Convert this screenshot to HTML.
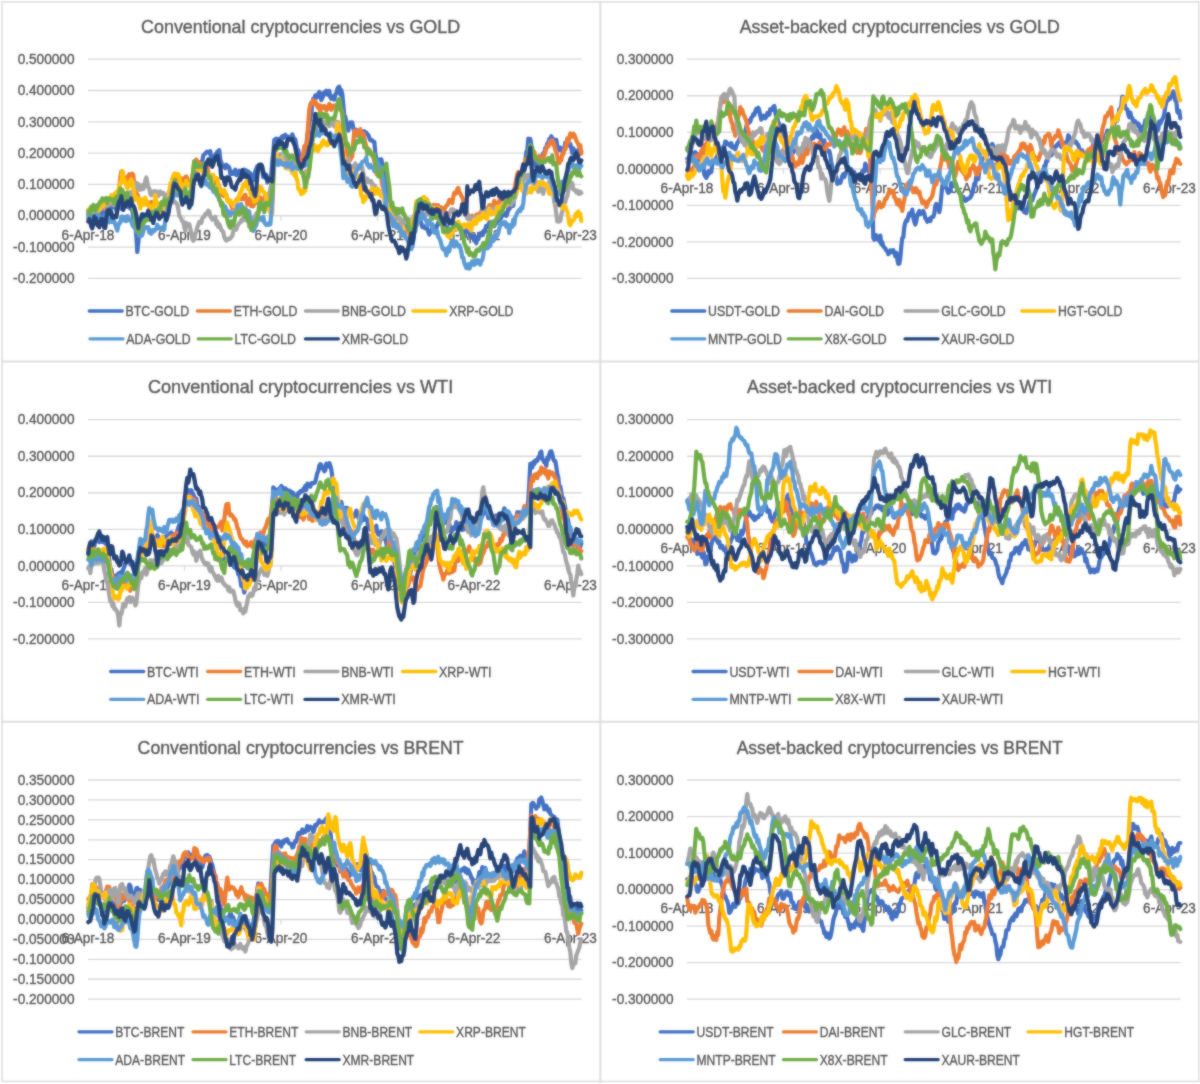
<!DOCTYPE html><html><head><meta charset="utf-8"><style>html,body{margin:0;padding:0;background:#fff;overflow:hidden;}svg{display:block;}text{font-family:"Liberation Sans", sans-serif;fill:#595959;stroke:#5f5f5f;stroke-width:0.4px;}</style></head><body>
<svg width="1200" height="1084" viewBox="0 0 1200 1084">
<defs><filter id="bl" filterUnits="userSpaceOnUse" x="0" y="0" width="1200" height="1084"><feGaussianBlur in="SourceGraphic" stdDeviation="0.9" result="b"/><feComposite in="SourceGraphic" in2="b" operator="arithmetic" k1="0" k2="0.5" k3="0.5" k4="0"/></filter></defs>
<rect width="1200" height="1084" fill="#fff"/>
<g filter="url(#bl)">
<text x="300.6" y="32.9" font-size="17.8" text-anchor="middle" textLength="319" lengthAdjust="spacingAndGlyphs">Conventional cryptocurrencies vs GOLD</text>
<line x1="88" x2="581.5" y1="59.2" y2="59.2" stroke="#d9d9d9" stroke-width="1.3"/>
<text x="74.5" y="63.9" font-size="14.2" textLength="56.86" lengthAdjust="spacingAndGlyphs" text-anchor="end">0.500000</text>
<line x1="88" x2="581.5" y1="90.51" y2="90.51" stroke="#d9d9d9" stroke-width="1.3"/>
<text x="74.5" y="95.21" font-size="14.2" textLength="56.86" lengthAdjust="spacingAndGlyphs" text-anchor="end">0.400000</text>
<line x1="88" x2="581.5" y1="121.83" y2="121.83" stroke="#d9d9d9" stroke-width="1.3"/>
<text x="74.5" y="126.53" font-size="14.2" textLength="56.86" lengthAdjust="spacingAndGlyphs" text-anchor="end">0.300000</text>
<line x1="88" x2="581.5" y1="153.14" y2="153.14" stroke="#d9d9d9" stroke-width="1.3"/>
<text x="74.5" y="157.84" font-size="14.2" textLength="56.86" lengthAdjust="spacingAndGlyphs" text-anchor="end">0.200000</text>
<line x1="88" x2="581.5" y1="184.46" y2="184.46" stroke="#d9d9d9" stroke-width="1.3"/>
<text x="74.5" y="189.16" font-size="14.2" textLength="56.86" lengthAdjust="spacingAndGlyphs" text-anchor="end">0.100000</text>
<line x1="88" x2="581.5" y1="215.77" y2="215.77" stroke="#d9d9d9" stroke-width="1.3"/>
<text x="74.5" y="220.47" font-size="14.2" textLength="56.86" lengthAdjust="spacingAndGlyphs" text-anchor="end">0.000000</text>
<line x1="88" x2="581.5" y1="247.09" y2="247.09" stroke="#d9d9d9" stroke-width="1.3"/>
<text x="74.5" y="251.79" font-size="14.2" textLength="61.4" lengthAdjust="spacingAndGlyphs" text-anchor="end">-0.100000</text>
<line x1="88" x2="581.5" y1="278.4" y2="278.4" stroke="#d9d9d9" stroke-width="1.3"/>
<text x="74.5" y="283.1" font-size="14.2" textLength="61.4" lengthAdjust="spacingAndGlyphs" text-anchor="end">-0.200000</text>
<line x1="88" x2="88" y1="215.77" y2="220.77" stroke="#d9d9d9" stroke-width="1.3"/>
<text x="88" y="239.57" font-size="14.2" textLength="52.76" lengthAdjust="spacingAndGlyphs" text-anchor="middle">6-Apr-18</text>
<line x1="184.5" x2="184.5" y1="215.77" y2="220.77" stroke="#d9d9d9" stroke-width="1.3"/>
<text x="184.5" y="239.57" font-size="14.2" textLength="52.76" lengthAdjust="spacingAndGlyphs" text-anchor="middle">6-Apr-19</text>
<line x1="281" x2="281" y1="215.77" y2="220.77" stroke="#d9d9d9" stroke-width="1.3"/>
<text x="281" y="239.57" font-size="14.2" textLength="52.76" lengthAdjust="spacingAndGlyphs" text-anchor="middle">6-Apr-20</text>
<line x1="377.5" x2="377.5" y1="215.77" y2="220.77" stroke="#d9d9d9" stroke-width="1.3"/>
<text x="377.5" y="239.57" font-size="14.2" textLength="52.76" lengthAdjust="spacingAndGlyphs" text-anchor="middle">6-Apr-21</text>
<line x1="474" x2="474" y1="215.77" y2="220.77" stroke="#d9d9d9" stroke-width="1.3"/>
<text x="474" y="239.57" font-size="14.2" textLength="52.76" lengthAdjust="spacingAndGlyphs" text-anchor="middle">6-Apr-22</text>
<line x1="570.5" x2="570.5" y1="215.77" y2="220.77" stroke="#d9d9d9" stroke-width="1.3"/>
<text x="570.5" y="239.57" font-size="14.2" textLength="52.76" lengthAdjust="spacingAndGlyphs" text-anchor="middle">6-Apr-23</text>
<path d="M88.3 218.1 L89.3 213.1 L90.3 213.8 L91.3 215.8 L92.3 212.9 L93.3 214.3 L94.3 214.7 L95.3 212.4 L96.3 210.8 L97.3 213.5 L98.3 215.1 L99.3 211.4 L100.3 211.3 L101.3 215.1 L102.3 210.5 L103.3 209.8 L104.3 215.5 L105.3 207.4 L106.3 211.2 L107.3 205.3 L108.3 207.3 L109.3 211.6 L110.3 211.0 L111.3 206.2 L112.3 206.2 L113.3 207.0 L114.3 203.9 L115.3 207.1 L116.3 210.5 L117.3 203.0 L118.3 200.6 L119.3 205.2 L120.3 204.8 L121.3 208.8 L122.3 205.0 L123.3 204.9 L124.3 204.6 L125.3 202.9 L126.3 206.2 L127.3 202.3 L128.3 207.2 L129.3 205.3 L130.3 208.6 L131.3 208.8 L132.3 210.2 L133.3 218.3 L134.3 218.4 L135.3 226.6 L136.3 235.8 L137.3 252.0 L138.3 242.7 L139.3 231.3 L140.3 226.6 L141.3 224.5 L142.3 217.2 L143.3 219.8 L144.3 221.0 L145.3 219.8 L146.3 216.7 L147.3 214.0 L148.3 216.7 L149.3 212.9 L150.3 217.2 L151.3 213.5 L152.3 211.9 L153.3 212.5 L154.3 212.0 L155.3 212.5 L156.3 212.2 L157.3 212.9 L158.3 214.3 L159.3 215.2 L160.3 211.7 L161.3 211.6 L162.3 212.7 L163.3 211.8 L164.3 209.5 L165.3 202.5 L166.3 207.5 L167.3 200.3 L168.3 203.0 L169.3 194.3 L170.3 192.0 L171.3 191.1 L172.3 189.9 L173.3 187.4 L174.3 189.1 L175.3 182.8 L176.3 187.0 L177.3 182.2 L178.3 185.8 L179.3 184.4 L180.3 183.6 L181.3 188.8 L182.3 194.5 L183.3 191.7 L184.3 193.2 L185.3 193.8 L186.3 194.2 L187.3 196.0 L188.3 196.4 L189.3 196.1 L190.3 194.4 L191.3 193.2 L192.3 186.4 L193.3 181.3 L194.3 176.0 L195.3 170.8 L196.3 170.8 L197.3 167.7 L198.3 168.5 L199.3 167.4 L200.3 165.5 L201.3 161.6 L202.3 160.9 L203.3 155.4 L204.3 154.3 L205.3 153.6 L206.3 152.1 L207.3 151.7 L208.3 152.0 L209.3 153.2 L210.3 151.2 L211.3 160.3 L212.3 158.2 L213.3 158.6 L214.3 158.0 L215.3 154.5 L216.3 153.7 L217.3 151.8 L218.3 152.9 L219.3 150.2 L220.3 160.0 L221.3 162.2 L222.3 166.5 L223.3 166.3 L224.3 165.8 L225.3 168.2 L226.3 164.7 L227.3 166.8 L228.3 166.3 L229.3 167.7 L230.3 173.8 L231.3 174.0 L232.3 171.8 L233.3 173.7 L234.3 172.5 L235.3 169.7 L236.3 175.1 L237.3 174.3 L238.3 172.8 L239.3 170.8 L240.3 178.2 L241.3 175.6 L242.3 174.0 L243.3 169.8 L244.3 169.6 L245.3 173.3 L246.3 170.5 L247.3 172.8 L248.3 171.4 L249.3 174.6 L250.3 173.2 L251.3 175.2 L252.3 176.6 L253.3 180.1 L254.3 176.3 L255.3 171.1 L256.3 168.9 L257.3 166.2 L258.3 165.6 L259.3 164.8 L260.3 169.2 L261.3 169.4 L262.3 170.3 L263.3 177.1 L264.3 173.4 L265.3 177.3 L266.3 174.8 L267.3 182.4 L268.3 177.7 L269.3 177.5 L270.3 179.6 L271.3 174.5 L272.3 161.1 L273.3 152.6 L274.3 140.1 L275.3 139.1 L276.3 138.6 L277.3 141.0 L278.3 139.0 L279.3 138.9 L280.3 142.1 L281.3 137.6 L282.3 136.3 L283.3 138.2 L284.3 135.8 L285.3 134.7 L286.3 136.8 L287.3 137.3 L288.3 136.8 L289.3 138.7 L290.3 139.2 L291.3 139.6 L292.3 134.3 L293.3 136.9 L294.3 140.6 L295.3 139.6 L296.3 145.2 L297.3 150.8 L298.3 150.1 L299.3 156.9 L300.3 161.9 L301.3 157.3 L302.3 160.1 L303.3 162.7 L304.3 152.7 L305.3 149.5 L306.3 146.7 L307.3 134.7 L308.3 130.4 L309.3 127.8 L310.3 118.5 L311.3 112.9 L312.3 104.4 L313.3 98.5 L314.3 99.2 L315.3 95.4 L316.3 97.7 L317.3 97.3 L318.3 93.6 L319.3 91.9 L320.3 93.6 L321.3 100.2 L322.3 97.9 L323.3 96.1 L324.3 92.1 L325.3 92.2 L326.3 90.7 L327.3 94.4 L328.3 94.7 L329.3 90.8 L330.3 97.2 L331.3 98.8 L332.3 96.5 L333.3 96.4 L334.3 99.6 L335.3 94.6 L336.3 92.9 L337.3 89.2 L338.3 87.1 L339.3 86.7 L340.3 94.6 L341.3 90.0 L342.3 94.1 L343.3 104.4 L344.3 115.6 L345.3 116.9 L346.3 122.0 L347.3 125.2 L348.3 130.6 L349.3 124.9 L350.3 122.5 L351.3 124.1 L352.3 122.5 L353.3 128.4 L354.3 131.1 L355.3 130.9 L356.3 129.8 L357.3 135.7 L358.3 133.6 L359.3 131.7 L360.3 131.9 L361.3 131.1 L362.3 133.6 L363.3 135.2 L364.3 131.2 L365.3 134.6 L366.3 132.4 L367.3 134.5 L368.3 134.9 L369.3 137.9 L370.3 140.3 L371.3 140.5 L372.3 140.3 L373.3 141.8 L374.3 141.8 L375.3 152.3 L376.3 158.7 L377.3 161.1 L378.3 162.7 L379.3 159.6 L380.3 164.7 L381.3 159.2 L382.3 163.9 L383.3 170.1 L384.3 172.4 L385.3 175.4 L386.3 180.9 L387.3 194.7 L388.3 205.6 L389.3 205.1 L390.3 209.9 L391.3 214.0 L392.3 221.0 L393.3 218.0 L394.3 219.0 L395.3 218.7 L396.3 218.3 L397.3 218.4 L398.3 222.2 L399.3 221.4 L400.3 219.9 L401.3 222.6 L402.3 221.3 L403.3 225.1 L404.3 225.2 L405.3 225.2 L406.3 226.2 L407.3 238.1 L408.3 237.5 L409.3 243.3 L410.3 240.2 L411.3 244.3 L412.3 246.6 L413.3 239.7 L414.3 231.5 L415.3 223.2 L416.3 219.2 L417.3 221.9 L418.3 221.6 L419.3 220.2 L420.3 220.4 L421.3 223.3 L422.3 226.8 L423.3 226.7 L424.3 227.9 L425.3 228.3 L426.3 225.3 L427.3 228.7 L428.3 231.8 L429.3 234.5 L430.3 231.7 L431.3 231.0 L432.3 228.4 L433.3 231.5 L434.3 230.9 L435.3 226.5 L436.3 228.4 L437.3 225.2 L438.3 222.4 L439.3 223.8 L440.3 222.3 L441.3 222.0 L442.3 223.0 L443.3 224.2 L444.3 223.3 L445.3 231.5 L446.3 231.8 L447.3 227.4 L448.3 231.3 L449.3 231.7 L450.3 231.4 L451.3 235.2 L452.3 233.4 L453.3 229.4 L454.3 230.2 L455.3 226.3 L456.3 229.5 L457.3 228.5 L458.3 227.6 L459.3 228.1 L460.3 230.0 L461.3 232.1 L462.3 237.1 L463.3 233.7 L464.3 230.9 L465.3 231.0 L466.3 230.4 L467.3 230.0 L468.3 232.5 L469.3 232.1 L470.3 236.8 L471.3 236.1 L472.3 235.5 L473.3 237.3 L474.3 240.5 L475.3 236.7 L476.3 243.3 L477.3 239.2 L478.3 239.3 L479.3 236.4 L480.3 233.3 L481.3 234.2 L482.3 235.1 L483.3 231.1 L484.3 232.4 L485.3 228.9 L486.3 225.7 L487.3 225.4 L488.3 227.1 L489.3 222.1 L490.3 225.4 L491.3 224.0 L492.3 221.8 L493.3 222.6 L494.3 226.2 L495.3 223.9 L496.3 223.3 L497.3 220.4 L498.3 217.0 L499.3 220.5 L500.3 220.2 L501.3 217.2 L502.3 215.6 L503.3 215.2 L504.3 214.3 L505.3 213.2 L506.3 215.9 L507.3 214.0 L508.3 207.2 L509.3 209.1 L510.3 206.6 L511.3 202.1 L512.3 206.1 L513.3 205.7 L514.3 196.0 L515.3 196.7 L516.3 191.7 L517.3 188.0 L518.3 181.9 L519.3 178.7 L520.3 176.9 L521.3 172.9 L522.3 169.4 L523.3 167.2 L524.3 164.1 L525.3 160.7 L526.3 152.0 L527.3 150.3 L528.3 138.6 L529.3 141.6 L530.3 139.0 L531.3 145.1 L532.3 151.4 L533.3 155.1 L534.3 162.1 L535.3 165.8 L536.3 162.4 L537.3 161.5 L538.3 166.8 L539.3 167.0 L540.3 164.5 L541.3 156.0 L542.3 159.5 L543.3 153.2 L544.3 153.5 L545.3 147.9 L546.3 147.6 L547.3 143.5 L548.3 142.9 L549.3 139.0 L550.3 139.8 L551.3 136.2 L552.3 139.2 L553.3 139.0 L554.3 145.2 L555.3 143.9 L556.3 139.8 L557.3 146.0 L558.3 150.5 L559.3 147.5 L560.3 147.6 L561.3 148.8 L562.3 151.4 L563.3 149.4 L564.3 148.6 L565.3 142.7 L566.3 143.1 L567.3 141.2 L568.3 142.9 L569.3 145.7 L570.3 143.8 L571.3 148.5 L572.3 153.3 L573.3 148.3 L574.3 150.5 L575.3 152.7 L576.3 153.5 L577.3 150.3 L578.3 155.7 L579.3 153.8 L580.3 152.4 L581.3 151.4" fill="none" stroke="#4472C4" stroke-width="4.2" stroke-linejoin="round" stroke-linecap="round"/>
<path d="M88.3 214.4 L89.3 214.7 L90.3 211.5 L91.3 209.2 L92.3 208.1 L93.3 210.0 L94.3 207.8 L95.3 206.4 L96.3 209.4 L97.3 209.0 L98.3 209.3 L99.3 205.7 L100.3 206.7 L101.3 206.1 L102.3 202.5 L103.3 205.9 L104.3 205.2 L105.3 209.0 L106.3 204.2 L107.3 202.4 L108.3 204.2 L109.3 201.3 L110.3 201.6 L111.3 198.0 L112.3 198.0 L113.3 198.8 L114.3 197.6 L115.3 195.8 L116.3 192.7 L117.3 195.1 L118.3 193.3 L119.3 186.6 L120.3 177.7 L121.3 171.4 L122.3 171.1 L123.3 176.1 L124.3 181.8 L125.3 179.8 L126.3 178.9 L127.3 176.8 L128.3 180.0 L129.3 174.2 L130.3 175.4 L131.3 175.4 L132.3 173.6 L133.3 175.0 L134.3 186.0 L135.3 189.6 L136.3 196.2 L137.3 194.1 L138.3 197.5 L139.3 203.2 L140.3 206.0 L141.3 200.4 L142.3 199.8 L143.3 202.4 L144.3 204.3 L145.3 203.5 L146.3 204.0 L147.3 201.6 L148.3 205.0 L149.3 206.7 L150.3 204.0 L151.3 201.9 L152.3 203.1 L153.3 206.4 L154.3 201.5 L155.3 204.5 L156.3 202.9 L157.3 204.5 L158.3 204.6 L159.3 205.8 L160.3 209.7 L161.3 208.4 L162.3 210.8 L163.3 208.5 L164.3 208.2 L165.3 208.1 L166.3 198.2 L167.3 200.1 L168.3 197.7 L169.3 191.5 L170.3 191.5 L171.3 186.3 L172.3 179.1 L173.3 180.4 L174.3 176.3 L175.3 174.1 L176.3 174.6 L177.3 179.7 L178.3 179.5 L179.3 181.1 L180.3 183.6 L181.3 178.4 L182.3 183.7 L183.3 178.8 L184.3 180.8 L185.3 177.2 L186.3 176.5 L187.3 178.3 L188.3 185.2 L189.3 185.2 L190.3 184.3 L191.3 186.3 L192.3 176.5 L193.3 170.7 L194.3 161.8 L195.3 162.7 L196.3 159.4 L197.3 161.9 L198.3 161.8 L199.3 162.8 L200.3 166.5 L201.3 165.5 L202.3 166.4 L203.3 167.8 L204.3 167.8 L205.3 164.0 L206.3 169.5 L207.3 167.0 L208.3 172.1 L209.3 178.3 L210.3 175.3 L211.3 175.5 L212.3 177.6 L213.3 178.4 L214.3 179.4 L215.3 178.7 L216.3 183.4 L217.3 184.4 L218.3 183.8 L219.3 187.1 L220.3 190.5 L221.3 193.8 L222.3 195.0 L223.3 196.0 L224.3 194.6 L225.3 193.2 L226.3 194.7 L227.3 199.4 L228.3 201.6 L229.3 201.9 L230.3 202.2 L231.3 205.5 L232.3 208.6 L233.3 208.2 L234.3 203.9 L235.3 204.8 L236.3 200.4 L237.3 198.8 L238.3 199.6 L239.3 197.6 L240.3 198.2 L241.3 199.0 L242.3 198.2 L243.3 199.1 L244.3 195.3 L245.3 194.6 L246.3 198.8 L247.3 204.7 L248.3 201.4 L249.3 198.7 L250.3 202.3 L251.3 206.1 L252.3 202.2 L253.3 206.4 L254.3 201.8 L255.3 203.5 L256.3 200.8 L257.3 197.8 L258.3 201.0 L259.3 197.3 L260.3 197.3 L261.3 203.5 L262.3 198.9 L263.3 203.9 L264.3 198.8 L265.3 195.3 L266.3 196.2 L267.3 195.7 L268.3 194.8 L269.3 193.0 L270.3 194.6 L271.3 184.1 L272.3 177.8 L273.3 169.4 L274.3 164.5 L275.3 156.9 L276.3 159.6 L277.3 158.2 L278.3 159.1 L279.3 161.9 L280.3 161.7 L281.3 163.8 L282.3 159.8 L283.3 161.2 L284.3 163.2 L285.3 162.9 L286.3 160.2 L287.3 163.0 L288.3 159.0 L289.3 164.6 L290.3 162.2 L291.3 161.9 L292.3 163.1 L293.3 164.9 L294.3 167.4 L295.3 164.1 L296.3 163.8 L297.3 166.2 L298.3 162.2 L299.3 158.6 L300.3 162.1 L301.3 158.5 L302.3 159.9 L303.3 153.7 L304.3 146.0 L305.3 148.9 L306.3 145.9 L307.3 137.4 L308.3 122.8 L309.3 109.4 L310.3 104.5 L311.3 102.5 L312.3 103.2 L313.3 100.3 L314.3 104.0 L315.3 101.6 L316.3 103.1 L317.3 106.5 L318.3 108.2 L319.3 105.3 L320.3 111.3 L321.3 105.9 L322.3 107.9 L323.3 107.9 L324.3 106.1 L325.3 106.4 L326.3 110.3 L327.3 109.2 L328.3 108.6 L329.3 103.9 L330.3 105.6 L331.3 109.8 L332.3 108.2 L333.3 105.6 L334.3 106.0 L335.3 105.6 L336.3 106.4 L337.3 104.6 L338.3 106.5 L339.3 104.8 L340.3 110.2 L341.3 109.4 L342.3 113.0 L343.3 129.3 L344.3 138.3 L345.3 149.5 L346.3 152.6 L347.3 153.7 L348.3 159.2 L349.3 160.8 L350.3 159.9 L351.3 157.6 L352.3 156.2 L353.3 142.0 L354.3 130.9 L355.3 131.1 L356.3 130.9 L357.3 134.7 L358.3 135.7 L359.3 135.4 L360.3 129.0 L361.3 136.7 L362.3 135.5 L363.3 133.7 L364.3 137.3 L365.3 142.8 L366.3 146.2 L367.3 148.5 L368.3 148.9 L369.3 150.1 L370.3 153.2 L371.3 152.9 L372.3 153.1 L373.3 157.0 L374.3 161.5 L375.3 166.1 L376.3 173.8 L377.3 168.0 L378.3 172.1 L379.3 172.2 L380.3 174.0 L381.3 179.3 L382.3 185.3 L383.3 188.4 L384.3 193.3 L385.3 197.5 L386.3 205.3 L387.3 213.7 L388.3 216.1 L389.3 220.0 L390.3 220.7 L391.3 220.5 L392.3 222.4 L393.3 220.6 L394.3 219.5 L395.3 219.3 L396.3 224.3 L397.3 223.0 L398.3 223.9 L399.3 227.2 L400.3 225.1 L401.3 231.1 L402.3 230.3 L403.3 228.6 L404.3 229.1 L405.3 233.8 L406.3 231.4 L407.3 234.1 L408.3 237.5 L409.3 236.1 L410.3 232.4 L411.3 229.8 L412.3 224.7 L413.3 221.0 L414.3 220.0 L415.3 215.0 L416.3 208.6 L417.3 211.9 L418.3 203.5 L419.3 206.2 L420.3 206.7 L421.3 206.8 L422.3 204.6 L423.3 202.9 L424.3 204.3 L425.3 202.7 L426.3 205.4 L427.3 200.0 L428.3 207.7 L429.3 207.3 L430.3 210.5 L431.3 209.4 L432.3 208.3 L433.3 205.0 L434.3 205.9 L435.3 204.9 L436.3 206.5 L437.3 206.3 L438.3 205.2 L439.3 212.4 L440.3 211.9 L441.3 207.3 L442.3 214.4 L443.3 210.1 L444.3 210.1 L445.3 207.6 L446.3 205.7 L447.3 205.3 L448.3 203.3 L449.3 199.8 L450.3 201.6 L451.3 201.7 L452.3 203.1 L453.3 196.8 L454.3 192.8 L455.3 192.5 L456.3 193.4 L457.3 189.1 L458.3 187.8 L459.3 192.3 L460.3 193.4 L461.3 195.8 L462.3 197.3 L463.3 200.7 L464.3 205.7 L465.3 209.6 L466.3 211.2 L467.3 214.8 L468.3 217.2 L469.3 219.2 L470.3 219.3 L471.3 216.5 L472.3 215.7 L473.3 219.6 L474.3 218.2 L475.3 217.8 L476.3 214.6 L477.3 215.8 L478.3 214.6 L479.3 213.5 L480.3 213.5 L481.3 211.2 L482.3 213.8 L483.3 215.6 L484.3 210.9 L485.3 211.3 L486.3 207.9 L487.3 210.4 L488.3 212.2 L489.3 205.0 L490.3 205.5 L491.3 208.1 L492.3 206.0 L493.3 205.3 L494.3 200.7 L495.3 204.2 L496.3 206.5 L497.3 206.8 L498.3 204.3 L499.3 200.6 L500.3 199.1 L501.3 196.5 L502.3 197.9 L503.3 202.6 L504.3 200.5 L505.3 197.2 L506.3 201.5 L507.3 194.8 L508.3 199.4 L509.3 195.6 L510.3 195.7 L511.3 195.5 L512.3 193.7 L513.3 194.8 L514.3 189.5 L515.3 184.6 L516.3 179.8 L517.3 174.0 L518.3 172.0 L519.3 174.6 L520.3 173.7 L521.3 173.9 L522.3 175.8 L523.3 169.6 L524.3 166.1 L525.3 159.5 L526.3 159.0 L527.3 162.3 L528.3 157.4 L529.3 154.0 L530.3 155.2 L531.3 151.2 L532.3 153.4 L533.3 153.1 L534.3 151.8 L535.3 158.2 L536.3 159.7 L537.3 157.9 L538.3 159.0 L539.3 155.8 L540.3 158.1 L541.3 158.5 L542.3 159.7 L543.3 158.7 L544.3 155.2 L545.3 152.3 L546.3 148.7 L547.3 146.3 L548.3 146.3 L549.3 144.0 L550.3 141.5 L551.3 143.5 L552.3 140.4 L553.3 142.3 L554.3 145.7 L555.3 150.2 L556.3 152.1 L557.3 155.8 L558.3 162.6 L559.3 163.1 L560.3 160.3 L561.3 160.1 L562.3 154.1 L563.3 154.3 L564.3 149.2 L565.3 149.5 L566.3 145.3 L567.3 138.4 L568.3 142.2 L569.3 138.1 L570.3 133.5 L571.3 136.8 L572.3 136.7 L573.3 133.6 L574.3 134.8 L575.3 137.3 L576.3 140.7 L577.3 142.3 L578.3 144.4 L579.3 147.3 L580.3 145.2 L581.3 153.6" fill="none" stroke="#ED7D31" stroke-width="4.2" stroke-linejoin="round" stroke-linecap="round"/>
<path d="M88.3 218.8 L89.3 212.4 L90.3 213.5 L91.3 212.5 L92.3 213.4 L93.3 208.2 L94.3 209.3 L95.3 208.2 L96.3 206.9 L97.3 206.9 L98.3 207.3 L99.3 207.4 L100.3 205.8 L101.3 208.0 L102.3 205.9 L103.3 199.7 L104.3 208.0 L105.3 205.1 L106.3 203.7 L107.3 205.3 L108.3 205.1 L109.3 204.3 L110.3 202.0 L111.3 203.6 L112.3 199.7 L113.3 205.2 L114.3 199.7 L115.3 201.1 L116.3 201.3 L117.3 201.4 L118.3 200.1 L119.3 201.3 L120.3 192.6 L121.3 198.7 L122.3 199.0 L123.3 198.3 L124.3 202.2 L125.3 197.1 L126.3 198.3 L127.3 194.1 L128.3 198.4 L129.3 194.6 L130.3 192.3 L131.3 198.6 L132.3 193.9 L133.3 190.2 L134.3 188.4 L135.3 183.0 L136.3 182.8 L137.3 187.5 L138.3 183.9 L139.3 190.0 L140.3 187.7 L141.3 189.4 L142.3 185.1 L143.3 189.0 L144.3 186.0 L145.3 180.6 L146.3 177.5 L147.3 182.5 L148.3 187.3 L149.3 188.5 L150.3 194.0 L151.3 195.4 L152.3 192.9 L153.3 191.5 L154.3 193.6 L155.3 191.2 L156.3 193.4 L157.3 191.6 L158.3 196.0 L159.3 192.9 L160.3 191.4 L161.3 194.1 L162.3 193.3 L163.3 193.0 L164.3 195.2 L165.3 198.6 L166.3 194.6 L167.3 200.5 L168.3 202.7 L169.3 204.2 L170.3 205.2 L171.3 199.9 L172.3 202.7 L173.3 200.2 L174.3 201.5 L175.3 202.2 L176.3 203.2 L177.3 204.7 L178.3 209.3 L179.3 215.8 L180.3 216.6 L181.3 219.0 L182.3 221.3 L183.3 222.0 L184.3 227.1 L185.3 230.8 L186.3 222.9 L187.3 225.8 L188.3 225.6 L189.3 224.2 L190.3 228.6 L191.3 233.5 L192.3 238.9 L193.3 240.7 L194.3 239.4 L195.3 233.7 L196.3 231.5 L197.3 227.1 L198.3 224.9 L199.3 221.8 L200.3 222.5 L201.3 222.9 L202.3 218.2 L203.3 217.2 L204.3 216.6 L205.3 213.9 L206.3 214.2 L207.3 212.8 L208.3 210.7 L209.3 211.6 L210.3 216.4 L211.3 217.5 L212.3 219.6 L213.3 218.9 L214.3 219.6 L215.3 216.8 L216.3 224.2 L217.3 221.5 L218.3 226.9 L219.3 224.3 L220.3 226.6 L221.3 230.0 L222.3 230.7 L223.3 232.0 L224.3 237.3 L225.3 239.2 L226.3 240.6 L227.3 239.7 L228.3 238.6 L229.3 239.2 L230.3 238.4 L231.3 236.8 L232.3 235.9 L233.3 231.4 L234.3 228.4 L235.3 227.1 L236.3 229.6 L237.3 226.2 L238.3 224.6 L239.3 223.2 L240.3 222.4 L241.3 220.0 L242.3 220.7 L243.3 219.1 L244.3 210.4 L245.3 214.3 L246.3 220.3 L247.3 214.4 L248.3 220.6 L249.3 226.8 L250.3 226.7 L251.3 227.3 L252.3 220.0 L253.3 217.6 L254.3 218.3 L255.3 215.8 L256.3 213.5 L257.3 215.4 L258.3 213.3 L259.3 210.7 L260.3 207.8 L261.3 207.1 L262.3 204.7 L263.3 202.7 L264.3 204.5 L265.3 203.8 L266.3 202.5 L267.3 203.0 L268.3 198.7 L269.3 196.2 L270.3 188.4 L271.3 185.0 L272.3 176.5 L273.3 172.5 L274.3 164.5 L275.3 159.5 L276.3 156.8 L277.3 159.1 L278.3 157.0 L279.3 156.3 L280.3 154.2 L281.3 158.1 L282.3 158.0 L283.3 158.9 L284.3 159.3 L285.3 157.2 L286.3 154.6 L287.3 159.0 L288.3 159.1 L289.3 159.8 L290.3 163.4 L291.3 162.0 L292.3 165.7 L293.3 163.7 L294.3 165.0 L295.3 165.2 L296.3 166.3 L297.3 162.6 L298.3 168.2 L299.3 167.9 L300.3 166.8 L301.3 171.2 L302.3 172.3 L303.3 175.6 L304.3 175.8 L305.3 175.0 L306.3 170.7 L307.3 177.2 L308.3 177.4 L309.3 167.9 L310.3 155.1 L311.3 144.6 L312.3 128.4 L313.3 122.3 L314.3 121.5 L315.3 119.5 L316.3 122.5 L317.3 123.1 L318.3 126.3 L319.3 125.3 L320.3 120.1 L321.3 119.2 L322.3 123.3 L323.3 123.8 L324.3 122.6 L325.3 121.7 L326.3 124.5 L327.3 122.5 L328.3 123.0 L329.3 126.1 L330.3 124.9 L331.3 122.4 L332.3 121.1 L333.3 122.7 L334.3 126.6 L335.3 122.3 L336.3 126.6 L337.3 121.7 L338.3 122.5 L339.3 128.4 L340.3 134.0 L341.3 144.0 L342.3 149.7 L343.3 161.8 L344.3 163.7 L345.3 160.6 L346.3 162.5 L347.3 161.9 L348.3 158.6 L349.3 169.0 L350.3 166.0 L351.3 166.6 L352.3 166.2 L353.3 166.2 L354.3 171.2 L355.3 163.4 L356.3 166.2 L357.3 166.3 L358.3 166.8 L359.3 168.7 L360.3 165.9 L361.3 165.2 L362.3 168.0 L363.3 173.8 L364.3 177.7 L365.3 180.0 L366.3 182.4 L367.3 178.6 L368.3 181.8 L369.3 182.0 L370.3 181.1 L371.3 181.2 L372.3 186.0 L373.3 184.5 L374.3 186.5 L375.3 186.2 L376.3 192.7 L377.3 190.5 L378.3 190.3 L379.3 191.7 L380.3 192.7 L381.3 194.4 L382.3 191.7 L383.3 193.8 L384.3 200.1 L385.3 204.3 L386.3 202.7 L387.3 207.3 L388.3 208.7 L389.3 207.7 L390.3 213.2 L391.3 213.0 L392.3 217.9 L393.3 217.1 L394.3 218.2 L395.3 215.7 L396.3 219.3 L397.3 215.7 L398.3 220.3 L399.3 223.3 L400.3 218.2 L401.3 222.0 L402.3 223.5 L403.3 220.5 L404.3 223.4 L405.3 222.0 L406.3 221.1 L407.3 218.2 L408.3 219.9 L409.3 219.2 L410.3 227.3 L411.3 222.9 L412.3 220.3 L413.3 216.4 L414.3 221.8 L415.3 217.7 L416.3 224.1 L417.3 225.1 L418.3 220.7 L419.3 216.2 L420.3 214.7 L421.3 211.0 L422.3 214.9 L423.3 217.4 L424.3 216.0 L425.3 216.2 L426.3 212.6 L427.3 214.3 L428.3 211.7 L429.3 212.6 L430.3 214.8 L431.3 218.3 L432.3 213.1 L433.3 212.1 L434.3 207.6 L435.3 211.5 L436.3 209.7 L437.3 208.4 L438.3 208.1 L439.3 212.0 L440.3 211.7 L441.3 214.3 L442.3 213.1 L443.3 214.0 L444.3 217.6 L445.3 217.0 L446.3 217.3 L447.3 219.3 L448.3 216.1 L449.3 212.7 L450.3 212.1 L451.3 209.4 L452.3 211.9 L453.3 209.4 L454.3 210.9 L455.3 213.0 L456.3 211.0 L457.3 214.0 L458.3 215.1 L459.3 211.5 L460.3 211.7 L461.3 209.9 L462.3 209.1 L463.3 211.4 L464.3 209.1 L465.3 215.2 L466.3 214.1 L467.3 218.8 L468.3 214.8 L469.3 218.1 L470.3 219.4 L471.3 218.8 L472.3 220.4 L473.3 218.6 L474.3 217.8 L475.3 216.5 L476.3 217.7 L477.3 216.8 L478.3 218.5 L479.3 217.0 L480.3 215.7 L481.3 215.0 L482.3 212.0 L483.3 213.9 L484.3 214.4 L485.3 209.4 L486.3 209.8 L487.3 210.7 L488.3 208.0 L489.3 209.6 L490.3 208.5 L491.3 214.5 L492.3 212.8 L493.3 212.2 L494.3 208.2 L495.3 210.6 L496.3 209.0 L497.3 209.4 L498.3 207.1 L499.3 207.9 L500.3 205.6 L501.3 207.2 L502.3 210.0 L503.3 203.2 L504.3 202.1 L505.3 205.5 L506.3 206.0 L507.3 203.1 L508.3 204.4 L509.3 203.7 L510.3 203.5 L511.3 204.8 L512.3 200.1 L513.3 202.0 L514.3 199.2 L515.3 194.3 L516.3 193.6 L517.3 187.0 L518.3 183.6 L519.3 188.0 L520.3 182.9 L521.3 187.4 L522.3 185.6 L523.3 181.2 L524.3 179.1 L525.3 175.1 L526.3 178.4 L527.3 174.8 L528.3 181.4 L529.3 175.1 L530.3 178.2 L531.3 172.5 L532.3 178.8 L533.3 184.9 L534.3 183.5 L535.3 184.4 L536.3 186.5 L537.3 189.4 L538.3 191.7 L539.3 190.4 L540.3 187.2 L541.3 190.8 L542.3 191.7 L543.3 193.7 L544.3 188.5 L545.3 187.0 L546.3 184.5 L547.3 186.1 L548.3 187.5 L549.3 181.6 L550.3 186.4 L551.3 187.2 L552.3 190.7 L553.3 194.8 L554.3 202.2 L555.3 206.2 L556.3 213.7 L557.3 221.4 L558.3 220.5 L559.3 221.5 L560.3 220.8 L561.3 214.8 L562.3 211.3 L563.3 207.0 L564.3 202.9 L565.3 202.3 L566.3 197.7 L567.3 196.1 L568.3 190.3 L569.3 187.7 L570.3 181.7 L571.3 183.0 L572.3 183.1 L573.3 189.3 L574.3 189.7 L575.3 190.3 L576.3 192.4 L577.3 190.7 L578.3 193.7 L579.3 193.9 L580.3 191.6 L581.3 193.1" fill="none" stroke="#A5A5A5" stroke-width="4.2" stroke-linejoin="round" stroke-linecap="round"/>
<path d="M88.3 209.6 L89.3 212.1 L90.3 207.7 L91.3 211.3 L92.3 209.1 L93.3 208.8 L94.3 213.4 L95.3 210.2 L96.3 209.3 L97.3 210.5 L98.3 211.1 L99.3 208.3 L100.3 209.0 L101.3 205.4 L102.3 206.0 L103.3 205.5 L104.3 203.2 L105.3 202.3 L106.3 201.6 L107.3 203.8 L108.3 202.6 L109.3 200.7 L110.3 199.8 L111.3 195.2 L112.3 195.9 L113.3 195.2 L114.3 195.8 L115.3 193.1 L116.3 194.2 L117.3 191.4 L118.3 194.1 L119.3 185.9 L120.3 182.2 L121.3 182.6 L122.3 171.2 L123.3 177.3 L124.3 179.8 L125.3 181.5 L126.3 185.9 L127.3 188.1 L128.3 187.7 L129.3 183.7 L130.3 181.1 L131.3 179.5 L132.3 182.1 L133.3 188.5 L134.3 191.7 L135.3 199.9 L136.3 197.2 L137.3 199.3 L138.3 200.7 L139.3 199.3 L140.3 208.5 L141.3 199.3 L142.3 202.0 L143.3 200.8 L144.3 204.4 L145.3 197.5 L146.3 204.5 L147.3 202.6 L148.3 204.8 L149.3 205.2 L150.3 209.2 L151.3 207.0 L152.3 206.8 L153.3 205.4 L154.3 206.1 L155.3 195.0 L156.3 202.3 L157.3 204.3 L158.3 203.7 L159.3 207.6 L160.3 208.5 L161.3 212.8 L162.3 210.2 L163.3 209.1 L164.3 208.9 L165.3 209.0 L166.3 209.0 L167.3 205.5 L168.3 206.2 L169.3 193.1 L170.3 183.4 L171.3 185.0 L172.3 180.3 L173.3 176.1 L174.3 173.6 L175.3 173.7 L176.3 174.7 L177.3 176.1 L178.3 174.2 L179.3 177.1 L180.3 184.9 L181.3 185.5 L182.3 185.0 L183.3 191.1 L184.3 187.5 L185.3 183.4 L186.3 180.8 L187.3 184.2 L188.3 184.1 L189.3 185.4 L190.3 186.8 L191.3 190.1 L192.3 185.0 L193.3 173.4 L194.3 162.3 L195.3 164.9 L196.3 165.2 L197.3 168.0 L198.3 170.1 L199.3 168.5 L200.3 169.4 L201.3 170.2 L202.3 168.6 L203.3 172.9 L204.3 175.4 L205.3 173.7 L206.3 173.3 L207.3 173.9 L208.3 173.8 L209.3 174.7 L210.3 176.5 L211.3 176.6 L212.3 177.3 L213.3 175.0 L214.3 178.8 L215.3 178.6 L216.3 178.1 L217.3 178.4 L218.3 185.9 L219.3 191.7 L220.3 190.4 L221.3 190.6 L222.3 190.4 L223.3 193.0 L224.3 189.9 L225.3 195.7 L226.3 195.8 L227.3 200.7 L228.3 201.5 L229.3 202.5 L230.3 200.3 L231.3 202.2 L232.3 203.8 L233.3 206.3 L234.3 204.7 L235.3 201.6 L236.3 202.8 L237.3 203.2 L238.3 198.9 L239.3 195.0 L240.3 192.1 L241.3 191.6 L242.3 188.5 L243.3 184.4 L244.3 185.8 L245.3 183.2 L246.3 181.5 L247.3 187.0 L248.3 189.0 L249.3 188.2 L250.3 192.1 L251.3 195.5 L252.3 195.2 L253.3 198.0 L254.3 201.8 L255.3 198.8 L256.3 200.3 L257.3 198.0 L258.3 194.1 L259.3 186.7 L260.3 188.1 L261.3 186.9 L262.3 190.7 L263.3 192.0 L264.3 192.3 L265.3 194.0 L266.3 198.2 L267.3 205.2 L268.3 205.8 L269.3 211.0 L270.3 212.6 L271.3 212.3 L272.3 213.6 L273.3 184.3 L274.3 163.2 L275.3 155.1 L276.3 154.2 L277.3 161.3 L278.3 161.6 L279.3 160.0 L280.3 161.0 L281.3 158.2 L282.3 161.5 L283.3 161.8 L284.3 164.5 L285.3 168.0 L286.3 167.5 L287.3 168.6 L288.3 166.9 L289.3 167.7 L290.3 169.4 L291.3 169.2 L292.3 172.9 L293.3 169.2 L294.3 175.1 L295.3 170.1 L296.3 178.3 L297.3 179.5 L298.3 188.9 L299.3 189.2 L300.3 191.5 L301.3 194.2 L302.3 193.4 L303.3 193.1 L304.3 187.6 L305.3 190.9 L306.3 184.2 L307.3 177.1 L308.3 170.7 L309.3 167.6 L310.3 152.7 L311.3 151.6 L312.3 149.6 L313.3 150.4 L314.3 144.7 L315.3 146.2 L316.3 149.1 L317.3 150.9 L318.3 151.1 L319.3 146.0 L320.3 146.8 L321.3 145.6 L322.3 141.9 L323.3 140.5 L324.3 144.3 L325.3 143.6 L326.3 142.8 L327.3 145.5 L328.3 141.2 L329.3 143.9 L330.3 143.1 L331.3 142.9 L332.3 144.0 L333.3 143.4 L334.3 143.6 L335.3 137.6 L336.3 134.5 L337.3 123.4 L338.3 125.8 L339.3 130.2 L340.3 133.1 L341.3 140.3 L342.3 142.4 L343.3 153.7 L344.3 157.2 L345.3 164.9 L346.3 168.7 L347.3 170.9 L348.3 172.2 L349.3 173.2 L350.3 171.7 L351.3 170.4 L352.3 173.9 L353.3 174.2 L354.3 172.0 L355.3 176.8 L356.3 176.5 L357.3 175.0 L358.3 178.7 L359.3 179.5 L360.3 187.1 L361.3 195.8 L362.3 196.0 L363.3 202.2 L364.3 197.6 L365.3 199.7 L366.3 195.1 L367.3 195.3 L368.3 190.6 L369.3 191.3 L370.3 193.5 L371.3 192.8 L372.3 187.9 L373.3 193.2 L374.3 193.7 L375.3 190.5 L376.3 193.5 L377.3 188.2 L378.3 189.3 L379.3 192.7 L380.3 194.9 L381.3 196.4 L382.3 192.9 L383.3 192.7 L384.3 199.7 L385.3 199.0 L386.3 204.0 L387.3 203.4 L388.3 209.4 L389.3 210.7 L390.3 212.6 L391.3 214.7 L392.3 218.0 L393.3 220.0 L394.3 222.0 L395.3 222.5 L396.3 223.6 L397.3 222.8 L398.3 228.5 L399.3 226.5 L400.3 229.6 L401.3 230.9 L402.3 227.8 L403.3 227.1 L404.3 234.6 L405.3 233.3 L406.3 236.7 L407.3 238.7 L408.3 242.1 L409.3 237.6 L410.3 236.3 L411.3 232.4 L412.3 228.8 L413.3 218.0 L414.3 218.2 L415.3 211.8 L416.3 201.4 L417.3 202.0 L418.3 202.8 L419.3 203.2 L420.3 201.1 L421.3 203.1 L422.3 200.1 L423.3 197.2 L424.3 197.1 L425.3 199.9 L426.3 198.9 L427.3 203.2 L428.3 205.3 L429.3 206.0 L430.3 208.3 L431.3 207.4 L432.3 209.0 L433.3 209.3 L434.3 210.2 L435.3 208.1 L436.3 210.1 L437.3 209.2 L438.3 208.3 L439.3 213.7 L440.3 217.2 L441.3 218.1 L442.3 224.1 L443.3 227.1 L444.3 232.3 L445.3 232.8 L446.3 231.1 L447.3 235.7 L448.3 236.1 L449.3 237.4 L450.3 235.8 L451.3 236.0 L452.3 231.4 L453.3 231.6 L454.3 227.2 L455.3 222.9 L456.3 225.5 L457.3 228.9 L458.3 221.7 L459.3 227.1 L460.3 224.6 L461.3 225.4 L462.3 226.8 L463.3 227.3 L464.3 224.3 L465.3 225.9 L466.3 226.2 L467.3 226.7 L468.3 223.5 L469.3 228.0 L470.3 229.2 L471.3 230.4 L472.3 222.3 L473.3 224.2 L474.3 219.6 L475.3 223.4 L476.3 223.6 L477.3 219.1 L478.3 216.8 L479.3 219.4 L480.3 219.7 L481.3 216.7 L482.3 217.5 L483.3 212.8 L484.3 216.2 L485.3 217.9 L486.3 217.2 L487.3 219.2 L488.3 212.8 L489.3 208.9 L490.3 213.8 L491.3 211.6 L492.3 212.8 L493.3 213.4 L494.3 212.7 L495.3 214.0 L496.3 213.5 L497.3 206.6 L498.3 208.8 L499.3 212.4 L500.3 206.8 L501.3 208.2 L502.3 205.3 L503.3 203.7 L504.3 207.3 L505.3 206.1 L506.3 202.8 L507.3 204.2 L508.3 198.3 L509.3 197.6 L510.3 199.6 L511.3 196.6 L512.3 193.1 L513.3 195.0 L514.3 194.0 L515.3 195.0 L516.3 193.1 L517.3 188.5 L518.3 185.8 L519.3 184.5 L520.3 182.3 L521.3 187.8 L522.3 190.4 L523.3 192.0 L524.3 191.9 L525.3 191.3 L526.3 193.5 L527.3 191.1 L528.3 192.1 L529.3 188.1 L530.3 189.3 L531.3 192.4 L532.3 186.7 L533.3 184.2 L534.3 185.9 L535.3 189.0 L536.3 187.9 L537.3 183.1 L538.3 181.9 L539.3 183.1 L540.3 181.9 L541.3 184.3 L542.3 184.3 L543.3 182.3 L544.3 184.4 L545.3 185.7 L546.3 185.1 L547.3 185.1 L548.3 190.3 L549.3 193.8 L550.3 190.5 L551.3 190.7 L552.3 194.6 L553.3 195.2 L554.3 195.9 L555.3 202.4 L556.3 199.2 L557.3 200.3 L558.3 201.5 L559.3 202.1 L560.3 204.2 L561.3 206.1 L562.3 208.1 L563.3 206.6 L564.3 206.8 L565.3 206.0 L566.3 210.2 L567.3 211.5 L568.3 217.1 L569.3 223.6 L570.3 225.3 L571.3 222.9 L572.3 220.3 L573.3 220.4 L574.3 218.9 L575.3 214.8 L576.3 213.5 L577.3 215.9 L578.3 211.5 L579.3 214.2 L580.3 213.8 L581.3 221.0" fill="none" stroke="#FFC000" stroke-width="4.2" stroke-linejoin="round" stroke-linecap="round"/>
<path d="M88.3 213.9 L89.3 215.1 L90.3 213.6 L91.3 215.4 L92.3 217.0 L93.3 216.4 L94.3 219.0 L95.3 214.3 L96.3 216.1 L97.3 214.8 L98.3 214.7 L99.3 216.2 L100.3 217.3 L101.3 218.0 L102.3 218.5 L103.3 222.3 L104.3 220.0 L105.3 214.8 L106.3 218.2 L107.3 217.1 L108.3 217.9 L109.3 222.4 L110.3 220.2 L111.3 217.0 L112.3 222.0 L113.3 221.8 L114.3 221.6 L115.3 224.6 L116.3 227.9 L117.3 230.5 L118.3 225.8 L119.3 222.8 L120.3 222.6 L121.3 217.0 L122.3 216.5 L123.3 217.6 L124.3 220.5 L125.3 217.0 L126.3 221.2 L127.3 216.1 L128.3 217.1 L129.3 220.2 L130.3 219.7 L131.3 221.1 L132.3 224.6 L133.3 226.7 L134.3 226.9 L135.3 227.3 L136.3 231.9 L137.3 231.6 L138.3 231.4 L139.3 235.7 L140.3 232.8 L141.3 236.0 L142.3 235.1 L143.3 231.2 L144.3 227.2 L145.3 228.1 L146.3 227.1 L147.3 227.5 L148.3 227.2 L149.3 232.7 L150.3 229.9 L151.3 233.8 L152.3 232.0 L153.3 229.9 L154.3 231.0 L155.3 229.7 L156.3 228.7 L157.3 224.8 L158.3 226.9 L159.3 228.6 L160.3 227.6 L161.3 228.3 L162.3 229.1 L163.3 226.6 L164.3 229.3 L165.3 219.6 L166.3 217.2 L167.3 208.3 L168.3 210.5 L169.3 205.3 L170.3 204.2 L171.3 195.9 L172.3 191.5 L173.3 197.7 L174.3 192.6 L175.3 191.9 L176.3 193.8 L177.3 195.4 L178.3 193.3 L179.3 195.5 L180.3 192.3 L181.3 200.5 L182.3 198.4 L183.3 199.5 L184.3 201.5 L185.3 201.3 L186.3 201.7 L187.3 199.7 L188.3 201.6 L189.3 203.3 L190.3 204.2 L191.3 195.4 L192.3 189.1 L193.3 183.1 L194.3 177.2 L195.3 175.1 L196.3 174.9 L197.3 175.1 L198.3 179.2 L199.3 178.6 L200.3 178.7 L201.3 186.5 L202.3 182.5 L203.3 182.6 L204.3 181.7 L205.3 179.8 L206.3 184.7 L207.3 183.2 L208.3 184.0 L209.3 186.7 L210.3 187.6 L211.3 186.6 L212.3 186.7 L213.3 191.6 L214.3 190.7 L215.3 189.1 L216.3 194.4 L217.3 195.5 L218.3 197.0 L219.3 199.8 L220.3 200.5 L221.3 205.6 L222.3 203.7 L223.3 205.0 L224.3 208.3 L225.3 206.4 L226.3 210.9 L227.3 210.4 L228.3 214.3 L229.3 211.8 L230.3 215.6 L231.3 212.5 L232.3 213.1 L233.3 212.7 L234.3 212.3 L235.3 214.1 L236.3 213.0 L237.3 205.3 L238.3 204.9 L239.3 208.1 L240.3 206.6 L241.3 204.2 L242.3 209.2 L243.3 207.7 L244.3 209.5 L245.3 208.4 L246.3 209.9 L247.3 214.8 L248.3 211.0 L249.3 211.6 L250.3 222.0 L251.3 221.3 L252.3 226.4 L253.3 230.9 L254.3 229.3 L255.3 224.9 L256.3 225.5 L257.3 219.2 L258.3 219.7 L259.3 219.7 L260.3 217.9 L261.3 217.9 L262.3 220.4 L263.3 216.8 L264.3 222.2 L265.3 223.8 L266.3 225.0 L267.3 224.4 L268.3 224.8 L269.3 222.9 L270.3 224.3 L271.3 213.5 L272.3 199.7 L273.3 177.8 L274.3 161.7 L275.3 160.2 L276.3 160.5 L277.3 160.2 L278.3 165.0 L279.3 160.7 L280.3 160.4 L281.3 163.8 L282.3 164.7 L283.3 164.8 L284.3 163.1 L285.3 163.6 L286.3 166.9 L287.3 163.2 L288.3 166.2 L289.3 166.8 L290.3 165.6 L291.3 162.9 L292.3 169.8 L293.3 167.4 L294.3 167.9 L295.3 167.3 L296.3 166.7 L297.3 168.6 L298.3 168.9 L299.3 165.5 L300.3 166.0 L301.3 167.4 L302.3 165.7 L303.3 164.1 L304.3 166.0 L305.3 165.5 L306.3 165.1 L307.3 157.5 L308.3 150.5 L309.3 151.2 L310.3 145.7 L311.3 141.1 L312.3 140.3 L313.3 136.0 L314.3 133.0 L315.3 135.6 L316.3 129.0 L317.3 133.4 L318.3 134.2 L319.3 135.9 L320.3 133.1 L321.3 133.6 L322.3 131.0 L323.3 133.0 L324.3 129.1 L325.3 132.2 L326.3 133.9 L327.3 134.4 L328.3 134.1 L329.3 138.0 L330.3 133.0 L331.3 136.3 L332.3 135.5 L333.3 136.3 L334.3 136.4 L335.3 140.9 L336.3 135.4 L337.3 140.4 L338.3 141.5 L339.3 142.3 L340.3 149.0 L341.3 155.6 L342.3 164.2 L343.3 178.1 L344.3 170.9 L345.3 176.5 L346.3 175.6 L347.3 181.8 L348.3 180.7 L349.3 178.9 L350.3 182.3 L351.3 185.9 L352.3 186.8 L353.3 180.5 L354.3 177.7 L355.3 173.4 L356.3 171.4 L357.3 169.4 L358.3 168.3 L359.3 165.6 L360.3 167.3 L361.3 163.7 L362.3 161.9 L363.3 161.7 L364.3 161.0 L365.3 160.0 L366.3 157.5 L367.3 165.0 L368.3 165.1 L369.3 167.5 L370.3 164.8 L371.3 167.4 L372.3 166.9 L373.3 167.0 L374.3 171.0 L375.3 165.4 L376.3 166.4 L377.3 160.8 L378.3 164.1 L379.3 165.4 L380.3 168.1 L381.3 173.3 L382.3 174.6 L383.3 181.7 L384.3 192.5 L385.3 194.9 L386.3 210.1 L387.3 213.9 L388.3 213.0 L389.3 213.8 L390.3 215.5 L391.3 216.8 L392.3 218.9 L393.3 226.1 L394.3 220.9 L395.3 225.2 L396.3 227.5 L397.3 224.1 L398.3 226.0 L399.3 229.1 L400.3 227.5 L401.3 232.3 L402.3 235.5 L403.3 232.4 L404.3 232.4 L405.3 237.1 L406.3 238.9 L407.3 238.6 L408.3 242.2 L409.3 245.4 L410.3 249.0 L411.3 249.2 L412.3 241.3 L413.3 234.6 L414.3 229.0 L415.3 231.6 L416.3 222.9 L417.3 217.8 L418.3 222.1 L419.3 218.5 L420.3 219.3 L421.3 214.5 L422.3 213.9 L423.3 215.1 L424.3 218.6 L425.3 219.4 L426.3 220.3 L427.3 225.2 L428.3 224.7 L429.3 220.4 L430.3 224.1 L431.3 225.7 L432.3 223.9 L433.3 231.1 L434.3 230.1 L435.3 233.1 L436.3 230.9 L437.3 231.2 L438.3 237.0 L439.3 238.2 L440.3 240.3 L441.3 244.2 L442.3 247.9 L443.3 249.5 L444.3 248.8 L445.3 250.1 L446.3 255.4 L447.3 252.3 L448.3 247.4 L449.3 251.4 L450.3 245.6 L451.3 241.9 L452.3 241.5 L453.3 240.2 L454.3 246.7 L455.3 242.7 L456.3 241.7 L457.3 244.4 L458.3 246.3 L459.3 245.3 L460.3 247.5 L461.3 252.0 L462.3 257.5 L463.3 257.6 L464.3 263.1 L465.3 265.4 L466.3 268.1 L467.3 265.9 L468.3 264.3 L469.3 268.7 L470.3 267.1 L471.3 263.1 L472.3 261.3 L473.3 263.0 L474.3 264.8 L475.3 260.3 L476.3 263.6 L477.3 260.1 L478.3 260.4 L479.3 261.3 L480.3 264.5 L481.3 261.2 L482.3 259.8 L483.3 255.4 L484.3 245.5 L485.3 247.4 L486.3 247.5 L487.3 248.4 L488.3 247.3 L489.3 242.9 L490.3 246.0 L491.3 238.7 L492.3 236.5 L493.3 241.1 L494.3 239.3 L495.3 234.4 L496.3 237.3 L497.3 235.3 L498.3 233.0 L499.3 228.5 L500.3 224.5 L501.3 222.3 L502.3 224.3 L503.3 223.8 L504.3 222.0 L505.3 222.0 L506.3 226.7 L507.3 224.1 L508.3 226.0 L509.3 233.2 L510.3 226.8 L511.3 224.8 L512.3 226.8 L513.3 219.6 L514.3 224.5 L515.3 217.0 L516.3 215.4 L517.3 212.5 L518.3 211.1 L519.3 209.6 L520.3 211.2 L521.3 207.4 L522.3 208.3 L523.3 202.8 L524.3 193.1 L525.3 190.0 L526.3 185.0 L527.3 183.3 L528.3 182.5 L529.3 181.4 L530.3 181.6 L531.3 176.2 L532.3 179.8 L533.3 179.5 L534.3 183.3 L535.3 177.9 L536.3 176.4 L537.3 175.0 L538.3 175.8 L539.3 172.9 L540.3 175.7 L541.3 176.9 L542.3 178.1 L543.3 177.0 L544.3 175.3 L545.3 175.6 L546.3 171.7 L547.3 177.5 L548.3 175.6 L549.3 172.5 L550.3 176.4 L551.3 180.2 L552.3 184.0 L553.3 189.9 L554.3 189.8 L555.3 201.2 L556.3 199.4 L557.3 192.2 L558.3 192.3 L559.3 194.0 L560.3 189.4 L561.3 182.6 L562.3 181.5 L563.3 181.3 L564.3 183.4 L565.3 177.9 L566.3 176.6 L567.3 172.4 L568.3 171.0 L569.3 166.8 L570.3 163.9 L571.3 161.9 L572.3 163.5 L573.3 167.6 L574.3 165.2 L575.3 167.6 L576.3 167.0 L577.3 165.6 L578.3 164.1 L579.3 169.2 L580.3 166.7 L581.3 165.9" fill="none" stroke="#5B9BD5" stroke-width="4.2" stroke-linejoin="round" stroke-linecap="round"/>
<path d="M88.3 211.4 L89.3 210.3 L90.3 213.3 L91.3 206.6 L92.3 209.7 L93.3 204.8 L94.3 210.5 L95.3 208.5 L96.3 209.9 L97.3 205.2 L98.3 205.7 L99.3 203.4 L100.3 201.4 L101.3 202.1 L102.3 198.3 L103.3 199.0 L104.3 200.3 L105.3 198.7 L106.3 197.9 L107.3 203.5 L108.3 199.8 L109.3 198.3 L110.3 199.9 L111.3 198.9 L112.3 199.3 L113.3 199.6 L114.3 203.9 L115.3 198.5 L116.3 196.8 L117.3 196.1 L118.3 197.4 L119.3 191.3 L120.3 188.4 L121.3 195.9 L122.3 189.8 L123.3 192.8 L124.3 196.6 L125.3 201.4 L126.3 195.6 L127.3 192.5 L128.3 199.3 L129.3 198.1 L130.3 198.9 L131.3 201.3 L132.3 205.2 L133.3 210.3 L134.3 213.8 L135.3 222.3 L136.3 228.1 L137.3 230.1 L138.3 232.4 L139.3 232.3 L140.3 229.5 L141.3 223.8 L142.3 222.2 L143.3 224.3 L144.3 221.6 L145.3 220.2 L146.3 220.6 L147.3 219.5 L148.3 218.9 L149.3 214.1 L150.3 220.1 L151.3 216.2 L152.3 212.4 L153.3 214.7 L154.3 212.3 L155.3 210.3 L156.3 211.2 L157.3 212.9 L158.3 208.6 L159.3 209.5 L160.3 209.9 L161.3 202.3 L162.3 201.7 L163.3 204.3 L164.3 199.4 L165.3 201.9 L166.3 205.4 L167.3 205.2 L168.3 204.3 L169.3 198.2 L170.3 202.1 L171.3 194.6 L172.3 190.3 L173.3 185.2 L174.3 180.4 L175.3 181.8 L176.3 183.6 L177.3 191.6 L178.3 187.8 L179.3 189.9 L180.3 191.2 L181.3 193.6 L182.3 194.3 L183.3 194.5 L184.3 191.9 L185.3 188.3 L186.3 195.5 L187.3 196.2 L188.3 197.3 L189.3 193.7 L190.3 191.4 L191.3 192.1 L192.3 178.9 L193.3 170.2 L194.3 161.0 L195.3 161.8 L196.3 166.9 L197.3 165.5 L198.3 167.0 L199.3 166.1 L200.3 166.8 L201.3 166.1 L202.3 167.1 L203.3 163.4 L204.3 166.3 L205.3 167.3 L206.3 172.8 L207.3 173.9 L208.3 175.9 L209.3 178.3 L210.3 177.0 L211.3 182.0 L212.3 186.6 L213.3 185.2 L214.3 189.6 L215.3 189.7 L216.3 188.9 L217.3 194.7 L218.3 195.6 L219.3 199.9 L220.3 201.3 L221.3 205.4 L222.3 202.9 L223.3 213.7 L224.3 215.5 L225.3 214.4 L226.3 215.3 L227.3 219.7 L228.3 224.0 L229.3 226.3 L230.3 227.7 L231.3 221.4 L232.3 221.3 L233.3 225.3 L234.3 221.6 L235.3 215.7 L236.3 214.7 L237.3 211.5 L238.3 210.9 L239.3 214.6 L240.3 211.1 L241.3 212.7 L242.3 210.2 L243.3 207.4 L244.3 209.8 L245.3 217.2 L246.3 212.4 L247.3 213.5 L248.3 221.3 L249.3 222.3 L250.3 224.9 L251.3 230.2 L252.3 223.1 L253.3 226.6 L254.3 223.3 L255.3 221.8 L256.3 219.2 L257.3 219.0 L258.3 212.2 L259.3 203.8 L260.3 202.4 L261.3 208.7 L262.3 208.7 L263.3 204.6 L264.3 212.2 L265.3 206.0 L266.3 202.7 L267.3 203.7 L268.3 205.2 L269.3 205.0 L270.3 201.3 L271.3 195.4 L272.3 188.5 L273.3 166.5 L274.3 149.3 L275.3 148.3 L276.3 150.0 L277.3 147.0 L278.3 148.3 L279.3 147.6 L280.3 147.1 L281.3 147.6 L282.3 148.4 L283.3 148.6 L284.3 152.8 L285.3 152.9 L286.3 150.4 L287.3 154.7 L288.3 155.2 L289.3 158.4 L290.3 155.8 L291.3 156.1 L292.3 155.7 L293.3 158.0 L294.3 159.6 L295.3 159.7 L296.3 159.4 L297.3 161.7 L298.3 163.3 L299.3 166.5 L300.3 167.0 L301.3 172.2 L302.3 172.7 L303.3 175.5 L304.3 180.3 L305.3 187.4 L306.3 182.8 L307.3 177.8 L308.3 174.5 L309.3 169.8 L310.3 161.6 L311.3 152.0 L312.3 140.8 L313.3 135.3 L314.3 128.2 L315.3 122.3 L316.3 119.6 L317.3 119.3 L318.3 113.8 L319.3 114.0 L320.3 117.0 L321.3 114.5 L322.3 117.4 L323.3 113.7 L324.3 115.4 L325.3 117.2 L326.3 114.3 L327.3 115.6 L328.3 123.5 L329.3 118.4 L330.3 118.8 L331.3 118.8 L332.3 118.9 L333.3 117.7 L334.3 118.6 L335.3 115.2 L336.3 109.1 L337.3 105.4 L338.3 99.6 L339.3 98.9 L340.3 103.9 L341.3 110.5 L342.3 113.6 L343.3 122.9 L344.3 131.4 L345.3 137.0 L346.3 145.5 L347.3 143.3 L348.3 145.6 L349.3 149.0 L350.3 153.9 L351.3 150.8 L352.3 148.6 L353.3 150.2 L354.3 149.2 L355.3 144.1 L356.3 140.8 L357.3 142.6 L358.3 142.2 L359.3 141.6 L360.3 137.5 L361.3 139.7 L362.3 142.0 L363.3 139.4 L364.3 147.4 L365.3 147.6 L366.3 147.6 L367.3 154.1 L368.3 151.1 L369.3 149.8 L370.3 152.0 L371.3 154.5 L372.3 156.2 L373.3 155.4 L374.3 154.8 L375.3 163.0 L376.3 170.8 L377.3 172.6 L378.3 176.1 L379.3 176.7 L380.3 177.0 L381.3 172.5 L382.3 169.6 L383.3 168.7 L384.3 167.1 L385.3 169.0 L386.3 163.6 L387.3 172.4 L388.3 180.1 L389.3 186.7 L390.3 200.8 L391.3 206.0 L392.3 202.4 L393.3 209.1 L394.3 211.5 L395.3 208.4 L396.3 213.9 L397.3 211.6 L398.3 209.0 L399.3 212.9 L400.3 211.8 L401.3 210.0 L402.3 208.5 L403.3 214.2 L404.3 213.9 L405.3 218.1 L406.3 219.1 L407.3 219.8 L408.3 222.2 L409.3 229.8 L410.3 232.4 L411.3 232.4 L412.3 231.8 L413.3 228.8 L414.3 221.2 L415.3 217.1 L416.3 206.3 L417.3 203.4 L418.3 200.3 L419.3 202.0 L420.3 199.1 L421.3 200.6 L422.3 202.9 L423.3 204.2 L424.3 202.8 L425.3 202.2 L426.3 204.3 L427.3 208.8 L428.3 207.1 L429.3 204.0 L430.3 211.3 L431.3 210.6 L432.3 218.8 L433.3 212.5 L434.3 214.0 L435.3 215.1 L436.3 218.0 L437.3 217.6 L438.3 217.0 L439.3 217.3 L440.3 222.5 L441.3 223.6 L442.3 224.9 L443.3 231.9 L444.3 230.6 L445.3 232.1 L446.3 229.7 L447.3 232.0 L448.3 230.1 L449.3 229.0 L450.3 230.0 L451.3 228.9 L452.3 227.6 L453.3 226.7 L454.3 222.7 L455.3 223.4 L456.3 225.6 L457.3 225.3 L458.3 225.3 L459.3 228.6 L460.3 227.1 L461.3 229.9 L462.3 236.2 L463.3 236.9 L464.3 243.5 L465.3 244.9 L466.3 248.3 L467.3 252.1 L468.3 248.1 L469.3 254.9 L470.3 252.6 L471.3 253.6 L472.3 254.1 L473.3 256.5 L474.3 253.3 L475.3 255.7 L476.3 250.4 L477.3 250.0 L478.3 249.4 L479.3 250.7 L480.3 248.3 L481.3 246.4 L482.3 246.4 L483.3 243.0 L484.3 247.0 L485.3 244.9 L486.3 242.7 L487.3 240.4 L488.3 235.0 L489.3 231.8 L490.3 230.9 L491.3 224.2 L492.3 221.9 L493.3 225.4 L494.3 224.4 L495.3 220.2 L496.3 219.0 L497.3 216.8 L498.3 217.8 L499.3 212.6 L500.3 211.8 L501.3 211.3 L502.3 211.9 L503.3 207.0 L504.3 206.2 L505.3 203.5 L506.3 202.0 L507.3 200.9 L508.3 201.5 L509.3 202.4 L510.3 198.2 L511.3 197.1 L512.3 196.5 L513.3 197.1 L514.3 195.8 L515.3 188.8 L516.3 188.7 L517.3 183.2 L518.3 183.7 L519.3 178.5 L520.3 176.0 L521.3 174.7 L522.3 174.1 L523.3 169.5 L524.3 168.9 L525.3 166.0 L526.3 162.9 L527.3 159.7 L528.3 156.4 L529.3 148.4 L530.3 145.1 L531.3 148.5 L532.3 147.5 L533.3 155.6 L534.3 155.3 L535.3 156.3 L536.3 157.8 L537.3 160.0 L538.3 161.5 L539.3 162.4 L540.3 160.4 L541.3 163.6 L542.3 163.8 L543.3 161.3 L544.3 160.9 L545.3 161.7 L546.3 160.1 L547.3 159.8 L548.3 158.1 L549.3 159.7 L550.3 161.7 L551.3 157.7 L552.3 155.5 L553.3 164.5 L554.3 162.8 L555.3 163.2 L556.3 164.6 L557.3 174.9 L558.3 181.6 L559.3 185.9 L560.3 186.4 L561.3 193.2 L562.3 193.7 L563.3 190.8 L564.3 190.1 L565.3 188.5 L566.3 185.8 L567.3 183.8 L568.3 175.8 L569.3 180.9 L570.3 175.8 L571.3 176.6 L572.3 172.5 L573.3 173.5 L574.3 172.3 L575.3 168.6 L576.3 173.1 L577.3 175.3 L578.3 173.0 L579.3 171.8 L580.3 175.5 L581.3 176.3" fill="none" stroke="#70AD47" stroke-width="4.2" stroke-linejoin="round" stroke-linecap="round"/>
<path d="M88.3 221.6 L89.3 218.9 L90.3 222.5 L91.3 226.5 L92.3 228.4 L93.3 223.0 L94.3 216.6 L95.3 219.3 L96.3 218.5 L97.3 225.3 L98.3 224.6 L99.3 227.3 L100.3 222.3 L101.3 218.7 L102.3 218.9 L103.3 223.4 L104.3 227.7 L105.3 227.9 L106.3 218.6 L107.3 210.3 L108.3 213.1 L109.3 209.8 L110.3 214.0 L111.3 212.2 L112.3 217.6 L113.3 218.0 L114.3 217.6 L115.3 215.6 L116.3 217.3 L117.3 211.2 L118.3 203.7 L119.3 200.6 L120.3 201.9 L121.3 196.1 L122.3 201.7 L123.3 209.9 L124.3 204.3 L125.3 206.6 L126.3 203.5 L127.3 201.3 L128.3 201.6 L129.3 202.2 L130.3 206.0 L131.3 198.4 L132.3 204.4 L133.3 205.7 L134.3 207.1 L135.3 210.6 L136.3 215.3 L137.3 221.6 L138.3 228.3 L139.3 220.9 L140.3 220.6 L141.3 216.7 L142.3 214.1 L143.3 216.4 L144.3 214.8 L145.3 215.0 L146.3 214.1 L147.3 215.2 L148.3 210.5 L149.3 213.2 L150.3 216.8 L151.3 219.8 L152.3 217.6 L153.3 223.0 L154.3 217.6 L155.3 215.4 L156.3 212.5 L157.3 212.7 L158.3 216.3 L159.3 218.9 L160.3 216.7 L161.3 216.9 L162.3 215.5 L163.3 212.7 L164.3 215.5 L165.3 214.6 L166.3 220.4 L167.3 217.2 L168.3 214.6 L169.3 207.4 L170.3 202.0 L171.3 201.7 L172.3 195.6 L173.3 186.5 L174.3 183.3 L175.3 186.4 L176.3 184.7 L177.3 186.6 L178.3 188.9 L179.3 189.9 L180.3 190.6 L181.3 199.4 L182.3 204.7 L183.3 203.0 L184.3 202.0 L185.3 199.5 L186.3 197.2 L187.3 202.5 L188.3 200.2 L189.3 207.7 L190.3 204.8 L191.3 204.7 L192.3 197.5 L193.3 186.1 L194.3 180.1 L195.3 179.8 L196.3 175.2 L197.3 174.9 L198.3 174.3 L199.3 180.7 L200.3 184.3 L201.3 185.4 L202.3 180.9 L203.3 176.1 L204.3 176.0 L205.3 166.9 L206.3 162.7 L207.3 161.7 L208.3 159.5 L209.3 162.6 L210.3 164.8 L211.3 160.7 L212.3 166.8 L213.3 164.2 L214.3 160.0 L215.3 157.5 L216.3 159.2 L217.3 155.7 L218.3 159.5 L219.3 165.3 L220.3 165.9 L221.3 177.8 L222.3 177.1 L223.3 177.8 L224.3 182.0 L225.3 185.0 L226.3 178.3 L227.3 177.2 L228.3 180.0 L229.3 177.7 L230.3 180.7 L231.3 185.0 L232.3 187.3 L233.3 187.5 L234.3 188.6 L235.3 189.7 L236.3 185.1 L237.3 183.0 L238.3 181.1 L239.3 179.0 L240.3 180.1 L241.3 177.9 L242.3 170.0 L243.3 176.8 L244.3 176.0 L245.3 174.1 L246.3 177.2 L247.3 175.7 L248.3 176.3 L249.3 178.2 L250.3 183.9 L251.3 181.8 L252.3 189.4 L253.3 190.6 L254.3 194.4 L255.3 196.2 L256.3 190.4 L257.3 175.6 L258.3 167.8 L259.3 165.0 L260.3 166.8 L261.3 164.7 L262.3 166.9 L263.3 172.9 L264.3 175.5 L265.3 175.6 L266.3 178.5 L267.3 179.5 L268.3 180.8 L269.3 178.8 L270.3 180.3 L271.3 180.1 L272.3 181.6 L273.3 163.3 L274.3 148.0 L275.3 145.9 L276.3 148.1 L277.3 145.7 L278.3 141.6 L279.3 140.9 L280.3 144.1 L281.3 143.4 L282.3 142.7 L283.3 144.3 L284.3 148.1 L285.3 145.4 L286.3 146.5 L287.3 140.7 L288.3 138.8 L289.3 139.6 L290.3 139.6 L291.3 139.3 L292.3 139.0 L293.3 142.4 L294.3 144.4 L295.3 147.3 L296.3 153.5 L297.3 156.6 L298.3 161.9 L299.3 163.4 L300.3 166.7 L301.3 168.0 L302.3 166.3 L303.3 164.9 L304.3 159.6 L305.3 159.4 L306.3 157.1 L307.3 157.2 L308.3 153.6 L309.3 147.2 L310.3 145.7 L311.3 141.4 L312.3 133.1 L313.3 129.0 L314.3 122.2 L315.3 113.9 L316.3 118.9 L317.3 122.3 L318.3 121.0 L319.3 125.4 L320.3 119.7 L321.3 130.5 L322.3 125.5 L323.3 128.1 L324.3 129.9 L325.3 129.0 L326.3 134.4 L327.3 134.2 L328.3 135.1 L329.3 133.9 L330.3 140.7 L331.3 143.0 L332.3 140.9 L333.3 142.5 L334.3 146.3 L335.3 142.4 L336.3 141.8 L337.3 139.6 L338.3 137.0 L339.3 134.5 L340.3 137.5 L341.3 143.6 L342.3 152.1 L343.3 163.7 L344.3 161.1 L345.3 163.8 L346.3 165.7 L347.3 169.3 L348.3 167.8 L349.3 165.5 L350.3 172.3 L351.3 175.5 L352.3 175.7 L353.3 179.5 L354.3 183.4 L355.3 183.3 L356.3 186.9 L357.3 182.9 L358.3 183.1 L359.3 180.0 L360.3 178.5 L361.3 175.0 L362.3 173.8 L363.3 181.7 L364.3 189.6 L365.3 186.7 L366.3 191.3 L367.3 191.3 L368.3 192.6 L369.3 194.4 L370.3 197.2 L371.3 193.8 L372.3 200.7 L373.3 199.9 L374.3 207.3 L375.3 214.3 L376.3 213.6 L377.3 206.4 L378.3 204.1 L379.3 201.6 L380.3 205.1 L381.3 206.4 L382.3 208.9 L383.3 206.7 L384.3 209.6 L385.3 208.8 L386.3 211.6 L387.3 217.2 L388.3 224.9 L389.3 230.0 L390.3 233.9 L391.3 237.8 L392.3 241.1 L393.3 240.9 L394.3 241.2 L395.3 242.6 L396.3 246.1 L397.3 247.5 L398.3 249.3 L399.3 253.2 L400.3 247.1 L401.3 251.3 L402.3 247.7 L403.3 249.5 L404.3 250.0 L405.3 253.8 L406.3 258.6 L407.3 254.7 L408.3 247.2 L409.3 243.3 L410.3 237.3 L411.3 233.4 L412.3 243.2 L413.3 239.3 L414.3 231.7 L415.3 225.3 L416.3 216.2 L417.3 212.7 L418.3 211.7 L419.3 204.4 L420.3 204.3 L421.3 203.4 L422.3 204.2 L423.3 209.2 L424.3 208.6 L425.3 205.6 L426.3 208.7 L427.3 206.0 L428.3 211.4 L429.3 211.6 L430.3 213.2 L431.3 213.7 L432.3 209.2 L433.3 214.0 L434.3 210.8 L435.3 210.2 L436.3 209.2 L437.3 211.6 L438.3 209.6 L439.3 210.7 L440.3 216.4 L441.3 218.1 L442.3 220.3 L443.3 222.7 L444.3 224.2 L445.3 217.6 L446.3 213.1 L447.3 219.3 L448.3 218.7 L449.3 223.6 L450.3 221.2 L451.3 221.2 L452.3 223.3 L453.3 218.2 L454.3 213.7 L455.3 213.9 L456.3 213.4 L457.3 212.0 L458.3 215.3 L459.3 214.4 L460.3 213.2 L461.3 209.7 L462.3 204.3 L463.3 203.9 L464.3 208.7 L465.3 214.3 L466.3 211.6 L467.3 186.0 L468.3 194.7 L469.3 194.0 L470.3 190.8 L471.3 190.5 L472.3 190.5 L473.3 191.7 L474.3 189.8 L475.3 185.1 L476.3 189.3 L477.3 189.0 L478.3 183.7 L479.3 181.8 L480.3 191.3 L481.3 196.7 L482.3 208.4 L483.3 207.8 L484.3 196.3 L485.3 196.5 L486.3 192.2 L487.3 192.7 L488.3 196.5 L489.3 192.9 L490.3 193.9 L491.3 191.1 L492.3 194.9 L493.3 189.8 L494.3 194.6 L495.3 189.7 L496.3 188.6 L497.3 190.6 L498.3 191.3 L499.3 196.4 L500.3 192.6 L501.3 197.6 L502.3 198.9 L503.3 197.6 L504.3 191.7 L505.3 196.5 L506.3 196.0 L507.3 196.6 L508.3 191.9 L509.3 193.3 L510.3 195.0 L511.3 192.3 L512.3 192.2 L513.3 190.9 L514.3 191.3 L515.3 188.7 L516.3 188.2 L517.3 178.3 L518.3 175.6 L519.3 173.1 L520.3 174.7 L521.3 172.5 L522.3 169.0 L523.3 164.3 L524.3 170.7 L525.3 166.3 L526.3 164.1 L527.3 164.2 L528.3 157.9 L529.3 155.1 L530.3 147.7 L531.3 164.3 L532.3 174.2 L533.3 180.8 L534.3 175.6 L535.3 171.0 L536.3 169.7 L537.3 167.4 L538.3 170.7 L539.3 171.4 L540.3 172.0 L541.3 167.3 L542.3 166.1 L543.3 168.6 L544.3 171.3 L545.3 173.1 L546.3 173.7 L547.3 173.7 L548.3 171.2 L549.3 170.7 L550.3 172.3 L551.3 172.1 L552.3 178.8 L553.3 181.0 L554.3 185.4 L555.3 187.0 L556.3 197.2 L557.3 200.5 L558.3 201.3 L559.3 205.1 L560.3 202.9 L561.3 202.0 L562.3 195.0 L563.3 191.7 L564.3 183.2 L565.3 179.5 L566.3 175.0 L567.3 170.1 L568.3 163.7 L569.3 163.4 L570.3 159.2 L571.3 157.7 L572.3 157.9 L573.3 160.1 L574.3 158.5 L575.3 154.4 L576.3 152.8 L577.3 153.9 L578.3 158.9 L579.3 162.3 L580.3 162.6 L581.3 160.5" fill="none" stroke="#264478" stroke-width="4.2" stroke-linejoin="round" stroke-linecap="round"/>
<line x1="89.25" x2="122.25" y1="311" y2="311" stroke="#4472C4" stroke-width="3.3" stroke-linecap="round"/>
<text x="125.55" y="316" font-size="14.2" textLength="63.61" lengthAdjust="spacingAndGlyphs">BTC-GOLD</text>
<line x1="197.4" x2="230.4" y1="311" y2="311" stroke="#ED7D31" stroke-width="3.3" stroke-linecap="round"/>
<text x="233.7" y="316" font-size="14.2" textLength="63.61" lengthAdjust="spacingAndGlyphs">ETH-GOLD</text>
<line x1="305.4" x2="338.4" y1="311" y2="311" stroke="#A5A5A5" stroke-width="3.3" stroke-linecap="round"/>
<text x="341.7" y="316" font-size="14.2" textLength="64.31" lengthAdjust="spacingAndGlyphs">BNB-GOLD</text>
<line x1="412.9" x2="445.9" y1="311" y2="311" stroke="#FFC000" stroke-width="3.3" stroke-linecap="round"/>
<text x="449.2" y="316" font-size="14.2" textLength="64.31" lengthAdjust="spacingAndGlyphs">XRP-GOLD</text>
<line x1="90" x2="123" y1="338.8" y2="338.8" stroke="#5B9BD5" stroke-width="3.3" stroke-linecap="round"/>
<text x="126.3" y="343.8" font-size="14.2" textLength="64.31" lengthAdjust="spacingAndGlyphs">ADA-GOLD</text>
<line x1="198.3" x2="231.3" y1="338.8" y2="338.8" stroke="#70AD47" stroke-width="3.3" stroke-linecap="round"/>
<text x="234.6" y="343.8" font-size="14.2" textLength="61.34" lengthAdjust="spacingAndGlyphs">LTC-GOLD</text>
<line x1="305.4" x2="338.4" y1="338.8" y2="338.8" stroke="#264478" stroke-width="3.3" stroke-linecap="round"/>
<text x="341.7" y="343.8" font-size="14.2" textLength="66.35" lengthAdjust="spacingAndGlyphs">XMR-GOLD</text>
<text x="899.7" y="32.9" font-size="17.8" text-anchor="middle" textLength="320" lengthAdjust="spacingAndGlyphs">Asset-backed cryptocurrencies vs GOLD</text>
<line x1="687" x2="1180.5" y1="59.2" y2="59.2" stroke="#d9d9d9" stroke-width="1.3"/>
<text x="673.5" y="63.9" font-size="14.2" textLength="56.86" lengthAdjust="spacingAndGlyphs" text-anchor="end">0.300000</text>
<line x1="687" x2="1180.5" y1="95.73" y2="95.73" stroke="#d9d9d9" stroke-width="1.3"/>
<text x="673.5" y="100.43" font-size="14.2" textLength="56.86" lengthAdjust="spacingAndGlyphs" text-anchor="end">0.200000</text>
<line x1="687" x2="1180.5" y1="132.27" y2="132.27" stroke="#d9d9d9" stroke-width="1.3"/>
<text x="673.5" y="136.97" font-size="14.2" textLength="56.86" lengthAdjust="spacingAndGlyphs" text-anchor="end">0.100000</text>
<line x1="687" x2="1180.5" y1="168.8" y2="168.8" stroke="#d9d9d9" stroke-width="1.3"/>
<text x="673.5" y="173.5" font-size="14.2" textLength="56.86" lengthAdjust="spacingAndGlyphs" text-anchor="end">0.000000</text>
<line x1="687" x2="1180.5" y1="205.33" y2="205.33" stroke="#d9d9d9" stroke-width="1.3"/>
<text x="673.5" y="210.03" font-size="14.2" textLength="61.4" lengthAdjust="spacingAndGlyphs" text-anchor="end">-0.100000</text>
<line x1="687" x2="1180.5" y1="241.87" y2="241.87" stroke="#d9d9d9" stroke-width="1.3"/>
<text x="673.5" y="246.57" font-size="14.2" textLength="61.4" lengthAdjust="spacingAndGlyphs" text-anchor="end">-0.200000</text>
<line x1="687" x2="1180.5" y1="278.4" y2="278.4" stroke="#d9d9d9" stroke-width="1.3"/>
<text x="673.5" y="283.1" font-size="14.2" textLength="61.4" lengthAdjust="spacingAndGlyphs" text-anchor="end">-0.300000</text>
<line x1="687" x2="687" y1="168.8" y2="173.8" stroke="#d9d9d9" stroke-width="1.3"/>
<text x="687" y="192.6" font-size="14.2" textLength="52.76" lengthAdjust="spacingAndGlyphs" text-anchor="middle">6-Apr-18</text>
<line x1="783.5" x2="783.5" y1="168.8" y2="173.8" stroke="#d9d9d9" stroke-width="1.3"/>
<text x="783.5" y="192.6" font-size="14.2" textLength="52.76" lengthAdjust="spacingAndGlyphs" text-anchor="middle">6-Apr-19</text>
<line x1="880" x2="880" y1="168.8" y2="173.8" stroke="#d9d9d9" stroke-width="1.3"/>
<text x="880" y="192.6" font-size="14.2" textLength="52.76" lengthAdjust="spacingAndGlyphs" text-anchor="middle">6-Apr-20</text>
<line x1="976.5" x2="976.5" y1="168.8" y2="173.8" stroke="#d9d9d9" stroke-width="1.3"/>
<text x="976.5" y="192.6" font-size="14.2" textLength="52.76" lengthAdjust="spacingAndGlyphs" text-anchor="middle">6-Apr-21</text>
<line x1="1073" x2="1073" y1="168.8" y2="173.8" stroke="#d9d9d9" stroke-width="1.3"/>
<text x="1073" y="192.6" font-size="14.2" textLength="52.76" lengthAdjust="spacingAndGlyphs" text-anchor="middle">6-Apr-22</text>
<line x1="1169.5" x2="1169.5" y1="168.8" y2="173.8" stroke="#d9d9d9" stroke-width="1.3"/>
<text x="1169.5" y="192.6" font-size="14.2" textLength="52.76" lengthAdjust="spacingAndGlyphs" text-anchor="middle">6-Apr-23</text>
<path d="M687.3 158.7 L688.3 158.9 L689.3 158.0 L690.3 157.9 L691.3 159.0 L692.3 152.8 L693.3 153.9 L694.3 152.9 L695.3 152.1 L696.3 153.6 L697.3 154.1 L698.3 160.0 L699.3 156.6 L700.3 156.2 L701.3 161.5 L702.3 162.3 L703.3 167.5 L704.3 174.4 L705.3 176.4 L706.3 178.0 L707.3 175.7 L708.3 171.1 L709.3 173.5 L710.3 171.6 L711.3 171.9 L712.3 164.3 L713.3 162.5 L714.3 161.2 L715.3 160.9 L716.3 157.3 L717.3 156.2 L718.3 151.4 L719.3 148.2 L720.3 153.6 L721.3 149.1 L722.3 151.1 L723.3 146.9 L724.3 146.3 L725.3 141.5 L726.3 141.9 L727.3 144.2 L728.3 144.4 L729.3 144.0 L730.3 146.0 L731.3 143.2 L732.3 147.6 L733.3 147.1 L734.3 146.9 L735.3 149.4 L736.3 146.0 L737.3 142.9 L738.3 141.8 L739.3 139.2 L740.3 136.8 L741.3 134.9 L742.3 132.2 L743.3 133.6 L744.3 134.0 L745.3 131.3 L746.3 126.4 L747.3 123.5 L748.3 123.5 L749.3 120.5 L750.3 121.7 L751.3 117.6 L752.3 116.9 L753.3 114.1 L754.3 114.8 L755.3 111.3 L756.3 108.9 L757.3 111.0 L758.3 107.7 L759.3 110.5 L760.3 115.8 L761.3 119.6 L762.3 116.9 L763.3 115.6 L764.3 117.9 L765.3 118.3 L766.3 116.7 L767.3 113.1 L768.3 112.8 L769.3 114.7 L770.3 109.2 L771.3 109.9 L772.3 109.8 L773.3 106.6 L774.3 105.9 L775.3 112.3 L776.3 117.0 L777.3 117.8 L778.3 122.8 L779.3 123.8 L780.3 129.3 L781.3 128.8 L782.3 132.0 L783.3 133.8 L784.3 136.5 L785.3 132.7 L786.3 141.0 L787.3 141.2 L788.3 143.7 L789.3 148.1 L790.3 147.8 L791.3 150.4 L792.3 151.9 L793.3 152.6 L794.3 151.1 L795.3 150.7 L796.3 148.6 L797.3 148.3 L798.3 152.8 L799.3 152.2 L800.3 156.2 L801.3 157.7 L802.3 155.9 L803.3 157.9 L804.3 154.8 L805.3 152.1 L806.3 148.6 L807.3 150.5 L808.3 148.6 L809.3 142.6 L810.3 140.4 L811.3 138.8 L812.3 136.4 L813.3 138.3 L814.3 134.0 L815.3 136.4 L816.3 129.7 L817.3 130.9 L818.3 137.1 L819.3 136.1 L820.3 134.5 L821.3 144.9 L822.3 144.6 L823.3 145.0 L824.3 140.3 L825.3 148.1 L826.3 148.6 L827.3 150.1 L828.3 151.6 L829.3 151.0 L830.3 155.3 L831.3 162.1 L832.3 166.9 L833.3 169.1 L834.3 171.2 L835.3 173.4 L836.3 177.1 L837.3 183.9 L838.3 183.2 L839.3 181.1 L840.3 182.9 L841.3 179.6 L842.3 176.0 L843.3 174.1 L844.3 176.9 L845.3 173.0 L846.3 172.4 L847.3 169.8 L848.3 172.5 L849.3 169.2 L850.3 170.3 L851.3 169.3 L852.3 170.9 L853.3 175.8 L854.3 172.0 L855.3 175.8 L856.3 176.1 L857.3 177.0 L858.3 178.1 L859.3 177.9 L860.3 178.9 L861.3 175.7 L862.3 170.9 L863.3 170.2 L864.3 171.6 L865.3 163.6 L866.3 165.8 L867.3 167.2 L868.3 171.0 L869.3 168.5 L870.3 174.1 L871.3 170.8 L872.3 180.2 L873.3 237.7 L874.3 239.9 L875.3 237.9 L876.3 235.2 L877.3 239.0 L878.3 237.3 L879.3 241.3 L880.3 235.6 L881.3 244.2 L882.3 242.1 L883.3 246.5 L884.3 247.4 L885.3 248.5 L886.3 250.4 L887.3 251.1 L888.3 254.2 L889.3 253.3 L890.3 250.3 L891.3 251.3 L892.3 251.8 L893.3 250.1 L894.3 253.0 L895.3 256.1 L896.3 252.8 L897.3 259.3 L898.3 263.9 L899.3 263.5 L900.3 258.1 L901.3 246.3 L902.3 238.0 L903.3 237.3 L904.3 226.9 L905.3 222.6 L906.3 220.2 L907.3 220.9 L908.3 216.5 L909.3 213.5 L910.3 215.3 L911.3 215.2 L912.3 209.5 L913.3 217.2 L914.3 221.8 L915.3 224.5 L916.3 221.2 L917.3 214.6 L918.3 213.1 L919.3 211.0 L920.3 214.3 L921.3 212.9 L922.3 213.4 L923.3 211.0 L924.3 213.3 L925.3 218.4 L926.3 219.0 L927.3 221.8 L928.3 219.3 L929.3 218.8 L930.3 221.1 L931.3 217.3 L932.3 217.1 L933.3 216.7 L934.3 213.8 L935.3 205.8 L936.3 203.9 L937.3 208.1 L938.3 205.9 L939.3 212.1 L940.3 206.5 L941.3 196.1 L942.3 185.6 L943.3 184.2 L944.3 184.8 L945.3 185.9 L946.3 188.1 L947.3 190.3 L948.3 192.9 L949.3 190.7 L950.3 191.4 L951.3 183.0 L952.3 184.2 L953.3 186.0 L954.3 182.6 L955.3 182.5 L956.3 185.2 L957.3 189.3 L958.3 190.9 L959.3 193.0 L960.3 193.4 L961.3 196.2 L962.3 199.1 L963.3 197.0 L964.3 199.9 L965.3 200.9 L966.3 200.4 L967.3 198.7 L968.3 199.0 L969.3 198.3 L970.3 197.6 L971.3 195.1 L972.3 193.2 L973.3 188.8 L974.3 183.6 L975.3 183.7 L976.3 176.4 L977.3 179.5 L978.3 179.2 L979.3 170.4 L980.3 166.6 L981.3 159.3 L982.3 159.6 L983.3 158.3 L984.3 158.2 L985.3 157.5 L986.3 154.3 L987.3 155.1 L988.3 152.8 L989.3 148.8 L990.3 150.1 L991.3 145.4 L992.3 143.9 L993.3 146.1 L994.3 153.9 L995.3 150.0 L996.3 147.8 L997.3 147.4 L998.3 145.9 L999.3 148.9 L1000.3 153.3 L1001.3 153.8 L1002.3 156.3 L1003.3 158.9 L1004.3 161.9 L1005.3 165.1 L1006.3 171.9 L1007.3 179.3 L1008.3 187.0 L1009.3 190.5 L1010.3 191.5 L1011.3 195.9 L1012.3 194.7 L1013.3 201.1 L1014.3 201.2 L1015.3 204.7 L1016.3 202.7 L1017.3 200.8 L1018.3 208.3 L1019.3 205.9 L1020.3 205.2 L1021.3 204.0 L1022.3 204.8 L1023.3 210.5 L1024.3 212.2 L1025.3 210.7 L1026.3 213.2 L1027.3 207.9 L1028.3 207.1 L1029.3 202.0 L1030.3 200.6 L1031.3 198.8 L1032.3 200.5 L1033.3 197.1 L1034.3 194.2 L1035.3 192.1 L1036.3 189.0 L1037.3 186.9 L1038.3 177.7 L1039.3 182.7 L1040.3 182.0 L1041.3 181.5 L1042.3 177.1 L1043.3 171.1 L1044.3 166.0 L1045.3 166.7 L1046.3 160.8 L1047.3 161.2 L1048.3 157.6 L1049.3 153.4 L1050.3 154.1 L1051.3 155.4 L1052.3 152.1 L1053.3 146.6 L1054.3 148.4 L1055.3 146.6 L1056.3 146.4 L1057.3 144.4 L1058.3 144.5 L1059.3 142.5 L1060.3 144.4 L1061.3 147.1 L1062.3 145.9 L1063.3 143.9 L1064.3 142.7 L1065.3 143.1 L1066.3 142.4 L1067.3 140.9 L1068.3 135.2 L1069.3 136.7 L1070.3 139.4 L1071.3 142.3 L1072.3 140.7 L1073.3 139.4 L1074.3 142.4 L1075.3 141.3 L1076.3 142.3 L1077.3 144.1 L1078.3 145.0 L1079.3 148.8 L1080.3 151.7 L1081.3 150.7 L1082.3 150.5 L1083.3 155.0 L1084.3 153.8 L1085.3 155.2 L1086.3 153.6 L1087.3 151.9 L1088.3 155.6 L1089.3 152.2 L1090.3 152.0 L1091.3 151.0 L1092.3 148.2 L1093.3 143.2 L1094.3 148.3 L1095.3 148.9 L1096.3 143.5 L1097.3 143.9 L1098.3 147.6 L1099.3 146.1 L1100.3 146.0 L1101.3 141.6 L1102.3 143.4 L1103.3 140.6 L1104.3 140.8 L1105.3 135.2 L1106.3 136.1 L1107.3 130.5 L1108.3 131.6 L1109.3 132.0 L1110.3 132.2 L1111.3 130.9 L1112.3 128.4 L1113.3 128.2 L1114.3 124.3 L1115.3 119.2 L1116.3 120.8 L1117.3 120.8 L1118.3 115.9 L1119.3 109.4 L1120.3 110.3 L1121.3 105.4 L1122.3 96.5 L1123.3 97.2 L1124.3 97.9 L1125.3 108.4 L1126.3 108.6 L1127.3 109.5 L1128.3 114.5 L1129.3 117.4 L1130.3 112.5 L1131.3 117.1 L1132.3 118.0 L1133.3 122.0 L1134.3 122.6 L1135.3 121.3 L1136.3 124.6 L1137.3 125.6 L1138.3 123.4 L1139.3 125.3 L1140.3 131.2 L1141.3 130.4 L1142.3 132.1 L1143.3 126.3 L1144.3 125.7 L1145.3 120.1 L1146.3 124.3 L1147.3 118.1 L1148.3 117.0 L1149.3 118.4 L1150.3 114.6 L1151.3 123.5 L1152.3 118.1 L1153.3 116.9 L1154.3 121.5 L1155.3 126.9 L1156.3 125.9 L1157.3 130.9 L1158.3 129.4 L1159.3 121.3 L1160.3 123.8 L1161.3 121.2 L1162.3 119.3 L1163.3 117.6 L1164.3 113.9 L1165.3 106.4 L1166.3 102.8 L1167.3 97.1 L1168.3 100.1 L1169.3 98.7 L1170.3 98.6 L1171.3 95.1 L1172.3 93.9 L1173.3 91.3 L1174.3 93.2 L1175.3 100.7 L1176.3 100.7 L1177.3 111.5 L1178.3 113.0 L1179.3 110.7 L1180.3 118.3" fill="none" stroke="#4472C4" stroke-width="4.2" stroke-linejoin="round" stroke-linecap="round"/>
<path d="M687.3 175.9 L688.3 177.6 L689.3 177.9 L690.3 173.6 L691.3 169.3 L692.3 169.1 L693.3 167.8 L694.3 166.6 L695.3 159.2 L696.3 155.9 L697.3 157.4 L698.3 156.0 L699.3 156.9 L700.3 154.6 L701.3 150.9 L702.3 149.0 L703.3 153.6 L704.3 147.1 L705.3 144.8 L706.3 143.3 L707.3 145.0 L708.3 143.4 L709.3 140.4 L710.3 138.9 L711.3 138.4 L712.3 138.3 L713.3 138.3 L714.3 135.5 L715.3 129.4 L716.3 130.8 L717.3 123.5 L718.3 122.4 L719.3 111.9 L720.3 106.8 L721.3 97.4 L722.3 96.3 L723.3 102.3 L724.3 95.3 L725.3 97.3 L726.3 96.2 L727.3 101.3 L728.3 106.8 L729.3 110.8 L730.3 117.0 L731.3 121.8 L732.3 123.4 L733.3 129.8 L734.3 130.5 L735.3 135.8 L736.3 126.0 L737.3 122.8 L738.3 116.3 L739.3 114.2 L740.3 107.1 L741.3 110.7 L742.3 110.0 L743.3 114.0 L744.3 115.7 L745.3 118.6 L746.3 120.5 L747.3 127.3 L748.3 129.6 L749.3 134.7 L750.3 133.4 L751.3 137.6 L752.3 140.4 L753.3 142.6 L754.3 144.3 L755.3 145.5 L756.3 145.2 L757.3 144.8 L758.3 144.7 L759.3 145.6 L760.3 146.4 L761.3 147.2 L762.3 149.3 L763.3 150.7 L764.3 149.3 L765.3 144.8 L766.3 142.6 L767.3 142.8 L768.3 140.0 L769.3 140.1 L770.3 146.9 L771.3 145.8 L772.3 149.1 L773.3 151.0 L774.3 148.7 L775.3 157.8 L776.3 159.1 L777.3 156.9 L778.3 157.1 L779.3 155.2 L780.3 152.3 L781.3 151.7 L782.3 150.8 L783.3 150.5 L784.3 150.1 L785.3 150.0 L786.3 153.9 L787.3 151.0 L788.3 155.2 L789.3 157.5 L790.3 156.0 L791.3 153.9 L792.3 156.7 L793.3 160.6 L794.3 162.8 L795.3 166.4 L796.3 162.6 L797.3 164.5 L798.3 164.6 L799.3 161.8 L800.3 155.6 L801.3 160.5 L802.3 162.9 L803.3 159.2 L804.3 153.1 L805.3 151.8 L806.3 151.2 L807.3 154.1 L808.3 148.6 L809.3 145.2 L810.3 146.4 L811.3 143.9 L812.3 148.3 L813.3 144.0 L814.3 143.6 L815.3 145.4 L816.3 146.5 L817.3 145.3 L818.3 145.8 L819.3 142.5 L820.3 145.7 L821.3 147.5 L822.3 149.0 L823.3 152.7 L824.3 149.6 L825.3 149.8 L826.3 146.6 L827.3 144.2 L828.3 144.4 L829.3 144.5 L830.3 144.7 L831.3 140.6 L832.3 139.5 L833.3 135.8 L834.3 140.5 L835.3 139.5 L836.3 134.7 L837.3 132.4 L838.3 129.4 L839.3 130.9 L840.3 130.3 L841.3 135.1 L842.3 132.2 L843.3 130.3 L844.3 127.2 L845.3 135.6 L846.3 134.5 L847.3 131.6 L848.3 136.3 L849.3 134.2 L850.3 146.2 L851.3 144.9 L852.3 146.1 L853.3 147.0 L854.3 144.1 L855.3 149.3 L856.3 148.0 L857.3 152.8 L858.3 147.5 L859.3 149.5 L860.3 153.1 L861.3 150.4 L862.3 140.6 L863.3 135.3 L864.3 137.5 L865.3 135.3 L866.3 128.8 L867.3 134.0 L868.3 143.4 L869.3 151.7 L870.3 164.1 L871.3 184.2 L872.3 199.5 L873.3 218.3 L874.3 212.8 L875.3 210.9 L876.3 207.8 L877.3 208.1 L878.3 204.4 L879.3 201.9 L880.3 205.8 L881.3 207.2 L882.3 205.5 L883.3 205.8 L884.3 202.2 L885.3 198.7 L886.3 198.8 L887.3 196.6 L888.3 193.7 L889.3 191.0 L890.3 190.2 L891.3 192.6 L892.3 192.6 L893.3 190.9 L894.3 197.5 L895.3 197.9 L896.3 201.2 L897.3 204.3 L898.3 201.4 L899.3 200.0 L900.3 207.0 L901.3 206.5 L902.3 210.9 L903.3 204.0 L904.3 199.9 L905.3 194.1 L906.3 185.2 L907.3 187.8 L908.3 182.7 L909.3 181.9 L910.3 183.9 L911.3 187.8 L912.3 189.8 L913.3 192.1 L914.3 188.5 L915.3 192.2 L916.3 188.2 L917.3 191.9 L918.3 193.2 L919.3 191.8 L920.3 196.4 L921.3 199.2 L922.3 203.1 L923.3 200.8 L924.3 201.7 L925.3 203.2 L926.3 207.2 L927.3 205.0 L928.3 201.1 L929.3 200.3 L930.3 198.8 L931.3 197.8 L932.3 195.7 L933.3 191.3 L934.3 185.4 L935.3 182.5 L936.3 184.3 L937.3 179.8 L938.3 175.9 L939.3 171.6 L940.3 166.8 L941.3 162.1 L942.3 155.0 L943.3 157.9 L944.3 159.5 L945.3 158.8 L946.3 159.8 L947.3 160.7 L948.3 161.8 L949.3 167.3 L950.3 162.2 L951.3 167.3 L952.3 168.2 L953.3 169.5 L954.3 172.4 L955.3 176.0 L956.3 171.3 L957.3 166.6 L958.3 161.6 L959.3 162.0 L960.3 168.3 L961.3 169.8 L962.3 171.6 L963.3 172.5 L964.3 174.2 L965.3 174.9 L966.3 179.3 L967.3 176.9 L968.3 174.2 L969.3 175.7 L970.3 168.9 L971.3 168.8 L972.3 167.4 L973.3 165.1 L974.3 167.3 L975.3 171.2 L976.3 174.5 L977.3 174.4 L978.3 167.9 L979.3 170.8 L980.3 166.9 L981.3 165.3 L982.3 164.1 L983.3 165.9 L984.3 164.1 L985.3 166.9 L986.3 164.3 L987.3 165.3 L988.3 166.3 L989.3 167.6 L990.3 162.7 L991.3 160.5 L992.3 164.2 L993.3 164.7 L994.3 172.0 L995.3 171.0 L996.3 164.5 L997.3 163.7 L998.3 159.1 L999.3 152.2 L1000.3 152.7 L1001.3 152.1 L1002.3 152.2 L1003.3 153.8 L1004.3 154.2 L1005.3 156.5 L1006.3 156.3 L1007.3 156.9 L1008.3 163.2 L1009.3 162.6 L1010.3 163.9 L1011.3 160.9 L1012.3 163.6 L1013.3 163.2 L1014.3 156.4 L1015.3 158.3 L1016.3 154.3 L1017.3 154.4 L1018.3 152.0 L1019.3 150.4 L1020.3 149.9 L1021.3 144.1 L1022.3 146.7 L1023.3 143.5 L1024.3 144.0 L1025.3 148.7 L1026.3 146.7 L1027.3 149.1 L1028.3 153.2 L1029.3 153.1 L1030.3 144.9 L1031.3 147.1 L1032.3 151.1 L1033.3 154.6 L1034.3 156.2 L1035.3 159.4 L1036.3 159.9 L1037.3 158.2 L1038.3 159.9 L1039.3 157.2 L1040.3 153.3 L1041.3 152.1 L1042.3 146.0 L1043.3 140.5 L1044.3 142.8 L1045.3 136.3 L1046.3 135.9 L1047.3 135.3 L1048.3 133.6 L1049.3 134.1 L1050.3 138.2 L1051.3 146.1 L1052.3 140.9 L1053.3 138.6 L1054.3 138.7 L1055.3 135.9 L1056.3 135.9 L1057.3 136.1 L1058.3 130.2 L1059.3 133.0 L1060.3 136.6 L1061.3 138.9 L1062.3 143.4 L1063.3 145.9 L1064.3 148.2 L1065.3 152.4 L1066.3 154.6 L1067.3 158.2 L1068.3 161.8 L1069.3 162.4 L1070.3 163.9 L1071.3 166.4 L1072.3 170.9 L1073.3 170.3 L1074.3 168.5 L1075.3 166.5 L1076.3 163.7 L1077.3 159.3 L1078.3 157.9 L1079.3 153.6 L1080.3 154.3 L1081.3 152.7 L1082.3 155.8 L1083.3 154.0 L1084.3 155.4 L1085.3 156.7 L1086.3 157.5 L1087.3 151.8 L1088.3 149.8 L1089.3 152.7 L1090.3 148.3 L1091.3 150.6 L1092.3 148.1 L1093.3 148.2 L1094.3 144.0 L1095.3 147.7 L1096.3 142.9 L1097.3 139.2 L1098.3 142.7 L1099.3 139.1 L1100.3 143.4 L1101.3 136.1 L1102.3 129.9 L1103.3 125.3 L1104.3 123.2 L1105.3 116.4 L1106.3 116.5 L1107.3 116.0 L1108.3 112.3 L1109.3 112.9 L1110.3 110.4 L1111.3 107.4 L1112.3 119.2 L1113.3 130.2 L1114.3 137.1 L1115.3 140.3 L1116.3 143.1 L1117.3 152.6 L1118.3 153.2 L1119.3 151.2 L1120.3 155.6 L1121.3 154.2 L1122.3 158.3 L1123.3 160.3 L1124.3 162.2 L1125.3 163.3 L1126.3 164.5 L1127.3 162.4 L1128.3 162.4 L1129.3 161.0 L1130.3 160.2 L1131.3 160.0 L1132.3 159.5 L1133.3 160.4 L1134.3 152.0 L1135.3 158.7 L1136.3 159.3 L1137.3 164.9 L1138.3 160.6 L1139.3 152.9 L1140.3 154.7 L1141.3 154.2 L1142.3 158.6 L1143.3 155.9 L1144.3 159.3 L1145.3 161.4 L1146.3 163.5 L1147.3 164.3 L1148.3 162.9 L1149.3 168.7 L1150.3 171.7 L1151.3 168.3 L1152.3 164.7 L1153.3 165.8 L1154.3 168.1 L1155.3 169.3 L1156.3 172.1 L1157.3 178.3 L1158.3 177.3 L1159.3 181.9 L1160.3 183.2 L1161.3 189.4 L1162.3 193.6 L1163.3 197.1 L1164.3 195.1 L1165.3 195.0 L1166.3 186.0 L1167.3 181.5 L1168.3 183.7 L1169.3 176.8 L1170.3 170.3 L1171.3 173.0 L1172.3 169.3 L1173.3 173.1 L1174.3 165.2 L1175.3 163.4 L1176.3 158.7 L1177.3 161.0 L1178.3 160.2 L1179.3 163.2 L1180.3 163.9" fill="none" stroke="#ED7D31" stroke-width="4.2" stroke-linejoin="round" stroke-linecap="round"/>
<path d="M687.3 162.1 L688.3 160.7 L689.3 155.2 L690.3 150.1 L691.3 149.3 L692.3 144.4 L693.3 140.2 L694.3 141.8 L695.3 136.1 L696.3 132.7 L697.3 130.9 L698.3 131.3 L699.3 132.7 L700.3 132.0 L701.3 133.3 L702.3 136.2 L703.3 137.4 L704.3 136.5 L705.3 139.0 L706.3 139.1 L707.3 137.6 L708.3 139.6 L709.3 137.6 L710.3 136.2 L711.3 140.2 L712.3 137.4 L713.3 133.8 L714.3 133.5 L715.3 137.3 L716.3 131.0 L717.3 130.5 L718.3 121.7 L719.3 112.8 L720.3 104.3 L721.3 98.6 L722.3 96.4 L723.3 95.0 L724.3 93.9 L725.3 97.0 L726.3 99.5 L727.3 94.8 L728.3 95.4 L729.3 90.4 L730.3 88.7 L731.3 90.1 L732.3 92.0 L733.3 94.9 L734.3 96.2 L735.3 111.8 L736.3 119.1 L737.3 126.8 L738.3 132.9 L739.3 133.7 L740.3 135.1 L741.3 140.6 L742.3 142.1 L743.3 140.8 L744.3 145.1 L745.3 145.1 L746.3 142.5 L747.3 148.4 L748.3 143.8 L749.3 138.6 L750.3 139.7 L751.3 137.9 L752.3 138.3 L753.3 132.2 L754.3 135.5 L755.3 134.4 L756.3 132.5 L757.3 131.1 L758.3 132.0 L759.3 130.2 L760.3 128.1 L761.3 128.4 L762.3 135.0 L763.3 137.7 L764.3 137.8 L765.3 138.0 L766.3 139.8 L767.3 134.1 L768.3 141.4 L769.3 138.0 L770.3 145.2 L771.3 149.5 L772.3 153.5 L773.3 150.7 L774.3 154.5 L775.3 156.3 L776.3 154.3 L777.3 162.3 L778.3 162.7 L779.3 164.1 L780.3 163.3 L781.3 159.7 L782.3 154.8 L783.3 152.0 L784.3 147.5 L785.3 152.8 L786.3 143.9 L787.3 142.1 L788.3 141.1 L789.3 138.2 L790.3 141.8 L791.3 141.7 L792.3 138.9 L793.3 142.7 L794.3 146.5 L795.3 142.6 L796.3 146.8 L797.3 147.6 L798.3 154.3 L799.3 152.1 L800.3 151.1 L801.3 147.9 L802.3 150.4 L803.3 143.2 L804.3 146.9 L805.3 137.9 L806.3 138.8 L807.3 139.0 L808.3 140.0 L809.3 142.9 L810.3 147.1 L811.3 147.7 L812.3 149.2 L813.3 158.2 L814.3 160.8 L815.3 157.6 L816.3 160.6 L817.3 156.9 L818.3 167.4 L819.3 166.4 L820.3 170.7 L821.3 178.6 L822.3 173.9 L823.3 178.0 L824.3 178.4 L825.3 179.2 L826.3 183.2 L827.3 191.7 L828.3 196.6 L829.3 200.8 L830.3 193.7 L831.3 182.6 L832.3 177.3 L833.3 180.4 L834.3 175.3 L835.3 175.2 L836.3 167.5 L837.3 170.2 L838.3 161.0 L839.3 155.6 L840.3 154.3 L841.3 150.9 L842.3 151.0 L843.3 148.0 L844.3 149.1 L845.3 149.5 L846.3 144.1 L847.3 140.8 L848.3 141.3 L849.3 142.8 L850.3 141.7 L851.3 138.0 L852.3 135.8 L853.3 137.0 L854.3 138.6 L855.3 134.6 L856.3 137.9 L857.3 135.3 L858.3 135.6 L859.3 135.0 L860.3 140.3 L861.3 139.3 L862.3 137.1 L863.3 143.0 L864.3 142.2 L865.3 143.1 L866.3 138.7 L867.3 134.2 L868.3 131.7 L869.3 125.1 L870.3 118.9 L871.3 116.0 L872.3 115.9 L873.3 112.4 L874.3 110.0 L875.3 109.9 L876.3 113.5 L877.3 114.4 L878.3 116.8 L879.3 116.4 L880.3 120.7 L881.3 113.3 L882.3 114.5 L883.3 114.6 L884.3 114.2 L885.3 109.7 L886.3 110.5 L887.3 113.7 L888.3 116.9 L889.3 117.9 L890.3 113.1 L891.3 117.3 L892.3 122.4 L893.3 122.9 L894.3 123.1 L895.3 126.2 L896.3 127.6 L897.3 135.5 L898.3 136.0 L899.3 138.8 L900.3 141.1 L901.3 146.3 L902.3 149.5 L903.3 153.8 L904.3 160.5 L905.3 164.3 L906.3 169.7 L907.3 173.2 L908.3 173.1 L909.3 165.3 L910.3 160.4 L911.3 155.8 L912.3 150.2 L913.3 150.9 L914.3 144.3 L915.3 141.2 L916.3 146.3 L917.3 144.9 L918.3 143.0 L919.3 147.3 L920.3 149.0 L921.3 149.8 L922.3 147.1 L923.3 150.9 L924.3 149.8 L925.3 151.1 L926.3 152.0 L927.3 152.1 L928.3 155.5 L929.3 153.7 L930.3 157.2 L931.3 156.2 L932.3 152.9 L933.3 151.7 L934.3 150.3 L935.3 148.7 L936.3 143.6 L937.3 145.6 L938.3 141.5 L939.3 142.2 L940.3 138.8 L941.3 140.8 L942.3 147.7 L943.3 147.1 L944.3 150.3 L945.3 154.0 L946.3 145.3 L947.3 143.4 L948.3 141.6 L949.3 135.0 L950.3 129.9 L951.3 127.4 L952.3 123.4 L953.3 126.2 L954.3 128.8 L955.3 127.1 L956.3 129.8 L957.3 130.7 L958.3 132.9 L959.3 133.3 L960.3 128.0 L961.3 131.0 L962.3 129.5 L963.3 124.0 L964.3 123.9 L965.3 120.2 L966.3 119.5 L967.3 117.7 L968.3 111.4 L969.3 108.3 L970.3 104.1 L971.3 102.1 L972.3 103.9 L973.3 105.4 L974.3 112.8 L975.3 115.5 L976.3 118.1 L977.3 125.8 L978.3 126.9 L979.3 132.3 L980.3 129.4 L981.3 135.9 L982.3 133.9 L983.3 134.5 L984.3 139.3 L985.3 137.8 L986.3 140.0 L987.3 144.8 L988.3 145.6 L989.3 148.2 L990.3 147.9 L991.3 148.1 L992.3 148.1 L993.3 150.7 L994.3 150.6 L995.3 154.2 L996.3 153.5 L997.3 146.7 L998.3 145.9 L999.3 151.8 L1000.3 146.9 L1001.3 146.6 L1002.3 145.2 L1003.3 146.7 L1004.3 151.5 L1005.3 146.4 L1006.3 143.0 L1007.3 138.3 L1008.3 131.4 L1009.3 128.2 L1010.3 126.8 L1011.3 124.8 L1012.3 124.1 L1013.3 119.9 L1014.3 121.0 L1015.3 128.5 L1016.3 125.9 L1017.3 128.4 L1018.3 126.6 L1019.3 126.4 L1020.3 133.0 L1021.3 127.2 L1022.3 127.2 L1023.3 129.2 L1024.3 126.8 L1025.3 122.0 L1026.3 126.7 L1027.3 129.6 L1028.3 126.3 L1029.3 129.2 L1030.3 133.6 L1031.3 137.6 L1032.3 129.7 L1033.3 132.3 L1034.3 134.1 L1035.3 132.4 L1036.3 133.5 L1037.3 135.7 L1038.3 139.3 L1039.3 138.5 L1040.3 144.9 L1041.3 147.9 L1042.3 150.0 L1043.3 152.8 L1044.3 150.0 L1045.3 151.9 L1046.3 155.5 L1047.3 157.6 L1048.3 158.3 L1049.3 154.5 L1050.3 152.8 L1051.3 149.7 L1052.3 150.7 L1053.3 149.9 L1054.3 150.7 L1055.3 151.2 L1056.3 155.1 L1057.3 156.7 L1058.3 156.2 L1059.3 154.5 L1060.3 157.2 L1061.3 159.1 L1062.3 159.4 L1063.3 156.1 L1064.3 155.3 L1065.3 150.4 L1066.3 151.5 L1067.3 150.6 L1068.3 147.1 L1069.3 144.6 L1070.3 147.4 L1071.3 141.8 L1072.3 142.8 L1073.3 138.4 L1074.3 135.4 L1075.3 132.3 L1076.3 126.6 L1077.3 122.1 L1078.3 120.6 L1079.3 123.6 L1080.3 124.2 L1081.3 129.2 L1082.3 132.6 L1083.3 131.2 L1084.3 137.0 L1085.3 134.8 L1086.3 136.4 L1087.3 133.8 L1088.3 133.8 L1089.3 134.7 L1090.3 136.1 L1091.3 140.4 L1092.3 139.0 L1093.3 142.6 L1094.3 141.4 L1095.3 141.0 L1096.3 143.2 L1097.3 142.2 L1098.3 139.5 L1099.3 143.5 L1100.3 146.8 L1101.3 144.9 L1102.3 145.0 L1103.3 149.0 L1104.3 151.5 L1105.3 156.0 L1106.3 156.1 L1107.3 159.0 L1108.3 161.2 L1109.3 166.3 L1110.3 164.0 L1111.3 164.3 L1112.3 172.1 L1113.3 169.7 L1114.3 167.1 L1115.3 168.1 L1116.3 164.6 L1117.3 164.9 L1118.3 166.1 L1119.3 158.9 L1120.3 154.3 L1121.3 149.7 L1122.3 145.8 L1123.3 142.3 L1124.3 141.1 L1125.3 140.3 L1126.3 137.7 L1127.3 130.6 L1128.3 131.0 L1129.3 124.4 L1130.3 123.6 L1131.3 126.1 L1132.3 127.6 L1133.3 130.7 L1134.3 125.8 L1135.3 132.3 L1136.3 130.8 L1137.3 132.0 L1138.3 135.2 L1139.3 138.8 L1140.3 135.4 L1141.3 134.6 L1142.3 137.0 L1143.3 138.2 L1144.3 141.1 L1145.3 138.9 L1146.3 136.1 L1147.3 134.1 L1148.3 133.1 L1149.3 136.1 L1150.3 130.9 L1151.3 132.4 L1152.3 133.3 L1153.3 138.8 L1154.3 138.5 L1155.3 137.6 L1156.3 141.1 L1157.3 144.6 L1158.3 143.2 L1159.3 137.5 L1160.3 138.6 L1161.3 141.0 L1162.3 133.8 L1163.3 133.1 L1164.3 133.6 L1165.3 134.8 L1166.3 131.5 L1167.3 132.6 L1168.3 132.2 L1169.3 135.2 L1170.3 134.1 L1171.3 133.6 L1172.3 133.0 L1173.3 137.1 L1174.3 138.7 L1175.3 137.2 L1176.3 132.0 L1177.3 130.6 L1178.3 133.7 L1179.3 134.3 L1180.3 134.0" fill="none" stroke="#A5A5A5" stroke-width="4.2" stroke-linejoin="round" stroke-linecap="round"/>
<path d="M687.3 173.8 L688.3 179.2 L689.3 176.7 L690.3 173.5 L691.3 176.3 L692.3 176.1 L693.3 174.4 L694.3 173.4 L695.3 170.7 L696.3 168.4 L697.3 167.3 L698.3 167.7 L699.3 166.8 L700.3 167.8 L701.3 165.4 L702.3 159.4 L703.3 161.2 L704.3 158.0 L705.3 158.3 L706.3 157.2 L707.3 152.3 L708.3 144.2 L709.3 150.6 L710.3 148.4 L711.3 156.6 L712.3 151.5 L713.3 149.4 L714.3 151.1 L715.3 143.0 L716.3 148.7 L717.3 149.4 L718.3 153.0 L719.3 155.8 L720.3 162.3 L721.3 163.8 L722.3 179.6 L723.3 191.3 L724.3 190.3 L725.3 197.6 L726.3 190.7 L727.3 183.2 L728.3 178.9 L729.3 176.4 L730.3 171.0 L731.3 161.5 L732.3 160.1 L733.3 159.2 L734.3 159.6 L735.3 156.2 L736.3 157.7 L737.3 153.3 L738.3 152.8 L739.3 157.7 L740.3 160.2 L741.3 160.5 L742.3 161.3 L743.3 159.2 L744.3 159.0 L745.3 158.1 L746.3 154.1 L747.3 152.0 L748.3 147.3 L749.3 148.7 L750.3 146.8 L751.3 154.3 L752.3 153.9 L753.3 154.3 L754.3 148.6 L755.3 149.5 L756.3 146.9 L757.3 141.6 L758.3 144.6 L759.3 144.5 L760.3 138.0 L761.3 139.8 L762.3 142.6 L763.3 136.6 L764.3 140.7 L765.3 143.1 L766.3 145.2 L767.3 139.7 L768.3 140.2 L769.3 139.5 L770.3 138.6 L771.3 130.2 L772.3 126.9 L773.3 122.2 L774.3 122.9 L775.3 119.7 L776.3 125.2 L777.3 128.9 L778.3 133.2 L779.3 134.4 L780.3 136.7 L781.3 141.1 L782.3 142.5 L783.3 141.3 L784.3 145.1 L785.3 148.0 L786.3 144.0 L787.3 140.1 L788.3 139.0 L789.3 144.4 L790.3 136.5 L791.3 135.6 L792.3 132.4 L793.3 127.5 L794.3 127.2 L795.3 124.2 L796.3 121.2 L797.3 115.3 L798.3 118.8 L799.3 116.9 L800.3 113.7 L801.3 106.5 L802.3 107.1 L803.3 100.4 L804.3 97.7 L805.3 96.0 L806.3 96.0 L807.3 100.5 L808.3 101.1 L809.3 108.7 L810.3 109.5 L811.3 116.1 L812.3 120.2 L813.3 119.0 L814.3 117.2 L815.3 116.4 L816.3 116.3 L817.3 116.8 L818.3 117.7 L819.3 115.4 L820.3 115.2 L821.3 114.2 L822.3 110.7 L823.3 111.0 L824.3 108.1 L825.3 104.9 L826.3 104.1 L827.3 103.7 L828.3 101.0 L829.3 97.6 L830.3 98.4 L831.3 95.6 L832.3 96.5 L833.3 92.8 L834.3 92.8 L835.3 90.5 L836.3 86.1 L837.3 88.1 L838.3 90.3 L839.3 94.3 L840.3 99.7 L841.3 101.7 L842.3 103.5 L843.3 102.4 L844.3 106.1 L845.3 109.8 L846.3 99.3 L847.3 102.4 L848.3 103.3 L849.3 113.1 L850.3 120.9 L851.3 122.2 L852.3 133.5 L853.3 129.1 L854.3 129.3 L855.3 131.3 L856.3 130.9 L857.3 132.8 L858.3 132.5 L859.3 132.6 L860.3 136.1 L861.3 135.2 L862.3 141.6 L863.3 141.0 L864.3 144.7 L865.3 140.5 L866.3 142.5 L867.3 147.2 L868.3 156.5 L869.3 152.4 L870.3 142.5 L871.3 125.6 L872.3 113.3 L873.3 116.2 L874.3 114.5 L875.3 116.0 L876.3 116.9 L877.3 116.6 L878.3 113.8 L879.3 113.9 L880.3 119.4 L881.3 113.4 L882.3 112.8 L883.3 111.8 L884.3 110.8 L885.3 109.8 L886.3 107.7 L887.3 106.4 L888.3 101.8 L889.3 108.4 L890.3 104.7 L891.3 101.1 L892.3 105.6 L893.3 114.3 L894.3 117.8 L895.3 127.4 L896.3 131.9 L897.3 129.0 L898.3 127.2 L899.3 126.4 L900.3 121.4 L901.3 118.2 L902.3 119.6 L903.3 114.2 L904.3 112.1 L905.3 111.6 L906.3 108.5 L907.3 103.6 L908.3 108.1 L909.3 102.9 L910.3 105.2 L911.3 101.5 L912.3 97.0 L913.3 101.3 L914.3 97.4 L915.3 94.9 L916.3 99.6 L917.3 98.5 L918.3 106.9 L919.3 109.1 L920.3 114.6 L921.3 118.0 L922.3 125.1 L923.3 126.8 L924.3 130.3 L925.3 133.7 L926.3 131.6 L927.3 131.6 L928.3 132.6 L929.3 126.6 L930.3 120.9 L931.3 117.6 L932.3 108.3 L933.3 105.0 L934.3 107.5 L935.3 108.4 L936.3 110.1 L937.3 104.3 L938.3 102.1 L939.3 104.8 L940.3 108.5 L941.3 113.3 L942.3 115.7 L943.3 119.7 L944.3 120.9 L945.3 126.8 L946.3 128.2 L947.3 131.4 L948.3 131.9 L949.3 130.7 L950.3 132.2 L951.3 131.0 L952.3 132.7 L953.3 138.0 L954.3 141.2 L955.3 146.3 L956.3 147.0 L957.3 150.8 L958.3 153.6 L959.3 154.9 L960.3 156.7 L961.3 164.9 L962.3 163.8 L963.3 170.2 L964.3 171.0 L965.3 173.1 L966.3 166.2 L967.3 166.1 L968.3 159.4 L969.3 159.2 L970.3 155.5 L971.3 155.7 L972.3 155.4 L973.3 159.9 L974.3 161.9 L975.3 160.1 L976.3 156.9 L977.3 151.4 L978.3 146.9 L979.3 144.2 L980.3 148.8 L981.3 152.2 L982.3 150.6 L983.3 153.5 L984.3 151.1 L985.3 151.8 L986.3 158.1 L987.3 167.3 L988.3 170.6 L989.3 177.2 L990.3 177.7 L991.3 178.6 L992.3 177.8 L993.3 178.2 L994.3 174.8 L995.3 176.1 L996.3 172.8 L997.3 165.7 L998.3 167.8 L999.3 166.6 L1000.3 159.2 L1001.3 162.5 L1002.3 167.2 L1003.3 169.6 L1004.3 177.1 L1005.3 185.9 L1006.3 196.7 L1007.3 208.4 L1008.3 220.2 L1009.3 217.7 L1010.3 219.0 L1011.3 210.4 L1012.3 209.0 L1013.3 201.5 L1014.3 200.1 L1015.3 197.1 L1016.3 192.0 L1017.3 188.9 L1018.3 184.9 L1019.3 183.0 L1020.3 179.4 L1021.3 176.0 L1022.3 174.7 L1023.3 175.5 L1024.3 171.5 L1025.3 171.0 L1026.3 169.4 L1027.3 164.2 L1028.3 165.4 L1029.3 162.9 L1030.3 158.6 L1031.3 156.8 L1032.3 153.1 L1033.3 158.5 L1034.3 158.5 L1035.3 163.7 L1036.3 166.2 L1037.3 166.6 L1038.3 172.4 L1039.3 174.2 L1040.3 172.7 L1041.3 173.2 L1042.3 171.7 L1043.3 172.3 L1044.3 174.5 L1045.3 173.9 L1046.3 181.1 L1047.3 178.4 L1048.3 184.5 L1049.3 190.1 L1050.3 198.8 L1051.3 203.1 L1052.3 205.1 L1053.3 206.1 L1054.3 208.1 L1055.3 206.7 L1056.3 203.2 L1057.3 202.6 L1058.3 199.4 L1059.3 203.4 L1060.3 208.7 L1061.3 211.0 L1062.3 199.5 L1063.3 170.5 L1064.3 148.7 L1065.3 146.9 L1066.3 150.0 L1067.3 147.7 L1068.3 150.0 L1069.3 148.8 L1070.3 149.5 L1071.3 152.1 L1072.3 153.5 L1073.3 159.7 L1074.3 160.3 L1075.3 157.0 L1076.3 151.8 L1077.3 150.6 L1078.3 152.9 L1079.3 155.8 L1080.3 154.1 L1081.3 154.6 L1082.3 156.4 L1083.3 156.3 L1084.3 156.6 L1085.3 155.8 L1086.3 161.9 L1087.3 160.9 L1088.3 159.7 L1089.3 160.4 L1090.3 157.9 L1091.3 157.9 L1092.3 159.0 L1093.3 164.8 L1094.3 161.3 L1095.3 161.3 L1096.3 156.2 L1097.3 152.6 L1098.3 157.6 L1099.3 160.2 L1100.3 163.0 L1101.3 164.4 L1102.3 156.4 L1103.3 149.1 L1104.3 147.9 L1105.3 143.0 L1106.3 143.4 L1107.3 135.4 L1108.3 139.0 L1109.3 133.6 L1110.3 132.6 L1111.3 131.7 L1112.3 125.8 L1113.3 121.1 L1114.3 121.2 L1115.3 120.3 L1116.3 116.2 L1117.3 120.0 L1118.3 114.7 L1119.3 112.8 L1120.3 111.6 L1121.3 109.2 L1122.3 108.0 L1123.3 98.1 L1124.3 100.2 L1125.3 101.7 L1126.3 99.9 L1127.3 97.3 L1128.3 89.0 L1129.3 86.0 L1130.3 89.8 L1131.3 96.3 L1132.3 99.3 L1133.3 102.7 L1134.3 103.9 L1135.3 101.8 L1136.3 106.4 L1137.3 102.5 L1138.3 97.9 L1139.3 97.8 L1140.3 97.5 L1141.3 95.3 L1142.3 92.4 L1143.3 93.1 L1144.3 90.2 L1145.3 88.7 L1146.3 93.3 L1147.3 93.0 L1148.3 91.5 L1149.3 90.7 L1150.3 89.5 L1151.3 85.2 L1152.3 86.1 L1153.3 91.3 L1154.3 90.4 L1155.3 92.4 L1156.3 95.0 L1157.3 98.0 L1158.3 96.4 L1159.3 100.9 L1160.3 103.4 L1161.3 99.5 L1162.3 107.0 L1163.3 103.9 L1164.3 96.6 L1165.3 97.8 L1166.3 93.0 L1167.3 92.2 L1168.3 93.8 L1169.3 84.2 L1170.3 85.4 L1171.3 84.8 L1172.3 82.5 L1173.3 79.0 L1174.3 78.4 L1175.3 77.1 L1176.3 82.7 L1177.3 90.7 L1178.3 94.0 L1179.3 99.1 L1180.3 100.3" fill="none" stroke="#FFC000" stroke-width="4.2" stroke-linejoin="round" stroke-linecap="round"/>
<path d="M687.3 147.8 L688.3 151.5 L689.3 150.6 L690.3 151.3 L691.3 157.0 L692.3 161.2 L693.3 160.9 L694.3 158.6 L695.3 161.0 L696.3 166.1 L697.3 162.6 L698.3 169.2 L699.3 170.5 L700.3 169.6 L701.3 168.9 L702.3 164.8 L703.3 164.1 L704.3 166.9 L705.3 161.4 L706.3 159.9 L707.3 158.5 L708.3 160.9 L709.3 164.3 L710.3 164.6 L711.3 162.1 L712.3 160.6 L713.3 160.2 L714.3 160.4 L715.3 162.4 L716.3 160.8 L717.3 163.8 L718.3 162.3 L719.3 159.5 L720.3 161.7 L721.3 166.0 L722.3 167.7 L723.3 165.4 L724.3 163.5 L725.3 162.9 L726.3 160.9 L727.3 159.3 L728.3 153.1 L729.3 152.7 L730.3 155.3 L731.3 155.4 L732.3 159.5 L733.3 156.5 L734.3 158.4 L735.3 160.1 L736.3 159.9 L737.3 160.5 L738.3 161.2 L739.3 160.7 L740.3 158.4 L741.3 157.1 L742.3 156.5 L743.3 154.8 L744.3 160.7 L745.3 161.1 L746.3 165.3 L747.3 166.4 L748.3 171.3 L749.3 173.2 L750.3 170.7 L751.3 167.1 L752.3 166.1 L753.3 168.0 L754.3 160.6 L755.3 164.1 L756.3 164.0 L757.3 164.0 L758.3 163.4 L759.3 170.4 L760.3 168.7 L761.3 170.9 L762.3 168.8 L763.3 163.2 L764.3 160.2 L765.3 153.2 L766.3 145.9 L767.3 143.2 L768.3 142.3 L769.3 136.7 L770.3 131.7 L771.3 128.7 L772.3 126.3 L773.3 129.5 L774.3 134.2 L775.3 142.4 L776.3 144.4 L777.3 146.8 L778.3 155.8 L779.3 153.6 L780.3 156.0 L781.3 156.7 L782.3 156.5 L783.3 157.8 L784.3 160.2 L785.3 161.3 L786.3 158.7 L787.3 157.7 L788.3 158.6 L789.3 155.6 L790.3 151.1 L791.3 149.9 L792.3 145.8 L793.3 142.4 L794.3 141.2 L795.3 143.1 L796.3 137.0 L797.3 132.5 L798.3 134.6 L799.3 132.4 L800.3 133.2 L801.3 132.5 L802.3 127.4 L803.3 126.6 L804.3 123.2 L805.3 126.0 L806.3 122.2 L807.3 124.1 L808.3 129.6 L809.3 124.2 L810.3 127.1 L811.3 128.2 L812.3 130.5 L813.3 129.6 L814.3 130.4 L815.3 127.2 L816.3 126.3 L817.3 121.9 L818.3 124.2 L819.3 120.8 L820.3 127.0 L821.3 126.2 L822.3 129.4 L823.3 128.0 L824.3 130.5 L825.3 131.6 L826.3 134.3 L827.3 135.1 L828.3 136.0 L829.3 138.1 L830.3 138.9 L831.3 139.6 L832.3 140.3 L833.3 139.8 L834.3 146.6 L835.3 141.9 L836.3 140.2 L837.3 143.7 L838.3 142.0 L839.3 141.1 L840.3 144.9 L841.3 147.9 L842.3 143.9 L843.3 148.7 L844.3 148.0 L845.3 149.8 L846.3 152.0 L847.3 164.2 L848.3 171.6 L849.3 170.4 L850.3 181.5 L851.3 186.4 L852.3 184.9 L853.3 191.9 L854.3 195.1 L855.3 199.9 L856.3 200.8 L857.3 206.3 L858.3 209.5 L859.3 209.9 L860.3 211.2 L861.3 209.1 L862.3 214.7 L863.3 212.8 L864.3 216.4 L865.3 216.3 L866.3 225.0 L867.3 222.3 L868.3 227.0 L869.3 224.4 L870.3 222.1 L871.3 221.6 L872.3 216.9 L873.3 206.6 L874.3 186.9 L875.3 179.6 L876.3 164.1 L877.3 160.0 L878.3 161.9 L879.3 156.7 L880.3 162.1 L881.3 159.1 L882.3 157.3 L883.3 159.9 L884.3 152.2 L885.3 148.0 L886.3 140.7 L887.3 141.2 L888.3 145.3 L889.3 142.7 L890.3 150.1 L891.3 155.1 L892.3 158.2 L893.3 157.7 L894.3 162.2 L895.3 164.6 L896.3 172.1 L897.3 176.5 L898.3 177.4 L899.3 181.1 L900.3 184.5 L901.3 188.2 L902.3 187.7 L903.3 189.7 L904.3 193.9 L905.3 194.3 L906.3 194.9 L907.3 191.6 L908.3 189.6 L909.3 185.8 L910.3 180.5 L911.3 182.4 L912.3 178.9 L913.3 173.7 L914.3 173.0 L915.3 171.1 L916.3 168.9 L917.3 168.8 L918.3 167.4 L919.3 168.3 L920.3 169.8 L921.3 168.5 L922.3 165.0 L923.3 167.0 L924.3 168.4 L925.3 169.3 L926.3 175.8 L927.3 172.1 L928.3 175.7 L929.3 170.7 L930.3 175.6 L931.3 176.6 L932.3 182.5 L933.3 179.6 L934.3 175.1 L935.3 175.8 L936.3 175.8 L937.3 174.8 L938.3 173.8 L939.3 170.6 L940.3 179.4 L941.3 178.2 L942.3 182.5 L943.3 181.0 L944.3 184.8 L945.3 183.8 L946.3 184.3 L947.3 176.7 L948.3 179.9 L949.3 174.4 L950.3 171.9 L951.3 167.2 L952.3 161.1 L953.3 158.2 L954.3 154.3 L955.3 146.6 L956.3 147.3 L957.3 149.7 L958.3 153.3 L959.3 148.6 L960.3 150.1 L961.3 147.4 L962.3 148.7 L963.3 147.7 L964.3 142.6 L965.3 140.7 L966.3 145.3 L967.3 144.3 L968.3 141.3 L969.3 142.2 L970.3 140.1 L971.3 140.2 L972.3 138.3 L973.3 142.7 L974.3 147.9 L975.3 150.4 L976.3 151.5 L977.3 150.5 L978.3 153.3 L979.3 153.3 L980.3 157.3 L981.3 162.2 L982.3 163.2 L983.3 166.9 L984.3 164.5 L985.3 172.5 L986.3 169.3 L987.3 165.4 L988.3 160.5 L989.3 160.1 L990.3 161.8 L991.3 160.6 L992.3 164.5 L993.3 166.4 L994.3 172.7 L995.3 176.7 L996.3 178.6 L997.3 174.1 L998.3 174.8 L999.3 181.9 L1000.3 182.5 L1001.3 184.3 L1002.3 185.2 L1003.3 186.9 L1004.3 193.4 L1005.3 193.9 L1006.3 189.5 L1007.3 181.9 L1008.3 180.0 L1009.3 179.5 L1010.3 175.5 L1011.3 173.4 L1012.3 168.5 L1013.3 167.5 L1014.3 162.4 L1015.3 160.2 L1016.3 161.6 L1017.3 161.8 L1018.3 156.4 L1019.3 155.4 L1020.3 154.6 L1021.3 154.1 L1022.3 154.3 L1023.3 156.8 L1024.3 156.6 L1025.3 156.4 L1026.3 158.6 L1027.3 155.4 L1028.3 159.7 L1029.3 166.7 L1030.3 163.6 L1031.3 166.6 L1032.3 170.8 L1033.3 174.5 L1034.3 174.0 L1035.3 174.1 L1036.3 180.6 L1037.3 174.4 L1038.3 178.0 L1039.3 177.3 L1040.3 172.1 L1041.3 177.4 L1042.3 177.7 L1043.3 169.3 L1044.3 169.6 L1045.3 169.2 L1046.3 173.9 L1047.3 174.9 L1048.3 179.0 L1049.3 181.7 L1050.3 183.0 L1051.3 186.0 L1052.3 190.9 L1053.3 189.9 L1054.3 192.0 L1055.3 192.0 L1056.3 194.7 L1057.3 198.1 L1058.3 196.4 L1059.3 197.4 L1060.3 199.4 L1061.3 205.7 L1062.3 204.2 L1063.3 207.8 L1064.3 213.7 L1065.3 210.7 L1066.3 214.9 L1067.3 212.7 L1068.3 213.5 L1069.3 216.2 L1070.3 214.6 L1071.3 212.4 L1072.3 218.4 L1073.3 218.7 L1074.3 221.9 L1075.3 225.6 L1076.3 217.8 L1077.3 207.7 L1078.3 206.0 L1079.3 198.8 L1080.3 194.9 L1081.3 201.2 L1082.3 193.0 L1083.3 187.1 L1084.3 188.5 L1085.3 186.4 L1086.3 186.5 L1087.3 184.0 L1088.3 182.4 L1089.3 184.6 L1090.3 182.7 L1091.3 181.2 L1092.3 182.6 L1093.3 179.5 L1094.3 181.5 L1095.3 178.3 L1096.3 176.3 L1097.3 174.4 L1098.3 175.2 L1099.3 178.9 L1100.3 178.9 L1101.3 177.3 L1102.3 185.8 L1103.3 185.8 L1104.3 191.1 L1105.3 191.0 L1106.3 194.3 L1107.3 194.4 L1108.3 194.3 L1109.3 190.4 L1110.3 190.2 L1111.3 188.3 L1112.3 181.9 L1113.3 177.2 L1114.3 180.0 L1115.3 184.1 L1116.3 180.9 L1117.3 184.1 L1118.3 185.5 L1119.3 191.9 L1120.3 204.7 L1121.3 192.1 L1122.3 186.8 L1123.3 176.4 L1124.3 174.4 L1125.3 175.4 L1126.3 171.3 L1127.3 169.9 L1128.3 176.7 L1129.3 178.1 L1130.3 178.5 L1131.3 182.9 L1132.3 176.9 L1133.3 175.5 L1134.3 178.0 L1135.3 174.4 L1136.3 171.5 L1137.3 172.9 L1138.3 166.4 L1139.3 162.9 L1140.3 162.4 L1141.3 163.8 L1142.3 163.0 L1143.3 159.8 L1144.3 164.3 L1145.3 160.8 L1146.3 157.9 L1147.3 154.7 L1148.3 155.2 L1149.3 155.4 L1150.3 153.4 L1151.3 159.5 L1152.3 157.0 L1153.3 154.0 L1154.3 151.7 L1155.3 147.1 L1156.3 152.0 L1157.3 148.2 L1158.3 150.9 L1159.3 149.2 L1160.3 144.7 L1161.3 145.9 L1162.3 144.3 L1163.3 142.9 L1164.3 142.3 L1165.3 142.1 L1166.3 140.8 L1167.3 142.3 L1168.3 141.3 L1169.3 139.0 L1170.3 138.4 L1171.3 139.3 L1172.3 140.5 L1173.3 142.3 L1174.3 144.0 L1175.3 143.6 L1176.3 140.8 L1177.3 144.8 L1178.3 142.5 L1179.3 143.6 L1180.3 148.5" fill="none" stroke="#5B9BD5" stroke-width="4.2" stroke-linejoin="round" stroke-linecap="round"/>
<path d="M687.3 150.0 L688.3 147.1 L689.3 144.5 L690.3 140.9 L691.3 139.9 L692.3 136.3 L693.3 134.6 L694.3 126.3 L695.3 130.9 L696.3 120.7 L697.3 127.8 L698.3 131.5 L699.3 128.8 L700.3 126.8 L701.3 127.5 L702.3 129.4 L703.3 131.4 L704.3 126.2 L705.3 129.9 L706.3 128.3 L707.3 131.8 L708.3 128.8 L709.3 127.3 L710.3 126.8 L711.3 121.3 L712.3 124.6 L713.3 127.8 L714.3 134.0 L715.3 133.7 L716.3 134.3 L717.3 133.9 L718.3 132.3 L719.3 131.5 L720.3 115.4 L721.3 112.1 L722.3 116.0 L723.3 116.1 L724.3 113.5 L725.3 113.6 L726.3 113.9 L727.3 106.6 L728.3 102.9 L729.3 103.8 L730.3 105.7 L731.3 106.3 L732.3 107.5 L733.3 111.1 L734.3 113.5 L735.3 111.1 L736.3 117.4 L737.3 117.3 L738.3 121.7 L739.3 124.5 L740.3 129.1 L741.3 132.7 L742.3 131.7 L743.3 133.6 L744.3 136.7 L745.3 137.2 L746.3 136.0 L747.3 140.3 L748.3 139.3 L749.3 140.7 L750.3 143.1 L751.3 147.9 L752.3 145.0 L753.3 147.6 L754.3 150.5 L755.3 149.7 L756.3 153.0 L757.3 157.1 L758.3 152.8 L759.3 158.1 L760.3 158.8 L761.3 166.7 L762.3 166.1 L763.3 167.9 L764.3 169.5 L765.3 171.3 L766.3 172.5 L767.3 164.3 L768.3 154.8 L769.3 150.6 L770.3 140.8 L771.3 128.9 L772.3 126.8 L773.3 126.4 L774.3 121.3 L775.3 120.9 L776.3 117.6 L777.3 116.8 L778.3 114.4 L779.3 110.6 L780.3 115.6 L781.3 112.9 L782.3 116.3 L783.3 113.8 L784.3 114.3 L785.3 115.5 L786.3 116.6 L787.3 119.8 L788.3 115.2 L789.3 120.6 L790.3 114.0 L791.3 118.3 L792.3 115.0 L793.3 113.5 L794.3 116.7 L795.3 114.6 L796.3 115.9 L797.3 115.9 L798.3 120.7 L799.3 111.6 L800.3 116.0 L801.3 113.1 L802.3 113.1 L803.3 114.7 L804.3 115.4 L805.3 108.0 L806.3 101.8 L807.3 102.2 L808.3 102.5 L809.3 104.8 L810.3 101.0 L811.3 108.2 L812.3 110.1 L813.3 107.9 L814.3 104.6 L815.3 101.0 L816.3 94.3 L817.3 93.9 L818.3 94.3 L819.3 93.6 L820.3 91.7 L821.3 90.2 L822.3 95.7 L823.3 93.5 L824.3 102.9 L825.3 110.1 L826.3 112.0 L827.3 118.3 L828.3 123.9 L829.3 127.8 L830.3 127.5 L831.3 128.7 L832.3 131.1 L833.3 133.8 L834.3 134.4 L835.3 139.2 L836.3 144.4 L837.3 142.9 L838.3 144.8 L839.3 144.0 L840.3 146.6 L841.3 148.4 L842.3 148.9 L843.3 145.9 L844.3 141.6 L845.3 145.4 L846.3 135.2 L847.3 137.8 L848.3 138.7 L849.3 141.6 L850.3 144.4 L851.3 143.7 L852.3 153.5 L853.3 152.4 L854.3 147.8 L855.3 142.6 L856.3 138.0 L857.3 144.1 L858.3 146.0 L859.3 147.1 L860.3 150.2 L861.3 147.0 L862.3 141.3 L863.3 138.5 L864.3 142.9 L865.3 145.6 L866.3 148.2 L867.3 149.3 L868.3 150.2 L869.3 150.8 L870.3 149.7 L871.3 133.7 L872.3 114.2 L873.3 96.4 L874.3 98.8 L875.3 98.9 L876.3 102.8 L877.3 101.3 L878.3 105.7 L879.3 104.7 L880.3 107.1 L881.3 108.3 L882.3 97.6 L883.3 96.4 L884.3 103.6 L885.3 102.9 L886.3 103.1 L887.3 104.7 L888.3 103.6 L889.3 101.6 L890.3 98.9 L891.3 102.0 L892.3 102.0 L893.3 105.5 L894.3 108.1 L895.3 107.9 L896.3 115.9 L897.3 111.6 L898.3 113.9 L899.3 106.9 L900.3 108.7 L901.3 106.8 L902.3 104.7 L903.3 107.6 L904.3 107.1 L905.3 103.9 L906.3 111.7 L907.3 110.8 L908.3 113.0 L909.3 115.9 L910.3 122.2 L911.3 130.3 L912.3 136.9 L913.3 146.1 L914.3 149.8 L915.3 156.3 L916.3 160.3 L917.3 162.1 L918.3 156.5 L919.3 157.2 L920.3 157.0 L921.3 152.3 L922.3 148.6 L923.3 150.0 L924.3 147.1 L925.3 149.8 L926.3 154.3 L927.3 152.1 L928.3 149.0 L929.3 147.2 L930.3 145.6 L931.3 149.0 L932.3 149.6 L933.3 148.0 L934.3 144.1 L935.3 143.8 L936.3 139.2 L937.3 135.7 L938.3 136.8 L939.3 137.4 L940.3 138.5 L941.3 143.5 L942.3 152.1 L943.3 150.1 L944.3 156.4 L945.3 158.5 L946.3 153.9 L947.3 155.1 L948.3 158.0 L949.3 159.0 L950.3 158.1 L951.3 159.0 L952.3 160.5 L953.3 170.2 L954.3 178.5 L955.3 184.7 L956.3 186.8 L957.3 189.0 L958.3 190.2 L959.3 192.2 L960.3 194.2 L961.3 201.0 L962.3 206.8 L963.3 208.1 L964.3 213.1 L965.3 214.1 L966.3 218.5 L967.3 222.8 L968.3 220.5 L969.3 228.6 L970.3 231.3 L971.3 227.8 L972.3 226.5 L973.3 225.5 L974.3 224.5 L975.3 223.4 L976.3 223.5 L977.3 231.4 L978.3 234.8 L979.3 241.0 L980.3 241.8 L981.3 243.8 L982.3 242.6 L983.3 239.4 L984.3 239.0 L985.3 231.5 L986.3 234.9 L987.3 235.8 L988.3 238.4 L989.3 237.9 L990.3 241.5 L991.3 240.7 L992.3 239.6 L993.3 252.9 L994.3 258.2 L995.3 269.3 L996.3 260.9 L997.3 257.6 L998.3 253.4 L999.3 255.4 L1000.3 249.5 L1001.3 242.5 L1002.3 241.1 L1003.3 241.6 L1004.3 242.9 L1005.3 242.5 L1006.3 245.1 L1007.3 243.0 L1008.3 239.0 L1009.3 239.1 L1010.3 237.8 L1011.3 233.9 L1012.3 228.2 L1013.3 222.1 L1014.3 214.5 L1015.3 209.3 L1016.3 200.1 L1017.3 197.5 L1018.3 192.9 L1019.3 189.6 L1020.3 189.3 L1021.3 184.9 L1022.3 185.5 L1023.3 185.6 L1024.3 190.4 L1025.3 190.6 L1026.3 187.9 L1027.3 187.5 L1028.3 188.5 L1029.3 192.9 L1030.3 197.4 L1031.3 216.7 L1032.3 216.6 L1033.3 216.2 L1034.3 209.5 L1035.3 207.9 L1036.3 207.1 L1037.3 205.6 L1038.3 202.0 L1039.3 205.8 L1040.3 200.2 L1041.3 199.8 L1042.3 204.3 L1043.3 199.2 L1044.3 193.5 L1045.3 197.2 L1046.3 198.7 L1047.3 201.8 L1048.3 204.7 L1049.3 200.5 L1050.3 201.6 L1051.3 198.9 L1052.3 195.3 L1053.3 193.1 L1054.3 191.0 L1055.3 187.7 L1056.3 193.0 L1057.3 187.4 L1058.3 184.3 L1059.3 185.5 L1060.3 181.8 L1061.3 185.4 L1062.3 187.1 L1063.3 184.1 L1064.3 182.6 L1065.3 181.6 L1066.3 182.1 L1067.3 181.8 L1068.3 180.8 L1069.3 177.6 L1070.3 178.8 L1071.3 175.2 L1072.3 177.7 L1073.3 178.3 L1074.3 177.4 L1075.3 171.7 L1076.3 168.8 L1077.3 174.9 L1078.3 170.0 L1079.3 170.2 L1080.3 172.6 L1081.3 172.8 L1082.3 173.4 L1083.3 171.0 L1084.3 165.5 L1085.3 161.3 L1086.3 161.0 L1087.3 153.2 L1088.3 159.6 L1089.3 156.4 L1090.3 154.6 L1091.3 157.0 L1092.3 156.8 L1093.3 153.3 L1094.3 150.6 L1095.3 147.4 L1096.3 147.6 L1097.3 146.7 L1098.3 143.6 L1099.3 147.8 L1100.3 150.5 L1101.3 150.7 L1102.3 154.4 L1103.3 147.8 L1104.3 145.8 L1105.3 150.0 L1106.3 143.7 L1107.3 137.3 L1108.3 134.9 L1109.3 132.4 L1110.3 131.8 L1111.3 129.7 L1112.3 127.4 L1113.3 128.7 L1114.3 134.6 L1115.3 137.4 L1116.3 133.0 L1117.3 128.8 L1118.3 126.8 L1119.3 134.1 L1120.3 136.8 L1121.3 136.6 L1122.3 133.7 L1123.3 131.9 L1124.3 134.5 L1125.3 132.4 L1126.3 132.5 L1127.3 131.5 L1128.3 136.8 L1129.3 139.3 L1130.3 139.3 L1131.3 145.6 L1132.3 141.8 L1133.3 146.4 L1134.3 145.4 L1135.3 144.3 L1136.3 145.8 L1137.3 141.0 L1138.3 145.4 L1139.3 140.5 L1140.3 139.0 L1141.3 139.7 L1142.3 138.0 L1143.3 134.3 L1144.3 136.4 L1145.3 129.0 L1146.3 124.8 L1147.3 117.2 L1148.3 112.9 L1149.3 110.8 L1150.3 105.1 L1151.3 106.5 L1152.3 114.0 L1153.3 116.6 L1154.3 124.5 L1155.3 139.6 L1156.3 154.2 L1157.3 169.3 L1158.3 161.5 L1159.3 160.6 L1160.3 155.8 L1161.3 153.2 L1162.3 149.2 L1163.3 141.5 L1164.3 142.4 L1165.3 141.1 L1166.3 136.3 L1167.3 139.9 L1168.3 137.8 L1169.3 137.8 L1170.3 133.7 L1171.3 141.6 L1172.3 143.8 L1173.3 139.7 L1174.3 139.8 L1175.3 144.7 L1176.3 140.2 L1177.3 143.7 L1178.3 144.0 L1179.3 148.6 L1180.3 147.0" fill="none" stroke="#70AD47" stroke-width="4.2" stroke-linejoin="round" stroke-linecap="round"/>
<path d="M687.3 170.2 L688.3 166.8 L689.3 156.6 L690.3 152.7 L691.3 144.0 L692.3 143.2 L693.3 137.1 L694.3 137.8 L695.3 138.9 L696.3 139.2 L697.3 140.3 L698.3 143.8 L699.3 144.9 L700.3 145.1 L701.3 144.2 L702.3 132.2 L703.3 130.6 L704.3 131.1 L705.3 126.3 L706.3 121.6 L707.3 133.3 L708.3 138.9 L709.3 133.5 L710.3 129.3 L711.3 127.6 L712.3 126.3 L713.3 126.8 L714.3 137.5 L715.3 138.6 L716.3 144.2 L717.3 142.6 L718.3 145.3 L719.3 153.0 L720.3 156.4 L721.3 161.8 L722.3 155.5 L723.3 152.4 L724.3 148.2 L725.3 152.4 L726.3 156.5 L727.3 159.7 L728.3 167.4 L729.3 171.1 L730.3 172.2 L731.3 173.4 L732.3 176.5 L733.3 182.2 L734.3 182.9 L735.3 191.5 L736.3 194.7 L737.3 200.7 L738.3 195.3 L739.3 192.7 L740.3 190.3 L741.3 191.6 L742.3 189.5 L743.3 188.2 L744.3 188.7 L745.3 183.7 L746.3 185.7 L747.3 183.2 L748.3 188.3 L749.3 194.9 L750.3 194.3 L751.3 191.9 L752.3 184.5 L753.3 180.3 L754.3 176.4 L755.3 180.1 L756.3 185.2 L757.3 189.3 L758.3 192.7 L759.3 197.0 L760.3 196.5 L761.3 198.9 L762.3 196.9 L763.3 194.0 L764.3 189.8 L765.3 192.6 L766.3 189.7 L767.3 187.8 L768.3 185.2 L769.3 182.6 L770.3 178.9 L771.3 170.0 L772.3 160.8 L773.3 148.9 L774.3 141.7 L775.3 137.2 L776.3 134.5 L777.3 128.4 L778.3 131.5 L779.3 129.9 L780.3 129.8 L781.3 130.4 L782.3 128.8 L783.3 125.4 L784.3 126.5 L785.3 134.5 L786.3 142.1 L787.3 150.7 L788.3 159.5 L789.3 162.3 L790.3 166.0 L791.3 164.3 L792.3 171.8 L793.3 173.7 L794.3 181.2 L795.3 182.9 L796.3 184.1 L797.3 190.9 L798.3 197.5 L799.3 198.1 L800.3 192.3 L801.3 192.4 L802.3 183.0 L803.3 175.5 L804.3 172.2 L805.3 168.8 L806.3 168.3 L807.3 166.5 L808.3 167.7 L809.3 170.2 L810.3 169.4 L811.3 164.0 L812.3 163.7 L813.3 158.5 L814.3 156.8 L815.3 148.8 L816.3 145.6 L817.3 146.5 L818.3 147.6 L819.3 146.4 L820.3 146.7 L821.3 149.9 L822.3 154.5 L823.3 155.2 L824.3 152.7 L825.3 159.2 L826.3 160.5 L827.3 163.7 L828.3 167.8 L829.3 166.0 L830.3 171.3 L831.3 174.8 L832.3 180.6 L833.3 176.2 L834.3 171.6 L835.3 172.1 L836.3 171.4 L837.3 166.4 L838.3 164.1 L839.3 163.6 L840.3 161.7 L841.3 159.8 L842.3 159.1 L843.3 162.3 L844.3 158.1 L845.3 161.5 L846.3 166.9 L847.3 170.3 L848.3 167.0 L849.3 169.6 L850.3 170.1 L851.3 173.9 L852.3 172.3 L853.3 176.3 L854.3 181.8 L855.3 181.4 L856.3 175.7 L857.3 175.7 L858.3 177.4 L859.3 174.3 L860.3 179.9 L861.3 178.9 L862.3 175.4 L863.3 181.2 L864.3 182.9 L865.3 183.7 L866.3 176.8 L867.3 179.0 L868.3 175.7 L869.3 179.3 L870.3 180.5 L871.3 181.3 L872.3 169.9 L873.3 154.5 L874.3 152.4 L875.3 154.1 L876.3 151.7 L877.3 153.4 L878.3 156.3 L879.3 156.0 L880.3 155.8 L881.3 151.4 L882.3 147.2 L883.3 144.8 L884.3 143.7 L885.3 139.9 L886.3 133.5 L887.3 132.0 L888.3 135.5 L889.3 136.0 L890.3 134.8 L891.3 130.4 L892.3 130.9 L893.3 129.0 L894.3 134.8 L895.3 138.0 L896.3 139.9 L897.3 147.1 L898.3 150.2 L899.3 158.5 L900.3 159.8 L901.3 155.4 L902.3 161.2 L903.3 158.7 L904.3 155.7 L905.3 153.3 L906.3 147.7 L907.3 149.6 L908.3 137.8 L909.3 125.9 L910.3 123.1 L911.3 111.4 L912.3 113.0 L913.3 106.4 L914.3 101.7 L915.3 107.2 L916.3 109.8 L917.3 114.4 L918.3 113.9 L919.3 118.5 L920.3 119.2 L921.3 122.6 L922.3 122.6 L923.3 125.1 L924.3 124.4 L925.3 121.3 L926.3 120.8 L927.3 123.2 L928.3 121.2 L929.3 122.4 L930.3 122.2 L931.3 125.1 L932.3 121.7 L933.3 118.2 L934.3 122.5 L935.3 123.7 L936.3 126.0 L937.3 119.5 L938.3 117.1 L939.3 117.9 L940.3 119.2 L941.3 117.6 L942.3 121.6 L943.3 123.0 L944.3 128.6 L945.3 131.1 L946.3 131.4 L947.3 136.9 L948.3 140.0 L949.3 141.4 L950.3 148.7 L951.3 141.9 L952.3 146.0 L953.3 148.0 L954.3 145.9 L955.3 144.6 L956.3 141.1 L957.3 139.5 L958.3 142.0 L959.3 141.2 L960.3 134.0 L961.3 133.0 L962.3 129.8 L963.3 129.8 L964.3 125.6 L965.3 127.6 L966.3 124.3 L967.3 124.8 L968.3 122.2 L969.3 124.9 L970.3 121.7 L971.3 122.8 L972.3 121.2 L973.3 124.3 L974.3 125.0 L975.3 130.6 L976.3 126.0 L977.3 130.8 L978.3 130.2 L979.3 132.6 L980.3 129.5 L981.3 136.0 L982.3 129.9 L983.3 137.8 L984.3 135.5 L985.3 139.7 L986.3 144.2 L987.3 144.4 L988.3 149.1 L989.3 150.4 L990.3 150.5 L991.3 153.9 L992.3 157.7 L993.3 156.9 L994.3 157.3 L995.3 158.8 L996.3 157.9 L997.3 160.0 L998.3 158.8 L999.3 157.2 L1000.3 159.4 L1001.3 157.8 L1002.3 160.9 L1003.3 163.1 L1004.3 163.8 L1005.3 165.0 L1006.3 171.1 L1007.3 174.8 L1008.3 184.6 L1009.3 190.3 L1010.3 199.8 L1011.3 197.1 L1012.3 195.9 L1013.3 196.5 L1014.3 199.0 L1015.3 195.2 L1016.3 203.4 L1017.3 203.2 L1018.3 202.9 L1019.3 202.2 L1020.3 202.3 L1021.3 208.8 L1022.3 205.3 L1023.3 205.2 L1024.3 200.5 L1025.3 196.1 L1026.3 196.9 L1027.3 191.5 L1028.3 180.7 L1029.3 175.9 L1030.3 178.7 L1031.3 175.9 L1032.3 172.5 L1033.3 173.0 L1034.3 177.5 L1035.3 176.8 L1036.3 178.2 L1037.3 187.5 L1038.3 182.9 L1039.3 180.7 L1040.3 182.1 L1041.3 176.3 L1042.3 174.1 L1043.3 173.4 L1044.3 173.2 L1045.3 177.4 L1046.3 178.5 L1047.3 177.5 L1048.3 179.0 L1049.3 179.0 L1050.3 177.1 L1051.3 181.1 L1052.3 182.9 L1053.3 179.3 L1054.3 179.8 L1055.3 173.8 L1056.3 171.3 L1057.3 174.5 L1058.3 177.5 L1059.3 181.1 L1060.3 177.5 L1061.3 180.2 L1062.3 175.5 L1063.3 181.4 L1064.3 189.7 L1065.3 191.4 L1066.3 195.3 L1067.3 198.5 L1068.3 204.4 L1069.3 198.7 L1070.3 198.6 L1071.3 202.1 L1072.3 203.5 L1073.3 203.9 L1074.3 203.2 L1075.3 206.9 L1076.3 218.1 L1077.3 220.0 L1078.3 228.9 L1079.3 226.6 L1080.3 218.0 L1081.3 214.5 L1082.3 213.1 L1083.3 207.6 L1084.3 205.0 L1085.3 202.0 L1086.3 201.5 L1087.3 200.1 L1088.3 201.6 L1089.3 196.0 L1090.3 193.0 L1091.3 188.6 L1092.3 178.9 L1093.3 169.9 L1094.3 162.8 L1095.3 148.6 L1096.3 141.7 L1097.3 135.2 L1098.3 138.5 L1099.3 142.3 L1100.3 148.6 L1101.3 152.5 L1102.3 161.3 L1103.3 162.0 L1104.3 168.8 L1105.3 166.2 L1106.3 169.4 L1107.3 162.2 L1108.3 152.3 L1109.3 151.8 L1110.3 151.6 L1111.3 153.3 L1112.3 152.3 L1113.3 155.1 L1114.3 154.5 L1115.3 147.0 L1116.3 149.1 L1117.3 146.9 L1118.3 149.6 L1119.3 149.8 L1120.3 148.9 L1121.3 146.5 L1122.3 149.1 L1123.3 144.6 L1124.3 145.4 L1125.3 148.4 L1126.3 151.5 L1127.3 150.6 L1128.3 152.9 L1129.3 157.0 L1130.3 153.9 L1131.3 156.4 L1132.3 154.9 L1133.3 159.3 L1134.3 155.0 L1135.3 159.0 L1136.3 164.7 L1137.3 160.9 L1138.3 159.9 L1139.3 159.8 L1140.3 158.4 L1141.3 155.9 L1142.3 156.2 L1143.3 158.9 L1144.3 160.5 L1145.3 156.6 L1146.3 154.1 L1147.3 147.7 L1148.3 143.4 L1149.3 137.0 L1150.3 129.1 L1151.3 121.4 L1152.3 128.7 L1153.3 124.6 L1154.3 125.5 L1155.3 131.2 L1156.3 139.6 L1157.3 144.3 L1158.3 148.5 L1159.3 155.2 L1160.3 158.6 L1161.3 159.4 L1162.3 153.3 L1163.3 145.5 L1164.3 142.1 L1165.3 132.2 L1166.3 123.6 L1167.3 120.2 L1168.3 114.1 L1169.3 120.4 L1170.3 125.0 L1171.3 128.0 L1172.3 126.1 L1173.3 123.1 L1174.3 123.0 L1175.3 123.1 L1176.3 127.1 L1177.3 126.7 L1178.3 127.1 L1179.3 134.9 L1180.3 136.9" fill="none" stroke="#264478" stroke-width="4.2" stroke-linejoin="round" stroke-linecap="round"/>
<line x1="671.8" x2="704.8" y1="311" y2="311" stroke="#4472C4" stroke-width="3.3" stroke-linecap="round"/>
<text x="708.1" y="316" font-size="14.2" textLength="71.83" lengthAdjust="spacingAndGlyphs">USDT-GOLD</text>
<line x1="788.2" x2="821.2" y1="311" y2="311" stroke="#ED7D31" stroke-width="3.3" stroke-linecap="round"/>
<text x="824.5" y="316" font-size="14.2" textLength="59.51" lengthAdjust="spacingAndGlyphs">DAI-GOLD</text>
<line x1="905" x2="938" y1="311" y2="311" stroke="#A5A5A5" stroke-width="3.3" stroke-linecap="round"/>
<text x="941.3" y="316" font-size="14.2" textLength="64.3" lengthAdjust="spacingAndGlyphs">GLC-GOLD</text>
<line x1="1021.8" x2="1054.8" y1="311" y2="311" stroke="#FFC000" stroke-width="3.3" stroke-linecap="round"/>
<text x="1058.1" y="316" font-size="14.2" textLength="64.3" lengthAdjust="spacingAndGlyphs">HGT-GOLD</text>
<line x1="671.8" x2="704.8" y1="338.8" y2="338.8" stroke="#5B9BD5" stroke-width="3.3" stroke-linecap="round"/>
<text x="708.1" y="343.8" font-size="14.2" textLength="73.87" lengthAdjust="spacingAndGlyphs">MNTP-GOLD</text>
<line x1="788.2" x2="821.2" y1="338.8" y2="338.8" stroke="#70AD47" stroke-width="3.3" stroke-linecap="round"/>
<text x="824.5" y="343.8" font-size="14.2" textLength="62.26" lengthAdjust="spacingAndGlyphs">X8X-GOLD</text>
<line x1="905" x2="938" y1="338.8" y2="338.8" stroke="#264478" stroke-width="3.3" stroke-linecap="round"/>
<text x="941.3" y="343.8" font-size="14.2" textLength="73.2" lengthAdjust="spacingAndGlyphs">XAUR-GOLD</text>
<text x="300.6" y="393.4" font-size="17.8" text-anchor="middle" textLength="305.3" lengthAdjust="spacingAndGlyphs">Conventional cryptocurrencies vs WTI</text>
<line x1="88" x2="581.5" y1="419.7" y2="419.7" stroke="#d9d9d9" stroke-width="1.3"/>
<text x="74.5" y="424.4" font-size="14.2" textLength="56.86" lengthAdjust="spacingAndGlyphs" text-anchor="end">0.400000</text>
<line x1="88" x2="581.5" y1="456.23" y2="456.23" stroke="#d9d9d9" stroke-width="1.3"/>
<text x="74.5" y="460.93" font-size="14.2" textLength="56.86" lengthAdjust="spacingAndGlyphs" text-anchor="end">0.300000</text>
<line x1="88" x2="581.5" y1="492.77" y2="492.77" stroke="#d9d9d9" stroke-width="1.3"/>
<text x="74.5" y="497.47" font-size="14.2" textLength="56.86" lengthAdjust="spacingAndGlyphs" text-anchor="end">0.200000</text>
<line x1="88" x2="581.5" y1="529.3" y2="529.3" stroke="#d9d9d9" stroke-width="1.3"/>
<text x="74.5" y="534" font-size="14.2" textLength="56.86" lengthAdjust="spacingAndGlyphs" text-anchor="end">0.100000</text>
<line x1="88" x2="581.5" y1="565.83" y2="565.83" stroke="#d9d9d9" stroke-width="1.3"/>
<text x="74.5" y="570.53" font-size="14.2" textLength="56.86" lengthAdjust="spacingAndGlyphs" text-anchor="end">0.000000</text>
<line x1="88" x2="581.5" y1="602.37" y2="602.37" stroke="#d9d9d9" stroke-width="1.3"/>
<text x="74.5" y="607.07" font-size="14.2" textLength="61.4" lengthAdjust="spacingAndGlyphs" text-anchor="end">-0.100000</text>
<line x1="88" x2="581.5" y1="638.9" y2="638.9" stroke="#d9d9d9" stroke-width="1.3"/>
<text x="74.5" y="643.6" font-size="14.2" textLength="61.4" lengthAdjust="spacingAndGlyphs" text-anchor="end">-0.200000</text>
<line x1="88" x2="88" y1="565.83" y2="570.83" stroke="#d9d9d9" stroke-width="1.3"/>
<text x="88" y="589.63" font-size="14.2" textLength="52.76" lengthAdjust="spacingAndGlyphs" text-anchor="middle">6-Apr-18</text>
<line x1="184.5" x2="184.5" y1="565.83" y2="570.83" stroke="#d9d9d9" stroke-width="1.3"/>
<text x="184.5" y="589.63" font-size="14.2" textLength="52.76" lengthAdjust="spacingAndGlyphs" text-anchor="middle">6-Apr-19</text>
<line x1="281" x2="281" y1="565.83" y2="570.83" stroke="#d9d9d9" stroke-width="1.3"/>
<text x="281" y="589.63" font-size="14.2" textLength="52.76" lengthAdjust="spacingAndGlyphs" text-anchor="middle">6-Apr-20</text>
<line x1="377.5" x2="377.5" y1="565.83" y2="570.83" stroke="#d9d9d9" stroke-width="1.3"/>
<text x="377.5" y="589.63" font-size="14.2" textLength="52.76" lengthAdjust="spacingAndGlyphs" text-anchor="middle">6-Apr-21</text>
<line x1="474" x2="474" y1="565.83" y2="570.83" stroke="#d9d9d9" stroke-width="1.3"/>
<text x="474" y="589.63" font-size="14.2" textLength="52.76" lengthAdjust="spacingAndGlyphs" text-anchor="middle">6-Apr-22</text>
<line x1="570.5" x2="570.5" y1="565.83" y2="570.83" stroke="#d9d9d9" stroke-width="1.3"/>
<text x="570.5" y="589.63" font-size="14.2" textLength="52.76" lengthAdjust="spacingAndGlyphs" text-anchor="middle">6-Apr-23</text>
<path d="M88.3 552.2 L89.3 546.8 L90.3 547.4 L91.3 541.4 L92.3 544.1 L93.3 546.4 L94.3 546.4 L95.3 539.9 L96.3 539.9 L97.3 539.9 L98.3 534.1 L99.3 542.2 L100.3 540.3 L101.3 540.3 L102.3 542.0 L103.3 539.8 L104.3 541.4 L105.3 543.5 L106.3 544.1 L107.3 543.4 L108.3 549.5 L109.3 561.3 L110.3 569.2 L111.3 568.9 L112.3 575.3 L113.3 576.7 L114.3 576.9 L115.3 575.6 L116.3 576.0 L117.3 577.4 L118.3 573.4 L119.3 575.9 L120.3 572.6 L121.3 571.7 L122.3 573.1 L123.3 568.9 L124.3 567.1 L125.3 563.0 L126.3 562.0 L127.3 561.0 L128.3 560.1 L129.3 560.2 L130.3 564.0 L131.3 565.2 L132.3 563.2 L133.3 565.8 L134.3 571.4 L135.3 575.0 L136.3 568.4 L137.3 559.9 L138.3 553.9 L139.3 547.2 L140.3 545.0 L141.3 539.9 L142.3 544.2 L143.3 541.4 L144.3 540.3 L145.3 540.9 L146.3 537.2 L147.3 536.3 L148.3 530.9 L149.3 538.2 L150.3 537.5 L151.3 536.5 L152.3 537.8 L153.3 538.2 L154.3 537.7 L155.3 537.7 L156.3 539.0 L157.3 535.0 L158.3 536.5 L159.3 538.9 L160.3 542.4 L161.3 540.3 L162.3 540.4 L163.3 539.6 L164.3 537.0 L165.3 537.2 L166.3 535.9 L167.3 534.3 L168.3 534.4 L169.3 534.9 L170.3 533.2 L171.3 532.4 L172.3 534.3 L173.3 534.2 L174.3 534.5 L175.3 536.5 L176.3 533.6 L177.3 531.0 L178.3 527.7 L179.3 524.6 L180.3 525.9 L181.3 524.4 L182.3 522.3 L183.3 514.9 L184.3 504.6 L185.3 498.4 L186.3 494.0 L187.3 493.5 L188.3 490.0 L189.3 492.4 L190.3 493.5 L191.3 490.2 L192.3 492.6 L193.3 494.0 L194.3 497.5 L195.3 501.9 L196.3 498.6 L197.3 506.0 L198.3 507.7 L199.3 507.2 L200.3 508.7 L201.3 512.6 L202.3 512.6 L203.3 513.5 L204.3 515.1 L205.3 522.3 L206.3 517.2 L207.3 526.8 L208.3 522.8 L209.3 530.0 L210.3 528.6 L211.3 531.0 L212.3 531.1 L213.3 533.0 L214.3 538.5 L215.3 536.4 L216.3 535.0 L217.3 540.4 L218.3 538.4 L219.3 543.6 L220.3 547.3 L221.3 548.4 L222.3 550.5 L223.3 557.0 L224.3 559.9 L225.3 560.3 L226.3 561.5 L227.3 560.2 L228.3 558.5 L229.3 559.4 L230.3 559.6 L231.3 561.0 L232.3 562.1 L233.3 565.1 L234.3 567.4 L235.3 566.1 L236.3 568.9 L237.3 569.0 L238.3 574.4 L239.3 574.7 L240.3 579.0 L241.3 586.0 L242.3 586.4 L243.3 588.0 L244.3 592.5 L245.3 587.7 L246.3 586.1 L247.3 581.2 L248.3 581.6 L249.3 577.4 L250.3 575.6 L251.3 574.1 L252.3 572.0 L253.3 570.0 L254.3 563.5 L255.3 556.9 L256.3 552.4 L257.3 546.4 L258.3 545.0 L259.3 545.1 L260.3 545.0 L261.3 541.5 L262.3 540.3 L263.3 543.3 L264.3 544.3 L265.3 548.0 L266.3 547.2 L267.3 548.7 L268.3 543.8 L269.3 546.0 L270.3 543.2 L271.3 533.6 L272.3 508.5 L273.3 487.3 L274.3 488.5 L275.3 493.0 L276.3 492.2 L277.3 491.2 L278.3 489.2 L279.3 490.5 L280.3 487.6 L281.3 486.0 L282.3 487.5 L283.3 490.3 L284.3 496.1 L285.3 488.3 L286.3 489.7 L287.3 490.2 L288.3 490.5 L289.3 490.6 L290.3 492.5 L291.3 492.0 L292.3 495.3 L293.3 493.0 L294.3 495.6 L295.3 496.3 L296.3 496.1 L297.3 496.9 L298.3 492.9 L299.3 493.3 L300.3 491.2 L301.3 491.6 L302.3 491.4 L303.3 489.0 L304.3 490.4 L305.3 485.8 L306.3 490.0 L307.3 483.5 L308.3 485.4 L309.3 485.6 L310.3 486.7 L311.3 483.1 L312.3 483.8 L313.3 482.8 L314.3 482.9 L315.3 481.9 L316.3 477.4 L317.3 473.1 L318.3 471.1 L319.3 465.6 L320.3 464.3 L321.3 464.9 L322.3 468.4 L323.3 468.6 L324.3 471.3 L325.3 470.1 L326.3 463.5 L327.3 464.5 L328.3 466.3 L329.3 463.1 L330.3 465.5 L331.3 469.5 L332.3 476.8 L333.3 483.0 L334.3 488.4 L335.3 494.1 L336.3 498.0 L337.3 501.5 L338.3 504.3 L339.3 503.9 L340.3 504.0 L341.3 501.9 L342.3 506.9 L343.3 508.5 L344.3 512.3 L345.3 507.9 L346.3 510.6 L347.3 508.0 L348.3 513.0 L349.3 515.3 L350.3 512.3 L351.3 515.7 L352.3 514.7 L353.3 517.3 L354.3 516.1 L355.3 513.7 L356.3 510.6 L357.3 513.0 L358.3 517.3 L359.3 519.3 L360.3 517.1 L361.3 518.6 L362.3 520.7 L363.3 514.6 L364.3 518.1 L365.3 519.7 L366.3 518.4 L367.3 520.7 L368.3 528.2 L369.3 527.6 L370.3 529.6 L371.3 526.4 L372.3 529.5 L373.3 529.9 L374.3 531.3 L375.3 527.5 L376.3 525.7 L377.3 532.2 L378.3 534.7 L379.3 533.5 L380.3 535.4 L381.3 531.1 L382.3 537.7 L383.3 538.5 L384.3 535.3 L385.3 537.7 L386.3 543.2 L387.3 547.2 L388.3 545.9 L389.3 546.3 L390.3 546.4 L391.3 550.8 L392.3 553.0 L393.3 558.4 L394.3 561.2 L395.3 567.0 L396.3 564.2 L397.3 568.5 L398.3 571.9 L399.3 578.8 L400.3 587.2 L401.3 584.6 L402.3 584.7 L403.3 585.5 L404.3 579.7 L405.3 580.2 L406.3 583.6 L407.3 576.0 L408.3 579.6 L409.3 575.3 L410.3 573.6 L411.3 567.8 L412.3 563.5 L413.3 557.9 L414.3 555.5 L415.3 553.6 L416.3 546.5 L417.3 548.6 L418.3 548.5 L419.3 542.6 L420.3 535.8 L421.3 540.4 L422.3 534.4 L423.3 533.9 L424.3 532.6 L425.3 536.1 L426.3 528.2 L427.3 530.1 L428.3 525.0 L429.3 520.9 L430.3 521.1 L431.3 519.9 L432.3 517.6 L433.3 516.5 L434.3 512.1 L435.3 510.5 L436.3 507.0 L437.3 509.7 L438.3 511.0 L439.3 514.3 L440.3 519.7 L441.3 522.5 L442.3 526.3 L443.3 520.6 L444.3 523.0 L445.3 521.6 L446.3 521.5 L447.3 522.5 L448.3 524.1 L449.3 523.5 L450.3 531.4 L451.3 532.5 L452.3 528.9 L453.3 527.5 L454.3 529.1 L455.3 528.0 L456.3 522.0 L457.3 525.3 L458.3 525.9 L459.3 529.7 L460.3 523.0 L461.3 525.3 L462.3 530.0 L463.3 528.3 L464.3 529.3 L465.3 526.4 L466.3 527.9 L467.3 524.8 L468.3 519.8 L469.3 523.5 L470.3 522.4 L471.3 521.4 L472.3 519.5 L473.3 520.5 L474.3 528.5 L475.3 523.1 L476.3 522.4 L477.3 526.2 L478.3 526.4 L479.3 522.7 L480.3 519.2 L481.3 518.7 L482.3 514.8 L483.3 514.5 L484.3 507.7 L485.3 508.5 L486.3 510.7 L487.3 512.3 L488.3 518.2 L489.3 516.4 L490.3 514.8 L491.3 519.0 L492.3 519.8 L493.3 519.3 L494.3 522.1 L495.3 516.3 L496.3 515.4 L497.3 518.5 L498.3 518.4 L499.3 516.0 L500.3 518.3 L501.3 514.9 L502.3 518.3 L503.3 512.4 L504.3 508.3 L505.3 510.8 L506.3 511.6 L507.3 511.6 L508.3 511.8 L509.3 515.7 L510.3 515.9 L511.3 520.8 L512.3 520.0 L513.3 518.3 L514.3 518.9 L515.3 517.9 L516.3 517.0 L517.3 512.2 L518.3 514.8 L519.3 512.3 L520.3 512.5 L521.3 513.9 L522.3 513.8 L523.3 511.9 L524.3 510.6 L525.3 509.8 L526.3 509.5 L527.3 506.6 L528.3 500.5 L529.3 483.4 L530.3 463.8 L531.3 464.0 L532.3 467.6 L533.3 462.0 L534.3 464.1 L535.3 460.4 L536.3 461.6 L537.3 460.9 L538.3 457.2 L539.3 457.5 L540.3 452.5 L541.3 451.6 L542.3 459.3 L543.3 459.9 L544.3 462.4 L545.3 462.9 L546.3 465.9 L547.3 457.6 L548.3 459.7 L549.3 454.2 L550.3 451.5 L551.3 451.2 L552.3 454.3 L553.3 459.0 L554.3 461.0 L555.3 461.1 L556.3 466.6 L557.3 473.9 L558.3 477.5 L559.3 487.6 L560.3 486.6 L561.3 492.1 L562.3 499.2 L563.3 498.2 L564.3 503.2 L565.3 508.2 L566.3 513.4 L567.3 516.3 L568.3 522.3 L569.3 526.7 L570.3 527.3 L571.3 533.7 L572.3 536.1 L573.3 537.4 L574.3 535.7 L575.3 539.8 L576.3 541.4 L577.3 546.6 L578.3 542.3 L579.3 545.0 L580.3 546.8 L581.3 543.5" fill="none" stroke="#4472C4" stroke-width="4.2" stroke-linejoin="round" stroke-linecap="round"/>
<path d="M88.3 548.9 L89.3 551.0 L90.3 547.6 L91.3 547.8 L92.3 551.1 L93.3 555.0 L94.3 553.0 L95.3 549.5 L96.3 550.0 L97.3 551.5 L98.3 553.7 L99.3 552.0 L100.3 551.1 L101.3 551.8 L102.3 553.3 L103.3 552.2 L104.3 554.2 L105.3 555.5 L106.3 559.1 L107.3 557.3 L108.3 563.7 L109.3 564.5 L110.3 572.6 L111.3 574.5 L112.3 575.6 L113.3 579.2 L114.3 582.7 L115.3 580.9 L116.3 583.9 L117.3 585.7 L118.3 586.4 L119.3 585.9 L120.3 579.5 L121.3 581.7 L122.3 579.4 L123.3 583.1 L124.3 582.6 L125.3 583.8 L126.3 585.3 L127.3 584.0 L128.3 585.7 L129.3 584.7 L130.3 590.8 L131.3 586.6 L132.3 587.8 L133.3 584.8 L134.3 585.7 L135.3 583.6 L136.3 579.6 L137.3 572.4 L138.3 564.0 L139.3 554.9 L140.3 558.6 L141.3 552.0 L142.3 550.6 L143.3 552.2 L144.3 548.2 L145.3 549.4 L146.3 550.1 L147.3 547.1 L148.3 546.9 L149.3 545.2 L150.3 542.7 L151.3 536.4 L152.3 539.8 L153.3 542.6 L154.3 539.5 L155.3 541.4 L156.3 543.2 L157.3 545.7 L158.3 540.4 L159.3 541.6 L160.3 543.3 L161.3 544.1 L162.3 540.2 L163.3 546.5 L164.3 541.6 L165.3 544.7 L166.3 541.7 L167.3 542.0 L168.3 544.1 L169.3 541.7 L170.3 539.7 L171.3 536.5 L172.3 537.0 L173.3 535.4 L174.3 542.4 L175.3 535.7 L176.3 532.9 L177.3 541.4 L178.3 540.8 L179.3 535.4 L180.3 535.6 L181.3 530.3 L182.3 528.5 L183.3 522.8 L184.3 514.2 L185.3 503.7 L186.3 503.8 L187.3 501.7 L188.3 499.6 L189.3 496.2 L190.3 498.7 L191.3 498.0 L192.3 498.4 L193.3 500.3 L194.3 499.7 L195.3 503.6 L196.3 507.4 L197.3 509.1 L198.3 515.1 L199.3 508.4 L200.3 512.5 L201.3 511.7 L202.3 515.2 L203.3 522.1 L204.3 515.3 L205.3 519.2 L206.3 523.3 L207.3 524.4 L208.3 528.0 L209.3 524.5 L210.3 529.6 L211.3 526.4 L212.3 525.8 L213.3 529.8 L214.3 530.3 L215.3 528.1 L216.3 527.1 L217.3 527.4 L218.3 526.9 L219.3 525.6 L220.3 523.4 L221.3 521.8 L222.3 530.4 L223.3 530.1 L224.3 519.7 L225.3 510.7 L226.3 504.4 L227.3 504.0 L228.3 503.9 L229.3 514.2 L230.3 515.4 L231.3 514.4 L232.3 516.3 L233.3 516.9 L234.3 519.9 L235.3 519.5 L236.3 523.0 L237.3 527.7 L238.3 529.2 L239.3 533.9 L240.3 536.9 L241.3 539.1 L242.3 539.2 L243.3 541.7 L244.3 543.4 L245.3 544.5 L246.3 541.6 L247.3 546.4 L248.3 544.4 L249.3 545.1 L250.3 544.7 L251.3 542.1 L252.3 546.9 L253.3 543.5 L254.3 545.1 L255.3 539.5 L256.3 538.5 L257.3 535.2 L258.3 534.5 L259.3 535.3 L260.3 532.3 L261.3 536.0 L262.3 533.5 L263.3 534.4 L264.3 529.1 L265.3 528.1 L266.3 525.3 L267.3 521.6 L268.3 519.0 L269.3 520.8 L270.3 518.8 L271.3 511.0 L272.3 502.5 L273.3 497.0 L274.3 499.0 L275.3 495.1 L276.3 499.9 L277.3 505.5 L278.3 500.6 L279.3 502.3 L280.3 506.5 L281.3 504.9 L282.3 505.3 L283.3 503.6 L284.3 501.4 L285.3 510.4 L286.3 506.4 L287.3 506.3 L288.3 509.6 L289.3 508.7 L290.3 507.5 L291.3 505.6 L292.3 508.3 L293.3 509.5 L294.3 509.4 L295.3 509.9 L296.3 510.2 L297.3 512.7 L298.3 512.6 L299.3 515.1 L300.3 517.1 L301.3 516.3 L302.3 516.0 L303.3 519.5 L304.3 517.4 L305.3 512.3 L306.3 512.9 L307.3 514.4 L308.3 513.8 L309.3 519.1 L310.3 516.1 L311.3 515.9 L312.3 520.9 L313.3 519.6 L314.3 514.1 L315.3 516.2 L316.3 520.1 L317.3 516.3 L318.3 516.6 L319.3 517.5 L320.3 518.4 L321.3 516.9 L322.3 519.3 L323.3 517.6 L324.3 520.4 L325.3 524.2 L326.3 516.8 L327.3 519.3 L328.3 519.2 L329.3 511.2 L330.3 514.9 L331.3 514.4 L332.3 508.8 L333.3 500.1 L334.3 500.5 L335.3 504.5 L336.3 505.8 L337.3 507.9 L338.3 508.0 L339.3 515.6 L340.3 513.1 L341.3 513.1 L342.3 522.0 L343.3 524.4 L344.3 522.0 L345.3 522.0 L346.3 523.1 L347.3 528.5 L348.3 527.0 L349.3 527.2 L350.3 531.7 L351.3 531.0 L352.3 532.6 L353.3 538.2 L354.3 539.0 L355.3 542.3 L356.3 543.3 L357.3 546.6 L358.3 545.1 L359.3 548.5 L360.3 549.3 L361.3 545.7 L362.3 542.9 L363.3 545.8 L364.3 544.1 L365.3 544.9 L366.3 541.8 L367.3 544.9 L368.3 547.3 L369.3 551.7 L370.3 552.0 L371.3 550.0 L372.3 552.8 L373.3 549.7 L374.3 554.0 L375.3 552.2 L376.3 554.5 L377.3 552.6 L378.3 551.3 L379.3 550.4 L380.3 554.9 L381.3 553.3 L382.3 555.0 L383.3 554.9 L384.3 548.9 L385.3 553.3 L386.3 551.0 L387.3 550.1 L388.3 547.7 L389.3 540.3 L390.3 542.5 L391.3 544.7 L392.3 547.0 L393.3 550.6 L394.3 552.6 L395.3 558.6 L396.3 565.8 L397.3 567.4 L398.3 581.3 L399.3 582.8 L400.3 590.9 L401.3 590.8 L402.3 596.3 L403.3 595.7 L404.3 591.3 L405.3 585.6 L406.3 587.1 L407.3 586.5 L408.3 585.7 L409.3 580.6 L410.3 579.8 L411.3 578.6 L412.3 579.5 L413.3 577.3 L414.3 581.3 L415.3 586.3 L416.3 586.4 L417.3 589.8 L418.3 588.0 L419.3 586.6 L420.3 586.1 L421.3 580.5 L422.3 574.1 L423.3 569.1 L424.3 566.8 L425.3 564.4 L426.3 562.9 L427.3 558.5 L428.3 553.9 L429.3 549.5 L430.3 550.9 L431.3 550.2 L432.3 550.5 L433.3 544.8 L434.3 538.8 L435.3 539.1 L436.3 534.5 L437.3 541.5 L438.3 556.6 L439.3 564.9 L440.3 568.3 L441.3 572.6 L442.3 574.5 L443.3 579.6 L444.3 575.6 L445.3 574.0 L446.3 572.9 L447.3 569.9 L448.3 572.9 L449.3 573.3 L450.3 572.4 L451.3 567.7 L452.3 572.1 L453.3 571.1 L454.3 570.5 L455.3 562.8 L456.3 559.6 L457.3 560.4 L458.3 561.1 L459.3 556.3 L460.3 559.6 L461.3 552.3 L462.3 552.3 L463.3 552.0 L464.3 551.9 L465.3 557.2 L466.3 553.0 L467.3 550.4 L468.3 549.2 L469.3 546.5 L470.3 551.8 L471.3 551.4 L472.3 555.9 L473.3 556.0 L474.3 560.7 L475.3 559.7 L476.3 561.4 L477.3 558.8 L478.3 564.6 L479.3 563.6 L480.3 563.0 L481.3 558.5 L482.3 554.5 L483.3 553.3 L484.3 550.6 L485.3 546.5 L486.3 547.0 L487.3 545.9 L488.3 541.8 L489.3 543.9 L490.3 546.0 L491.3 543.6 L492.3 543.1 L493.3 544.7 L494.3 547.4 L495.3 545.4 L496.3 548.7 L497.3 544.1 L498.3 545.1 L499.3 544.0 L500.3 538.9 L501.3 541.3 L502.3 539.4 L503.3 534.1 L504.3 534.9 L505.3 533.4 L506.3 531.5 L507.3 532.8 L508.3 529.2 L509.3 529.4 L510.3 525.9 L511.3 526.0 L512.3 529.2 L513.3 525.4 L514.3 519.7 L515.3 519.2 L516.3 519.6 L517.3 515.4 L518.3 519.2 L519.3 516.3 L520.3 515.4 L521.3 515.0 L522.3 512.8 L523.3 511.0 L524.3 506.1 L525.3 508.1 L526.3 511.3 L527.3 511.3 L528.3 508.3 L529.3 502.1 L530.3 492.9 L531.3 481.9 L532.3 476.9 L533.3 480.9 L534.3 474.9 L535.3 476.2 L536.3 474.1 L537.3 478.1 L538.3 473.4 L539.3 471.8 L540.3 474.0 L541.3 467.5 L542.3 469.0 L543.3 472.0 L544.3 472.6 L545.3 469.2 L546.3 475.0 L547.3 475.0 L548.3 478.5 L549.3 471.3 L550.3 474.6 L551.3 473.0 L552.3 472.6 L553.3 473.7 L554.3 476.7 L555.3 477.7 L556.3 482.2 L557.3 485.4 L558.3 491.6 L559.3 498.3 L560.3 499.0 L561.3 507.2 L562.3 512.1 L563.3 518.7 L564.3 518.3 L565.3 526.0 L566.3 526.8 L567.3 532.4 L568.3 535.5 L569.3 538.3 L570.3 539.7 L571.3 540.7 L572.3 545.7 L573.3 546.1 L574.3 542.9 L575.3 543.4 L576.3 544.6 L577.3 543.6 L578.3 545.1 L579.3 549.5 L580.3 552.1 L581.3 551.0" fill="none" stroke="#ED7D31" stroke-width="4.2" stroke-linejoin="round" stroke-linecap="round"/>
<path d="M88.3 568.3 L89.3 566.2 L90.3 573.1 L91.3 566.7 L92.3 564.6 L93.3 564.3 L94.3 561.6 L95.3 560.6 L96.3 563.0 L97.3 560.8 L98.3 563.0 L99.3 560.7 L100.3 556.7 L101.3 559.5 L102.3 563.2 L103.3 563.5 L104.3 570.8 L105.3 574.7 L106.3 581.4 L107.3 582.0 L108.3 588.3 L109.3 595.5 L110.3 601.4 L111.3 599.5 L112.3 606.1 L113.3 603.2 L114.3 608.8 L115.3 608.6 L116.3 610.7 L117.3 611.5 L118.3 616.8 L119.3 625.6 L120.3 614.8 L121.3 614.3 L122.3 609.6 L123.3 603.9 L124.3 606.1 L125.3 606.4 L126.3 601.6 L127.3 598.7 L128.3 600.3 L129.3 597.1 L130.3 602.2 L131.3 600.2 L132.3 597.7 L133.3 601.0 L134.3 600.1 L135.3 605.5 L136.3 603.4 L137.3 593.0 L138.3 583.7 L139.3 580.0 L140.3 576.2 L141.3 578.2 L142.3 572.3 L143.3 572.1 L144.3 570.3 L145.3 567.8 L146.3 574.6 L147.3 571.8 L148.3 565.2 L149.3 566.6 L150.3 560.1 L151.3 565.3 L152.3 564.5 L153.3 560.4 L154.3 560.4 L155.3 562.7 L156.3 564.3 L157.3 563.6 L158.3 562.8 L159.3 563.0 L160.3 561.7 L161.3 563.4 L162.3 561.1 L163.3 560.3 L164.3 555.2 L165.3 556.6 L166.3 555.8 L167.3 554.6 L168.3 554.7 L169.3 553.6 L170.3 550.0 L171.3 554.4 L172.3 554.1 L173.3 550.1 L174.3 551.6 L175.3 547.5 L176.3 545.7 L177.3 547.1 L178.3 550.4 L179.3 546.4 L180.3 542.1 L181.3 544.9 L182.3 542.6 L183.3 541.4 L184.3 542.5 L185.3 536.8 L186.3 534.9 L187.3 536.1 L188.3 544.4 L189.3 545.5 L190.3 546.3 L191.3 547.3 L192.3 551.5 L193.3 554.5 L194.3 551.6 L195.3 554.7 L196.3 560.8 L197.3 557.1 L198.3 552.7 L199.3 552.0 L200.3 550.6 L201.3 555.8 L202.3 559.3 L203.3 561.3 L204.3 563.0 L205.3 564.6 L206.3 562.9 L207.3 564.9 L208.3 563.5 L209.3 569.1 L210.3 571.2 L211.3 567.0 L212.3 571.3 L213.3 572.8 L214.3 575.1 L215.3 577.0 L216.3 579.0 L217.3 580.7 L218.3 575.9 L219.3 580.6 L220.3 578.9 L221.3 577.5 L222.3 580.3 L223.3 583.6 L224.3 583.6 L225.3 585.8 L226.3 586.0 L227.3 586.4 L228.3 590.4 L229.3 587.2 L230.3 591.7 L231.3 591.3 L232.3 590.5 L233.3 591.1 L234.3 594.9 L235.3 599.4 L236.3 603.4 L237.3 605.5 L238.3 602.9 L239.3 603.5 L240.3 610.1 L241.3 609.8 L242.3 611.1 L243.3 613.3 L244.3 608.7 L245.3 611.7 L246.3 606.2 L247.3 602.0 L248.3 596.0 L249.3 596.0 L250.3 593.7 L251.3 596.0 L252.3 595.6 L253.3 592.3 L254.3 587.6 L255.3 589.9 L256.3 582.6 L257.3 579.7 L258.3 575.6 L259.3 573.1 L260.3 571.3 L261.3 568.8 L262.3 570.3 L263.3 569.0 L264.3 574.8 L265.3 573.7 L266.3 570.3 L267.3 575.9 L268.3 572.5 L269.3 567.5 L270.3 565.9 L271.3 556.2 L272.3 533.6 L273.3 512.4 L274.3 510.2 L275.3 511.8 L276.3 504.9 L277.3 508.7 L278.3 511.4 L279.3 512.8 L280.3 513.1 L281.3 509.6 L282.3 507.9 L283.3 509.6 L284.3 514.6 L285.3 509.8 L286.3 506.3 L287.3 504.6 L288.3 509.3 L289.3 509.4 L290.3 512.4 L291.3 512.7 L292.3 507.7 L293.3 512.4 L294.3 515.3 L295.3 513.1 L296.3 509.6 L297.3 507.5 L298.3 505.1 L299.3 512.0 L300.3 511.0 L301.3 506.6 L302.3 510.4 L303.3 505.4 L304.3 505.6 L305.3 504.7 L306.3 505.4 L307.3 506.8 L308.3 510.6 L309.3 509.1 L310.3 508.1 L311.3 509.4 L312.3 509.5 L313.3 511.4 L314.3 509.5 L315.3 512.3 L316.3 513.5 L317.3 515.1 L318.3 511.9 L319.3 514.7 L320.3 514.9 L321.3 512.5 L322.3 509.8 L323.3 512.5 L324.3 515.8 L325.3 513.2 L326.3 517.9 L327.3 514.3 L328.3 510.7 L329.3 510.2 L330.3 509.6 L331.3 507.9 L332.3 504.5 L333.3 504.0 L334.3 512.2 L335.3 511.0 L336.3 511.7 L337.3 511.9 L338.3 510.2 L339.3 515.5 L340.3 516.4 L341.3 519.8 L342.3 521.4 L343.3 526.8 L344.3 530.4 L345.3 529.4 L346.3 530.2 L347.3 535.4 L348.3 539.3 L349.3 538.8 L350.3 540.7 L351.3 539.3 L352.3 543.4 L353.3 548.6 L354.3 550.4 L355.3 551.5 L356.3 554.7 L357.3 555.4 L358.3 553.2 L359.3 550.6 L360.3 548.0 L361.3 549.9 L362.3 548.1 L363.3 546.6 L364.3 546.7 L365.3 540.5 L366.3 538.3 L367.3 540.3 L368.3 537.9 L369.3 535.5 L370.3 539.3 L371.3 543.2 L372.3 541.2 L373.3 542.2 L374.3 538.9 L375.3 545.0 L376.3 539.4 L377.3 540.5 L378.3 541.1 L379.3 545.1 L380.3 541.0 L381.3 538.2 L382.3 535.6 L383.3 536.9 L384.3 532.5 L385.3 531.0 L386.3 529.9 L387.3 533.4 L388.3 530.0 L389.3 536.1 L390.3 530.1 L391.3 537.8 L392.3 533.0 L393.3 533.4 L394.3 534.6 L395.3 537.4 L396.3 538.3 L397.3 545.1 L398.3 552.3 L399.3 560.5 L400.3 570.6 L401.3 578.8 L402.3 587.7 L403.3 592.0 L404.3 592.3 L405.3 590.9 L406.3 585.2 L407.3 582.6 L408.3 574.2 L409.3 567.6 L410.3 560.5 L411.3 563.8 L412.3 564.3 L413.3 564.5 L414.3 558.0 L415.3 557.3 L416.3 557.7 L417.3 556.1 L418.3 552.3 L419.3 552.2 L420.3 552.9 L421.3 550.9 L422.3 548.2 L423.3 549.5 L424.3 544.4 L425.3 547.9 L426.3 545.9 L427.3 543.6 L428.3 543.5 L429.3 543.0 L430.3 538.8 L431.3 536.6 L432.3 538.4 L433.3 537.0 L434.3 533.3 L435.3 538.7 L436.3 541.2 L437.3 539.9 L438.3 536.8 L439.3 539.8 L440.3 537.9 L441.3 539.8 L442.3 534.6 L443.3 533.7 L444.3 530.6 L445.3 532.8 L446.3 532.2 L447.3 530.5 L448.3 526.5 L449.3 520.3 L450.3 519.0 L451.3 509.5 L452.3 504.4 L453.3 502.5 L454.3 507.4 L455.3 502.0 L456.3 501.1 L457.3 504.9 L458.3 508.5 L459.3 508.7 L460.3 512.2 L461.3 513.2 L462.3 517.9 L463.3 524.1 L464.3 523.3 L465.3 522.9 L466.3 524.6 L467.3 529.6 L468.3 532.1 L469.3 530.8 L470.3 529.2 L471.3 535.5 L472.3 532.5 L473.3 532.7 L474.3 530.8 L475.3 527.4 L476.3 524.6 L477.3 527.0 L478.3 523.3 L479.3 518.0 L480.3 510.1 L481.3 504.2 L482.3 491.5 L483.3 487.3 L484.3 494.1 L485.3 497.0 L486.3 500.0 L487.3 505.0 L488.3 507.1 L489.3 510.7 L490.3 514.3 L491.3 514.7 L492.3 519.9 L493.3 516.8 L494.3 524.2 L495.3 522.0 L496.3 523.6 L497.3 521.6 L498.3 526.8 L499.3 525.1 L500.3 528.9 L501.3 529.5 L502.3 527.0 L503.3 530.8 L504.3 526.7 L505.3 525.5 L506.3 528.3 L507.3 532.4 L508.3 534.3 L509.3 535.9 L510.3 533.1 L511.3 534.5 L512.3 530.9 L513.3 527.7 L514.3 528.1 L515.3 523.1 L516.3 519.7 L517.3 522.9 L518.3 519.6 L519.3 520.3 L520.3 519.1 L521.3 517.8 L522.3 516.1 L523.3 518.5 L524.3 512.7 L525.3 516.1 L526.3 513.1 L527.3 513.1 L528.3 510.9 L529.3 512.1 L530.3 510.2 L531.3 506.9 L532.3 507.6 L533.3 508.6 L534.3 507.4 L535.3 513.1 L536.3 510.4 L537.3 508.7 L538.3 512.2 L539.3 512.3 L540.3 511.8 L541.3 513.4 L542.3 511.5 L543.3 516.8 L544.3 519.5 L545.3 519.1 L546.3 521.3 L547.3 523.2 L548.3 526.0 L549.3 526.0 L550.3 522.2 L551.3 520.5 L552.3 520.4 L553.3 523.0 L554.3 524.3 L555.3 527.4 L556.3 530.0 L557.3 532.8 L558.3 533.4 L559.3 537.0 L560.3 537.8 L561.3 541.8 L562.3 546.9 L563.3 552.0 L564.3 552.4 L565.3 556.9 L566.3 561.8 L567.3 564.5 L568.3 569.7 L569.3 572.8 L570.3 574.4 L571.3 582.1 L572.3 586.4 L573.3 595.4 L574.3 587.4 L575.3 586.4 L576.3 579.8 L577.3 573.5 L578.3 565.7 L579.3 570.7 L580.3 571.0 L581.3 574.3" fill="none" stroke="#A5A5A5" stroke-width="4.2" stroke-linejoin="round" stroke-linecap="round"/>
<path d="M88.3 551.8 L89.3 546.2 L90.3 549.4 L91.3 549.2 L92.3 548.6 L93.3 549.9 L94.3 550.3 L95.3 550.9 L96.3 551.7 L97.3 552.8 L98.3 550.9 L99.3 552.2 L100.3 550.7 L101.3 550.3 L102.3 550.2 L103.3 549.2 L104.3 548.4 L105.3 552.1 L106.3 552.9 L107.3 555.5 L108.3 561.6 L109.3 564.3 L110.3 571.1 L111.3 577.5 L112.3 589.2 L113.3 594.6 L114.3 598.6 L115.3 597.0 L116.3 596.5 L117.3 598.3 L118.3 599.6 L119.3 597.9 L120.3 590.9 L121.3 591.3 L122.3 586.2 L123.3 585.7 L124.3 586.2 L125.3 586.0 L126.3 587.8 L127.3 588.6 L128.3 586.6 L129.3 583.7 L130.3 584.5 L131.3 583.6 L132.3 584.8 L133.3 584.2 L134.3 580.7 L135.3 582.6 L136.3 580.4 L137.3 574.5 L138.3 563.9 L139.3 557.8 L140.3 555.9 L141.3 551.9 L142.3 553.4 L143.3 553.9 L144.3 552.9 L145.3 546.0 L146.3 544.8 L147.3 538.2 L148.3 530.1 L149.3 528.2 L150.3 520.7 L151.3 524.6 L152.3 533.0 L153.3 538.3 L154.3 538.6 L155.3 540.0 L156.3 545.9 L157.3 546.0 L158.3 545.0 L159.3 540.6 L160.3 546.2 L161.3 539.3 L162.3 536.5 L163.3 540.7 L164.3 542.6 L165.3 540.9 L166.3 544.0 L167.3 540.7 L168.3 539.8 L169.3 539.3 L170.3 537.7 L171.3 539.7 L172.3 544.7 L173.3 538.9 L174.3 541.1 L175.3 542.5 L176.3 540.9 L177.3 542.2 L178.3 538.5 L179.3 538.8 L180.3 538.0 L181.3 538.4 L182.3 536.3 L183.3 524.6 L184.3 513.8 L185.3 510.5 L186.3 504.3 L187.3 497.0 L188.3 498.4 L189.3 497.2 L190.3 500.7 L191.3 501.5 L192.3 506.9 L193.3 510.0 L194.3 512.2 L195.3 516.3 L196.3 516.2 L197.3 514.4 L198.3 514.3 L199.3 518.0 L200.3 523.1 L201.3 524.6 L202.3 522.9 L203.3 527.7 L204.3 528.0 L205.3 527.2 L206.3 530.7 L207.3 531.3 L208.3 530.5 L209.3 533.1 L210.3 535.4 L211.3 539.0 L212.3 535.3 L213.3 538.5 L214.3 541.1 L215.3 543.9 L216.3 544.4 L217.3 552.4 L218.3 554.8 L219.3 556.0 L220.3 554.2 L221.3 556.6 L222.3 555.1 L223.3 548.9 L224.3 539.2 L225.3 533.1 L226.3 525.0 L227.3 522.6 L228.3 527.1 L229.3 529.1 L230.3 532.1 L231.3 536.3 L232.3 538.6 L233.3 546.9 L234.3 550.2 L235.3 552.0 L236.3 554.6 L237.3 554.4 L238.3 559.8 L239.3 559.7 L240.3 564.6 L241.3 569.0 L242.3 573.3 L243.3 579.9 L244.3 579.4 L245.3 588.5 L246.3 585.6 L247.3 587.9 L248.3 581.7 L249.3 585.1 L250.3 579.8 L251.3 581.0 L252.3 579.5 L253.3 579.8 L254.3 572.5 L255.3 565.0 L256.3 556.8 L257.3 554.1 L258.3 549.1 L259.3 553.6 L260.3 556.7 L261.3 561.8 L262.3 563.1 L263.3 565.1 L264.3 568.1 L265.3 567.0 L266.3 570.0 L267.3 566.7 L268.3 568.8 L269.3 563.9 L270.3 565.6 L271.3 554.0 L272.3 527.5 L273.3 507.2 L274.3 507.8 L275.3 508.7 L276.3 508.5 L277.3 507.4 L278.3 503.3 L279.3 507.8 L280.3 506.5 L281.3 507.9 L282.3 509.9 L283.3 504.9 L284.3 507.8 L285.3 509.5 L286.3 504.9 L287.3 503.3 L288.3 507.6 L289.3 506.4 L290.3 509.1 L291.3 510.5 L292.3 505.2 L293.3 509.0 L294.3 505.9 L295.3 507.8 L296.3 511.3 L297.3 508.5 L298.3 509.8 L299.3 511.0 L300.3 513.2 L301.3 513.9 L302.3 514.6 L303.3 512.9 L304.3 511.7 L305.3 513.6 L306.3 510.6 L307.3 510.0 L308.3 512.0 L309.3 507.9 L310.3 506.0 L311.3 510.2 L312.3 509.7 L313.3 506.3 L314.3 510.5 L315.3 517.9 L316.3 519.9 L317.3 513.0 L318.3 514.0 L319.3 513.7 L320.3 510.2 L321.3 501.6 L322.3 503.1 L323.3 498.1 L324.3 493.6 L325.3 490.6 L326.3 492.4 L327.3 493.7 L328.3 493.5 L329.3 491.5 L330.3 486.3 L331.3 485.1 L332.3 482.3 L333.3 478.5 L334.3 480.6 L335.3 484.1 L336.3 483.6 L337.3 494.4 L338.3 500.0 L339.3 510.6 L340.3 517.0 L341.3 512.1 L342.3 515.4 L343.3 511.6 L344.3 513.0 L345.3 515.5 L346.3 516.1 L347.3 514.4 L348.3 516.5 L349.3 509.7 L350.3 508.8 L351.3 515.1 L352.3 521.3 L353.3 523.6 L354.3 525.8 L355.3 528.3 L356.3 531.3 L357.3 528.1 L358.3 528.3 L359.3 522.0 L360.3 517.5 L361.3 509.9 L362.3 507.2 L363.3 504.2 L364.3 502.5 L365.3 502.5 L366.3 500.8 L367.3 502.5 L368.3 504.2 L369.3 506.3 L370.3 513.4 L371.3 520.4 L372.3 529.2 L373.3 537.0 L374.3 536.2 L375.3 542.4 L376.3 542.6 L377.3 543.3 L378.3 548.5 L379.3 553.7 L380.3 552.7 L381.3 560.5 L382.3 556.3 L383.3 558.1 L384.3 555.2 L385.3 558.9 L386.3 560.8 L387.3 557.7 L388.3 558.3 L389.3 556.6 L390.3 557.5 L391.3 555.6 L392.3 560.2 L393.3 560.2 L394.3 560.2 L395.3 558.6 L396.3 563.8 L397.3 571.3 L398.3 585.1 L399.3 586.1 L400.3 596.7 L401.3 600.7 L402.3 602.9 L403.3 603.4 L404.3 597.2 L405.3 586.5 L406.3 585.5 L407.3 579.5 L408.3 575.7 L409.3 574.5 L410.3 567.0 L411.3 568.1 L412.3 567.3 L413.3 565.2 L414.3 568.3 L415.3 569.6 L416.3 565.2 L417.3 562.8 L418.3 562.7 L419.3 559.8 L420.3 559.6 L421.3 559.0 L422.3 556.4 L423.3 554.6 L424.3 554.2 L425.3 552.9 L426.3 552.9 L427.3 548.5 L428.3 548.9 L429.3 550.2 L430.3 551.4 L431.3 546.6 L432.3 550.2 L433.3 549.3 L434.3 542.1 L435.3 542.9 L436.3 534.5 L437.3 543.3 L438.3 545.9 L439.3 556.5 L440.3 559.9 L441.3 561.9 L442.3 562.2 L443.3 562.3 L444.3 565.4 L445.3 563.7 L446.3 566.2 L447.3 563.0 L448.3 568.1 L449.3 570.0 L450.3 562.9 L451.3 562.4 L452.3 561.8 L453.3 560.1 L454.3 555.8 L455.3 557.2 L456.3 553.2 L457.3 553.9 L458.3 549.1 L459.3 548.8 L460.3 554.8 L461.3 552.8 L462.3 558.6 L463.3 564.0 L464.3 564.3 L465.3 561.0 L466.3 568.8 L467.3 562.4 L468.3 563.6 L469.3 562.6 L470.3 558.6 L471.3 559.0 L472.3 550.8 L473.3 554.7 L474.3 554.1 L475.3 551.7 L476.3 551.3 L477.3 552.0 L478.3 550.6 L479.3 546.0 L480.3 547.3 L481.3 547.0 L482.3 543.6 L483.3 541.8 L484.3 533.2 L485.3 531.8 L486.3 534.1 L487.3 530.6 L488.3 535.2 L489.3 536.3 L490.3 534.4 L491.3 536.3 L492.3 540.9 L493.3 544.6 L494.3 548.7 L495.3 549.3 L496.3 551.4 L497.3 549.3 L498.3 551.8 L499.3 549.8 L500.3 553.3 L501.3 553.0 L502.3 548.1 L503.3 552.7 L504.3 551.3 L505.3 556.7 L506.3 553.8 L507.3 558.2 L508.3 558.3 L509.3 560.2 L510.3 558.3 L511.3 558.7 L512.3 562.4 L513.3 559.8 L514.3 564.5 L515.3 566.8 L516.3 567.3 L517.3 560.1 L518.3 555.6 L519.3 551.8 L520.3 557.7 L521.3 554.0 L522.3 555.0 L523.3 552.9 L524.3 551.9 L525.3 554.4 L526.3 546.8 L527.3 550.4 L528.3 549.6 L529.3 546.6 L530.3 523.1 L531.3 501.2 L532.3 500.4 L533.3 505.9 L534.3 503.3 L535.3 504.2 L536.3 505.4 L537.3 507.8 L538.3 509.0 L539.3 506.0 L540.3 504.1 L541.3 503.8 L542.3 498.6 L543.3 497.8 L544.3 498.4 L545.3 492.0 L546.3 489.7 L547.3 486.9 L548.3 488.7 L549.3 488.9 L550.3 485.5 L551.3 484.2 L552.3 486.0 L553.3 482.6 L554.3 482.5 L555.3 481.7 L556.3 487.6 L557.3 489.8 L558.3 490.7 L559.3 493.5 L560.3 504.0 L561.3 501.0 L562.3 503.2 L563.3 502.6 L564.3 511.6 L565.3 512.7 L566.3 513.7 L567.3 511.9 L568.3 515.7 L569.3 514.3 L570.3 513.4 L571.3 515.1 L572.3 515.1 L573.3 513.0 L574.3 510.8 L575.3 513.0 L576.3 512.2 L577.3 510.8 L578.3 513.4 L579.3 514.8 L580.3 517.8 L581.3 519.5" fill="none" stroke="#FFC000" stroke-width="4.2" stroke-linejoin="round" stroke-linecap="round"/>
<path d="M88.3 559.6 L89.3 555.8 L90.3 561.7 L91.3 565.3 L92.3 559.2 L93.3 559.7 L94.3 559.6 L95.3 558.9 L96.3 559.1 L97.3 560.2 L98.3 557.4 L99.3 554.4 L100.3 554.0 L101.3 560.0 L102.3 560.7 L103.3 560.3 L104.3 555.7 L105.3 560.5 L106.3 562.0 L107.3 561.1 L108.3 564.7 L109.3 574.7 L110.3 576.9 L111.3 578.3 L112.3 579.7 L113.3 580.5 L114.3 581.3 L115.3 582.7 L116.3 578.4 L117.3 578.5 L118.3 582.0 L119.3 575.7 L120.3 576.2 L121.3 582.2 L122.3 579.5 L123.3 578.8 L124.3 576.4 L125.3 574.9 L126.3 580.7 L127.3 572.7 L128.3 579.4 L129.3 578.2 L130.3 579.6 L131.3 575.6 L132.3 582.5 L133.3 582.9 L134.3 582.7 L135.3 583.5 L136.3 575.5 L137.3 568.0 L138.3 558.3 L139.3 547.1 L140.3 538.8 L141.3 543.8 L142.3 543.8 L143.3 539.8 L144.3 541.1 L145.3 539.9 L146.3 530.0 L147.3 525.9 L148.3 515.0 L149.3 508.0 L150.3 511.5 L151.3 510.4 L152.3 509.7 L153.3 518.1 L154.3 522.4 L155.3 528.4 L156.3 527.7 L157.3 528.4 L158.3 530.6 L159.3 528.5 L160.3 529.0 L161.3 530.7 L162.3 529.2 L163.3 532.0 L164.3 527.0 L165.3 529.2 L166.3 532.6 L167.3 527.0 L168.3 523.5 L169.3 519.8 L170.3 519.8 L171.3 521.2 L172.3 519.7 L173.3 521.8 L174.3 520.6 L175.3 521.3 L176.3 518.5 L177.3 520.0 L178.3 520.9 L179.3 515.1 L180.3 515.6 L181.3 513.0 L182.3 510.4 L183.3 510.6 L184.3 506.9 L185.3 505.3 L186.3 503.4 L187.3 501.6 L188.3 503.4 L189.3 505.0 L190.3 503.3 L191.3 501.2 L192.3 502.4 L193.3 500.9 L194.3 505.7 L195.3 504.7 L196.3 508.3 L197.3 508.1 L198.3 509.8 L199.3 508.2 L200.3 513.4 L201.3 514.6 L202.3 517.1 L203.3 521.7 L204.3 528.2 L205.3 528.2 L206.3 533.4 L207.3 532.7 L208.3 529.8 L209.3 532.6 L210.3 538.2 L211.3 535.8 L212.3 534.5 L213.3 533.1 L214.3 535.3 L215.3 537.0 L216.3 536.2 L217.3 537.8 L218.3 539.4 L219.3 536.9 L220.3 539.0 L221.3 538.6 L222.3 539.1 L223.3 537.0 L224.3 536.1 L225.3 534.2 L226.3 538.5 L227.3 534.9 L228.3 537.1 L229.3 535.9 L230.3 539.1 L231.3 541.3 L232.3 545.3 L233.3 547.2 L234.3 542.9 L235.3 548.0 L236.3 545.1 L237.3 547.8 L238.3 547.5 L239.3 553.0 L240.3 554.9 L241.3 554.4 L242.3 560.9 L243.3 561.8 L244.3 564.6 L245.3 564.9 L246.3 564.5 L247.3 568.0 L248.3 559.5 L249.3 559.9 L250.3 560.0 L251.3 565.8 L252.3 563.9 L253.3 563.6 L254.3 558.9 L255.3 551.3 L256.3 545.2 L257.3 533.8 L258.3 534.5 L259.3 537.1 L260.3 535.6 L261.3 540.5 L262.3 538.7 L263.3 536.9 L264.3 537.5 L265.3 539.7 L266.3 541.1 L267.3 537.1 L268.3 538.1 L269.3 535.2 L270.3 532.8 L271.3 525.8 L272.3 510.6 L273.3 491.3 L274.3 492.4 L275.3 495.8 L276.3 494.7 L277.3 491.5 L278.3 491.8 L279.3 493.5 L280.3 488.8 L281.3 495.0 L282.3 492.8 L283.3 495.8 L284.3 492.9 L285.3 493.4 L286.3 496.0 L287.3 496.8 L288.3 500.3 L289.3 496.5 L290.3 496.7 L291.3 502.7 L292.3 503.1 L293.3 501.1 L294.3 504.2 L295.3 508.3 L296.3 506.6 L297.3 504.3 L298.3 507.4 L299.3 507.9 L300.3 508.9 L301.3 507.7 L302.3 506.0 L303.3 501.8 L304.3 501.5 L305.3 502.8 L306.3 507.4 L307.3 509.4 L308.3 504.4 L309.3 510.2 L310.3 512.4 L311.3 514.9 L312.3 514.5 L313.3 516.1 L314.3 515.9 L315.3 515.9 L316.3 517.1 L317.3 518.3 L318.3 516.9 L319.3 519.9 L320.3 523.3 L321.3 521.1 L322.3 524.8 L323.3 521.0 L324.3 523.7 L325.3 520.2 L326.3 523.1 L327.3 521.7 L328.3 521.2 L329.3 520.2 L330.3 518.8 L331.3 519.4 L332.3 511.8 L333.3 493.3 L334.3 499.7 L335.3 502.4 L336.3 497.7 L337.3 505.6 L338.3 504.2 L339.3 507.1 L340.3 505.3 L341.3 507.5 L342.3 506.6 L343.3 509.1 L344.3 509.6 L345.3 516.7 L346.3 519.0 L347.3 522.1 L348.3 525.8 L349.3 529.3 L350.3 534.0 L351.3 534.7 L352.3 534.9 L353.3 539.1 L354.3 533.4 L355.3 533.7 L356.3 531.1 L357.3 531.1 L358.3 528.8 L359.3 522.6 L360.3 523.7 L361.3 514.9 L362.3 513.7 L363.3 510.6 L364.3 504.4 L365.3 506.1 L366.3 500.0 L367.3 497.8 L368.3 503.9 L369.3 507.0 L370.3 506.9 L371.3 507.4 L372.3 512.6 L373.3 517.3 L374.3 513.7 L375.3 518.1 L376.3 510.6 L377.3 510.6 L378.3 515.1 L379.3 514.5 L380.3 516.3 L381.3 519.4 L382.3 512.7 L383.3 515.1 L384.3 515.7 L385.3 514.1 L386.3 517.5 L387.3 520.0 L388.3 526.4 L389.3 535.1 L390.3 538.1 L391.3 540.8 L392.3 541.4 L393.3 542.4 L394.3 550.7 L395.3 549.3 L396.3 552.5 L397.3 560.3 L398.3 564.4 L399.3 572.2 L400.3 576.3 L401.3 581.0 L402.3 586.3 L403.3 582.8 L404.3 580.2 L405.3 573.7 L406.3 569.0 L407.3 567.6 L408.3 567.5 L409.3 557.2 L410.3 562.2 L411.3 555.2 L412.3 551.5 L413.3 549.4 L414.3 550.1 L415.3 548.9 L416.3 543.3 L417.3 541.9 L418.3 546.3 L419.3 543.1 L420.3 535.8 L421.3 535.1 L422.3 531.3 L423.3 532.3 L424.3 526.2 L425.3 524.9 L426.3 523.7 L427.3 518.8 L428.3 512.6 L429.3 506.3 L430.3 505.1 L431.3 498.5 L432.3 499.2 L433.3 493.9 L434.3 493.1 L435.3 491.6 L436.3 492.1 L437.3 490.7 L438.3 502.0 L439.3 498.0 L440.3 506.3 L441.3 511.9 L442.3 517.6 L443.3 523.2 L444.3 515.2 L445.3 514.4 L446.3 517.8 L447.3 518.0 L448.3 509.9 L449.3 508.5 L450.3 508.7 L451.3 506.3 L452.3 498.8 L453.3 500.4 L454.3 500.4 L455.3 499.5 L456.3 502.3 L457.3 501.8 L458.3 501.2 L459.3 509.7 L460.3 506.0 L461.3 506.4 L462.3 514.7 L463.3 512.0 L464.3 512.7 L465.3 509.3 L466.3 512.6 L467.3 522.2 L468.3 520.4 L469.3 523.6 L470.3 525.6 L471.3 527.9 L472.3 533.3 L473.3 527.0 L474.3 527.6 L475.3 536.1 L476.3 535.5 L477.3 534.2 L478.3 534.1 L479.3 529.8 L480.3 523.8 L481.3 516.8 L482.3 509.7 L483.3 504.7 L484.3 502.6 L485.3 504.6 L486.3 507.1 L487.3 508.2 L488.3 513.0 L489.3 509.6 L490.3 515.3 L491.3 516.2 L492.3 520.1 L493.3 524.9 L494.3 525.6 L495.3 523.2 L496.3 524.7 L497.3 525.6 L498.3 522.4 L499.3 523.1 L500.3 522.6 L501.3 517.5 L502.3 518.0 L503.3 519.9 L504.3 516.0 L505.3 511.4 L506.3 514.8 L507.3 512.1 L508.3 511.4 L509.3 512.9 L510.3 516.5 L511.3 516.3 L512.3 520.7 L513.3 523.2 L514.3 525.1 L515.3 524.4 L516.3 523.0 L517.3 523.4 L518.3 522.9 L519.3 521.2 L520.3 520.7 L521.3 517.6 L522.3 511.6 L523.3 514.6 L524.3 515.1 L525.3 508.7 L526.3 512.9 L527.3 513.1 L528.3 511.5 L529.3 510.2 L530.3 499.2 L531.3 493.9 L532.3 493.2 L533.3 490.2 L534.3 493.2 L535.3 493.7 L536.3 489.7 L537.3 493.0 L538.3 489.0 L539.3 489.2 L540.3 490.7 L541.3 490.5 L542.3 490.6 L543.3 490.2 L544.3 488.1 L545.3 489.1 L546.3 493.1 L547.3 497.1 L548.3 493.1 L549.3 487.0 L550.3 492.3 L551.3 487.5 L552.3 487.7 L553.3 490.4 L554.3 490.3 L555.3 491.1 L556.3 490.9 L557.3 491.8 L558.3 496.2 L559.3 499.8 L560.3 502.4 L561.3 505.6 L562.3 507.9 L563.3 508.0 L564.3 512.2 L565.3 514.1 L566.3 514.7 L567.3 522.9 L568.3 525.3 L569.3 525.5 L570.3 529.4 L571.3 534.5 L572.3 535.7 L573.3 536.3 L574.3 537.8 L575.3 542.3 L576.3 539.4 L577.3 538.9 L578.3 543.8 L579.3 541.5 L580.3 541.4 L581.3 541.1" fill="none" stroke="#5B9BD5" stroke-width="4.2" stroke-linejoin="round" stroke-linecap="round"/>
<path d="M88.3 552.7 L89.3 558.4 L90.3 555.7 L91.3 552.6 L92.3 554.9 L93.3 550.2 L94.3 556.5 L95.3 553.6 L96.3 551.8 L97.3 553.5 L98.3 549.4 L99.3 552.8 L100.3 554.1 L101.3 555.3 L102.3 555.6 L103.3 553.4 L104.3 557.4 L105.3 555.4 L106.3 559.8 L107.3 560.1 L108.3 563.7 L109.3 571.0 L110.3 577.9 L111.3 581.8 L112.3 582.3 L113.3 586.4 L114.3 587.1 L115.3 587.3 L116.3 588.4 L117.3 588.8 L118.3 586.3 L119.3 585.1 L120.3 580.6 L121.3 579.7 L122.3 581.8 L123.3 581.0 L124.3 578.2 L125.3 576.1 L126.3 575.3 L127.3 573.1 L128.3 573.8 L129.3 579.3 L130.3 578.2 L131.3 583.1 L132.3 581.2 L133.3 584.2 L134.3 589.1 L135.3 588.3 L136.3 584.1 L137.3 576.7 L138.3 564.8 L139.3 562.4 L140.3 559.2 L141.3 558.8 L142.3 558.9 L143.3 560.6 L144.3 559.1 L145.3 559.6 L146.3 563.0 L147.3 563.6 L148.3 566.8 L149.3 567.1 L150.3 568.2 L151.3 563.6 L152.3 566.1 L153.3 567.5 L154.3 568.8 L155.3 566.6 L156.3 567.6 L157.3 566.8 L158.3 560.6 L159.3 558.3 L160.3 556.4 L161.3 558.2 L162.3 555.1 L163.3 556.7 L164.3 555.4 L165.3 553.7 L166.3 551.4 L167.3 559.3 L168.3 557.5 L169.3 556.4 L170.3 550.3 L171.3 554.4 L172.3 551.8 L173.3 549.2 L174.3 550.3 L175.3 550.6 L176.3 555.1 L177.3 552.4 L178.3 551.4 L179.3 551.4 L180.3 550.6 L181.3 545.9 L182.3 549.6 L183.3 540.9 L184.3 534.4 L185.3 528.0 L186.3 522.7 L187.3 531.9 L188.3 530.8 L189.3 533.6 L190.3 530.0 L191.3 537.6 L192.3 535.5 L193.3 535.0 L194.3 535.4 L195.3 538.2 L196.3 540.1 L197.3 539.9 L198.3 538.5 L199.3 538.4 L200.3 536.7 L201.3 540.1 L202.3 543.7 L203.3 543.1 L204.3 548.9 L205.3 548.3 L206.3 546.5 L207.3 548.4 L208.3 547.9 L209.3 545.8 L210.3 546.5 L211.3 544.3 L212.3 548.6 L213.3 553.7 L214.3 552.8 L215.3 559.1 L216.3 556.8 L217.3 559.5 L218.3 560.0 L219.3 558.6 L220.3 558.9 L221.3 565.1 L222.3 569.1 L223.3 570.5 L224.3 573.1 L225.3 563.0 L226.3 561.1 L227.3 558.8 L228.3 553.4 L229.3 548.8 L230.3 547.2 L231.3 551.4 L232.3 550.3 L233.3 553.4 L234.3 556.0 L235.3 552.1 L236.3 554.0 L237.3 556.2 L238.3 557.9 L239.3 558.8 L240.3 561.9 L241.3 563.7 L242.3 562.0 L243.3 563.1 L244.3 566.1 L245.3 562.4 L246.3 563.5 L247.3 560.6 L248.3 562.8 L249.3 569.0 L250.3 569.9 L251.3 563.6 L252.3 562.7 L253.3 555.3 L254.3 549.9 L255.3 543.8 L256.3 546.2 L257.3 542.0 L258.3 548.6 L259.3 547.6 L260.3 547.8 L261.3 544.5 L262.3 553.3 L263.3 551.4 L264.3 550.5 L265.3 549.5 L266.3 550.8 L267.3 547.5 L268.3 548.4 L269.3 544.0 L270.3 531.0 L271.3 520.7 L272.3 514.6 L273.3 501.6 L274.3 501.4 L275.3 504.2 L276.3 507.7 L277.3 507.5 L278.3 501.0 L279.3 505.8 L280.3 498.3 L281.3 498.5 L282.3 499.5 L283.3 500.3 L284.3 499.5 L285.3 498.5 L286.3 493.0 L287.3 493.7 L288.3 498.1 L289.3 500.5 L290.3 500.6 L291.3 500.1 L292.3 502.9 L293.3 505.5 L294.3 498.5 L295.3 507.5 L296.3 508.1 L297.3 504.7 L298.3 500.4 L299.3 500.6 L300.3 500.3 L301.3 504.1 L302.3 500.4 L303.3 500.9 L304.3 502.3 L305.3 501.6 L306.3 500.8 L307.3 499.4 L308.3 500.7 L309.3 502.9 L310.3 502.4 L311.3 495.6 L312.3 497.5 L313.3 498.7 L314.3 500.4 L315.3 497.9 L316.3 494.3 L317.3 491.5 L318.3 489.0 L319.3 484.7 L320.3 482.4 L321.3 484.9 L322.3 487.2 L323.3 487.4 L324.3 488.9 L325.3 486.4 L326.3 481.1 L327.3 485.3 L328.3 479.6 L329.3 483.0 L330.3 488.8 L331.3 489.1 L332.3 489.6 L333.3 494.0 L334.3 499.2 L335.3 506.7 L336.3 515.7 L337.3 521.3 L338.3 533.1 L339.3 542.0 L340.3 550.7 L341.3 548.7 L342.3 549.3 L343.3 549.0 L344.3 549.4 L345.3 552.1 L346.3 553.4 L347.3 555.5 L348.3 564.9 L349.3 561.7 L350.3 567.3 L351.3 564.8 L352.3 562.7 L353.3 565.1 L354.3 569.7 L355.3 572.8 L356.3 575.9 L357.3 572.0 L358.3 570.1 L359.3 565.2 L360.3 561.5 L361.3 560.6 L362.3 557.3 L363.3 551.2 L364.3 548.7 L365.3 544.8 L366.3 543.3 L367.3 543.6 L368.3 550.2 L369.3 554.0 L370.3 556.4 L371.3 562.4 L372.3 558.2 L373.3 560.7 L374.3 559.8 L375.3 554.7 L376.3 556.0 L377.3 551.7 L378.3 553.4 L379.3 552.4 L380.3 554.8 L381.3 548.5 L382.3 554.6 L383.3 557.7 L384.3 552.8 L385.3 548.2 L386.3 549.7 L387.3 547.5 L388.3 552.2 L389.3 551.9 L390.3 549.3 L391.3 555.2 L392.3 551.5 L393.3 555.2 L394.3 552.9 L395.3 553.8 L396.3 553.3 L397.3 563.9 L398.3 571.2 L399.3 577.5 L400.3 589.4 L401.3 591.2 L402.3 600.8 L403.3 598.8 L404.3 584.7 L405.3 575.5 L406.3 569.9 L407.3 567.8 L408.3 558.8 L409.3 551.5 L410.3 550.6 L411.3 555.9 L412.3 558.5 L413.3 556.8 L414.3 557.6 L415.3 559.6 L416.3 566.2 L417.3 560.1 L418.3 559.2 L419.3 556.3 L420.3 557.8 L421.3 547.9 L422.3 546.1 L423.3 544.7 L424.3 545.9 L425.3 540.1 L426.3 540.2 L427.3 532.8 L428.3 525.8 L429.3 523.8 L430.3 524.5 L431.3 517.1 L432.3 511.5 L433.3 510.3 L434.3 507.9 L435.3 508.8 L436.3 508.0 L437.3 513.5 L438.3 516.8 L439.3 524.8 L440.3 520.6 L441.3 529.8 L442.3 525.0 L443.3 535.7 L444.3 536.2 L445.3 539.2 L446.3 541.4 L447.3 544.9 L448.3 544.9 L449.3 548.4 L450.3 545.9 L451.3 546.8 L452.3 548.7 L453.3 542.8 L454.3 539.7 L455.3 534.5 L456.3 534.3 L457.3 534.9 L458.3 534.7 L459.3 536.1 L460.3 544.7 L461.3 539.7 L462.3 542.5 L463.3 545.8 L464.3 550.7 L465.3 553.0 L466.3 557.6 L467.3 561.6 L468.3 565.0 L469.3 566.5 L470.3 568.8 L471.3 573.7 L472.3 575.6 L473.3 571.6 L474.3 570.6 L475.3 565.3 L476.3 562.1 L477.3 558.4 L478.3 560.5 L479.3 560.7 L480.3 553.2 L481.3 549.6 L482.3 546.0 L483.3 541.1 L484.3 534.0 L485.3 537.6 L486.3 534.9 L487.3 537.0 L488.3 534.1 L489.3 533.1 L490.3 543.5 L491.3 548.7 L492.3 551.6 L493.3 553.3 L494.3 560.7 L495.3 567.3 L496.3 573.1 L497.3 570.0 L498.3 567.2 L499.3 566.6 L500.3 558.0 L501.3 552.8 L502.3 552.5 L503.3 551.7 L504.3 549.7 L505.3 552.2 L506.3 546.8 L507.3 546.4 L508.3 546.6 L509.3 545.1 L510.3 548.7 L511.3 548.0 L512.3 550.4 L513.3 542.5 L514.3 541.8 L515.3 545.6 L516.3 543.9 L517.3 542.5 L518.3 543.5 L519.3 544.5 L520.3 540.1 L521.3 542.5 L522.3 540.3 L523.3 538.4 L524.3 537.9 L525.3 540.8 L526.3 539.1 L527.3 539.1 L528.3 538.8 L529.3 538.8 L530.3 518.3 L531.3 494.3 L532.3 492.7 L533.3 496.5 L534.3 492.7 L535.3 496.0 L536.3 496.3 L537.3 490.4 L538.3 497.2 L539.3 497.2 L540.3 495.3 L541.3 497.6 L542.3 497.1 L543.3 497.9 L544.3 497.5 L545.3 500.7 L546.3 500.6 L547.3 502.7 L548.3 503.4 L549.3 498.5 L550.3 499.9 L551.3 500.0 L552.3 497.4 L553.3 503.9 L554.3 503.7 L555.3 505.0 L556.3 508.5 L557.3 508.5 L558.3 514.1 L559.3 519.7 L560.3 524.7 L561.3 526.4 L562.3 531.2 L563.3 535.5 L564.3 536.4 L565.3 542.5 L566.3 544.3 L567.3 548.0 L568.3 548.0 L569.3 549.0 L570.3 553.1 L571.3 552.7 L572.3 553.0 L573.3 549.4 L574.3 550.6 L575.3 550.0 L576.3 554.4 L577.3 553.2 L578.3 552.9 L579.3 554.1 L580.3 554.3 L581.3 558.5" fill="none" stroke="#70AD47" stroke-width="4.2" stroke-linejoin="round" stroke-linecap="round"/>
<path d="M88.3 553.9 L89.3 546.5 L90.3 542.6 L91.3 544.0 L92.3 545.5 L93.3 544.1 L94.3 542.5 L95.3 540.3 L96.3 538.5 L97.3 535.9 L98.3 533.2 L99.3 531.3 L100.3 536.0 L101.3 535.6 L102.3 539.7 L103.3 536.8 L104.3 540.2 L105.3 538.6 L106.3 538.7 L107.3 537.0 L108.3 546.4 L109.3 553.7 L110.3 554.1 L111.3 546.2 L112.3 546.7 L113.3 553.5 L114.3 558.5 L115.3 556.4 L116.3 556.5 L117.3 562.1 L118.3 563.0 L119.3 565.5 L120.3 564.6 L121.3 558.8 L122.3 551.5 L123.3 553.9 L124.3 559.5 L125.3 559.4 L126.3 562.7 L127.3 559.0 L128.3 559.1 L129.3 555.3 L130.3 560.7 L131.3 561.0 L132.3 561.9 L133.3 568.3 L134.3 571.6 L135.3 574.4 L136.3 570.1 L137.3 564.6 L138.3 560.5 L139.3 552.4 L140.3 547.9 L141.3 551.4 L142.3 548.8 L143.3 548.8 L144.3 549.8 L145.3 552.4 L146.3 555.2 L147.3 550.1 L148.3 554.3 L149.3 552.3 L150.3 545.7 L151.3 535.4 L152.3 535.9 L153.3 538.7 L154.3 543.4 L155.3 550.7 L156.3 554.1 L157.3 565.1 L158.3 558.9 L159.3 551.4 L160.3 554.2 L161.3 551.0 L162.3 551.6 L163.3 555.5 L164.3 552.3 L165.3 550.8 L166.3 551.2 L167.3 548.0 L168.3 540.9 L169.3 544.3 L170.3 542.0 L171.3 540.7 L172.3 539.3 L173.3 541.1 L174.3 540.4 L175.3 539.0 L176.3 541.0 L177.3 538.3 L178.3 536.0 L179.3 537.3 L180.3 534.8 L181.3 528.0 L182.3 523.8 L183.3 513.7 L184.3 502.4 L185.3 493.3 L186.3 484.3 L187.3 477.8 L188.3 482.7 L189.3 477.1 L190.3 469.5 L191.3 474.8 L192.3 474.1 L193.3 474.0 L194.3 478.7 L195.3 484.2 L196.3 488.8 L197.3 488.2 L198.3 490.1 L199.3 493.9 L200.3 491.4 L201.3 495.7 L202.3 499.4 L203.3 507.4 L204.3 507.6 L205.3 508.4 L206.3 511.4 L207.3 513.2 L208.3 519.2 L209.3 519.8 L210.3 519.0 L211.3 518.0 L212.3 521.7 L213.3 524.2 L214.3 525.4 L215.3 530.4 L216.3 533.1 L217.3 536.6 L218.3 542.2 L219.3 539.9 L220.3 544.4 L221.3 546.3 L222.3 547.5 L223.3 548.2 L224.3 551.2 L225.3 552.2 L226.3 551.8 L227.3 553.0 L228.3 553.0 L229.3 556.8 L230.3 565.0 L231.3 558.5 L232.3 560.3 L233.3 557.2 L234.3 556.9 L235.3 560.5 L236.3 563.2 L237.3 568.5 L238.3 570.3 L239.3 570.6 L240.3 571.0 L241.3 573.4 L242.3 570.4 L243.3 575.1 L244.3 577.6 L245.3 575.8 L246.3 576.7 L247.3 580.0 L248.3 574.8 L249.3 575.9 L250.3 574.0 L251.3 570.0 L252.3 572.9 L253.3 577.0 L254.3 579.9 L255.3 575.1 L256.3 559.9 L257.3 547.7 L258.3 541.9 L259.3 542.7 L260.3 543.2 L261.3 544.6 L262.3 547.8 L263.3 551.2 L264.3 551.1 L265.3 551.7 L266.3 561.2 L267.3 562.5 L268.3 561.8 L269.3 557.2 L270.3 557.6 L271.3 550.3 L272.3 532.1 L273.3 513.8 L274.3 512.6 L275.3 509.9 L276.3 514.4 L277.3 503.3 L278.3 506.2 L279.3 500.6 L280.3 505.3 L281.3 505.4 L282.3 504.6 L283.3 509.2 L284.3 505.5 L285.3 502.6 L286.3 504.6 L287.3 505.2 L288.3 503.5 L289.3 511.7 L290.3 509.7 L291.3 510.5 L292.3 508.3 L293.3 516.5 L294.3 516.6 L295.3 519.4 L296.3 521.7 L297.3 514.6 L298.3 511.4 L299.3 511.3 L300.3 506.2 L301.3 506.3 L302.3 499.9 L303.3 501.5 L304.3 500.7 L305.3 495.2 L306.3 496.2 L307.3 498.5 L308.3 497.8 L309.3 499.9 L310.3 502.3 L311.3 501.6 L312.3 504.3 L313.3 509.2 L314.3 510.8 L315.3 511.9 L316.3 513.2 L317.3 515.8 L318.3 516.9 L319.3 514.9 L320.3 512.2 L321.3 512.5 L322.3 507.8 L323.3 509.0 L324.3 513.7 L325.3 514.3 L326.3 508.5 L327.3 502.9 L328.3 498.6 L329.3 504.7 L330.3 513.2 L331.3 517.9 L332.3 517.7 L333.3 522.4 L334.3 520.5 L335.3 523.1 L336.3 522.6 L337.3 522.9 L338.3 528.0 L339.3 532.1 L340.3 535.4 L341.3 534.0 L342.3 531.5 L343.3 528.9 L344.3 534.0 L345.3 533.6 L346.3 537.4 L347.3 538.1 L348.3 536.7 L349.3 538.4 L350.3 544.8 L351.3 543.8 L352.3 547.9 L353.3 545.8 L354.3 542.6 L355.3 543.6 L356.3 544.4 L357.3 542.8 L358.3 547.8 L359.3 547.2 L360.3 546.0 L361.3 541.2 L362.3 544.6 L363.3 538.7 L364.3 529.5 L365.3 528.0 L366.3 531.4 L367.3 541.9 L368.3 549.2 L369.3 561.6 L370.3 572.3 L371.3 570.3 L372.3 570.9 L373.3 575.6 L374.3 573.3 L375.3 568.9 L376.3 573.9 L377.3 571.5 L378.3 572.3 L379.3 568.4 L380.3 570.2 L381.3 571.4 L382.3 567.4 L383.3 570.8 L384.3 574.1 L385.3 573.9 L386.3 579.5 L387.3 585.1 L388.3 589.4 L389.3 583.5 L390.3 570.7 L391.3 567.5 L392.3 569.6 L393.3 575.0 L394.3 578.5 L395.3 586.3 L396.3 598.1 L397.3 607.6 L398.3 612.0 L399.3 616.2 L400.3 617.7 L401.3 619.6 L402.3 615.6 L403.3 616.9 L404.3 609.7 L405.3 602.7 L406.3 599.0 L407.3 597.4 L408.3 593.5 L409.3 591.0 L410.3 593.9 L411.3 589.8 L412.3 596.0 L413.3 603.0 L414.3 601.5 L415.3 586.9 L416.3 579.5 L417.3 574.9 L418.3 570.9 L419.3 570.4 L420.3 565.4 L421.3 567.6 L422.3 561.0 L423.3 556.1 L424.3 554.2 L425.3 549.8 L426.3 545.2 L427.3 544.7 L428.3 549.7 L429.3 552.7 L430.3 555.1 L431.3 559.5 L432.3 553.7 L433.3 543.0 L434.3 538.9 L435.3 523.2 L436.3 512.3 L437.3 518.4 L438.3 523.6 L439.3 525.4 L440.3 531.7 L441.3 540.1 L442.3 538.7 L443.3 544.2 L444.3 548.8 L445.3 549.0 L446.3 544.2 L447.3 542.3 L448.3 541.6 L449.3 540.7 L450.3 535.6 L451.3 538.1 L452.3 539.8 L453.3 543.0 L454.3 539.7 L455.3 540.8 L456.3 537.5 L457.3 534.2 L458.3 530.2 L459.3 527.1 L460.3 528.7 L461.3 527.1 L462.3 523.2 L463.3 521.9 L464.3 517.4 L465.3 514.4 L466.3 510.7 L467.3 513.0 L468.3 509.4 L469.3 514.6 L470.3 518.1 L471.3 517.4 L472.3 517.8 L473.3 521.3 L474.3 522.1 L475.3 521.3 L476.3 518.8 L477.3 513.2 L478.3 512.5 L479.3 511.8 L480.3 513.7 L481.3 507.1 L482.3 502.3 L483.3 499.1 L484.3 498.7 L485.3 497.5 L486.3 500.9 L487.3 505.3 L488.3 506.7 L489.3 506.2 L490.3 511.0 L491.3 513.6 L492.3 516.6 L493.3 519.1 L494.3 520.7 L495.3 522.4 L496.3 523.6 L497.3 521.6 L498.3 520.7 L499.3 513.7 L500.3 515.0 L501.3 513.3 L502.3 513.6 L503.3 513.9 L504.3 516.1 L505.3 518.1 L506.3 515.9 L507.3 518.6 L508.3 522.8 L509.3 525.4 L510.3 533.7 L511.3 542.7 L512.3 542.4 L513.3 538.7 L514.3 532.5 L515.3 528.5 L516.3 532.0 L517.3 533.3 L518.3 531.0 L519.3 531.8 L520.3 532.2 L521.3 532.7 L522.3 533.2 L523.3 530.1 L524.3 535.2 L525.3 536.6 L526.3 539.5 L527.3 537.0 L528.3 538.3 L529.3 544.5 L530.3 547.2 L531.3 493.0 L532.3 497.1 L533.3 494.3 L534.3 496.4 L535.3 497.8 L536.3 496.5 L537.3 496.7 L538.3 498.7 L539.3 496.9 L540.3 493.3 L541.3 494.4 L542.3 497.2 L543.3 498.3 L544.3 495.3 L545.3 496.2 L546.3 499.9 L547.3 498.9 L548.3 499.3 L549.3 498.9 L550.3 492.9 L551.3 488.1 L552.3 487.8 L553.3 487.7 L554.3 489.7 L555.3 493.8 L556.3 492.5 L557.3 492.7 L558.3 494.2 L559.3 496.7 L560.3 501.8 L561.3 502.4 L562.3 503.5 L563.3 506.2 L564.3 511.8 L565.3 519.1 L566.3 532.9 L567.3 535.1 L568.3 545.1 L569.3 539.7 L570.3 544.2 L571.3 541.9 L572.3 540.3 L573.3 538.6 L574.3 534.1 L575.3 533.9 L576.3 529.1 L577.3 532.2 L578.3 529.9 L579.3 532.8 L580.3 536.2 L581.3 536.3" fill="none" stroke="#264478" stroke-width="4.2" stroke-linejoin="round" stroke-linecap="round"/>
<line x1="110.7" x2="143.7" y1="671.5" y2="671.5" stroke="#4472C4" stroke-width="3.3" stroke-linecap="round"/>
<text x="147" y="676.5" font-size="14.2" textLength="51.76" lengthAdjust="spacingAndGlyphs">BTC-WTI</text>
<line x1="207.7" x2="240.7" y1="671.5" y2="671.5" stroke="#ED7D31" stroke-width="3.3" stroke-linecap="round"/>
<text x="244" y="676.5" font-size="14.2" textLength="51.76" lengthAdjust="spacingAndGlyphs">ETH-WTI</text>
<line x1="305" x2="338" y1="671.5" y2="671.5" stroke="#A5A5A5" stroke-width="3.3" stroke-linecap="round"/>
<text x="341.3" y="676.5" font-size="14.2" textLength="52.46" lengthAdjust="spacingAndGlyphs">BNB-WTI</text>
<line x1="402.7" x2="435.7" y1="671.5" y2="671.5" stroke="#FFC000" stroke-width="3.3" stroke-linecap="round"/>
<text x="439" y="676.5" font-size="14.2" textLength="52.46" lengthAdjust="spacingAndGlyphs">XRP-WTI</text>
<line x1="110.7" x2="143.7" y1="699.3" y2="699.3" stroke="#5B9BD5" stroke-width="3.3" stroke-linecap="round"/>
<text x="147" y="704.3" font-size="14.2" textLength="52.46" lengthAdjust="spacingAndGlyphs">ADA-WTI</text>
<line x1="207.7" x2="240.7" y1="699.3" y2="699.3" stroke="#70AD47" stroke-width="3.3" stroke-linecap="round"/>
<text x="244" y="704.3" font-size="14.2" textLength="49.46" lengthAdjust="spacingAndGlyphs">LTC-WTI</text>
<line x1="305" x2="338" y1="699.3" y2="699.3" stroke="#264478" stroke-width="3.3" stroke-linecap="round"/>
<text x="341.3" y="704.3" font-size="14.2" textLength="54.52" lengthAdjust="spacingAndGlyphs">XMR-WTI</text>
<text x="899.7" y="393.4" font-size="17.8" text-anchor="middle" textLength="305.3" lengthAdjust="spacingAndGlyphs">Asset-backed cryptocurrencies vs WTI</text>
<line x1="687" x2="1180.5" y1="419.7" y2="419.7" stroke="#d9d9d9" stroke-width="1.3"/>
<text x="673.5" y="424.4" font-size="14.2" textLength="56.86" lengthAdjust="spacingAndGlyphs" text-anchor="end">0.300000</text>
<line x1="687" x2="1180.5" y1="456.23" y2="456.23" stroke="#d9d9d9" stroke-width="1.3"/>
<text x="673.5" y="460.93" font-size="14.2" textLength="56.86" lengthAdjust="spacingAndGlyphs" text-anchor="end">0.200000</text>
<line x1="687" x2="1180.5" y1="492.77" y2="492.77" stroke="#d9d9d9" stroke-width="1.3"/>
<text x="673.5" y="497.47" font-size="14.2" textLength="56.86" lengthAdjust="spacingAndGlyphs" text-anchor="end">0.100000</text>
<line x1="687" x2="1180.5" y1="529.3" y2="529.3" stroke="#d9d9d9" stroke-width="1.3"/>
<text x="673.5" y="534" font-size="14.2" textLength="56.86" lengthAdjust="spacingAndGlyphs" text-anchor="end">0.000000</text>
<line x1="687" x2="1180.5" y1="565.83" y2="565.83" stroke="#d9d9d9" stroke-width="1.3"/>
<text x="673.5" y="570.53" font-size="14.2" textLength="61.4" lengthAdjust="spacingAndGlyphs" text-anchor="end">-0.100000</text>
<line x1="687" x2="1180.5" y1="602.37" y2="602.37" stroke="#d9d9d9" stroke-width="1.3"/>
<text x="673.5" y="607.07" font-size="14.2" textLength="61.4" lengthAdjust="spacingAndGlyphs" text-anchor="end">-0.200000</text>
<line x1="687" x2="1180.5" y1="638.9" y2="638.9" stroke="#d9d9d9" stroke-width="1.3"/>
<text x="673.5" y="643.6" font-size="14.2" textLength="61.4" lengthAdjust="spacingAndGlyphs" text-anchor="end">-0.300000</text>
<line x1="687" x2="687" y1="529.3" y2="534.3" stroke="#d9d9d9" stroke-width="1.3"/>
<text x="687" y="553.1" font-size="14.2" textLength="52.76" lengthAdjust="spacingAndGlyphs" text-anchor="middle">6-Apr-18</text>
<line x1="783.5" x2="783.5" y1="529.3" y2="534.3" stroke="#d9d9d9" stroke-width="1.3"/>
<text x="783.5" y="553.1" font-size="14.2" textLength="52.76" lengthAdjust="spacingAndGlyphs" text-anchor="middle">6-Apr-19</text>
<line x1="880" x2="880" y1="529.3" y2="534.3" stroke="#d9d9d9" stroke-width="1.3"/>
<text x="880" y="553.1" font-size="14.2" textLength="52.76" lengthAdjust="spacingAndGlyphs" text-anchor="middle">6-Apr-20</text>
<line x1="976.5" x2="976.5" y1="529.3" y2="534.3" stroke="#d9d9d9" stroke-width="1.3"/>
<text x="976.5" y="553.1" font-size="14.2" textLength="52.76" lengthAdjust="spacingAndGlyphs" text-anchor="middle">6-Apr-21</text>
<line x1="1073" x2="1073" y1="529.3" y2="534.3" stroke="#d9d9d9" stroke-width="1.3"/>
<text x="1073" y="553.1" font-size="14.2" textLength="52.76" lengthAdjust="spacingAndGlyphs" text-anchor="middle">6-Apr-22</text>
<line x1="1169.5" x2="1169.5" y1="529.3" y2="534.3" stroke="#d9d9d9" stroke-width="1.3"/>
<text x="1169.5" y="553.1" font-size="14.2" textLength="52.76" lengthAdjust="spacingAndGlyphs" text-anchor="middle">6-Apr-23</text>
<path d="M687.3 532.3 L688.3 534.7 L689.3 539.6 L690.3 538.9 L691.3 539.8 L692.3 542.3 L693.3 539.8 L694.3 544.9 L695.3 547.2 L696.3 546.1 L697.3 553.9 L698.3 549.1 L699.3 550.1 L700.3 552.2 L701.3 554.9 L702.3 557.6 L703.3 551.9 L704.3 554.6 L705.3 564.4 L706.3 564.0 L707.3 559.5 L708.3 556.0 L709.3 556.0 L710.3 550.4 L711.3 545.2 L712.3 540.8 L713.3 538.9 L714.3 539.2 L715.3 536.5 L716.3 535.0 L717.3 541.6 L718.3 543.1 L719.3 541.5 L720.3 547.6 L721.3 546.9 L722.3 545.8 L723.3 549.3 L724.3 550.3 L725.3 549.4 L726.3 554.2 L727.3 545.8 L728.3 547.3 L729.3 542.4 L730.3 542.8 L731.3 539.1 L732.3 538.0 L733.3 530.1 L734.3 533.3 L735.3 536.3 L736.3 533.8 L737.3 540.2 L738.3 539.5 L739.3 540.9 L740.3 536.6 L741.3 530.9 L742.3 534.4 L743.3 531.4 L744.3 529.0 L745.3 522.5 L746.3 517.0 L747.3 516.2 L748.3 512.3 L749.3 511.5 L750.3 514.3 L751.3 515.6 L752.3 517.5 L753.3 515.8 L754.3 520.0 L755.3 519.8 L756.3 517.3 L757.3 516.6 L758.3 517.2 L759.3 514.8 L760.3 513.3 L761.3 514.3 L762.3 509.4 L763.3 509.9 L764.3 507.6 L765.3 504.7 L766.3 507.2 L767.3 511.7 L768.3 510.2 L769.3 510.6 L770.3 517.5 L771.3 519.0 L772.3 521.5 L773.3 521.5 L774.3 516.9 L775.3 513.4 L776.3 512.8 L777.3 509.0 L778.3 502.6 L779.3 505.2 L780.3 506.7 L781.3 512.6 L782.3 511.8 L783.3 504.7 L784.3 504.4 L785.3 500.3 L786.3 500.6 L787.3 495.8 L788.3 494.7 L789.3 496.9 L790.3 503.6 L791.3 510.6 L792.3 509.5 L793.3 515.9 L794.3 519.9 L795.3 517.7 L796.3 520.0 L797.3 516.2 L798.3 524.6 L799.3 521.5 L800.3 527.3 L801.3 525.6 L802.3 521.6 L803.3 521.3 L804.3 525.8 L805.3 532.8 L806.3 541.6 L807.3 543.3 L808.3 546.9 L809.3 545.8 L810.3 551.9 L811.3 553.5 L812.3 556.6 L813.3 560.0 L814.3 564.0 L815.3 564.3 L816.3 565.3 L817.3 564.4 L818.3 562.1 L819.3 562.6 L820.3 561.7 L821.3 561.8 L822.3 563.3 L823.3 563.7 L824.3 561.3 L825.3 562.5 L826.3 557.6 L827.3 559.1 L828.3 556.0 L829.3 556.0 L830.3 558.5 L831.3 555.7 L832.3 554.6 L833.3 551.2 L834.3 547.8 L835.3 550.4 L836.3 549.8 L837.3 547.0 L838.3 548.4 L839.3 549.9 L840.3 551.5 L841.3 557.6 L842.3 562.5 L843.3 564.0 L844.3 571.8 L845.3 571.4 L846.3 570.1 L847.3 564.4 L848.3 552.6 L849.3 552.5 L850.3 554.3 L851.3 557.8 L852.3 561.5 L853.3 559.2 L854.3 555.5 L855.3 560.4 L856.3 558.3 L857.3 554.7 L858.3 552.9 L859.3 551.6 L860.3 543.2 L861.3 540.6 L862.3 531.8 L863.3 532.5 L864.3 530.4 L865.3 526.1 L866.3 522.8 L867.3 520.8 L868.3 515.9 L869.3 513.7 L870.3 514.0 L871.3 513.6 L872.3 509.4 L873.3 509.4 L874.3 509.2 L875.3 507.6 L876.3 505.6 L877.3 505.9 L878.3 505.4 L879.3 507.8 L880.3 508.3 L881.3 506.5 L882.3 510.3 L883.3 507.8 L884.3 507.0 L885.3 507.3 L886.3 509.5 L887.3 514.7 L888.3 513.0 L889.3 508.2 L890.3 511.6 L891.3 511.5 L892.3 511.7 L893.3 516.8 L894.3 517.6 L895.3 514.9 L896.3 516.3 L897.3 516.1 L898.3 515.4 L899.3 516.6 L900.3 514.7 L901.3 511.6 L902.3 512.1 L903.3 507.2 L904.3 508.3 L905.3 510.3 L906.3 509.9 L907.3 508.8 L908.3 509.4 L909.3 510.0 L910.3 512.9 L911.3 511.7 L912.3 514.1 L913.3 512.2 L914.3 513.3 L915.3 510.6 L916.3 507.2 L917.3 512.2 L918.3 509.7 L919.3 510.6 L920.3 513.4 L921.3 516.4 L922.3 515.0 L923.3 516.5 L924.3 517.7 L925.3 518.6 L926.3 515.3 L927.3 516.2 L928.3 517.4 L929.3 522.0 L930.3 529.8 L931.3 538.5 L932.3 546.1 L933.3 552.9 L934.3 552.4 L935.3 553.4 L936.3 551.7 L937.3 550.2 L938.3 542.0 L939.3 541.6 L940.3 538.5 L941.3 538.9 L942.3 534.5 L943.3 531.1 L944.3 526.8 L945.3 521.8 L946.3 523.5 L947.3 520.2 L948.3 513.8 L949.3 518.5 L950.3 511.7 L951.3 515.9 L952.3 518.8 L953.3 509.2 L954.3 511.6 L955.3 508.3 L956.3 505.5 L957.3 508.6 L958.3 504.3 L959.3 505.2 L960.3 506.1 L961.3 509.7 L962.3 510.2 L963.3 508.5 L964.3 511.7 L965.3 509.8 L966.3 504.5 L967.3 504.1 L968.3 503.2 L969.3 500.9 L970.3 501.0 L971.3 499.1 L972.3 500.7 L973.3 498.4 L974.3 501.3 L975.3 502.5 L976.3 503.0 L977.3 508.5 L978.3 507.9 L979.3 502.3 L980.3 509.8 L981.3 508.7 L982.3 511.2 L983.3 518.8 L984.3 525.9 L985.3 531.6 L986.3 536.9 L987.3 544.6 L988.3 550.4 L989.3 554.3 L990.3 554.0 L991.3 553.1 L992.3 557.8 L993.3 558.3 L994.3 558.5 L995.3 560.7 L996.3 564.7 L997.3 566.0 L998.3 572.3 L999.3 577.2 L1000.3 578.5 L1001.3 580.7 L1002.3 583.2 L1003.3 578.6 L1004.3 576.9 L1005.3 574.8 L1006.3 572.7 L1007.3 568.0 L1008.3 568.0 L1009.3 560.6 L1010.3 560.6 L1011.3 553.9 L1012.3 553.2 L1013.3 553.9 L1014.3 552.8 L1015.3 548.2 L1016.3 547.8 L1017.3 550.6 L1018.3 548.4 L1019.3 553.5 L1020.3 546.1 L1021.3 548.9 L1022.3 543.3 L1023.3 543.0 L1024.3 544.5 L1025.3 540.1 L1026.3 542.8 L1027.3 540.7 L1028.3 549.5 L1029.3 546.3 L1030.3 549.5 L1031.3 551.2 L1032.3 548.2 L1033.3 546.0 L1034.3 546.1 L1035.3 542.6 L1036.3 539.9 L1037.3 540.0 L1038.3 536.9 L1039.3 540.9 L1040.3 543.8 L1041.3 543.4 L1042.3 549.6 L1043.3 549.5 L1044.3 550.2 L1045.3 553.7 L1046.3 548.9 L1047.3 550.7 L1048.3 548.7 L1049.3 548.3 L1050.3 549.6 L1051.3 543.1 L1052.3 542.7 L1053.3 542.7 L1054.3 540.4 L1055.3 539.5 L1056.3 539.1 L1057.3 532.7 L1058.3 533.3 L1059.3 533.1 L1060.3 537.1 L1061.3 535.5 L1062.3 539.3 L1063.3 541.4 L1064.3 542.4 L1065.3 546.1 L1066.3 546.5 L1067.3 545.8 L1068.3 546.2 L1069.3 549.4 L1070.3 554.7 L1071.3 551.5 L1072.3 552.2 L1073.3 549.4 L1074.3 556.4 L1075.3 555.6 L1076.3 552.6 L1077.3 554.4 L1078.3 549.2 L1079.3 553.9 L1080.3 548.4 L1081.3 549.9 L1082.3 551.1 L1083.3 553.4 L1084.3 553.6 L1085.3 561.2 L1086.3 558.6 L1087.3 563.5 L1088.3 567.1 L1089.3 567.2 L1090.3 572.4 L1091.3 571.4 L1092.3 569.9 L1093.3 569.5 L1094.3 572.3 L1095.3 571.6 L1096.3 569.5 L1097.3 571.2 L1098.3 568.3 L1099.3 562.1 L1100.3 558.0 L1101.3 557.5 L1102.3 555.1 L1103.3 554.5 L1104.3 552.2 L1105.3 551.0 L1106.3 550.3 L1107.3 545.6 L1108.3 547.9 L1109.3 545.0 L1110.3 537.0 L1111.3 537.2 L1112.3 532.7 L1113.3 532.2 L1114.3 525.7 L1115.3 527.5 L1116.3 524.0 L1117.3 521.2 L1118.3 512.4 L1119.3 508.7 L1120.3 506.2 L1121.3 504.3 L1122.3 501.3 L1123.3 506.1 L1124.3 499.1 L1125.3 499.3 L1126.3 497.1 L1127.3 499.7 L1128.3 499.5 L1129.3 494.4 L1130.3 493.0 L1131.3 494.7 L1132.3 491.2 L1133.3 494.2 L1134.3 489.4 L1135.3 492.2 L1136.3 490.9 L1137.3 484.6 L1138.3 484.1 L1139.3 485.9 L1140.3 485.5 L1141.3 485.8 L1142.3 488.9 L1143.3 493.8 L1144.3 487.9 L1145.3 485.2 L1146.3 486.5 L1147.3 483.4 L1148.3 484.3 L1149.3 482.4 L1150.3 483.2 L1151.3 488.0 L1152.3 485.1 L1153.3 489.6 L1154.3 485.8 L1155.3 490.2 L1156.3 491.6 L1157.3 491.8 L1158.3 495.6 L1159.3 498.4 L1160.3 499.2 L1161.3 495.9 L1162.3 496.6 L1163.3 500.2 L1164.3 506.6 L1165.3 499.2 L1166.3 502.3 L1167.3 506.6 L1168.3 503.1 L1169.3 505.1 L1170.3 504.8 L1171.3 505.1 L1172.3 502.3 L1173.3 505.1 L1174.3 499.6 L1175.3 493.7 L1176.3 490.1 L1177.3 486.3 L1178.3 491.8 L1179.3 489.1 L1180.3 489.5" fill="none" stroke="#4472C4" stroke-width="4.2" stroke-linejoin="round" stroke-linecap="round"/>
<path d="M687.3 537.2 L688.3 538.4 L689.3 537.7 L690.3 544.0 L691.3 544.6 L692.3 546.0 L693.3 546.9 L694.3 550.4 L695.3 547.9 L696.3 547.1 L697.3 542.7 L698.3 544.6 L699.3 546.0 L700.3 550.2 L701.3 543.7 L702.3 550.2 L703.3 545.1 L704.3 542.1 L705.3 541.2 L706.3 535.9 L707.3 534.5 L708.3 535.8 L709.3 530.7 L710.3 537.6 L711.3 532.7 L712.3 530.8 L713.3 524.5 L714.3 522.2 L715.3 524.1 L716.3 516.3 L717.3 513.1 L718.3 514.4 L719.3 516.0 L720.3 506.9 L721.3 514.2 L722.3 511.6 L723.3 512.2 L724.3 507.3 L725.3 509.2 L726.3 511.7 L727.3 507.5 L728.3 505.3 L729.3 504.9 L730.3 504.1 L731.3 508.6 L732.3 509.5 L733.3 509.9 L734.3 513.6 L735.3 509.6 L736.3 508.5 L737.3 517.0 L738.3 510.2 L739.3 514.0 L740.3 510.0 L741.3 510.4 L742.3 513.3 L743.3 511.7 L744.3 513.1 L745.3 516.5 L746.3 518.3 L747.3 524.3 L748.3 536.6 L749.3 539.2 L750.3 548.6 L751.3 556.8 L752.3 560.6 L753.3 566.0 L754.3 565.2 L755.3 570.4 L756.3 571.9 L757.3 569.9 L758.3 572.9 L759.3 567.5 L760.3 570.5 L761.3 569.8 L762.3 571.5 L763.3 578.2 L764.3 576.2 L765.3 571.0 L766.3 568.0 L767.3 561.5 L768.3 559.1 L769.3 551.5 L770.3 541.4 L771.3 535.1 L772.3 534.7 L773.3 530.6 L774.3 529.8 L775.3 523.1 L776.3 520.4 L777.3 521.1 L778.3 519.3 L779.3 519.8 L780.3 519.1 L781.3 513.3 L782.3 508.2 L783.3 511.9 L784.3 509.3 L785.3 510.1 L786.3 502.3 L787.3 508.1 L788.3 513.0 L789.3 515.7 L790.3 521.9 L791.3 525.2 L792.3 529.5 L793.3 535.9 L794.3 534.4 L795.3 530.2 L796.3 524.4 L797.3 520.2 L798.3 518.4 L799.3 515.2 L800.3 510.4 L801.3 514.1 L802.3 516.8 L803.3 515.3 L804.3 512.8 L805.3 515.1 L806.3 511.1 L807.3 507.6 L808.3 508.2 L809.3 503.7 L810.3 505.6 L811.3 503.4 L812.3 503.9 L813.3 505.8 L814.3 506.9 L815.3 505.5 L816.3 501.7 L817.3 507.1 L818.3 508.6 L819.3 515.8 L820.3 520.2 L821.3 519.8 L822.3 520.8 L823.3 521.9 L824.3 520.3 L825.3 515.3 L826.3 515.2 L827.3 510.4 L828.3 506.3 L829.3 506.8 L830.3 509.2 L831.3 507.6 L832.3 505.6 L833.3 514.0 L834.3 513.8 L835.3 515.7 L836.3 514.8 L837.3 517.0 L838.3 519.1 L839.3 513.6 L840.3 515.4 L841.3 514.3 L842.3 510.8 L843.3 512.2 L844.3 514.5 L845.3 512.7 L846.3 518.2 L847.3 514.9 L848.3 520.8 L849.3 521.4 L850.3 521.5 L851.3 519.1 L852.3 518.9 L853.3 515.6 L854.3 519.0 L855.3 517.9 L856.3 518.1 L857.3 518.4 L858.3 516.0 L859.3 513.9 L860.3 516.5 L861.3 515.2 L862.3 515.6 L863.3 513.7 L864.3 521.0 L865.3 520.3 L866.3 528.5 L867.3 525.4 L868.3 528.3 L869.3 532.3 L870.3 532.5 L871.3 530.6 L872.3 531.2 L873.3 531.9 L874.3 534.7 L875.3 538.9 L876.3 539.8 L877.3 538.9 L878.3 539.3 L879.3 532.0 L880.3 533.7 L881.3 532.2 L882.3 529.1 L883.3 530.5 L884.3 527.6 L885.3 525.7 L886.3 529.4 L887.3 526.6 L888.3 527.9 L889.3 525.8 L890.3 531.3 L891.3 529.9 L892.3 532.9 L893.3 534.8 L894.3 531.0 L895.3 527.7 L896.3 525.8 L897.3 527.4 L898.3 519.2 L899.3 516.0 L900.3 511.8 L901.3 501.6 L902.3 506.7 L903.3 505.7 L904.3 506.5 L905.3 506.4 L906.3 507.9 L907.3 507.9 L908.3 514.6 L909.3 515.7 L910.3 521.0 L911.3 529.1 L912.3 530.9 L913.3 532.8 L914.3 542.2 L915.3 545.1 L916.3 555.0 L917.3 560.4 L918.3 556.6 L919.3 559.4 L920.3 556.7 L921.3 554.9 L922.3 551.4 L923.3 547.6 L924.3 545.2 L925.3 540.2 L926.3 540.7 L927.3 540.6 L928.3 542.2 L929.3 534.8 L930.3 540.5 L931.3 537.0 L932.3 534.6 L933.3 538.6 L934.3 534.2 L935.3 528.5 L936.3 529.1 L937.3 528.7 L938.3 523.0 L939.3 528.2 L940.3 525.3 L941.3 530.0 L942.3 528.4 L943.3 524.6 L944.3 525.2 L945.3 524.2 L946.3 526.3 L947.3 523.8 L948.3 526.2 L949.3 531.6 L950.3 534.4 L951.3 537.9 L952.3 544.1 L953.3 545.8 L954.3 558.1 L955.3 558.1 L956.3 563.3 L957.3 565.0 L958.3 570.1 L959.3 568.1 L960.3 565.7 L961.3 566.5 L962.3 566.2 L963.3 563.3 L964.3 566.7 L965.3 562.9 L966.3 561.7 L967.3 558.9 L968.3 555.7 L969.3 552.2 L970.3 557.3 L971.3 554.6 L972.3 556.6 L973.3 560.8 L974.3 561.4 L975.3 558.2 L976.3 560.8 L977.3 561.0 L978.3 566.7 L979.3 564.4 L980.3 565.0 L981.3 563.5 L982.3 562.6 L983.3 559.9 L984.3 551.2 L985.3 547.8 L986.3 541.5 L987.3 536.3 L988.3 529.0 L989.3 531.1 L990.3 524.2 L991.3 523.1 L992.3 523.6 L993.3 523.5 L994.3 520.5 L995.3 517.1 L996.3 516.8 L997.3 513.2 L998.3 511.2 L999.3 512.0 L1000.3 499.1 L1001.3 497.5 L1002.3 494.5 L1003.3 491.6 L1004.3 490.2 L1005.3 492.0 L1006.3 492.0 L1007.3 491.1 L1008.3 496.4 L1009.3 500.1 L1010.3 499.9 L1011.3 500.7 L1012.3 502.4 L1013.3 498.4 L1014.3 496.9 L1015.3 495.5 L1016.3 492.9 L1017.3 490.5 L1018.3 496.6 L1019.3 497.9 L1020.3 499.2 L1021.3 501.6 L1022.3 509.0 L1023.3 515.0 L1024.3 521.1 L1025.3 526.1 L1026.3 527.0 L1027.3 529.5 L1028.3 529.8 L1029.3 533.9 L1030.3 537.3 L1031.3 543.4 L1032.3 541.7 L1033.3 552.2 L1034.3 554.7 L1035.3 555.1 L1036.3 553.2 L1037.3 553.6 L1038.3 552.8 L1039.3 551.2 L1040.3 543.3 L1041.3 543.2 L1042.3 543.2 L1043.3 542.9 L1044.3 540.7 L1045.3 538.1 L1046.3 537.5 L1047.3 534.5 L1048.3 537.8 L1049.3 534.1 L1050.3 530.2 L1051.3 525.3 L1052.3 526.1 L1053.3 529.8 L1054.3 532.0 L1055.3 537.3 L1056.3 537.2 L1057.3 533.7 L1058.3 527.5 L1059.3 531.9 L1060.3 531.0 L1061.3 533.2 L1062.3 541.6 L1063.3 540.8 L1064.3 547.5 L1065.3 554.9 L1066.3 560.8 L1067.3 561.2 L1068.3 560.3 L1069.3 561.8 L1070.3 558.9 L1071.3 556.2 L1072.3 548.4 L1073.3 543.7 L1074.3 533.6 L1075.3 530.7 L1076.3 529.0 L1077.3 523.2 L1078.3 520.1 L1079.3 522.0 L1080.3 516.8 L1081.3 514.7 L1082.3 515.4 L1083.3 515.4 L1084.3 514.9 L1085.3 511.4 L1086.3 514.6 L1087.3 513.1 L1088.3 513.6 L1089.3 518.7 L1090.3 510.0 L1091.3 505.0 L1092.3 506.1 L1093.3 501.5 L1094.3 501.8 L1095.3 492.8 L1096.3 493.8 L1097.3 497.4 L1098.3 494.9 L1099.3 490.9 L1100.3 494.5 L1101.3 492.7 L1102.3 491.0 L1103.3 496.6 L1104.3 498.4 L1105.3 496.9 L1106.3 500.2 L1107.3 505.0 L1108.3 505.1 L1109.3 505.1 L1110.3 508.6 L1111.3 512.8 L1112.3 514.1 L1113.3 514.2 L1114.3 513.5 L1115.3 521.2 L1116.3 518.3 L1117.3 519.1 L1118.3 516.0 L1119.3 513.6 L1120.3 513.7 L1121.3 510.5 L1122.3 507.4 L1123.3 502.5 L1124.3 495.7 L1125.3 499.6 L1126.3 499.0 L1127.3 494.2 L1128.3 492.7 L1129.3 495.9 L1130.3 490.0 L1131.3 485.0 L1132.3 483.5 L1133.3 491.0 L1134.3 492.0 L1135.3 487.5 L1136.3 488.9 L1137.3 484.4 L1138.3 484.2 L1139.3 486.6 L1140.3 483.4 L1141.3 481.5 L1142.3 481.3 L1143.3 487.5 L1144.3 488.3 L1145.3 485.9 L1146.3 490.7 L1147.3 483.5 L1148.3 481.5 L1149.3 482.9 L1150.3 480.9 L1151.3 480.8 L1152.3 484.0 L1153.3 484.8 L1154.3 486.3 L1155.3 490.2 L1156.3 495.9 L1157.3 496.6 L1158.3 502.5 L1159.3 502.3 L1160.3 502.5 L1161.3 507.4 L1162.3 508.2 L1163.3 508.8 L1164.3 510.7 L1165.3 514.5 L1166.3 515.9 L1167.3 516.2 L1168.3 517.1 L1169.3 519.4 L1170.3 520.9 L1171.3 521.6 L1172.3 520.5 L1173.3 525.7 L1174.3 527.3 L1175.3 527.4 L1176.3 516.8 L1177.3 522.2 L1178.3 521.4 L1179.3 515.9 L1180.3 524.6" fill="none" stroke="#ED7D31" stroke-width="4.2" stroke-linejoin="round" stroke-linecap="round"/>
<path d="M687.3 502.1 L688.3 500.9 L689.3 498.1 L690.3 502.9 L691.3 494.7 L692.3 496.1 L693.3 497.0 L694.3 496.3 L695.3 497.5 L696.3 495.3 L697.3 502.5 L698.3 498.9 L699.3 501.1 L700.3 502.7 L701.3 504.9 L702.3 506.5 L703.3 513.5 L704.3 513.4 L705.3 517.8 L706.3 515.1 L707.3 521.9 L708.3 523.3 L709.3 527.1 L710.3 529.5 L711.3 531.6 L712.3 531.9 L713.3 533.5 L714.3 533.8 L715.3 532.7 L716.3 531.0 L717.3 528.7 L718.3 529.0 L719.3 525.1 L720.3 529.8 L721.3 526.4 L722.3 526.3 L723.3 521.6 L724.3 518.6 L725.3 519.2 L726.3 522.0 L727.3 523.8 L728.3 525.7 L729.3 527.2 L730.3 530.6 L731.3 522.5 L732.3 527.9 L733.3 521.7 L734.3 518.4 L735.3 509.0 L736.3 507.6 L737.3 499.5 L738.3 500.7 L739.3 497.9 L740.3 495.0 L741.3 491.6 L742.3 488.6 L743.3 485.8 L744.3 485.0 L745.3 479.5 L746.3 475.7 L747.3 476.4 L748.3 467.9 L749.3 461.3 L750.3 464.2 L751.3 469.4 L752.3 477.7 L753.3 481.9 L754.3 480.0 L755.3 479.2 L756.3 478.5 L757.3 476.8 L758.3 476.1 L759.3 472.7 L760.3 470.0 L761.3 471.4 L762.3 467.9 L763.3 466.5 L764.3 467.1 L765.3 469.8 L766.3 471.8 L767.3 474.7 L768.3 476.8 L769.3 483.1 L770.3 480.7 L771.3 476.2 L772.3 478.5 L773.3 483.3 L774.3 482.9 L775.3 489.4 L776.3 483.7 L777.3 482.7 L778.3 482.2 L779.3 476.9 L780.3 473.9 L781.3 467.6 L782.3 464.6 L783.3 458.7 L784.3 450.2 L785.3 453.8 L786.3 455.8 L787.3 449.1 L788.3 448.2 L789.3 450.2 L790.3 446.8 L791.3 451.9 L792.3 455.3 L793.3 460.5 L794.3 462.4 L795.3 470.2 L796.3 470.4 L797.3 474.0 L798.3 476.1 L799.3 483.3 L800.3 483.4 L801.3 488.6 L802.3 490.8 L803.3 498.9 L804.3 496.0 L805.3 501.3 L806.3 508.1 L807.3 507.1 L808.3 517.5 L809.3 525.3 L810.3 524.5 L811.3 526.6 L812.3 531.9 L813.3 529.3 L814.3 527.8 L815.3 527.6 L816.3 525.9 L817.3 535.4 L818.3 535.1 L819.3 538.1 L820.3 535.9 L821.3 529.8 L822.3 530.1 L823.3 535.3 L824.3 539.0 L825.3 544.3 L826.3 548.0 L827.3 542.9 L828.3 539.4 L829.3 536.7 L830.3 539.6 L831.3 534.3 L832.3 533.9 L833.3 535.6 L834.3 531.4 L835.3 529.8 L836.3 529.0 L837.3 523.9 L838.3 525.5 L839.3 525.5 L840.3 526.0 L841.3 524.5 L842.3 520.4 L843.3 524.3 L844.3 529.2 L845.3 527.6 L846.3 528.4 L847.3 532.8 L848.3 534.5 L849.3 535.0 L850.3 537.2 L851.3 539.1 L852.3 539.8 L853.3 540.7 L854.3 545.2 L855.3 540.5 L856.3 549.4 L857.3 548.5 L858.3 548.7 L859.3 553.9 L860.3 556.9 L861.3 553.4 L862.3 553.2 L863.3 552.2 L864.3 549.7 L865.3 545.3 L866.3 540.1 L867.3 539.3 L868.3 536.8 L869.3 518.6 L870.3 514.5 L871.3 496.5 L872.3 483.2 L873.3 469.5 L874.3 458.2 L875.3 455.8 L876.3 451.9 L877.3 456.9 L878.3 455.5 L879.3 454.3 L880.3 451.2 L881.3 452.9 L882.3 452.2 L883.3 453.0 L884.3 449.9 L885.3 448.7 L886.3 451.8 L887.3 453.3 L888.3 454.7 L889.3 457.3 L890.3 454.7 L891.3 453.5 L892.3 460.5 L893.3 461.9 L894.3 458.5 L895.3 463.0 L896.3 461.3 L897.3 464.3 L898.3 467.0 L899.3 466.9 L900.3 471.2 L901.3 477.2 L902.3 478.7 L903.3 482.9 L904.3 487.6 L905.3 491.8 L906.3 494.8 L907.3 496.1 L908.3 498.8 L909.3 503.3 L910.3 503.7 L911.3 504.1 L912.3 501.7 L913.3 501.5 L914.3 500.3 L915.3 502.3 L916.3 501.6 L917.3 506.3 L918.3 504.7 L919.3 501.3 L920.3 498.8 L921.3 495.2 L922.3 498.0 L923.3 496.9 L924.3 496.9 L925.3 495.2 L926.3 493.9 L927.3 496.1 L928.3 492.2 L929.3 492.1 L930.3 497.7 L931.3 497.0 L932.3 494.8 L933.3 497.8 L934.3 495.7 L935.3 496.7 L936.3 497.8 L937.3 495.0 L938.3 498.7 L939.3 500.2 L940.3 499.5 L941.3 498.6 L942.3 498.9 L943.3 496.6 L944.3 499.9 L945.3 505.5 L946.3 504.0 L947.3 498.5 L948.3 494.1 L949.3 495.9 L950.3 494.9 L951.3 492.3 L952.3 488.1 L953.3 489.1 L954.3 487.7 L955.3 482.8 L956.3 480.7 L957.3 480.9 L958.3 481.6 L959.3 481.5 L960.3 481.1 L961.3 479.4 L962.3 477.4 L963.3 477.8 L964.3 478.1 L965.3 475.1 L966.3 476.3 L967.3 475.4 L968.3 474.5 L969.3 476.7 L970.3 479.9 L971.3 479.7 L972.3 484.8 L973.3 485.4 L974.3 488.4 L975.3 491.2 L976.3 492.4 L977.3 493.8 L978.3 497.7 L979.3 497.0 L980.3 501.5 L981.3 504.8 L982.3 504.7 L983.3 507.9 L984.3 505.3 L985.3 503.4 L986.3 509.4 L987.3 514.8 L988.3 510.0 L989.3 515.9 L990.3 513.2 L991.3 518.5 L992.3 515.3 L993.3 515.6 L994.3 517.2 L995.3 513.1 L996.3 517.4 L997.3 518.6 L998.3 522.1 L999.3 523.0 L1000.3 525.3 L1001.3 527.4 L1002.3 533.9 L1003.3 532.7 L1004.3 533.2 L1005.3 529.5 L1006.3 538.0 L1007.3 537.0 L1008.3 538.6 L1009.3 538.6 L1010.3 534.8 L1011.3 534.5 L1012.3 529.5 L1013.3 529.1 L1014.3 527.1 L1015.3 526.6 L1016.3 524.7 L1017.3 523.6 L1018.3 521.9 L1019.3 520.4 L1020.3 519.9 L1021.3 515.9 L1022.3 515.1 L1023.3 518.0 L1024.3 519.7 L1025.3 523.5 L1026.3 519.2 L1027.3 526.2 L1028.3 523.9 L1029.3 524.3 L1030.3 528.0 L1031.3 529.5 L1032.3 532.3 L1033.3 527.3 L1034.3 534.7 L1035.3 535.3 L1036.3 538.6 L1037.3 536.7 L1038.3 535.0 L1039.3 538.6 L1040.3 540.2 L1041.3 543.5 L1042.3 544.4 L1043.3 536.8 L1044.3 535.9 L1045.3 538.2 L1046.3 535.4 L1047.3 537.6 L1048.3 537.3 L1049.3 541.0 L1050.3 539.6 L1051.3 543.9 L1052.3 545.8 L1053.3 547.4 L1054.3 548.8 L1055.3 554.2 L1056.3 555.2 L1057.3 554.7 L1058.3 555.6 L1059.3 553.5 L1060.3 558.9 L1061.3 560.2 L1062.3 557.1 L1063.3 559.2 L1064.3 554.2 L1065.3 548.5 L1066.3 544.6 L1067.3 537.6 L1068.3 532.8 L1069.3 522.9 L1070.3 516.4 L1071.3 503.7 L1072.3 499.8 L1073.3 498.7 L1074.3 495.7 L1075.3 494.7 L1076.3 494.3 L1077.3 495.6 L1078.3 499.0 L1079.3 500.3 L1080.3 505.6 L1081.3 505.6 L1082.3 510.0 L1083.3 513.2 L1084.3 520.0 L1085.3 519.3 L1086.3 523.9 L1087.3 526.3 L1088.3 526.4 L1089.3 529.4 L1090.3 526.1 L1091.3 525.3 L1092.3 528.7 L1093.3 530.6 L1094.3 533.8 L1095.3 531.6 L1096.3 527.5 L1097.3 524.0 L1098.3 524.2 L1099.3 519.7 L1100.3 520.5 L1101.3 521.4 L1102.3 525.0 L1103.3 520.6 L1104.3 520.4 L1105.3 525.1 L1106.3 525.1 L1107.3 526.8 L1108.3 525.3 L1109.3 533.9 L1110.3 529.4 L1111.3 534.3 L1112.3 536.2 L1113.3 538.2 L1114.3 541.2 L1115.3 538.9 L1116.3 539.5 L1117.3 545.2 L1118.3 549.4 L1119.3 548.7 L1120.3 549.5 L1121.3 553.8 L1122.3 548.8 L1123.3 553.2 L1124.3 545.2 L1125.3 544.6 L1126.3 544.9 L1127.3 542.2 L1128.3 544.0 L1129.3 538.6 L1130.3 536.0 L1131.3 533.8 L1132.3 536.3 L1133.3 534.2 L1134.3 533.6 L1135.3 536.4 L1136.3 532.4 L1137.3 531.1 L1138.3 533.4 L1139.3 533.3 L1140.3 529.2 L1141.3 529.1 L1142.3 529.2 L1143.3 526.8 L1144.3 526.3 L1145.3 526.4 L1146.3 532.1 L1147.3 529.2 L1148.3 537.0 L1149.3 528.8 L1150.3 531.4 L1151.3 531.3 L1152.3 536.4 L1153.3 535.3 L1154.3 530.0 L1155.3 536.0 L1156.3 535.8 L1157.3 542.8 L1158.3 547.0 L1159.3 548.7 L1160.3 548.4 L1161.3 551.7 L1162.3 550.0 L1163.3 554.5 L1164.3 551.0 L1165.3 555.7 L1166.3 557.1 L1167.3 557.0 L1168.3 561.6 L1169.3 562.8 L1170.3 566.8 L1171.3 564.8 L1172.3 568.3 L1173.3 568.1 L1174.3 575.3 L1175.3 572.4 L1176.3 571.2 L1177.3 569.1 L1178.3 572.6 L1179.3 571.2 L1180.3 568.9" fill="none" stroke="#A5A5A5" stroke-width="4.2" stroke-linejoin="round" stroke-linecap="round"/>
<path d="M687.3 531.3 L688.3 533.5 L689.3 536.5 L690.3 533.2 L691.3 529.9 L692.3 526.8 L693.3 529.7 L694.3 527.0 L695.3 524.5 L696.3 522.8 L697.3 521.0 L698.3 527.3 L699.3 527.0 L700.3 527.8 L701.3 529.9 L702.3 525.1 L703.3 523.8 L704.3 524.8 L705.3 521.3 L706.3 520.6 L707.3 517.3 L708.3 516.9 L709.3 514.7 L710.3 520.5 L711.3 522.3 L712.3 519.5 L713.3 521.6 L714.3 523.8 L715.3 532.9 L716.3 532.4 L717.3 531.1 L718.3 533.9 L719.3 536.8 L720.3 529.8 L721.3 530.1 L722.3 527.7 L723.3 526.9 L724.3 531.0 L725.3 534.7 L726.3 535.4 L727.3 538.3 L728.3 544.9 L729.3 547.6 L730.3 555.7 L731.3 567.0 L732.3 567.3 L733.3 567.4 L734.3 565.9 L735.3 569.5 L736.3 568.5 L737.3 567.7 L738.3 566.4 L739.3 566.0 L740.3 564.4 L741.3 563.4 L742.3 564.7 L743.3 562.8 L744.3 562.6 L745.3 563.1 L746.3 566.1 L747.3 563.1 L748.3 565.3 L749.3 560.2 L750.3 555.3 L751.3 546.6 L752.3 545.2 L753.3 542.7 L754.3 538.9 L755.3 540.4 L756.3 544.0 L757.3 546.1 L758.3 551.3 L759.3 552.9 L760.3 561.3 L761.3 560.1 L762.3 555.0 L763.3 547.9 L764.3 545.3 L765.3 543.1 L766.3 541.1 L767.3 536.8 L768.3 535.9 L769.3 534.5 L770.3 535.8 L771.3 532.6 L772.3 532.6 L773.3 535.3 L774.3 526.8 L775.3 528.1 L776.3 527.5 L777.3 523.2 L778.3 526.3 L779.3 520.0 L780.3 517.2 L781.3 513.7 L782.3 503.5 L783.3 486.4 L784.3 480.4 L785.3 477.1 L786.3 475.0 L787.3 481.0 L788.3 479.6 L789.3 479.2 L790.3 486.7 L791.3 496.1 L792.3 497.3 L793.3 505.4 L794.3 507.5 L795.3 509.9 L796.3 517.5 L797.3 518.8 L798.3 520.0 L799.3 523.8 L800.3 526.0 L801.3 523.5 L802.3 525.1 L803.3 520.1 L804.3 516.0 L805.3 513.3 L806.3 511.0 L807.3 506.1 L808.3 499.9 L809.3 493.9 L810.3 486.9 L811.3 491.1 L812.3 487.1 L813.3 490.6 L814.3 487.0 L815.3 483.7 L816.3 491.0 L817.3 491.0 L818.3 490.7 L819.3 493.3 L820.3 494.1 L821.3 493.4 L822.3 487.7 L823.3 489.7 L824.3 492.3 L825.3 490.9 L826.3 497.9 L827.3 497.4 L828.3 495.1 L829.3 504.4 L830.3 502.8 L831.3 504.7 L832.3 505.6 L833.3 511.4 L834.3 509.2 L835.3 508.6 L836.3 509.8 L837.3 513.4 L838.3 514.4 L839.3 512.4 L840.3 516.2 L841.3 513.7 L842.3 515.9 L843.3 517.5 L844.3 517.1 L845.3 517.0 L846.3 517.1 L847.3 515.8 L848.3 517.8 L849.3 518.9 L850.3 516.2 L851.3 516.2 L852.3 520.4 L853.3 520.8 L854.3 522.4 L855.3 525.0 L856.3 525.7 L857.3 523.4 L858.3 524.1 L859.3 520.4 L860.3 525.1 L861.3 526.8 L862.3 527.2 L863.3 528.2 L864.3 529.3 L865.3 526.8 L866.3 524.1 L867.3 527.0 L868.3 527.8 L869.3 530.6 L870.3 529.9 L871.3 535.5 L872.3 536.8 L873.3 531.2 L874.3 533.5 L875.3 539.7 L876.3 549.1 L877.3 548.2 L878.3 545.6 L879.3 544.5 L880.3 541.0 L881.3 544.9 L882.3 544.0 L883.3 547.7 L884.3 548.1 L885.3 549.0 L886.3 550.3 L887.3 553.0 L888.3 556.0 L889.3 548.7 L890.3 553.6 L891.3 553.0 L892.3 558.2 L893.3 559.3 L894.3 561.2 L895.3 568.7 L896.3 577.1 L897.3 583.2 L898.3 583.9 L899.3 584.4 L900.3 585.6 L901.3 586.8 L902.3 585.0 L903.3 583.0 L904.3 582.6 L905.3 581.9 L906.3 579.7 L907.3 576.2 L908.3 578.1 L909.3 576.5 L910.3 576.1 L911.3 572.9 L912.3 571.2 L913.3 575.7 L914.3 578.2 L915.3 582.2 L916.3 577.3 L917.3 579.8 L918.3 581.7 L919.3 588.9 L920.3 582.7 L921.3 591.3 L922.3 589.8 L923.3 587.7 L924.3 590.2 L925.3 589.1 L926.3 580.8 L927.3 584.0 L928.3 586.9 L929.3 588.5 L930.3 595.4 L931.3 595.3 L932.3 599.7 L933.3 593.1 L934.3 595.8 L935.3 592.6 L936.3 591.3 L937.3 585.8 L938.3 588.1 L939.3 580.3 L940.3 580.8 L941.3 577.4 L942.3 568.0 L943.3 572.5 L944.3 573.5 L945.3 573.6 L946.3 578.1 L947.3 576.1 L948.3 577.5 L949.3 578.5 L950.3 574.3 L951.3 579.2 L952.3 582.8 L953.3 575.9 L954.3 566.5 L955.3 556.4 L956.3 554.4 L957.3 555.0 L958.3 549.8 L959.3 548.0 L960.3 546.7 L961.3 546.7 L962.3 550.2 L963.3 550.9 L964.3 557.0 L965.3 562.6 L966.3 562.2 L967.3 558.8 L968.3 556.5 L969.3 554.0 L970.3 549.4 L971.3 544.5 L972.3 542.7 L973.3 538.5 L974.3 530.2 L975.3 523.9 L976.3 522.5 L977.3 520.1 L978.3 519.1 L979.3 515.3 L980.3 512.4 L981.3 506.3 L982.3 506.3 L983.3 508.1 L984.3 508.8 L985.3 512.4 L986.3 514.2 L987.3 515.1 L988.3 520.1 L989.3 522.3 L990.3 523.7 L991.3 517.5 L992.3 516.1 L993.3 522.8 L994.3 528.8 L995.3 528.3 L996.3 531.9 L997.3 531.7 L998.3 535.2 L999.3 531.8 L1000.3 530.7 L1001.3 529.7 L1002.3 529.4 L1003.3 528.5 L1004.3 531.7 L1005.3 532.0 L1006.3 533.7 L1007.3 529.2 L1008.3 521.1 L1009.3 522.1 L1010.3 527.8 L1011.3 530.1 L1012.3 532.6 L1013.3 535.1 L1014.3 536.3 L1015.3 535.1 L1016.3 534.3 L1017.3 528.9 L1018.3 525.7 L1019.3 522.3 L1020.3 519.5 L1021.3 516.1 L1022.3 518.5 L1023.3 516.5 L1024.3 512.9 L1025.3 512.1 L1026.3 516.8 L1027.3 526.4 L1028.3 531.7 L1029.3 537.3 L1030.3 542.3 L1031.3 545.2 L1032.3 551.4 L1033.3 559.2 L1034.3 558.1 L1035.3 560.6 L1036.3 562.6 L1037.3 561.9 L1038.3 562.3 L1039.3 561.1 L1040.3 560.2 L1041.3 560.9 L1042.3 554.9 L1043.3 555.0 L1044.3 553.9 L1045.3 555.6 L1046.3 554.0 L1047.3 556.5 L1048.3 554.2 L1049.3 557.9 L1050.3 552.5 L1051.3 559.4 L1052.3 551.7 L1053.3 549.0 L1054.3 543.7 L1055.3 541.6 L1056.3 544.1 L1057.3 541.7 L1058.3 537.5 L1059.3 538.0 L1060.3 539.4 L1061.3 536.1 L1062.3 532.6 L1063.3 532.5 L1064.3 531.4 L1065.3 525.1 L1066.3 523.1 L1067.3 520.6 L1068.3 520.4 L1069.3 516.8 L1070.3 514.3 L1071.3 509.1 L1072.3 509.7 L1073.3 506.4 L1074.3 508.2 L1075.3 505.4 L1076.3 505.5 L1077.3 501.4 L1078.3 498.7 L1079.3 493.6 L1080.3 488.9 L1081.3 480.4 L1082.3 479.4 L1083.3 484.1 L1084.3 493.7 L1085.3 490.2 L1086.3 493.0 L1087.3 499.3 L1088.3 499.6 L1089.3 501.2 L1090.3 495.4 L1091.3 494.1 L1092.3 495.9 L1093.3 498.7 L1094.3 505.4 L1095.3 506.5 L1096.3 505.9 L1097.3 502.5 L1098.3 497.7 L1099.3 498.6 L1100.3 497.2 L1101.3 494.9 L1102.3 495.4 L1103.3 498.6 L1104.3 496.5 L1105.3 500.0 L1106.3 495.6 L1107.3 493.4 L1108.3 491.8 L1109.3 492.6 L1110.3 482.8 L1111.3 478.5 L1112.3 481.8 L1113.3 477.9 L1114.3 477.2 L1115.3 473.3 L1116.3 478.3 L1117.3 477.2 L1118.3 473.3 L1119.3 479.6 L1120.3 479.2 L1121.3 479.4 L1122.3 476.0 L1123.3 481.9 L1124.3 475.5 L1125.3 477.3 L1126.3 474.2 L1127.3 472.6 L1128.3 474.2 L1129.3 458.9 L1130.3 443.8 L1131.3 439.5 L1132.3 440.7 L1133.3 440.4 L1134.3 442.5 L1135.3 440.9 L1136.3 442.9 L1137.3 443.9 L1138.3 434.3 L1139.3 435.7 L1140.3 435.5 L1141.3 434.4 L1142.3 434.3 L1143.3 435.7 L1144.3 438.8 L1145.3 435.3 L1146.3 439.6 L1147.3 440.1 L1148.3 435.7 L1149.3 437.2 L1150.3 430.4 L1151.3 431.5 L1152.3 432.0 L1153.3 432.7 L1154.3 432.4 L1155.3 439.8 L1156.3 445.6 L1157.3 455.7 L1158.3 458.7 L1159.3 466.6 L1160.3 472.7 L1161.3 479.3 L1162.3 478.2 L1163.3 484.1 L1164.3 488.1 L1165.3 487.7 L1166.3 496.5 L1167.3 501.1 L1168.3 498.3 L1169.3 504.2 L1170.3 505.2 L1171.3 506.3 L1172.3 505.0 L1173.3 503.8 L1174.3 509.5 L1175.3 506.5 L1176.3 504.9 L1177.3 509.5 L1178.3 507.8 L1179.3 513.2 L1180.3 512.6" fill="none" stroke="#FFC000" stroke-width="4.2" stroke-linejoin="round" stroke-linecap="round"/>
<path d="M687.3 500.3 L688.3 504.2 L689.3 509.4 L690.3 506.3 L691.3 513.9 L692.3 512.3 L693.3 514.5 L694.3 510.4 L695.3 507.9 L696.3 506.4 L697.3 502.1 L698.3 508.3 L699.3 513.4 L700.3 522.0 L701.3 524.4 L702.3 524.2 L703.3 520.9 L704.3 503.0 L705.3 490.8 L706.3 497.5 L707.3 501.1 L708.3 499.9 L709.3 505.3 L710.3 502.1 L711.3 501.8 L712.3 500.3 L713.3 499.0 L714.3 499.0 L715.3 492.7 L716.3 491.5 L717.3 487.4 L718.3 485.3 L719.3 481.9 L720.3 482.5 L721.3 481.7 L722.3 476.8 L723.3 478.0 L724.3 473.7 L725.3 476.3 L726.3 475.9 L727.3 468.1 L728.3 467.2 L729.3 454.8 L730.3 442.9 L731.3 442.2 L732.3 438.9 L733.3 439.9 L734.3 437.1 L735.3 435.4 L736.3 427.9 L737.3 429.7 L738.3 434.6 L739.3 436.3 L740.3 437.7 L741.3 437.5 L742.3 439.6 L743.3 440.3 L744.3 440.8 L745.3 444.0 L746.3 445.6 L747.3 444.9 L748.3 449.4 L749.3 453.1 L750.3 453.5 L751.3 453.4 L752.3 460.5 L753.3 466.0 L754.3 466.1 L755.3 474.7 L756.3 483.9 L757.3 500.8 L758.3 509.3 L759.3 508.2 L760.3 511.8 L761.3 512.2 L762.3 507.4 L763.3 508.0 L764.3 509.6 L765.3 500.7 L766.3 494.2 L767.3 479.7 L768.3 478.0 L769.3 477.0 L770.3 476.3 L771.3 471.6 L772.3 469.7 L773.3 466.9 L774.3 459.4 L775.3 454.2 L776.3 454.3 L777.3 455.8 L778.3 464.5 L779.3 468.2 L780.3 472.1 L781.3 478.2 L782.3 471.4 L783.3 471.2 L784.3 475.4 L785.3 472.3 L786.3 468.9 L787.3 464.4 L788.3 466.1 L789.3 464.9 L790.3 461.8 L791.3 468.5 L792.3 470.7 L793.3 481.1 L794.3 481.2 L795.3 489.3 L796.3 489.7 L797.3 493.2 L798.3 498.8 L799.3 501.7 L800.3 508.4 L801.3 504.0 L802.3 504.6 L803.3 504.6 L804.3 505.8 L805.3 507.2 L806.3 506.2 L807.3 511.9 L808.3 509.3 L809.3 509.3 L810.3 512.1 L811.3 514.9 L812.3 507.2 L813.3 508.3 L814.3 512.9 L815.3 511.2 L816.3 508.6 L817.3 512.1 L818.3 511.1 L819.3 508.2 L820.3 504.6 L821.3 507.8 L822.3 508.7 L823.3 514.1 L824.3 510.2 L825.3 508.7 L826.3 513.7 L827.3 513.6 L828.3 517.4 L829.3 510.5 L830.3 515.5 L831.3 521.1 L832.3 521.5 L833.3 525.0 L834.3 524.6 L835.3 530.7 L836.3 526.3 L837.3 530.5 L838.3 533.1 L839.3 535.8 L840.3 540.2 L841.3 541.2 L842.3 544.3 L843.3 547.9 L844.3 545.4 L845.3 544.2 L846.3 537.6 L847.3 539.3 L848.3 528.7 L849.3 524.1 L850.3 522.4 L851.3 519.0 L852.3 520.0 L853.3 517.7 L854.3 517.2 L855.3 515.9 L856.3 513.9 L857.3 517.6 L858.3 508.9 L859.3 508.3 L860.3 506.6 L861.3 509.1 L862.3 506.0 L863.3 504.3 L864.3 505.1 L865.3 509.2 L866.3 509.3 L867.3 512.2 L868.3 510.2 L869.3 507.3 L870.3 503.9 L871.3 495.0 L872.3 488.4 L873.3 476.2 L874.3 471.7 L875.3 469.4 L876.3 466.0 L877.3 466.3 L878.3 463.9 L879.3 461.5 L880.3 464.2 L881.3 469.9 L882.3 470.9 L883.3 478.6 L884.3 488.5 L885.3 491.6 L886.3 499.8 L887.3 502.8 L888.3 500.8 L889.3 506.0 L890.3 504.2 L891.3 508.0 L892.3 511.7 L893.3 516.2 L894.3 514.5 L895.3 513.6 L896.3 515.9 L897.3 514.1 L898.3 512.0 L899.3 514.6 L900.3 510.6 L901.3 512.7 L902.3 513.8 L903.3 509.6 L904.3 508.2 L905.3 504.9 L906.3 507.5 L907.3 506.6 L908.3 508.1 L909.3 506.5 L910.3 504.7 L911.3 506.1 L912.3 507.9 L913.3 505.4 L914.3 508.9 L915.3 510.1 L916.3 512.5 L917.3 513.4 L918.3 512.2 L919.3 505.1 L920.3 505.0 L921.3 510.2 L922.3 509.5 L923.3 504.7 L924.3 503.4 L925.3 506.8 L926.3 506.6 L927.3 509.4 L928.3 513.6 L929.3 522.2 L930.3 525.4 L931.3 534.9 L932.3 539.4 L933.3 536.5 L934.3 539.7 L935.3 537.0 L936.3 535.1 L937.3 536.6 L938.3 533.9 L939.3 531.6 L940.3 530.2 L941.3 528.8 L942.3 528.2 L943.3 530.6 L944.3 534.0 L945.3 534.7 L946.3 533.4 L947.3 534.5 L948.3 532.7 L949.3 542.6 L950.3 540.7 L951.3 547.1 L952.3 545.5 L953.3 544.7 L954.3 544.1 L955.3 544.7 L956.3 541.7 L957.3 535.8 L958.3 535.5 L959.3 537.3 L960.3 536.4 L961.3 536.0 L962.3 540.2 L963.3 544.6 L964.3 546.3 L965.3 548.0 L966.3 543.0 L967.3 544.8 L968.3 543.8 L969.3 544.3 L970.3 538.3 L971.3 538.2 L972.3 533.2 L973.3 532.6 L974.3 530.1 L975.3 532.4 L976.3 529.1 L977.3 523.9 L978.3 520.1 L979.3 516.6 L980.3 516.7 L981.3 515.6 L982.3 514.1 L983.3 511.6 L984.3 512.8 L985.3 513.2 L986.3 512.8 L987.3 512.8 L988.3 515.2 L989.3 515.7 L990.3 518.8 L991.3 520.3 L992.3 523.5 L993.3 517.6 L994.3 511.6 L995.3 517.0 L996.3 515.8 L997.3 515.3 L998.3 522.4 L999.3 524.2 L1000.3 523.8 L1001.3 528.3 L1002.3 534.0 L1003.3 527.9 L1004.3 525.5 L1005.3 527.1 L1006.3 524.0 L1007.3 521.4 L1008.3 519.5 L1009.3 519.7 L1010.3 527.2 L1011.3 527.9 L1012.3 530.6 L1013.3 529.6 L1014.3 533.3 L1015.3 533.4 L1016.3 530.4 L1017.3 532.1 L1018.3 521.4 L1019.3 522.8 L1020.3 518.0 L1021.3 517.9 L1022.3 516.4 L1023.3 512.3 L1024.3 508.4 L1025.3 509.8 L1026.3 512.5 L1027.3 510.5 L1028.3 503.2 L1029.3 497.7 L1030.3 497.6 L1031.3 494.5 L1032.3 495.1 L1033.3 491.4 L1034.3 491.4 L1035.3 485.6 L1036.3 490.7 L1037.3 488.2 L1038.3 487.9 L1039.3 493.2 L1040.3 494.0 L1041.3 491.9 L1042.3 496.3 L1043.3 495.5 L1044.3 493.0 L1045.3 495.6 L1046.3 495.7 L1047.3 492.1 L1048.3 489.4 L1049.3 495.5 L1050.3 496.0 L1051.3 494.3 L1052.3 495.8 L1053.3 500.8 L1054.3 505.3 L1055.3 503.4 L1056.3 509.8 L1057.3 508.8 L1058.3 515.0 L1059.3 510.5 L1060.3 513.1 L1061.3 518.9 L1062.3 519.8 L1063.3 516.3 L1064.3 519.8 L1065.3 517.2 L1066.3 525.0 L1067.3 527.2 L1068.3 523.8 L1069.3 525.8 L1070.3 522.5 L1071.3 524.7 L1072.3 519.9 L1073.3 519.2 L1074.3 513.0 L1075.3 515.7 L1076.3 515.0 L1077.3 516.5 L1078.3 516.1 L1079.3 510.9 L1080.3 509.3 L1081.3 505.8 L1082.3 504.8 L1083.3 509.5 L1084.3 513.3 L1085.3 511.3 L1086.3 511.0 L1087.3 505.5 L1088.3 504.8 L1089.3 496.9 L1090.3 492.4 L1091.3 492.5 L1092.3 489.0 L1093.3 489.5 L1094.3 486.1 L1095.3 483.1 L1096.3 485.2 L1097.3 482.9 L1098.3 485.2 L1099.3 484.6 L1100.3 477.8 L1101.3 482.7 L1102.3 480.1 L1103.3 479.1 L1104.3 480.2 L1105.3 477.6 L1106.3 479.3 L1107.3 483.2 L1108.3 484.2 L1109.3 490.3 L1110.3 492.3 L1111.3 499.6 L1112.3 500.6 L1113.3 501.8 L1114.3 497.5 L1115.3 497.4 L1116.3 499.0 L1117.3 495.4 L1118.3 497.8 L1119.3 498.9 L1120.3 505.2 L1121.3 504.9 L1122.3 506.8 L1123.3 505.6 L1124.3 505.3 L1125.3 496.7 L1126.3 503.0 L1127.3 505.4 L1128.3 499.3 L1129.3 496.8 L1130.3 495.7 L1131.3 492.8 L1132.3 493.6 L1133.3 495.6 L1134.3 490.9 L1135.3 487.2 L1136.3 482.0 L1137.3 482.4 L1138.3 488.7 L1139.3 486.7 L1140.3 481.6 L1141.3 479.5 L1142.3 479.0 L1143.3 477.7 L1144.3 474.5 L1145.3 475.7 L1146.3 474.9 L1147.3 477.5 L1148.3 476.0 L1149.3 474.3 L1150.3 473.3 L1151.3 465.9 L1152.3 471.3 L1153.3 474.2 L1154.3 474.6 L1155.3 475.9 L1156.3 484.4 L1157.3 493.9 L1158.3 496.7 L1159.3 495.6 L1160.3 498.8 L1161.3 505.3 L1162.3 489.6 L1163.3 475.8 L1164.3 459.6 L1165.3 458.9 L1166.3 463.3 L1167.3 464.0 L1168.3 465.0 L1169.3 469.7 L1170.3 471.5 L1171.3 472.1 L1172.3 472.8 L1173.3 476.5 L1174.3 478.8 L1175.3 479.6 L1176.3 474.8 L1177.3 471.8 L1178.3 471.1 L1179.3 473.1 L1180.3 475.0" fill="none" stroke="#5B9BD5" stroke-width="4.2" stroke-linejoin="round" stroke-linecap="round"/>
<path d="M687.3 521.8 L688.3 522.4 L689.3 522.3 L690.3 516.9 L691.3 513.6 L692.3 512.4 L693.3 496.6 L694.3 486.4 L695.3 471.1 L696.3 451.6 L697.3 455.3 L698.3 457.7 L699.3 455.1 L700.3 455.1 L701.3 460.6 L702.3 461.8 L703.3 469.5 L704.3 477.3 L705.3 483.3 L706.3 483.6 L707.3 490.6 L708.3 491.9 L709.3 495.9 L710.3 498.4 L711.3 499.1 L712.3 502.0 L713.3 502.8 L714.3 504.9 L715.3 507.4 L716.3 508.8 L717.3 512.9 L718.3 519.2 L719.3 526.8 L720.3 520.4 L721.3 519.9 L722.3 511.0 L723.3 512.6 L724.3 514.3 L725.3 513.5 L726.3 517.7 L727.3 514.4 L728.3 517.3 L729.3 518.2 L730.3 523.0 L731.3 527.7 L732.3 524.8 L733.3 528.2 L734.3 529.9 L735.3 533.9 L736.3 529.8 L737.3 525.9 L738.3 518.9 L739.3 517.7 L740.3 515.0 L741.3 513.1 L742.3 512.7 L743.3 513.7 L744.3 508.6 L745.3 513.4 L746.3 508.7 L747.3 509.7 L748.3 505.9 L749.3 499.4 L750.3 495.6 L751.3 492.1 L752.3 483.1 L753.3 483.9 L754.3 480.1 L755.3 478.4 L756.3 476.3 L757.3 480.0 L758.3 481.0 L759.3 483.3 L760.3 490.0 L761.3 495.4 L762.3 498.3 L763.3 498.6 L764.3 500.7 L765.3 497.4 L766.3 495.6 L767.3 493.1 L768.3 494.6 L769.3 497.8 L770.3 498.0 L771.3 493.5 L772.3 487.2 L773.3 480.9 L774.3 483.3 L775.3 486.4 L776.3 495.4 L777.3 501.2 L778.3 509.0 L779.3 519.4 L780.3 523.3 L781.3 526.2 L782.3 524.7 L783.3 522.1 L784.3 519.8 L785.3 523.7 L786.3 523.5 L787.3 524.5 L788.3 529.0 L789.3 532.2 L790.3 532.3 L791.3 528.4 L792.3 530.9 L793.3 516.6 L794.3 516.9 L795.3 514.9 L796.3 513.2 L797.3 516.4 L798.3 515.8 L799.3 518.0 L800.3 525.1 L801.3 528.7 L802.3 530.1 L803.3 535.7 L804.3 532.6 L805.3 532.3 L806.3 527.3 L807.3 532.2 L808.3 527.2 L809.3 526.3 L810.3 526.0 L811.3 521.0 L812.3 520.4 L813.3 517.3 L814.3 520.0 L815.3 516.8 L816.3 519.8 L817.3 522.0 L818.3 523.4 L819.3 525.0 L820.3 529.8 L821.3 523.4 L822.3 520.8 L823.3 520.8 L824.3 518.4 L825.3 514.2 L826.3 511.9 L827.3 510.0 L828.3 514.9 L829.3 516.0 L830.3 519.6 L831.3 512.2 L832.3 511.9 L833.3 507.3 L834.3 503.8 L835.3 497.1 L836.3 505.8 L837.3 505.0 L838.3 507.3 L839.3 508.5 L840.3 507.7 L841.3 508.8 L842.3 511.0 L843.3 518.3 L844.3 519.0 L845.3 523.7 L846.3 528.1 L847.3 531.8 L848.3 534.7 L849.3 535.9 L850.3 533.1 L851.3 529.0 L852.3 522.7 L853.3 524.3 L854.3 521.7 L855.3 518.9 L856.3 518.5 L857.3 517.9 L858.3 523.3 L859.3 519.4 L860.3 517.9 L861.3 516.3 L862.3 518.4 L863.3 521.7 L864.3 523.0 L865.3 528.4 L866.3 527.8 L867.3 529.8 L868.3 528.7 L869.3 524.4 L870.3 523.7 L871.3 522.6 L872.3 523.0 L873.3 524.1 L874.3 524.8 L875.3 525.8 L876.3 523.1 L877.3 519.3 L878.3 519.1 L879.3 521.2 L880.3 526.6 L881.3 526.3 L882.3 530.0 L883.3 521.4 L884.3 515.6 L885.3 507.4 L886.3 506.4 L887.3 503.8 L888.3 503.6 L889.3 504.7 L890.3 501.3 L891.3 501.9 L892.3 501.5 L893.3 502.8 L894.3 500.7 L895.3 498.7 L896.3 497.4 L897.3 498.0 L898.3 499.4 L899.3 494.9 L900.3 497.5 L901.3 498.3 L902.3 496.8 L903.3 494.4 L904.3 494.5 L905.3 493.5 L906.3 496.5 L907.3 498.4 L908.3 500.0 L909.3 507.1 L910.3 501.1 L911.3 503.2 L912.3 510.6 L913.3 511.4 L914.3 511.7 L915.3 512.7 L916.3 516.5 L917.3 511.7 L918.3 507.3 L919.3 501.7 L920.3 494.0 L921.3 483.9 L922.3 481.1 L923.3 479.2 L924.3 478.2 L925.3 478.3 L926.3 482.2 L927.3 486.4 L928.3 492.3 L929.3 485.9 L930.3 489.1 L931.3 489.1 L932.3 500.6 L933.3 494.3 L934.3 495.1 L935.3 500.2 L936.3 501.7 L937.3 497.5 L938.3 504.0 L939.3 502.7 L940.3 502.1 L941.3 499.8 L942.3 495.8 L943.3 505.6 L944.3 500.2 L945.3 502.3 L946.3 498.8 L947.3 497.1 L948.3 489.4 L949.3 485.4 L950.3 485.9 L951.3 484.2 L952.3 481.2 L953.3 482.1 L954.3 483.8 L955.3 483.3 L956.3 481.0 L957.3 480.5 L958.3 482.1 L959.3 481.1 L960.3 480.6 L961.3 479.6 L962.3 477.0 L963.3 479.0 L964.3 481.3 L965.3 481.3 L966.3 481.3 L967.3 482.1 L968.3 484.8 L969.3 485.9 L970.3 489.8 L971.3 494.3 L972.3 495.4 L973.3 498.2 L974.3 501.2 L975.3 504.1 L976.3 508.1 L977.3 508.6 L978.3 512.0 L979.3 509.4 L980.3 508.9 L981.3 504.9 L982.3 508.1 L983.3 502.9 L984.3 502.0 L985.3 503.3 L986.3 500.2 L987.3 504.2 L988.3 507.0 L989.3 500.2 L990.3 504.5 L991.3 509.0 L992.3 509.7 L993.3 507.4 L994.3 510.9 L995.3 515.3 L996.3 514.8 L997.3 516.3 L998.3 522.1 L999.3 526.1 L1000.3 528.1 L1001.3 533.6 L1002.3 532.7 L1003.3 529.2 L1004.3 526.6 L1005.3 522.0 L1006.3 514.2 L1007.3 511.1 L1008.3 508.1 L1009.3 498.3 L1010.3 493.0 L1011.3 485.0 L1012.3 477.1 L1013.3 474.2 L1014.3 468.0 L1015.3 471.7 L1016.3 470.7 L1017.3 468.3 L1018.3 465.2 L1019.3 462.6 L1020.3 456.0 L1021.3 458.4 L1022.3 458.1 L1023.3 459.6 L1024.3 461.3 L1025.3 457.5 L1026.3 464.5 L1027.3 467.8 L1028.3 467.0 L1029.3 467.4 L1030.3 468.0 L1031.3 471.0 L1032.3 463.5 L1033.3 463.4 L1034.3 463.3 L1035.3 472.3 L1036.3 464.0 L1037.3 469.8 L1038.3 477.9 L1039.3 484.6 L1040.3 497.4 L1041.3 511.1 L1042.3 515.8 L1043.3 519.5 L1044.3 522.2 L1045.3 524.4 L1046.3 523.0 L1047.3 522.5 L1048.3 521.1 L1049.3 521.2 L1050.3 514.8 L1051.3 518.1 L1052.3 519.6 L1053.3 515.8 L1054.3 514.9 L1055.3 505.9 L1056.3 510.7 L1057.3 508.6 L1058.3 507.5 L1059.3 513.8 L1060.3 512.0 L1061.3 520.8 L1062.3 517.0 L1063.3 525.2 L1064.3 530.1 L1065.3 534.7 L1066.3 534.8 L1067.3 531.5 L1068.3 530.7 L1069.3 522.3 L1070.3 518.7 L1071.3 516.3 L1072.3 516.1 L1073.3 516.3 L1074.3 510.6 L1075.3 510.1 L1076.3 508.1 L1077.3 505.6 L1078.3 502.7 L1079.3 494.7 L1080.3 488.2 L1081.3 486.5 L1082.3 482.9 L1083.3 493.7 L1084.3 495.8 L1085.3 499.0 L1086.3 502.7 L1087.3 502.9 L1088.3 505.1 L1089.3 508.7 L1090.3 506.5 L1091.3 513.7 L1092.3 513.9 L1093.3 517.2 L1094.3 520.7 L1095.3 523.6 L1096.3 526.8 L1097.3 527.5 L1098.3 534.5 L1099.3 531.2 L1100.3 526.0 L1101.3 520.7 L1102.3 519.8 L1103.3 518.1 L1104.3 514.3 L1105.3 514.2 L1106.3 512.3 L1107.3 511.5 L1108.3 512.6 L1109.3 511.4 L1110.3 512.2 L1111.3 509.9 L1112.3 515.1 L1113.3 515.2 L1114.3 519.4 L1115.3 520.5 L1116.3 524.8 L1117.3 524.4 L1118.3 531.8 L1119.3 537.2 L1120.3 542.3 L1121.3 546.5 L1122.3 546.1 L1123.3 544.2 L1124.3 540.1 L1125.3 542.3 L1126.3 539.5 L1127.3 539.8 L1128.3 532.7 L1129.3 517.8 L1130.3 508.8 L1131.3 500.2 L1132.3 496.4 L1133.3 490.8 L1134.3 491.2 L1135.3 493.2 L1136.3 490.1 L1137.3 490.6 L1138.3 488.9 L1139.3 489.7 L1140.3 485.7 L1141.3 489.1 L1142.3 487.0 L1143.3 485.2 L1144.3 489.7 L1145.3 489.3 L1146.3 491.6 L1147.3 495.7 L1148.3 493.0 L1149.3 491.0 L1150.3 488.2 L1151.3 486.0 L1152.3 485.9 L1153.3 491.5 L1154.3 495.9 L1155.3 503.6 L1156.3 512.7 L1157.3 525.6 L1158.3 536.2 L1159.3 539.6 L1160.3 541.3 L1161.3 547.2 L1162.3 543.5 L1163.3 544.6 L1164.3 545.1 L1165.3 546.7 L1166.3 551.5 L1167.3 549.2 L1168.3 553.4 L1169.3 552.5 L1170.3 554.1 L1171.3 553.2 L1172.3 554.9 L1173.3 554.7 L1174.3 558.3 L1175.3 554.2 L1176.3 555.4 L1177.3 554.4 L1178.3 554.2 L1179.3 551.2 L1180.3 559.5" fill="none" stroke="#70AD47" stroke-width="4.2" stroke-linejoin="round" stroke-linecap="round"/>
<path d="M687.3 526.7 L688.3 532.6 L689.3 530.6 L690.3 523.9 L691.3 524.9 L692.3 519.2 L693.3 527.8 L694.3 530.5 L695.3 534.4 L696.3 539.1 L697.3 534.9 L698.3 539.2 L699.3 537.1 L700.3 540.0 L701.3 545.0 L702.3 536.7 L703.3 537.0 L704.3 540.5 L705.3 539.1 L706.3 539.3 L707.3 545.5 L708.3 549.1 L709.3 551.6 L710.3 552.6 L711.3 560.2 L712.3 564.5 L713.3 561.1 L714.3 567.8 L715.3 567.4 L716.3 570.3 L717.3 565.3 L718.3 575.2 L719.3 577.5 L720.3 580.6 L721.3 578.2 L722.3 578.2 L723.3 573.4 L724.3 570.5 L725.3 571.3 L726.3 557.8 L727.3 559.6 L728.3 553.0 L729.3 552.0 L730.3 552.4 L731.3 547.1 L732.3 548.6 L733.3 554.9 L734.3 558.1 L735.3 559.7 L736.3 558.3 L737.3 554.7 L738.3 552.2 L739.3 549.1 L740.3 548.2 L741.3 546.2 L742.3 541.6 L743.3 540.2 L744.3 539.5 L745.3 542.6 L746.3 546.0 L747.3 545.6 L748.3 546.7 L749.3 549.3 L750.3 551.6 L751.3 554.7 L752.3 557.9 L753.3 565.0 L754.3 570.1 L755.3 570.9 L756.3 564.3 L757.3 567.1 L758.3 562.9 L759.3 557.5 L760.3 556.5 L761.3 554.1 L762.3 554.1 L763.3 552.4 L764.3 557.2 L765.3 559.3 L766.3 561.8 L767.3 561.9 L768.3 559.9 L769.3 555.6 L770.3 555.9 L771.3 551.7 L772.3 548.7 L773.3 538.4 L774.3 535.7 L775.3 537.4 L776.3 541.3 L777.3 543.7 L778.3 541.8 L779.3 550.8 L780.3 554.2 L781.3 553.9 L782.3 559.2 L783.3 558.1 L784.3 557.7 L785.3 554.9 L786.3 551.8 L787.3 550.5 L788.3 555.2 L789.3 556.9 L790.3 561.1 L791.3 562.7 L792.3 566.7 L793.3 567.2 L794.3 566.8 L795.3 563.1 L796.3 567.6 L797.3 564.7 L798.3 560.4 L799.3 551.8 L800.3 551.1 L801.3 552.4 L802.3 549.8 L803.3 556.6 L804.3 555.5 L805.3 561.8 L806.3 560.0 L807.3 549.7 L808.3 549.4 L809.3 546.4 L810.3 542.5 L811.3 542.6 L812.3 539.9 L813.3 536.7 L814.3 535.8 L815.3 530.9 L816.3 531.0 L817.3 531.5 L818.3 536.1 L819.3 536.6 L820.3 542.7 L821.3 543.3 L822.3 545.3 L823.3 548.2 L824.3 551.6 L825.3 558.1 L826.3 554.4 L827.3 550.8 L828.3 545.8 L829.3 547.9 L830.3 545.9 L831.3 542.6 L832.3 544.3 L833.3 539.7 L834.3 541.6 L835.3 536.6 L836.3 534.0 L837.3 533.0 L838.3 529.3 L839.3 530.7 L840.3 523.1 L841.3 523.4 L842.3 520.6 L843.3 516.6 L844.3 514.0 L845.3 521.2 L846.3 519.4 L847.3 528.4 L848.3 535.9 L849.3 543.5 L850.3 537.6 L851.3 536.0 L852.3 532.5 L853.3 532.9 L854.3 528.7 L855.3 523.5 L856.3 516.4 L857.3 515.3 L858.3 510.9 L859.3 508.3 L860.3 504.9 L861.3 504.2 L862.3 501.1 L863.3 503.2 L864.3 499.7 L865.3 501.2 L866.3 497.0 L867.3 498.3 L868.3 495.2 L869.3 492.3 L870.3 491.7 L871.3 491.7 L872.3 488.8 L873.3 483.9 L874.3 477.8 L875.3 482.3 L876.3 487.0 L877.3 485.4 L878.3 491.4 L879.3 493.9 L880.3 499.2 L881.3 498.9 L882.3 497.2 L883.3 499.5 L884.3 500.8 L885.3 500.7 L886.3 501.2 L887.3 495.2 L888.3 495.5 L889.3 499.5 L890.3 495.4 L891.3 498.1 L892.3 496.7 L893.3 495.6 L894.3 497.6 L895.3 495.0 L896.3 490.0 L897.3 490.1 L898.3 489.5 L899.3 487.7 L900.3 492.1 L901.3 489.0 L902.3 489.6 L903.3 485.8 L904.3 483.0 L905.3 485.4 L906.3 483.5 L907.3 486.5 L908.3 483.3 L909.3 476.1 L910.3 470.0 L911.3 464.6 L912.3 466.9 L913.3 464.0 L914.3 459.9 L915.3 456.0 L916.3 457.7 L917.3 455.3 L918.3 462.5 L919.3 466.8 L920.3 465.4 L921.3 461.3 L922.3 457.4 L923.3 458.3 L924.3 463.9 L925.3 464.5 L926.3 471.6 L927.3 475.4 L928.3 476.7 L929.3 477.9 L930.3 478.4 L931.3 478.1 L932.3 477.3 L933.3 483.4 L934.3 484.1 L935.3 494.2 L936.3 496.3 L937.3 501.4 L938.3 501.6 L939.3 503.2 L940.3 501.7 L941.3 507.9 L942.3 504.9 L943.3 505.3 L944.3 505.6 L945.3 506.0 L946.3 515.3 L947.3 516.6 L948.3 516.7 L949.3 512.1 L950.3 501.8 L951.3 496.0 L952.3 491.7 L953.3 482.2 L954.3 486.2 L955.3 487.6 L956.3 489.1 L957.3 492.4 L958.3 491.1 L959.3 491.8 L960.3 492.2 L961.3 490.7 L962.3 490.2 L963.3 487.8 L964.3 489.7 L965.3 491.1 L966.3 495.5 L967.3 499.7 L968.3 500.8 L969.3 501.7 L970.3 500.1 L971.3 501.8 L972.3 497.1 L973.3 492.2 L974.3 493.8 L975.3 492.0 L976.3 491.2 L977.3 492.5 L978.3 493.9 L979.3 498.0 L980.3 497.1 L981.3 497.5 L982.3 499.3 L983.3 506.6 L984.3 506.3 L985.3 515.1 L986.3 513.3 L987.3 507.6 L988.3 495.0 L989.3 488.7 L990.3 478.1 L991.3 480.2 L992.3 479.4 L993.3 486.0 L994.3 490.0 L995.3 498.0 L996.3 501.9 L997.3 508.5 L998.3 515.7 L999.3 521.6 L1000.3 519.3 L1001.3 517.6 L1002.3 515.8 L1003.3 509.3 L1004.3 511.2 L1005.3 508.8 L1006.3 506.1 L1007.3 502.2 L1008.3 501.0 L1009.3 502.8 L1010.3 498.0 L1011.3 501.3 L1012.3 498.1 L1013.3 497.9 L1014.3 500.2 L1015.3 498.1 L1016.3 496.9 L1017.3 499.7 L1018.3 497.4 L1019.3 500.9 L1020.3 502.0 L1021.3 503.7 L1022.3 506.1 L1023.3 502.4 L1024.3 497.6 L1025.3 487.7 L1026.3 489.8 L1027.3 492.6 L1028.3 501.6 L1029.3 503.4 L1030.3 508.7 L1031.3 516.3 L1032.3 515.9 L1033.3 509.3 L1034.3 492.8 L1035.3 489.2 L1036.3 487.6 L1037.3 485.7 L1038.3 486.4 L1039.3 485.5 L1040.3 486.5 L1041.3 483.9 L1042.3 486.8 L1043.3 486.2 L1044.3 482.8 L1045.3 483.8 L1046.3 481.9 L1047.3 484.3 L1048.3 483.6 L1049.3 486.4 L1050.3 482.8 L1051.3 484.9 L1052.3 483.6 L1053.3 481.8 L1054.3 483.6 L1055.3 481.9 L1056.3 481.1 L1057.3 477.9 L1058.3 480.6 L1059.3 481.5 L1060.3 485.3 L1061.3 487.5 L1062.3 489.6 L1063.3 495.9 L1064.3 501.4 L1065.3 504.4 L1066.3 513.7 L1067.3 514.8 L1068.3 521.6 L1069.3 529.2 L1070.3 530.6 L1071.3 538.7 L1072.3 541.3 L1073.3 535.4 L1074.3 538.4 L1075.3 536.2 L1076.3 536.3 L1077.3 534.5 L1078.3 536.4 L1079.3 534.2 L1080.3 531.0 L1081.3 531.8 L1082.3 532.3 L1083.3 525.7 L1084.3 526.3 L1085.3 523.5 L1086.3 525.5 L1087.3 530.5 L1088.3 530.7 L1089.3 527.8 L1090.3 533.2 L1091.3 533.7 L1092.3 536.8 L1093.3 534.3 L1094.3 535.6 L1095.3 542.3 L1096.3 545.1 L1097.3 552.4 L1098.3 555.5 L1099.3 557.2 L1100.3 548.0 L1101.3 548.0 L1102.3 547.8 L1103.3 549.1 L1104.3 542.1 L1105.3 543.6 L1106.3 546.6 L1107.3 553.3 L1108.3 550.3 L1109.3 555.5 L1110.3 558.0 L1111.3 560.3 L1112.3 561.3 L1113.3 568.3 L1114.3 569.1 L1115.3 569.8 L1116.3 562.4 L1117.3 559.3 L1118.3 552.1 L1119.3 549.6 L1120.3 541.2 L1121.3 543.6 L1122.3 537.4 L1123.3 532.6 L1124.3 527.0 L1125.3 522.0 L1126.3 518.2 L1127.3 521.6 L1128.3 523.0 L1129.3 511.7 L1130.3 504.2 L1131.3 496.8 L1132.3 499.2 L1133.3 500.6 L1134.3 504.9 L1135.3 503.2 L1136.3 505.7 L1137.3 504.6 L1138.3 505.0 L1139.3 505.1 L1140.3 517.0 L1141.3 511.7 L1142.3 511.3 L1143.3 511.5 L1144.3 516.8 L1145.3 514.3 L1146.3 514.1 L1147.3 501.7 L1148.3 497.2 L1149.3 498.3 L1150.3 495.2 L1151.3 494.9 L1152.3 495.8 L1153.3 502.2 L1154.3 510.2 L1155.3 515.7 L1156.3 514.9 L1157.3 518.4 L1158.3 523.2 L1159.3 526.1 L1160.3 523.2 L1161.3 527.0 L1162.3 528.9 L1163.3 528.3 L1164.3 525.1 L1165.3 530.1 L1166.3 531.8 L1167.3 537.4 L1168.3 539.3 L1169.3 538.1 L1170.3 538.0 L1171.3 539.4 L1172.3 539.1 L1173.3 540.8 L1174.3 539.7 L1175.3 546.3 L1176.3 552.5 L1177.3 556.4 L1178.3 560.4 L1179.3 561.6 L1180.3 562.4" fill="none" stroke="#264478" stroke-width="4.2" stroke-linejoin="round" stroke-linecap="round"/>
<line x1="693.1" x2="726.1" y1="671.5" y2="671.5" stroke="#4472C4" stroke-width="3.3" stroke-linecap="round"/>
<text x="729.4" y="676.5" font-size="14.2" textLength="60.05" lengthAdjust="spacingAndGlyphs">USDT-WTI</text>
<line x1="799" x2="832" y1="671.5" y2="671.5" stroke="#ED7D31" stroke-width="3.3" stroke-linecap="round"/>
<text x="835.3" y="676.5" font-size="14.2" textLength="47.62" lengthAdjust="spacingAndGlyphs">DAI-WTI</text>
<line x1="905.4" x2="938.4" y1="671.5" y2="671.5" stroke="#A5A5A5" stroke-width="3.3" stroke-linecap="round"/>
<text x="941.7" y="676.5" font-size="14.2" textLength="52.45" lengthAdjust="spacingAndGlyphs">GLC-WTI</text>
<line x1="1011.8" x2="1044.8" y1="671.5" y2="671.5" stroke="#FFC000" stroke-width="3.3" stroke-linecap="round"/>
<text x="1048.1" y="676.5" font-size="14.2" textLength="52.45" lengthAdjust="spacingAndGlyphs">HGT-WTI</text>
<line x1="693.1" x2="726.1" y1="699.3" y2="699.3" stroke="#5B9BD5" stroke-width="3.3" stroke-linecap="round"/>
<text x="729.4" y="704.3" font-size="14.2" textLength="62.11" lengthAdjust="spacingAndGlyphs">MNTP-WTI</text>
<line x1="799" x2="832" y1="699.3" y2="699.3" stroke="#70AD47" stroke-width="3.3" stroke-linecap="round"/>
<text x="835.3" y="704.3" font-size="14.2" textLength="50.39" lengthAdjust="spacingAndGlyphs">X8X-WTI</text>
<line x1="905.4" x2="938.4" y1="699.3" y2="699.3" stroke="#264478" stroke-width="3.3" stroke-linecap="round"/>
<text x="941.7" y="704.3" font-size="14.2" textLength="61.43" lengthAdjust="spacingAndGlyphs">XAUR-WTI</text>
<text x="300.6" y="753.7" font-size="17.8" text-anchor="middle" textLength="326" lengthAdjust="spacingAndGlyphs">Conventional cryptocurrencies vs BRENT</text>
<line x1="88" x2="581.5" y1="780" y2="780" stroke="#d9d9d9" stroke-width="1.3"/>
<text x="74.5" y="784.7" font-size="14.2" textLength="56.86" lengthAdjust="spacingAndGlyphs" text-anchor="end">0.350000</text>
<line x1="88" x2="581.5" y1="799.93" y2="799.93" stroke="#d9d9d9" stroke-width="1.3"/>
<text x="74.5" y="804.63" font-size="14.2" textLength="56.86" lengthAdjust="spacingAndGlyphs" text-anchor="end">0.300000</text>
<line x1="88" x2="581.5" y1="819.85" y2="819.85" stroke="#d9d9d9" stroke-width="1.3"/>
<text x="74.5" y="824.55" font-size="14.2" textLength="56.86" lengthAdjust="spacingAndGlyphs" text-anchor="end">0.250000</text>
<line x1="88" x2="581.5" y1="839.78" y2="839.78" stroke="#d9d9d9" stroke-width="1.3"/>
<text x="74.5" y="844.48" font-size="14.2" textLength="56.86" lengthAdjust="spacingAndGlyphs" text-anchor="end">0.200000</text>
<line x1="88" x2="581.5" y1="859.71" y2="859.71" stroke="#d9d9d9" stroke-width="1.3"/>
<text x="74.5" y="864.41" font-size="14.2" textLength="56.86" lengthAdjust="spacingAndGlyphs" text-anchor="end">0.150000</text>
<line x1="88" x2="581.5" y1="879.64" y2="879.64" stroke="#d9d9d9" stroke-width="1.3"/>
<text x="74.5" y="884.34" font-size="14.2" textLength="56.86" lengthAdjust="spacingAndGlyphs" text-anchor="end">0.100000</text>
<line x1="88" x2="581.5" y1="899.56" y2="899.56" stroke="#d9d9d9" stroke-width="1.3"/>
<text x="74.5" y="904.26" font-size="14.2" textLength="56.86" lengthAdjust="spacingAndGlyphs" text-anchor="end">0.050000</text>
<line x1="88" x2="581.5" y1="919.49" y2="919.49" stroke="#d9d9d9" stroke-width="1.3"/>
<text x="74.5" y="924.19" font-size="14.2" textLength="56.86" lengthAdjust="spacingAndGlyphs" text-anchor="end">0.000000</text>
<line x1="88" x2="581.5" y1="939.42" y2="939.42" stroke="#d9d9d9" stroke-width="1.3"/>
<text x="74.5" y="944.12" font-size="14.2" textLength="61.4" lengthAdjust="spacingAndGlyphs" text-anchor="end">-0.050000</text>
<line x1="88" x2="581.5" y1="959.35" y2="959.35" stroke="#d9d9d9" stroke-width="1.3"/>
<text x="74.5" y="964.05" font-size="14.2" textLength="61.4" lengthAdjust="spacingAndGlyphs" text-anchor="end">-0.100000</text>
<line x1="88" x2="581.5" y1="979.27" y2="979.27" stroke="#d9d9d9" stroke-width="1.3"/>
<text x="74.5" y="983.97" font-size="14.2" textLength="61.4" lengthAdjust="spacingAndGlyphs" text-anchor="end">-0.150000</text>
<line x1="88" x2="581.5" y1="999.2" y2="999.2" stroke="#d9d9d9" stroke-width="1.3"/>
<text x="74.5" y="1003.9" font-size="14.2" textLength="61.4" lengthAdjust="spacingAndGlyphs" text-anchor="end">-0.200000</text>
<line x1="88" x2="88" y1="919.49" y2="924.49" stroke="#d9d9d9" stroke-width="1.3"/>
<text x="88" y="943.29" font-size="14.2" textLength="52.76" lengthAdjust="spacingAndGlyphs" text-anchor="middle">6-Apr-18</text>
<line x1="184.5" x2="184.5" y1="919.49" y2="924.49" stroke="#d9d9d9" stroke-width="1.3"/>
<text x="184.5" y="943.29" font-size="14.2" textLength="52.76" lengthAdjust="spacingAndGlyphs" text-anchor="middle">6-Apr-19</text>
<line x1="281" x2="281" y1="919.49" y2="924.49" stroke="#d9d9d9" stroke-width="1.3"/>
<text x="281" y="943.29" font-size="14.2" textLength="52.76" lengthAdjust="spacingAndGlyphs" text-anchor="middle">6-Apr-20</text>
<line x1="377.5" x2="377.5" y1="919.49" y2="924.49" stroke="#d9d9d9" stroke-width="1.3"/>
<text x="377.5" y="943.29" font-size="14.2" textLength="52.76" lengthAdjust="spacingAndGlyphs" text-anchor="middle">6-Apr-21</text>
<line x1="474" x2="474" y1="919.49" y2="924.49" stroke="#d9d9d9" stroke-width="1.3"/>
<text x="474" y="943.29" font-size="14.2" textLength="52.76" lengthAdjust="spacingAndGlyphs" text-anchor="middle">6-Apr-22</text>
<line x1="570.5" x2="570.5" y1="919.49" y2="924.49" stroke="#d9d9d9" stroke-width="1.3"/>
<text x="570.5" y="943.29" font-size="14.2" textLength="52.76" lengthAdjust="spacingAndGlyphs" text-anchor="middle">6-Apr-23</text>
<path d="M88.3 907.6 L89.3 909.9 L90.3 908.5 L91.3 904.7 L92.3 904.8 L93.3 899.5 L94.3 899.9 L95.3 898.8 L96.3 898.4 L97.3 896.7 L98.3 903.9 L99.3 902.3 L100.3 904.8 L101.3 906.9 L102.3 905.0 L103.3 906.8 L104.3 911.6 L105.3 910.3 L106.3 906.7 L107.3 903.8 L108.3 902.6 L109.3 898.4 L110.3 895.9 L111.3 900.7 L112.3 903.5 L113.3 903.8 L114.3 908.2 L115.3 903.3 L116.3 904.7 L117.3 909.9 L118.3 907.6 L119.3 906.3 L120.3 904.1 L121.3 902.7 L122.3 900.3 L123.3 895.8 L124.3 901.0 L125.3 895.9 L126.3 895.3 L127.3 895.0 L128.3 890.5 L129.3 884.5 L130.3 885.7 L131.3 890.5 L132.3 899.3 L133.3 898.4 L134.3 897.4 L135.3 894.6 L136.3 888.5 L137.3 888.0 L138.3 894.3 L139.3 890.6 L140.3 889.9 L141.3 897.8 L142.3 893.8 L143.3 896.5 L144.3 890.9 L145.3 892.1 L146.3 893.2 L147.3 890.5 L148.3 888.8 L149.3 887.1 L150.3 888.5 L151.3 886.2 L152.3 893.7 L153.3 895.7 L154.3 895.1 L155.3 896.1 L156.3 892.2 L157.3 897.8 L158.3 899.8 L159.3 894.9 L160.3 894.2 L161.3 890.7 L162.3 892.7 L163.3 893.5 L164.3 887.6 L165.3 885.6 L166.3 883.8 L167.3 887.6 L168.3 885.3 L169.3 883.4 L170.3 882.3 L171.3 879.4 L172.3 877.2 L173.3 878.6 L174.3 874.6 L175.3 874.9 L176.3 873.3 L177.3 875.6 L178.3 870.9 L179.3 863.8 L180.3 867.9 L181.3 865.1 L182.3 863.3 L183.3 858.3 L184.3 857.5 L185.3 854.3 L186.3 852.9 L187.3 856.7 L188.3 852.4 L189.3 855.2 L190.3 858.9 L191.3 856.6 L192.3 854.7 L193.3 855.1 L194.3 854.5 L195.3 859.3 L196.3 861.0 L197.3 861.9 L198.3 865.9 L199.3 863.4 L200.3 867.2 L201.3 867.1 L202.3 867.3 L203.3 863.2 L204.3 858.5 L205.3 855.9 L206.3 855.3 L207.3 855.0 L208.3 860.0 L209.3 856.4 L210.3 859.3 L211.3 863.1 L212.3 865.0 L213.3 869.7 L214.3 874.1 L215.3 875.6 L216.3 883.4 L217.3 894.1 L218.3 895.6 L219.3 903.8 L220.3 906.7 L221.3 909.6 L222.3 915.9 L223.3 916.9 L224.3 917.7 L225.3 917.8 L226.3 919.6 L227.3 918.4 L228.3 917.1 L229.3 916.6 L230.3 912.6 L231.3 914.4 L232.3 921.7 L233.3 917.3 L234.3 923.3 L235.3 922.5 L236.3 925.3 L237.3 927.1 L238.3 921.9 L239.3 920.3 L240.3 920.3 L241.3 922.3 L242.3 923.7 L243.3 919.1 L244.3 927.4 L245.3 926.3 L246.3 930.5 L247.3 925.6 L248.3 928.5 L249.3 927.9 L250.3 926.1 L251.3 926.1 L252.3 924.2 L253.3 923.6 L254.3 916.3 L255.3 909.5 L256.3 898.8 L257.3 889.6 L258.3 883.3 L259.3 884.1 L260.3 888.1 L261.3 889.3 L262.3 889.2 L263.3 892.8 L264.3 896.7 L265.3 897.1 L266.3 902.4 L267.3 901.6 L268.3 899.7 L269.3 901.7 L270.3 894.4 L271.3 876.8 L272.3 860.7 L273.3 845.5 L274.3 844.8 L275.3 842.4 L276.3 841.3 L277.3 845.5 L278.3 840.8 L279.3 843.9 L280.3 844.2 L281.3 846.6 L282.3 841.5 L283.3 843.2 L284.3 840.4 L285.3 839.9 L286.3 840.9 L287.3 839.2 L288.3 841.9 L289.3 843.4 L290.3 843.8 L291.3 844.2 L292.3 847.5 L293.3 847.0 L294.3 842.9 L295.3 840.9 L296.3 841.7 L297.3 837.3 L298.3 833.1 L299.3 834.8 L300.3 832.5 L301.3 833.1 L302.3 829.5 L303.3 832.8 L304.3 831.1 L305.3 831.9 L306.3 829.4 L307.3 826.0 L308.3 830.3 L309.3 827.4 L310.3 826.7 L311.3 827.9 L312.3 827.6 L313.3 832.3 L314.3 829.6 L315.3 824.8 L316.3 825.7 L317.3 824.1 L318.3 822.2 L319.3 820.3 L320.3 822.4 L321.3 822.2 L322.3 822.4 L323.3 821.9 L324.3 821.9 L325.3 819.7 L326.3 818.3 L327.3 823.1 L328.3 820.9 L329.3 824.5 L330.3 830.0 L331.3 842.3 L332.3 850.7 L333.3 857.7 L334.3 858.2 L335.3 861.3 L336.3 861.8 L337.3 865.0 L338.3 866.1 L339.3 864.4 L340.3 871.6 L341.3 871.4 L342.3 871.0 L343.3 874.4 L344.3 872.4 L345.3 872.0 L346.3 868.7 L347.3 871.6 L348.3 872.6 L349.3 876.4 L350.3 874.3 L351.3 873.1 L352.3 869.1 L353.3 865.6 L354.3 867.0 L355.3 868.7 L356.3 864.5 L357.3 864.1 L358.3 866.8 L359.3 869.3 L360.3 870.2 L361.3 870.0 L362.3 865.8 L363.3 862.8 L364.3 860.8 L365.3 855.6 L366.3 853.8 L367.3 857.2 L368.3 861.7 L369.3 859.2 L370.3 868.6 L371.3 872.0 L372.3 873.2 L373.3 877.5 L374.3 877.0 L375.3 883.6 L376.3 886.3 L377.3 886.7 L378.3 887.6 L379.3 891.2 L380.3 891.0 L381.3 894.9 L382.3 894.4 L383.3 890.8 L384.3 897.6 L385.3 897.9 L386.3 899.8 L387.3 900.1 L388.3 901.7 L389.3 908.7 L390.3 912.9 L391.3 914.5 L392.3 920.9 L393.3 924.6 L394.3 921.7 L395.3 925.9 L396.3 924.0 L397.3 930.5 L398.3 936.3 L399.3 946.6 L400.3 948.4 L401.3 948.2 L402.3 948.0 L403.3 948.7 L404.3 941.9 L405.3 939.0 L406.3 930.1 L407.3 920.9 L408.3 915.6 L409.3 912.9 L410.3 913.0 L411.3 915.5 L412.3 911.4 L413.3 905.1 L414.3 906.9 L415.3 904.8 L416.3 903.4 L417.3 904.2 L418.3 896.7 L419.3 898.5 L420.3 895.3 L421.3 895.2 L422.3 895.4 L423.3 896.6 L424.3 889.8 L425.3 890.5 L426.3 888.6 L427.3 888.0 L428.3 887.8 L429.3 886.4 L430.3 886.9 L431.3 882.3 L432.3 880.8 L433.3 882.3 L434.3 878.6 L435.3 878.5 L436.3 879.1 L437.3 877.9 L438.3 882.1 L439.3 879.3 L440.3 882.7 L441.3 881.9 L442.3 878.4 L443.3 881.6 L444.3 880.2 L445.3 875.7 L446.3 871.8 L447.3 875.6 L448.3 871.9 L449.3 870.5 L450.3 878.3 L451.3 874.8 L452.3 872.3 L453.3 877.2 L454.3 878.6 L455.3 878.5 L456.3 882.6 L457.3 879.5 L458.3 876.9 L459.3 870.7 L460.3 871.7 L461.3 870.8 L462.3 869.1 L463.3 869.1 L464.3 867.7 L465.3 871.8 L466.3 868.7 L467.3 873.4 L468.3 869.8 L469.3 872.0 L470.3 874.3 L471.3 877.8 L472.3 878.3 L473.3 883.9 L474.3 880.7 L475.3 885.0 L476.3 885.1 L477.3 880.8 L478.3 877.8 L479.3 872.2 L480.3 873.6 L481.3 873.5 L482.3 867.1 L483.3 869.4 L484.3 869.4 L485.3 868.0 L486.3 871.9 L487.3 874.7 L488.3 873.7 L489.3 874.8 L490.3 875.3 L491.3 874.5 L492.3 874.2 L493.3 874.1 L494.3 873.4 L495.3 874.0 L496.3 872.8 L497.3 872.0 L498.3 871.5 L499.3 869.9 L500.3 871.2 L501.3 871.7 L502.3 865.8 L503.3 870.8 L504.3 865.7 L505.3 870.7 L506.3 870.4 L507.3 874.0 L508.3 869.7 L509.3 865.6 L510.3 866.6 L511.3 872.2 L512.3 871.4 L513.3 868.8 L514.3 866.2 L515.3 865.3 L516.3 864.0 L517.3 858.4 L518.3 857.9 L519.3 857.0 L520.3 855.7 L521.3 860.0 L522.3 858.0 L523.3 856.2 L524.3 851.4 L525.3 856.6 L526.3 858.0 L527.3 859.2 L528.3 860.1 L529.3 856.7 L530.3 831.5 L531.3 804.3 L532.3 803.1 L533.3 802.8 L534.3 806.0 L535.3 806.3 L536.3 808.6 L537.3 806.5 L538.3 806.5 L539.3 799.2 L540.3 799.0 L541.3 797.5 L542.3 800.9 L543.3 804.7 L544.3 809.3 L545.3 808.0 L546.3 805.6 L547.3 808.3 L548.3 811.3 L549.3 809.1 L550.3 813.7 L551.3 814.7 L552.3 816.2 L553.3 817.1 L554.3 816.9 L555.3 819.5 L556.3 824.4 L557.3 819.5 L558.3 827.7 L559.3 842.2 L560.3 847.9 L561.3 857.5 L562.3 869.1 L563.3 876.5 L564.3 879.2 L565.3 885.7 L566.3 888.9 L567.3 890.8 L568.3 895.4 L569.3 895.4 L570.3 897.1 L571.3 903.5 L572.3 903.9 L573.3 908.5 L574.3 907.4 L575.3 908.0 L576.3 910.6 L577.3 910.5 L578.3 908.8 L579.3 907.7 L580.3 909.6 L581.3 910.5" fill="none" stroke="#4472C4" stroke-width="4.2" stroke-linejoin="round" stroke-linecap="round"/>
<path d="M88.3 899.5 L89.3 898.1 L90.3 896.1 L91.3 894.4 L92.3 884.2 L93.3 884.2 L94.3 885.1 L95.3 887.7 L96.3 889.4 L97.3 888.0 L98.3 892.1 L99.3 889.8 L100.3 894.7 L101.3 892.2 L102.3 894.5 L103.3 895.0 L104.3 893.9 L105.3 892.0 L106.3 889.4 L107.3 886.6 L108.3 890.4 L109.3 886.9 L110.3 891.4 L111.3 890.4 L112.3 892.0 L113.3 891.9 L114.3 894.5 L115.3 893.6 L116.3 900.9 L117.3 903.5 L118.3 906.3 L119.3 905.4 L120.3 898.9 L121.3 894.1 L122.3 899.9 L123.3 898.5 L124.3 894.7 L125.3 893.6 L126.3 896.4 L127.3 898.9 L128.3 899.2 L129.3 899.4 L130.3 905.5 L131.3 909.4 L132.3 905.8 L133.3 910.6 L134.3 908.2 L135.3 911.0 L136.3 912.0 L137.3 909.2 L138.3 903.7 L139.3 905.5 L140.3 899.9 L141.3 903.2 L142.3 896.8 L143.3 898.4 L144.3 897.7 L145.3 895.7 L146.3 895.7 L147.3 894.0 L148.3 895.5 L149.3 891.1 L150.3 893.3 L151.3 889.5 L152.3 894.8 L153.3 895.9 L154.3 898.0 L155.3 899.2 L156.3 895.1 L157.3 894.6 L158.3 895.9 L159.3 894.4 L160.3 896.9 L161.3 887.9 L162.3 889.6 L163.3 890.2 L164.3 885.8 L165.3 880.8 L166.3 879.7 L167.3 881.3 L168.3 881.1 L169.3 878.2 L170.3 878.1 L171.3 879.5 L172.3 874.9 L173.3 878.7 L174.3 871.6 L175.3 876.4 L176.3 868.0 L177.3 871.5 L178.3 867.1 L179.3 861.4 L180.3 862.7 L181.3 861.3 L182.3 858.8 L183.3 855.1 L184.3 853.3 L185.3 852.3 L186.3 852.4 L187.3 855.6 L188.3 856.2 L189.3 858.5 L190.3 858.8 L191.3 858.7 L192.3 858.5 L193.3 855.7 L194.3 848.1 L195.3 848.8 L196.3 849.0 L197.3 851.9 L198.3 859.2 L199.3 856.5 L200.3 859.1 L201.3 860.5 L202.3 858.6 L203.3 861.8 L204.3 861.6 L205.3 859.4 L206.3 858.5 L207.3 858.1 L208.3 860.0 L209.3 858.2 L210.3 865.7 L211.3 869.1 L212.3 870.4 L213.3 874.6 L214.3 876.0 L215.3 875.5 L216.3 883.1 L217.3 883.2 L218.3 888.7 L219.3 892.6 L220.3 889.1 L221.3 891.7 L222.3 899.4 L223.3 901.4 L224.3 904.9 L225.3 895.6 L226.3 884.5 L227.3 877.5 L228.3 883.7 L229.3 889.6 L230.3 888.2 L231.3 886.9 L232.3 887.4 L233.3 887.5 L234.3 889.5 L235.3 890.4 L236.3 894.8 L237.3 892.0 L238.3 897.1 L239.3 894.1 L240.3 890.9 L241.3 887.2 L242.3 892.9 L243.3 892.7 L244.3 895.1 L245.3 899.5 L246.3 895.2 L247.3 896.8 L248.3 896.5 L249.3 898.6 L250.3 897.1 L251.3 901.6 L252.3 897.9 L253.3 899.8 L254.3 899.8 L255.3 900.3 L256.3 900.0 L257.3 889.4 L258.3 885.5 L259.3 886.4 L260.3 886.8 L261.3 883.6 L262.3 886.4 L263.3 890.5 L264.3 889.0 L265.3 893.0 L266.3 894.2 L267.3 894.1 L268.3 894.5 L269.3 897.8 L270.3 901.8 L271.3 899.1 L272.3 878.4 L273.3 865.8 L274.3 851.1 L275.3 846.0 L276.3 846.3 L277.3 850.6 L278.3 851.9 L279.3 852.3 L280.3 855.3 L281.3 854.2 L282.3 856.2 L283.3 853.8 L284.3 854.2 L285.3 853.5 L286.3 856.9 L287.3 857.3 L288.3 857.1 L289.3 859.8 L290.3 859.6 L291.3 858.0 L292.3 859.9 L293.3 861.0 L294.3 861.7 L295.3 857.2 L296.3 858.0 L297.3 853.8 L298.3 851.8 L299.3 846.0 L300.3 847.7 L301.3 838.1 L302.3 842.9 L303.3 838.8 L304.3 844.4 L305.3 839.1 L306.3 843.7 L307.3 842.7 L308.3 845.7 L309.3 841.5 L310.3 843.9 L311.3 845.9 L312.3 846.3 L313.3 842.5 L314.3 838.7 L315.3 842.6 L316.3 842.8 L317.3 845.2 L318.3 843.2 L319.3 840.4 L320.3 840.8 L321.3 843.3 L322.3 840.5 L323.3 836.8 L324.3 837.9 L325.3 834.9 L326.3 837.7 L327.3 840.3 L328.3 840.5 L329.3 840.5 L330.3 842.6 L331.3 848.6 L332.3 847.4 L333.3 850.6 L334.3 856.3 L335.3 849.8 L336.3 856.4 L337.3 862.2 L338.3 859.8 L339.3 864.4 L340.3 870.8 L341.3 869.7 L342.3 871.1 L343.3 876.7 L344.3 869.4 L345.3 876.7 L346.3 873.2 L347.3 877.9 L348.3 880.0 L349.3 880.3 L350.3 880.7 L351.3 884.4 L352.3 885.1 L353.3 887.3 L354.3 889.1 L355.3 889.5 L356.3 893.4 L357.3 890.0 L358.3 887.5 L359.3 888.6 L360.3 891.9 L361.3 887.1 L362.3 886.3 L363.3 885.1 L364.3 887.1 L365.3 879.8 L366.3 881.8 L367.3 879.9 L368.3 887.2 L369.3 883.4 L370.3 893.2 L371.3 891.2 L372.3 897.9 L373.3 895.2 L374.3 893.5 L375.3 895.7 L376.3 896.5 L377.3 898.9 L378.3 901.3 L379.3 899.3 L380.3 897.1 L381.3 895.7 L382.3 899.0 L383.3 892.2 L384.3 895.5 L385.3 892.1 L386.3 892.0 L387.3 894.1 L388.3 888.0 L389.3 893.6 L390.3 894.5 L391.3 889.8 L392.3 890.3 L393.3 893.7 L394.3 894.9 L395.3 895.3 L396.3 900.5 L397.3 912.8 L398.3 916.7 L399.3 927.3 L400.3 929.4 L401.3 931.5 L402.3 931.6 L403.3 932.7 L404.3 930.8 L405.3 927.0 L406.3 925.5 L407.3 926.0 L408.3 930.9 L409.3 929.2 L410.3 936.4 L411.3 937.9 L412.3 942.0 L413.3 943.1 L414.3 944.3 L415.3 945.9 L416.3 946.2 L417.3 944.4 L418.3 937.1 L419.3 936.9 L420.3 935.9 L421.3 928.6 L422.3 932.4 L423.3 927.8 L424.3 918.3 L425.3 922.2 L426.3 917.5 L427.3 916.2 L428.3 916.8 L429.3 911.3 L430.3 911.5 L431.3 911.6 L432.3 906.7 L433.3 906.1 L434.3 905.5 L435.3 904.9 L436.3 901.5 L437.3 913.3 L438.3 922.2 L439.3 922.1 L440.3 914.0 L441.3 911.3 L442.3 906.0 L443.3 901.9 L444.3 902.2 L445.3 900.1 L446.3 899.6 L447.3 903.6 L448.3 906.1 L449.3 900.4 L450.3 906.9 L451.3 902.5 L452.3 905.5 L453.3 904.9 L454.3 901.8 L455.3 899.3 L456.3 896.7 L457.3 896.9 L458.3 891.7 L459.3 896.8 L460.3 887.3 L461.3 889.2 L462.3 886.8 L463.3 890.7 L464.3 891.6 L465.3 892.6 L466.3 901.4 L467.3 902.1 L468.3 905.6 L469.3 908.3 L470.3 911.7 L471.3 912.7 L472.3 909.1 L473.3 907.8 L474.3 905.0 L475.3 903.7 L476.3 904.9 L477.3 909.5 L478.3 908.4 L479.3 917.6 L480.3 922.0 L481.3 923.5 L482.3 920.1 L483.3 911.4 L484.3 909.5 L485.3 908.7 L486.3 901.9 L487.3 905.3 L488.3 901.5 L489.3 908.3 L490.3 907.2 L491.3 910.0 L492.3 908.2 L493.3 909.1 L494.3 909.0 L495.3 913.9 L496.3 907.6 L497.3 905.6 L498.3 900.0 L499.3 900.1 L500.3 895.1 L501.3 894.7 L502.3 894.8 L503.3 888.3 L504.3 884.3 L505.3 884.4 L506.3 881.4 L507.3 877.0 L508.3 872.8 L509.3 877.8 L510.3 880.1 L511.3 881.2 L512.3 884.8 L513.3 884.4 L514.3 885.5 L515.3 881.6 L516.3 882.4 L517.3 881.3 L518.3 878.6 L519.3 879.1 L520.3 874.2 L521.3 873.5 L522.3 869.7 L523.3 870.3 L524.3 870.6 L525.3 868.1 L526.3 867.7 L527.3 864.6 L528.3 856.7 L529.3 847.7 L530.3 831.4 L531.3 815.5 L532.3 820.2 L533.3 818.2 L534.3 818.0 L535.3 816.1 L536.3 821.9 L537.3 820.5 L538.3 818.7 L539.3 821.4 L540.3 821.9 L541.3 820.8 L542.3 822.9 L543.3 825.1 L544.3 822.4 L545.3 823.5 L546.3 827.5 L547.3 830.2 L548.3 833.2 L549.3 824.3 L550.3 824.4 L551.3 821.9 L552.3 824.5 L553.3 824.5 L554.3 827.5 L555.3 829.3 L556.3 834.1 L557.3 835.1 L558.3 843.3 L559.3 848.3 L560.3 853.8 L561.3 858.2 L562.3 868.0 L563.3 873.4 L564.3 883.1 L565.3 887.0 L566.3 893.9 L567.3 895.3 L568.3 900.6 L569.3 908.0 L570.3 911.9 L571.3 916.3 L572.3 914.7 L573.3 919.0 L574.3 922.7 L575.3 922.7 L576.3 924.3 L577.3 929.1 L578.3 933.6 L579.3 928.8 L580.3 926.1 L581.3 923.7" fill="none" stroke="#ED7D31" stroke-width="4.2" stroke-linejoin="round" stroke-linecap="round"/>
<path d="M88.3 907.0 L89.3 903.9 L90.3 901.0 L91.3 899.7 L92.3 895.2 L93.3 888.2 L94.3 887.1 L95.3 881.5 L96.3 877.8 L97.3 877.9 L98.3 877.5 L99.3 878.8 L100.3 885.3 L101.3 892.1 L102.3 893.4 L103.3 894.0 L104.3 897.9 L105.3 900.2 L106.3 895.1 L107.3 891.9 L108.3 890.9 L109.3 889.5 L110.3 894.1 L111.3 898.7 L112.3 897.4 L113.3 891.1 L114.3 888.2 L115.3 888.0 L116.3 894.5 L117.3 895.9 L118.3 903.3 L119.3 893.9 L120.3 885.8 L121.3 884.4 L122.3 884.1 L123.3 889.2 L124.3 890.4 L125.3 888.4 L126.3 895.0 L127.3 894.2 L128.3 897.9 L129.3 896.3 L130.3 895.8 L131.3 896.0 L132.3 897.7 L133.3 899.7 L134.3 903.0 L135.3 902.7 L136.3 897.7 L137.3 894.6 L138.3 893.1 L139.3 896.5 L140.3 896.5 L141.3 903.1 L142.3 894.9 L143.3 891.1 L144.3 892.2 L145.3 888.8 L146.3 879.7 L147.3 872.9 L148.3 867.8 L149.3 862.1 L150.3 856.3 L151.3 855.2 L152.3 860.9 L153.3 859.2 L154.3 865.5 L155.3 870.2 L156.3 873.1 L157.3 878.1 L158.3 879.0 L159.3 883.7 L160.3 881.4 L161.3 879.5 L162.3 877.0 L163.3 873.7 L164.3 874.7 L165.3 871.3 L166.3 872.7 L167.3 875.1 L168.3 872.1 L169.3 870.8 L170.3 865.6 L171.3 864.8 L172.3 860.2 L173.3 856.4 L174.3 859.7 L175.3 861.4 L176.3 865.7 L177.3 869.5 L178.3 875.5 L179.3 878.7 L180.3 878.7 L181.3 877.2 L182.3 882.3 L183.3 882.6 L184.3 885.3 L185.3 883.8 L186.3 888.7 L187.3 885.7 L188.3 891.4 L189.3 890.6 L190.3 891.0 L191.3 891.6 L192.3 895.5 L193.3 901.0 L194.3 902.1 L195.3 903.7 L196.3 898.6 L197.3 905.5 L198.3 906.7 L199.3 905.4 L200.3 905.3 L201.3 903.6 L202.3 904.4 L203.3 895.9 L204.3 893.7 L205.3 898.2 L206.3 896.8 L207.3 898.7 L208.3 901.1 L209.3 899.0 L210.3 902.5 L211.3 900.8 L212.3 908.9 L213.3 911.4 L214.3 920.1 L215.3 920.3 L216.3 924.9 L217.3 921.5 L218.3 925.4 L219.3 928.6 L220.3 933.7 L221.3 928.8 L222.3 935.7 L223.3 937.3 L224.3 941.3 L225.3 940.9 L226.3 940.4 L227.3 940.0 L228.3 939.4 L229.3 943.2 L230.3 943.7 L231.3 949.3 L232.3 945.2 L233.3 947.7 L234.3 943.4 L235.3 945.0 L236.3 946.1 L237.3 946.9 L238.3 948.4 L239.3 945.9 L240.3 943.9 L241.3 947.4 L242.3 948.4 L243.3 949.0 L244.3 947.2 L245.3 951.5 L246.3 947.2 L247.3 944.9 L248.3 942.9 L249.3 938.9 L250.3 936.1 L251.3 938.0 L252.3 932.3 L253.3 928.8 L254.3 926.9 L255.3 927.1 L256.3 921.9 L257.3 917.0 L258.3 911.8 L259.3 901.7 L260.3 897.1 L261.3 907.0 L262.3 912.9 L263.3 915.2 L264.3 922.1 L265.3 925.9 L266.3 926.5 L267.3 933.3 L268.3 936.1 L269.3 933.7 L270.3 934.8 L271.3 931.5 L272.3 921.6 L273.3 894.1 L274.3 864.3 L275.3 861.9 L276.3 863.7 L277.3 865.2 L278.3 861.7 L279.3 863.7 L280.3 863.1 L281.3 867.8 L282.3 859.6 L283.3 864.1 L284.3 862.5 L285.3 862.1 L286.3 865.6 L287.3 861.4 L288.3 866.0 L289.3 861.5 L290.3 863.3 L291.3 862.6 L292.3 863.3 L293.3 866.2 L294.3 866.9 L295.3 869.2 L296.3 865.8 L297.3 875.3 L298.3 869.9 L299.3 870.9 L300.3 862.8 L301.3 862.3 L302.3 865.9 L303.3 855.4 L304.3 850.6 L305.3 849.7 L306.3 849.4 L307.3 847.4 L308.3 846.1 L309.3 840.3 L310.3 834.5 L311.3 835.8 L312.3 840.9 L313.3 840.9 L314.3 837.2 L315.3 843.4 L316.3 849.4 L317.3 854.0 L318.3 855.2 L319.3 859.0 L320.3 860.3 L321.3 865.5 L322.3 872.1 L323.3 877.9 L324.3 882.5 L325.3 883.0 L326.3 884.0 L327.3 887.3 L328.3 885.8 L329.3 888.2 L330.3 881.0 L331.3 883.0 L332.3 883.3 L333.3 884.0 L334.3 885.2 L335.3 890.8 L336.3 892.1 L337.3 896.0 L338.3 901.3 L339.3 911.3 L340.3 912.6 L341.3 907.5 L342.3 909.3 L343.3 899.1 L344.3 902.5 L345.3 904.6 L346.3 906.1 L347.3 913.0 L348.3 913.2 L349.3 908.3 L350.3 912.2 L351.3 918.1 L352.3 923.0 L353.3 922.3 L354.3 919.9 L355.3 920.4 L356.3 924.3 L357.3 925.7 L358.3 928.0 L359.3 927.1 L360.3 924.9 L361.3 919.1 L362.3 919.8 L363.3 916.6 L364.3 915.3 L365.3 912.3 L366.3 907.5 L367.3 911.1 L368.3 909.6 L369.3 909.6 L370.3 911.1 L371.3 912.3 L372.3 910.3 L373.3 915.9 L374.3 916.6 L375.3 915.4 L376.3 914.5 L377.3 915.6 L378.3 917.3 L379.3 912.7 L380.3 909.9 L381.3 908.3 L382.3 908.0 L383.3 904.3 L384.3 905.1 L385.3 904.4 L386.3 906.8 L387.3 904.0 L388.3 902.7 L389.3 897.7 L390.3 899.7 L391.3 896.1 L392.3 898.8 L393.3 899.9 L394.3 900.2 L395.3 908.4 L396.3 908.6 L397.3 909.5 L398.3 920.8 L399.3 925.9 L400.3 931.7 L401.3 936.7 L402.3 940.7 L403.3 936.6 L404.3 931.3 L405.3 928.8 L406.3 923.6 L407.3 922.2 L408.3 919.5 L409.3 908.7 L410.3 913.7 L411.3 909.9 L412.3 918.2 L413.3 916.1 L414.3 910.2 L415.3 913.9 L416.3 909.0 L417.3 902.1 L418.3 904.8 L419.3 901.7 L420.3 902.0 L421.3 899.6 L422.3 902.0 L423.3 895.2 L424.3 897.0 L425.3 899.1 L426.3 892.5 L427.3 892.9 L428.3 891.7 L429.3 888.5 L430.3 890.7 L431.3 889.8 L432.3 887.6 L433.3 892.5 L434.3 889.7 L435.3 886.2 L436.3 883.6 L437.3 881.9 L438.3 884.7 L439.3 880.9 L440.3 881.6 L441.3 880.4 L442.3 881.9 L443.3 880.8 L444.3 883.2 L445.3 882.1 L446.3 884.5 L447.3 883.7 L448.3 881.4 L449.3 879.0 L450.3 879.6 L451.3 881.3 L452.3 882.2 L453.3 887.3 L454.3 887.1 L455.3 891.7 L456.3 894.4 L457.3 888.5 L458.3 883.4 L459.3 884.2 L460.3 883.7 L461.3 879.5 L462.3 880.5 L463.3 881.9 L464.3 881.8 L465.3 882.3 L466.3 883.6 L467.3 890.3 L468.3 888.0 L469.3 887.6 L470.3 888.6 L471.3 891.4 L472.3 888.3 L473.3 889.7 L474.3 889.1 L475.3 887.8 L476.3 888.2 L477.3 884.3 L478.3 887.4 L479.3 883.7 L480.3 882.9 L481.3 885.0 L482.3 883.2 L483.3 881.7 L484.3 880.3 L485.3 885.1 L486.3 883.5 L487.3 881.3 L488.3 880.5 L489.3 881.1 L490.3 876.3 L491.3 881.0 L492.3 881.1 L493.3 878.6 L494.3 880.5 L495.3 878.6 L496.3 875.1 L497.3 874.7 L498.3 877.5 L499.3 873.2 L500.3 875.2 L501.3 874.8 L502.3 876.2 L503.3 877.6 L504.3 878.6 L505.3 882.2 L506.3 881.9 L507.3 881.9 L508.3 881.2 L509.3 886.4 L510.3 887.7 L511.3 891.0 L512.3 887.9 L513.3 889.5 L514.3 889.4 L515.3 889.3 L516.3 889.0 L517.3 884.1 L518.3 887.7 L519.3 886.5 L520.3 886.2 L521.3 887.3 L522.3 880.8 L523.3 879.6 L524.3 878.3 L525.3 881.1 L526.3 873.0 L527.3 876.9 L528.3 873.2 L529.3 868.9 L530.3 855.8 L531.3 843.2 L532.3 849.6 L533.3 848.7 L534.3 852.4 L535.3 852.4 L536.3 857.3 L537.3 855.3 L538.3 861.4 L539.3 858.4 L540.3 859.8 L541.3 863.0 L542.3 865.5 L543.3 871.1 L544.3 871.4 L545.3 871.8 L546.3 876.9 L547.3 881.0 L548.3 886.1 L549.3 884.3 L550.3 881.9 L551.3 882.5 L552.3 878.4 L553.3 877.6 L554.3 877.0 L555.3 882.1 L556.3 883.0 L557.3 886.2 L558.3 888.6 L559.3 896.1 L560.3 897.8 L561.3 903.5 L562.3 904.3 L563.3 915.4 L564.3 916.3 L565.3 922.4 L566.3 931.6 L567.3 932.3 L568.3 940.4 L569.3 947.6 L570.3 952.0 L571.3 963.2 L572.3 968.0 L573.3 964.8 L574.3 962.4 L575.3 963.2 L576.3 955.2 L577.3 952.7 L578.3 950.0 L579.3 947.5 L580.3 942.4 L581.3 939.5" fill="none" stroke="#A5A5A5" stroke-width="4.2" stroke-linejoin="round" stroke-linecap="round"/>
<path d="M88.3 906.0 L89.3 900.5 L90.3 897.4 L91.3 894.4 L92.3 887.3 L93.3 884.3 L94.3 885.7 L95.3 889.5 L96.3 892.3 L97.3 892.6 L98.3 891.3 L99.3 898.7 L100.3 895.0 L101.3 896.3 L102.3 895.3 L103.3 896.0 L104.3 897.0 L105.3 892.3 L106.3 897.2 L107.3 901.7 L108.3 901.8 L109.3 906.7 L110.3 908.6 L111.3 906.5 L112.3 907.2 L113.3 910.8 L114.3 912.8 L115.3 916.7 L116.3 924.0 L117.3 924.7 L118.3 926.4 L119.3 925.8 L120.3 931.0 L121.3 929.8 L122.3 930.1 L123.3 923.7 L124.3 911.0 L125.3 908.4 L126.3 909.6 L127.3 908.3 L128.3 905.5 L129.3 904.5 L130.3 909.9 L131.3 909.0 L132.3 908.0 L133.3 911.7 L134.3 915.9 L135.3 919.1 L136.3 915.1 L137.3 910.0 L138.3 904.8 L139.3 901.5 L140.3 901.7 L141.3 901.5 L142.3 899.6 L143.3 894.5 L144.3 895.2 L145.3 894.1 L146.3 892.5 L147.3 885.3 L148.3 889.4 L149.3 891.3 L150.3 896.7 L151.3 895.7 L152.3 898.9 L153.3 899.9 L154.3 902.9 L155.3 903.1 L156.3 904.6 L157.3 906.6 L158.3 906.6 L159.3 907.1 L160.3 905.9 L161.3 907.4 L162.3 910.9 L163.3 905.9 L164.3 905.5 L165.3 903.3 L166.3 900.9 L167.3 892.5 L168.3 899.2 L169.3 892.1 L170.3 893.6 L171.3 899.6 L172.3 893.6 L173.3 901.4 L174.3 904.6 L175.3 905.0 L176.3 912.6 L177.3 912.8 L178.3 916.2 L179.3 917.0 L180.3 920.5 L181.3 925.4 L182.3 913.1 L183.3 911.5 L184.3 903.3 L185.3 902.9 L186.3 901.0 L187.3 903.6 L188.3 904.7 L189.3 903.5 L190.3 898.5 L191.3 895.4 L192.3 899.8 L193.3 899.4 L194.3 908.9 L195.3 906.9 L196.3 908.7 L197.3 907.0 L198.3 907.3 L199.3 906.8 L200.3 899.5 L201.3 906.5 L202.3 900.8 L203.3 899.7 L204.3 895.4 L205.3 896.2 L206.3 895.9 L207.3 900.2 L208.3 898.7 L209.3 904.0 L210.3 909.3 L211.3 903.9 L212.3 908.4 L213.3 911.9 L214.3 917.9 L215.3 922.1 L216.3 923.7 L217.3 927.5 L218.3 928.5 L219.3 926.4 L220.3 925.0 L221.3 924.1 L222.3 926.1 L223.3 928.0 L224.3 927.9 L225.3 931.7 L226.3 931.9 L227.3 934.3 L228.3 930.4 L229.3 930.1 L230.3 930.6 L231.3 929.8 L232.3 927.6 L233.3 929.7 L234.3 925.1 L235.3 930.3 L236.3 933.2 L237.3 934.4 L238.3 934.3 L239.3 933.1 L240.3 930.3 L241.3 926.8 L242.3 926.5 L243.3 925.0 L244.3 924.1 L245.3 925.7 L246.3 927.6 L247.3 932.7 L248.3 937.6 L249.3 934.4 L250.3 933.3 L251.3 937.0 L252.3 937.2 L253.3 938.9 L254.3 939.6 L255.3 927.3 L256.3 913.0 L257.3 900.8 L258.3 888.2 L259.3 888.0 L260.3 891.5 L261.3 892.8 L262.3 897.8 L263.3 900.2 L264.3 898.7 L265.3 898.0 L266.3 904.7 L267.3 904.5 L268.3 909.4 L269.3 906.6 L270.3 904.9 L271.3 901.4 L272.3 898.3 L273.3 881.1 L274.3 857.2 L275.3 859.5 L276.3 858.7 L277.3 862.4 L278.3 861.3 L279.3 863.1 L280.3 863.3 L281.3 861.0 L282.3 859.5 L283.3 863.9 L284.3 860.3 L285.3 859.3 L286.3 860.5 L287.3 866.1 L288.3 864.5 L289.3 867.7 L290.3 862.1 L291.3 872.1 L292.3 869.0 L293.3 871.9 L294.3 869.1 L295.3 867.4 L296.3 867.3 L297.3 867.7 L298.3 861.8 L299.3 857.0 L300.3 857.7 L301.3 858.8 L302.3 851.8 L303.3 852.1 L304.3 855.6 L305.3 856.3 L306.3 855.0 L307.3 861.9 L308.3 864.6 L309.3 866.9 L310.3 869.8 L311.3 862.5 L312.3 858.1 L313.3 853.7 L314.3 849.3 L315.3 841.5 L316.3 839.6 L317.3 834.7 L318.3 834.6 L319.3 833.9 L320.3 828.4 L321.3 829.5 L322.3 826.6 L323.3 831.9 L324.3 831.0 L325.3 836.3 L326.3 832.5 L327.3 826.2 L328.3 814.4 L329.3 818.9 L330.3 821.6 L331.3 828.6 L332.3 828.8 L333.3 830.8 L334.3 822.8 L335.3 817.1 L336.3 819.6 L337.3 833.1 L338.3 838.2 L339.3 843.3 L340.3 846.5 L341.3 849.9 L342.3 851.2 L343.3 844.5 L344.3 846.3 L345.3 850.6 L346.3 851.8 L347.3 857.2 L348.3 850.2 L349.3 844.8 L350.3 843.0 L351.3 849.5 L352.3 860.6 L353.3 860.6 L354.3 864.4 L355.3 867.3 L356.3 871.2 L357.3 869.2 L358.3 868.4 L359.3 865.7 L360.3 864.0 L361.3 855.6 L362.3 845.0 L363.3 837.8 L364.3 844.1 L365.3 847.9 L366.3 852.7 L367.3 861.1 L368.3 864.7 L369.3 866.3 L370.3 873.1 L371.3 884.9 L372.3 886.2 L373.3 895.3 L374.3 895.9 L375.3 891.6 L376.3 891.0 L377.3 896.6 L378.3 899.5 L379.3 903.7 L380.3 904.2 L381.3 900.8 L382.3 906.4 L383.3 903.8 L384.3 904.8 L385.3 906.2 L386.3 904.0 L387.3 906.4 L388.3 911.3 L389.3 912.7 L390.3 910.0 L391.3 909.7 L392.3 907.2 L393.3 906.6 L394.3 909.5 L395.3 910.8 L396.3 914.1 L397.3 920.6 L398.3 926.3 L399.3 931.3 L400.3 932.6 L401.3 932.5 L402.3 930.7 L403.3 928.8 L404.3 925.2 L405.3 923.1 L406.3 922.3 L407.3 920.9 L408.3 917.5 L409.3 915.2 L410.3 913.6 L411.3 911.5 L412.3 915.7 L413.3 910.2 L414.3 913.5 L415.3 911.7 L416.3 913.1 L417.3 909.2 L418.3 908.4 L419.3 909.8 L420.3 909.9 L421.3 905.8 L422.3 906.2 L423.3 904.1 L424.3 903.2 L425.3 900.7 L426.3 898.4 L427.3 903.4 L428.3 898.3 L429.3 900.2 L430.3 897.2 L431.3 897.1 L432.3 893.7 L433.3 893.5 L434.3 897.3 L435.3 902.1 L436.3 900.7 L437.3 905.6 L438.3 903.3 L439.3 903.9 L440.3 900.6 L441.3 902.7 L442.3 899.1 L443.3 898.8 L444.3 893.2 L445.3 899.0 L446.3 896.1 L447.3 892.8 L448.3 892.6 L449.3 894.3 L450.3 893.5 L451.3 893.2 L452.3 897.2 L453.3 901.9 L454.3 902.1 L455.3 902.9 L456.3 901.6 L457.3 903.3 L458.3 895.6 L459.3 892.5 L460.3 891.3 L461.3 894.7 L462.3 892.4 L463.3 894.7 L464.3 897.8 L465.3 894.2 L466.3 896.7 L467.3 901.2 L468.3 901.8 L469.3 902.5 L470.3 900.6 L471.3 896.5 L472.3 895.7 L473.3 894.3 L474.3 888.7 L475.3 885.7 L476.3 882.1 L477.3 882.9 L478.3 884.5 L479.3 879.7 L480.3 880.2 L481.3 883.6 L482.3 879.3 L483.3 881.5 L484.3 884.8 L485.3 887.3 L486.3 894.1 L487.3 891.3 L488.3 895.6 L489.3 895.4 L490.3 897.2 L491.3 896.5 L492.3 887.2 L493.3 889.4 L494.3 887.3 L495.3 889.1 L496.3 889.1 L497.3 886.2 L498.3 885.1 L499.3 886.4 L500.3 881.6 L501.3 883.1 L502.3 882.4 L503.3 881.2 L504.3 878.8 L505.3 882.3 L506.3 881.0 L507.3 881.4 L508.3 884.6 L509.3 883.4 L510.3 886.9 L511.3 885.2 L512.3 883.2 L513.3 884.6 L514.3 887.1 L515.3 884.2 L516.3 878.2 L517.3 879.4 L518.3 883.4 L519.3 884.9 L520.3 882.0 L521.3 883.1 L522.3 878.7 L523.3 883.3 L524.3 880.0 L525.3 884.9 L526.3 887.9 L527.3 885.2 L528.3 886.7 L529.3 876.8 L530.3 853.0 L531.3 821.3 L532.3 821.0 L533.3 817.4 L534.3 824.2 L535.3 822.1 L536.3 825.6 L537.3 820.3 L538.3 821.0 L539.3 825.0 L540.3 822.9 L541.3 819.1 L542.3 820.6 L543.3 821.8 L544.3 826.9 L545.3 824.3 L546.3 825.3 L547.3 827.6 L548.3 823.2 L549.3 821.5 L550.3 819.2 L551.3 821.2 L552.3 819.2 L553.3 823.5 L554.3 824.5 L555.3 826.9 L556.3 831.7 L557.3 835.6 L558.3 837.0 L559.3 843.5 L560.3 852.2 L561.3 851.6 L562.3 852.7 L563.3 855.4 L564.3 857.3 L565.3 860.1 L566.3 858.9 L567.3 863.3 L568.3 870.9 L569.3 874.0 L570.3 877.8 L571.3 879.4 L572.3 880.3 L573.3 879.9 L574.3 877.5 L575.3 874.5 L576.3 875.2 L577.3 877.3 L578.3 877.9 L579.3 876.2 L580.3 877.4 L581.3 872.7" fill="none" stroke="#FFC000" stroke-width="4.2" stroke-linejoin="round" stroke-linecap="round"/>
<path d="M88.3 913.9 L89.3 916.9 L90.3 916.1 L91.3 913.7 L92.3 914.1 L93.3 913.3 L94.3 911.0 L95.3 909.0 L96.3 909.7 L97.3 914.5 L98.3 919.7 L99.3 920.4 L100.3 922.8 L101.3 926.3 L102.3 924.5 L103.3 923.2 L104.3 928.4 L105.3 926.8 L106.3 923.1 L107.3 921.9 L108.3 922.4 L109.3 921.1 L110.3 922.6 L111.3 922.4 L112.3 919.6 L113.3 920.2 L114.3 927.1 L115.3 927.2 L116.3 923.0 L117.3 928.7 L118.3 930.0 L119.3 929.9 L120.3 927.5 L121.3 927.0 L122.3 923.6 L123.3 920.7 L124.3 922.4 L125.3 922.5 L126.3 920.6 L127.3 917.7 L128.3 921.7 L129.3 923.4 L130.3 928.3 L131.3 926.6 L132.3 930.3 L133.3 935.1 L134.3 940.8 L135.3 946.0 L136.3 946.8 L137.3 939.6 L138.3 924.1 L139.3 914.5 L140.3 910.2 L141.3 907.1 L142.3 906.4 L143.3 904.9 L144.3 901.4 L145.3 890.4 L146.3 880.2 L147.3 871.5 L148.3 869.7 L149.3 870.8 L150.3 873.7 L151.3 877.0 L152.3 879.0 L153.3 889.6 L154.3 891.5 L155.3 893.5 L156.3 893.4 L157.3 894.2 L158.3 893.3 L159.3 893.0 L160.3 893.7 L161.3 894.0 L162.3 891.6 L163.3 886.4 L164.3 886.7 L165.3 889.6 L166.3 886.0 L167.3 884.2 L168.3 880.5 L169.3 881.1 L170.3 874.3 L171.3 870.9 L172.3 872.6 L173.3 866.1 L174.3 866.6 L175.3 875.1 L176.3 874.4 L177.3 878.8 L178.3 879.8 L179.3 893.2 L180.3 900.4 L181.3 898.1 L182.3 895.4 L183.3 894.5 L184.3 891.3 L185.3 891.2 L186.3 882.0 L187.3 883.5 L188.3 887.1 L189.3 887.2 L190.3 889.8 L191.3 886.7 L192.3 891.9 L193.3 893.7 L194.3 892.4 L195.3 893.4 L196.3 903.1 L197.3 904.3 L198.3 904.1 L199.3 904.0 L200.3 903.6 L201.3 908.4 L202.3 911.7 L203.3 916.9 L204.3 915.2 L205.3 917.3 L206.3 919.3 L207.3 923.8 L208.3 924.8 L209.3 922.3 L210.3 915.1 L211.3 913.3 L212.3 909.8 L213.3 910.0 L214.3 910.8 L215.3 913.3 L216.3 907.3 L217.3 911.4 L218.3 916.2 L219.3 915.8 L220.3 917.4 L221.3 914.3 L222.3 916.8 L223.3 915.3 L224.3 921.4 L225.3 918.7 L226.3 919.2 L227.3 918.4 L228.3 920.9 L229.3 923.8 L230.3 920.9 L231.3 920.6 L232.3 920.8 L233.3 925.1 L234.3 924.2 L235.3 925.9 L236.3 923.8 L237.3 921.9 L238.3 921.1 L239.3 919.1 L240.3 913.6 L241.3 917.2 L242.3 918.0 L243.3 920.4 L244.3 923.2 L245.3 920.3 L246.3 921.0 L247.3 920.4 L248.3 922.9 L249.3 928.3 L250.3 926.9 L251.3 932.6 L252.3 932.3 L253.3 933.3 L254.3 924.8 L255.3 914.6 L256.3 907.3 L257.3 897.7 L258.3 890.8 L259.3 893.6 L260.3 897.5 L261.3 897.1 L262.3 894.3 L263.3 903.3 L264.3 907.4 L265.3 904.7 L266.3 908.2 L267.3 911.4 L268.3 912.2 L269.3 912.4 L270.3 906.7 L271.3 910.2 L272.3 901.8 L273.3 877.1 L274.3 855.2 L275.3 856.3 L276.3 856.2 L277.3 852.8 L278.3 855.7 L279.3 853.3 L280.3 859.2 L281.3 857.0 L282.3 856.7 L283.3 860.0 L284.3 859.3 L285.3 858.4 L286.3 862.5 L287.3 866.5 L288.3 861.3 L289.3 865.4 L290.3 866.9 L291.3 868.5 L292.3 869.7 L293.3 872.9 L294.3 873.5 L295.3 869.6 L296.3 868.5 L297.3 863.1 L298.3 864.7 L299.3 858.8 L300.3 855.3 L301.3 854.8 L302.3 850.4 L303.3 848.4 L304.3 848.1 L305.3 854.0 L306.3 854.2 L307.3 852.7 L308.3 854.8 L309.3 856.5 L310.3 856.4 L311.3 858.7 L312.3 860.3 L313.3 862.0 L314.3 866.0 L315.3 874.4 L316.3 877.4 L317.3 879.7 L318.3 881.9 L319.3 879.7 L320.3 883.1 L321.3 881.1 L322.3 877.0 L323.3 875.4 L324.3 871.2 L325.3 873.1 L326.3 864.6 L327.3 862.9 L328.3 864.8 L329.3 865.4 L330.3 870.4 L331.3 863.6 L332.3 850.4 L333.3 843.5 L334.3 842.7 L335.3 850.2 L336.3 852.5 L337.3 857.2 L338.3 860.6 L339.3 859.7 L340.3 863.6 L341.3 864.8 L342.3 869.5 L343.3 868.0 L344.3 865.4 L345.3 863.8 L346.3 864.3 L347.3 860.5 L348.3 863.0 L349.3 864.3 L350.3 864.7 L351.3 870.2 L352.3 867.0 L353.3 874.7 L354.3 870.9 L355.3 872.7 L356.3 881.1 L357.3 875.1 L358.3 877.4 L359.3 879.6 L360.3 874.8 L361.3 875.6 L362.3 874.5 L363.3 873.1 L364.3 868.7 L365.3 867.7 L366.3 864.6 L367.3 859.6 L368.3 862.5 L369.3 860.7 L370.3 859.2 L371.3 860.0 L372.3 861.9 L373.3 863.3 L374.3 862.3 L375.3 860.9 L376.3 864.3 L377.3 864.4 L378.3 866.4 L379.3 869.4 L380.3 866.4 L381.3 870.2 L382.3 870.5 L383.3 873.1 L384.3 875.3 L385.3 883.1 L386.3 882.1 L387.3 886.5 L388.3 890.4 L389.3 893.3 L390.3 895.8 L391.3 894.8 L392.3 897.5 L393.3 898.6 L394.3 904.4 L395.3 911.8 L396.3 911.1 L397.3 918.1 L398.3 921.5 L399.3 922.3 L400.3 921.0 L401.3 922.5 L402.3 926.4 L403.3 927.8 L404.3 925.5 L405.3 916.6 L406.3 911.0 L407.3 910.5 L408.3 907.5 L409.3 904.0 L410.3 904.6 L411.3 900.5 L412.3 899.5 L413.3 896.4 L414.3 898.2 L415.3 892.7 L416.3 895.4 L417.3 888.4 L418.3 888.2 L419.3 880.8 L420.3 881.6 L421.3 880.1 L422.3 872.4 L423.3 875.7 L424.3 868.4 L425.3 867.9 L426.3 865.2 L427.3 865.5 L428.3 865.2 L429.3 863.7 L430.3 865.9 L431.3 863.4 L432.3 859.3 L433.3 859.4 L434.3 858.0 L435.3 863.2 L436.3 859.9 L437.3 857.8 L438.3 856.7 L439.3 862.7 L440.3 861.2 L441.3 861.1 L442.3 859.2 L443.3 862.8 L444.3 859.8 L445.3 864.5 L446.3 863.3 L447.3 864.5 L448.3 863.5 L449.3 868.8 L450.3 867.5 L451.3 868.7 L452.3 866.1 L453.3 864.8 L454.3 870.4 L455.3 864.2 L456.3 863.4 L457.3 868.1 L458.3 872.6 L459.3 877.7 L460.3 875.6 L461.3 879.5 L462.3 881.6 L463.3 883.8 L464.3 883.9 L465.3 892.3 L466.3 898.2 L467.3 907.4 L468.3 912.1 L469.3 926.1 L470.3 918.7 L471.3 911.1 L472.3 905.1 L473.3 897.8 L474.3 894.5 L475.3 888.8 L476.3 883.8 L477.3 885.7 L478.3 881.8 L479.3 882.7 L480.3 878.3 L481.3 877.3 L482.3 877.8 L483.3 874.6 L484.3 873.1 L485.3 869.3 L486.3 876.8 L487.3 876.0 L488.3 873.8 L489.3 874.0 L490.3 876.2 L491.3 876.8 L492.3 873.2 L493.3 875.9 L494.3 874.3 L495.3 872.2 L496.3 874.2 L497.3 871.9 L498.3 870.0 L499.3 867.8 L500.3 868.8 L501.3 870.4 L502.3 871.0 L503.3 873.3 L504.3 876.4 L505.3 874.6 L506.3 879.1 L507.3 875.4 L508.3 873.5 L509.3 876.1 L510.3 871.9 L511.3 869.5 L512.3 865.1 L513.3 869.0 L514.3 870.3 L515.3 862.1 L516.3 863.3 L517.3 865.0 L518.3 865.5 L519.3 860.0 L520.3 862.0 L521.3 859.9 L522.3 860.9 L523.3 860.3 L524.3 862.7 L525.3 859.7 L526.3 861.1 L527.3 868.1 L528.3 865.9 L529.3 870.1 L530.3 845.4 L531.3 826.4 L532.3 824.7 L533.3 827.2 L534.3 826.2 L535.3 829.6 L536.3 828.7 L537.3 829.8 L538.3 832.6 L539.3 832.6 L540.3 829.9 L541.3 829.1 L542.3 829.1 L543.3 832.8 L544.3 833.7 L545.3 827.1 L546.3 830.9 L547.3 837.4 L548.3 837.7 L549.3 831.1 L550.3 832.2 L551.3 830.6 L552.3 833.5 L553.3 830.9 L554.3 833.5 L555.3 832.0 L556.3 837.4 L557.3 840.3 L558.3 843.3 L559.3 845.0 L560.3 853.7 L561.3 858.8 L562.3 864.0 L563.3 875.9 L564.3 885.2 L565.3 890.4 L566.3 890.5 L567.3 898.3 L568.3 899.4 L569.3 903.6 L570.3 906.8 L571.3 910.1 L572.3 908.4 L573.3 909.4 L574.3 914.3 L575.3 915.1 L576.3 912.8 L577.3 918.3 L578.3 917.9 L579.3 912.9 L580.3 913.1 L581.3 912.7" fill="none" stroke="#5B9BD5" stroke-width="4.2" stroke-linejoin="round" stroke-linecap="round"/>
<path d="M88.3 911.4 L89.3 910.1 L90.3 905.6 L91.3 900.8 L92.3 896.1 L93.3 894.9 L94.3 895.9 L95.3 898.4 L96.3 897.5 L97.3 902.8 L98.3 903.9 L99.3 902.7 L100.3 905.3 L101.3 906.7 L102.3 904.9 L103.3 904.3 L104.3 908.5 L105.3 904.4 L106.3 907.6 L107.3 906.0 L108.3 902.6 L109.3 898.2 L110.3 905.6 L111.3 909.2 L112.3 911.3 L113.3 907.6 L114.3 915.0 L115.3 916.8 L116.3 917.8 L117.3 917.4 L118.3 916.9 L119.3 920.8 L120.3 916.5 L121.3 911.3 L122.3 914.4 L123.3 908.7 L124.3 910.9 L125.3 906.3 L126.3 907.2 L127.3 907.2 L128.3 913.0 L129.3 908.6 L130.3 910.2 L131.3 915.8 L132.3 918.2 L133.3 918.1 L134.3 918.4 L135.3 917.2 L136.3 911.0 L137.3 912.3 L138.3 908.2 L139.3 904.9 L140.3 905.9 L141.3 906.2 L142.3 908.2 L143.3 905.2 L144.3 906.7 L145.3 896.9 L146.3 887.5 L147.3 879.5 L148.3 876.2 L149.3 881.2 L150.3 883.6 L151.3 887.7 L152.3 891.4 L153.3 889.7 L154.3 891.6 L155.3 892.2 L156.3 889.6 L157.3 891.1 L158.3 892.6 L159.3 896.4 L160.3 893.1 L161.3 901.5 L162.3 897.1 L163.3 895.5 L164.3 895.1 L165.3 893.4 L166.3 894.7 L167.3 894.0 L168.3 896.6 L169.3 891.3 L170.3 893.0 L171.3 891.5 L172.3 889.5 L173.3 882.7 L174.3 886.2 L175.3 884.8 L176.3 880.8 L177.3 883.2 L178.3 884.0 L179.3 883.9 L180.3 883.3 L181.3 881.8 L182.3 886.0 L183.3 882.7 L184.3 884.1 L185.3 880.6 L186.3 879.4 L187.3 881.5 L188.3 879.0 L189.3 875.2 L190.3 881.1 L191.3 880.0 L192.3 881.8 L193.3 879.0 L194.3 883.0 L195.3 886.5 L196.3 887.1 L197.3 885.9 L198.3 889.7 L199.3 888.3 L200.3 886.1 L201.3 887.6 L202.3 886.1 L203.3 883.7 L204.3 887.2 L205.3 885.3 L206.3 892.8 L207.3 892.1 L208.3 895.6 L209.3 900.5 L210.3 910.2 L211.3 916.3 L212.3 925.0 L213.3 928.3 L214.3 928.9 L215.3 931.5 L216.3 930.6 L217.3 928.2 L218.3 933.5 L219.3 926.5 L220.3 923.2 L221.3 915.2 L222.3 914.9 L223.3 912.2 L224.3 912.2 L225.3 908.9 L226.3 909.9 L227.3 906.2 L228.3 905.0 L229.3 910.9 L230.3 911.2 L231.3 910.6 L232.3 909.9 L233.3 909.8 L234.3 909.0 L235.3 910.7 L236.3 911.3 L237.3 912.1 L238.3 909.1 L239.3 904.9 L240.3 903.9 L241.3 905.0 L242.3 904.7 L243.3 908.5 L244.3 909.9 L245.3 908.5 L246.3 904.1 L247.3 901.7 L248.3 904.9 L249.3 898.6 L250.3 905.7 L251.3 904.5 L252.3 911.7 L253.3 914.4 L254.3 912.9 L255.3 903.9 L256.3 900.0 L257.3 895.0 L258.3 892.5 L259.3 893.9 L260.3 891.0 L261.3 893.2 L262.3 896.0 L263.3 898.8 L264.3 902.5 L265.3 904.6 L266.3 904.6 L267.3 904.8 L268.3 905.0 L269.3 907.4 L270.3 902.6 L271.3 904.7 L272.3 897.1 L273.3 878.5 L274.3 861.3 L275.3 855.4 L276.3 857.9 L277.3 856.0 L278.3 855.2 L279.3 857.0 L280.3 862.0 L281.3 862.2 L282.3 859.4 L283.3 859.7 L284.3 863.2 L285.3 859.0 L286.3 861.6 L287.3 863.1 L288.3 865.5 L289.3 862.9 L290.3 863.5 L291.3 866.0 L292.3 862.0 L293.3 865.9 L294.3 868.2 L295.3 864.2 L296.3 866.6 L297.3 864.1 L298.3 854.1 L299.3 853.2 L300.3 850.5 L301.3 847.0 L302.3 844.3 L303.3 848.7 L304.3 845.3 L305.3 846.4 L306.3 851.9 L307.3 850.8 L308.3 848.0 L309.3 849.9 L310.3 849.9 L311.3 854.4 L312.3 854.9 L313.3 858.9 L314.3 857.4 L315.3 856.9 L316.3 857.1 L317.3 849.3 L318.3 846.9 L319.3 844.6 L320.3 845.6 L321.3 840.1 L322.3 839.2 L323.3 839.7 L324.3 844.4 L325.3 838.5 L326.3 836.2 L327.3 837.0 L328.3 836.7 L329.3 842.1 L330.3 846.2 L331.3 853.5 L332.3 861.5 L333.3 869.9 L334.3 879.0 L335.3 877.2 L336.3 879.6 L337.3 886.1 L338.3 894.0 L339.3 895.2 L340.3 900.5 L341.3 907.0 L342.3 908.3 L343.3 906.5 L344.3 903.1 L345.3 905.3 L346.3 905.1 L347.3 901.3 L348.3 906.0 L349.3 906.4 L350.3 909.2 L351.3 911.7 L352.3 915.3 L353.3 915.7 L354.3 918.6 L355.3 919.5 L356.3 922.8 L357.3 919.1 L358.3 914.7 L359.3 911.7 L360.3 911.5 L361.3 909.8 L362.3 908.4 L363.3 906.5 L364.3 901.4 L365.3 898.2 L366.3 886.7 L367.3 894.9 L368.3 899.2 L369.3 900.0 L370.3 901.2 L371.3 901.3 L372.3 902.2 L373.3 902.2 L374.3 904.2 L375.3 906.6 L376.3 900.8 L377.3 904.4 L378.3 906.8 L379.3 904.1 L380.3 908.1 L381.3 909.4 L382.3 908.6 L383.3 905.8 L384.3 908.4 L385.3 906.9 L386.3 906.1 L387.3 906.8 L388.3 904.5 L389.3 904.8 L390.3 901.7 L391.3 901.8 L392.3 906.7 L393.3 906.8 L394.3 912.0 L395.3 910.4 L396.3 911.2 L397.3 922.1 L398.3 925.8 L399.3 933.6 L400.3 940.3 L401.3 945.5 L402.3 949.6 L403.3 951.9 L404.3 932.7 L405.3 923.1 L406.3 906.5 L407.3 905.0 L408.3 900.7 L409.3 899.8 L410.3 899.7 L411.3 905.4 L412.3 911.5 L413.3 915.5 L414.3 914.3 L415.3 920.7 L416.3 925.0 L417.3 914.9 L418.3 913.6 L419.3 906.5 L420.3 905.7 L421.3 904.9 L422.3 902.5 L423.3 900.0 L424.3 898.5 L425.3 902.9 L426.3 898.6 L427.3 891.9 L428.3 891.2 L429.3 892.2 L430.3 888.6 L431.3 880.5 L432.3 878.5 L433.3 880.0 L434.3 877.4 L435.3 876.7 L436.3 878.2 L437.3 877.4 L438.3 882.9 L439.3 887.0 L440.3 887.1 L441.3 886.6 L442.3 890.2 L443.3 892.2 L444.3 892.1 L445.3 892.5 L446.3 887.8 L447.3 886.4 L448.3 881.1 L449.3 886.5 L450.3 883.2 L451.3 885.2 L452.3 876.8 L453.3 881.8 L454.3 878.7 L455.3 877.5 L456.3 874.0 L457.3 878.4 L458.3 879.1 L459.3 877.5 L460.3 884.9 L461.3 887.1 L462.3 889.3 L463.3 892.8 L464.3 902.6 L465.3 901.8 L466.3 907.2 L467.3 913.2 L468.3 924.8 L469.3 927.2 L470.3 923.5 L471.3 928.5 L472.3 929.8 L473.3 917.9 L474.3 919.0 L475.3 906.7 L476.3 900.2 L477.3 900.4 L478.3 897.4 L479.3 894.1 L480.3 896.4 L481.3 890.5 L482.3 891.1 L483.3 892.4 L484.3 887.3 L485.3 891.7 L486.3 893.2 L487.3 889.8 L488.3 893.3 L489.3 892.5 L490.3 894.0 L491.3 898.9 L492.3 903.2 L493.3 905.8 L494.3 910.9 L495.3 913.7 L496.3 916.5 L497.3 920.7 L498.3 916.0 L499.3 910.9 L500.3 907.6 L501.3 908.9 L502.3 905.1 L503.3 902.4 L504.3 900.9 L505.3 898.1 L506.3 892.8 L507.3 892.1 L508.3 892.2 L509.3 887.5 L510.3 889.8 L511.3 890.8 L512.3 892.6 L513.3 892.1 L514.3 894.5 L515.3 893.9 L516.3 895.4 L517.3 892.9 L518.3 891.6 L519.3 890.6 L520.3 891.2 L521.3 889.7 L522.3 892.9 L523.3 893.7 L524.3 893.9 L525.3 894.6 L526.3 900.4 L527.3 903.0 L528.3 903.1 L529.3 903.3 L530.3 868.5 L531.3 828.9 L532.3 827.7 L533.3 832.8 L534.3 836.0 L535.3 838.4 L536.3 838.6 L537.3 840.2 L538.3 842.6 L539.3 845.1 L540.3 841.6 L541.3 844.9 L542.3 843.8 L543.3 846.8 L544.3 851.6 L545.3 850.8 L546.3 852.1 L547.3 851.4 L548.3 853.6 L549.3 846.5 L550.3 848.0 L551.3 837.1 L552.3 840.6 L553.3 842.5 L554.3 834.3 L555.3 835.5 L556.3 846.5 L557.3 848.6 L558.3 852.5 L559.3 856.3 L560.3 867.6 L561.3 878.2 L562.3 884.8 L563.3 893.4 L564.3 900.5 L565.3 907.6 L566.3 906.7 L567.3 918.7 L568.3 919.4 L569.3 915.1 L570.3 917.7 L571.3 917.9 L572.3 914.3 L573.3 913.4 L574.3 914.4 L575.3 918.3 L576.3 919.2 L577.3 918.4 L578.3 917.1 L579.3 921.2 L580.3 914.7 L581.3 913.6" fill="none" stroke="#70AD47" stroke-width="4.2" stroke-linejoin="round" stroke-linecap="round"/>
<path d="M88.3 922.2 L89.3 921.4 L90.3 920.9 L91.3 916.2 L92.3 910.8 L93.3 907.5 L94.3 896.9 L95.3 894.0 L96.3 894.8 L97.3 895.9 L98.3 895.4 L99.3 901.7 L100.3 905.0 L101.3 909.2 L102.3 915.8 L103.3 915.3 L104.3 923.7 L105.3 918.5 L106.3 919.7 L107.3 914.6 L108.3 906.2 L109.3 903.1 L110.3 903.3 L111.3 905.6 L112.3 906.8 L113.3 905.9 L114.3 911.5 L115.3 913.6 L116.3 910.6 L117.3 914.3 L118.3 915.3 L119.3 917.1 L120.3 911.8 L121.3 908.7 L122.3 908.3 L123.3 917.9 L124.3 919.5 L125.3 920.8 L126.3 916.1 L127.3 911.0 L128.3 911.1 L129.3 915.2 L130.3 915.6 L131.3 919.7 L132.3 924.9 L133.3 928.1 L134.3 931.9 L135.3 930.2 L136.3 918.1 L137.3 909.6 L138.3 903.0 L139.3 901.7 L140.3 904.4 L141.3 906.3 L142.3 905.9 L143.3 905.8 L144.3 908.7 L145.3 906.1 L146.3 900.3 L147.3 896.7 L148.3 891.2 L149.3 880.0 L150.3 886.4 L151.3 895.9 L152.3 899.4 L153.3 904.0 L154.3 909.1 L155.3 912.0 L156.3 914.1 L157.3 913.2 L158.3 916.8 L159.3 912.4 L160.3 906.6 L161.3 902.2 L162.3 901.9 L163.3 908.9 L164.3 910.4 L165.3 906.2 L166.3 904.9 L167.3 908.0 L168.3 907.8 L169.3 905.7 L170.3 901.0 L171.3 899.5 L172.3 893.4 L173.3 886.9 L174.3 885.0 L175.3 879.8 L176.3 878.3 L177.3 884.2 L178.3 883.1 L179.3 880.7 L180.3 885.3 L181.3 884.8 L182.3 885.1 L183.3 878.3 L184.3 865.5 L185.3 865.0 L186.3 862.4 L187.3 865.8 L188.3 860.1 L189.3 868.2 L190.3 870.2 L191.3 868.5 L192.3 866.0 L193.3 863.6 L194.3 864.4 L195.3 861.3 L196.3 863.6 L197.3 867.6 L198.3 870.3 L199.3 869.8 L200.3 867.2 L201.3 876.1 L202.3 882.8 L203.3 882.1 L204.3 891.0 L205.3 887.2 L206.3 877.8 L207.3 872.6 L208.3 874.5 L209.3 867.1 L210.3 864.4 L211.3 870.4 L212.3 874.4 L213.3 875.9 L214.3 881.1 L215.3 883.3 L216.3 890.8 L217.3 901.2 L218.3 903.2 L219.3 909.3 L220.3 919.6 L221.3 920.0 L222.3 922.6 L223.3 926.7 L224.3 931.5 L225.3 937.5 L226.3 940.7 L227.3 946.5 L228.3 944.9 L229.3 947.2 L230.3 945.3 L231.3 943.5 L232.3 936.5 L233.3 943.9 L234.3 934.0 L235.3 933.7 L236.3 931.1 L237.3 928.7 L238.3 929.5 L239.3 929.5 L240.3 924.8 L241.3 921.9 L242.3 918.5 L243.3 916.5 L244.3 916.1 L245.3 916.0 L246.3 920.9 L247.3 924.9 L248.3 927.0 L249.3 926.9 L250.3 935.0 L251.3 935.3 L252.3 939.7 L253.3 934.7 L254.3 927.3 L255.3 921.0 L256.3 912.2 L257.3 895.2 L258.3 897.9 L259.3 899.7 L260.3 903.1 L261.3 905.8 L262.3 910.0 L263.3 914.2 L264.3 915.8 L265.3 920.4 L266.3 917.7 L267.3 919.3 L268.3 927.1 L269.3 937.7 L270.3 940.8 L271.3 941.7 L272.3 931.4 L273.3 903.2 L274.3 874.1 L275.3 870.5 L276.3 870.8 L277.3 868.0 L278.3 868.8 L279.3 866.4 L280.3 870.0 L281.3 871.6 L282.3 868.6 L283.3 874.0 L284.3 870.6 L285.3 871.1 L286.3 870.7 L287.3 871.8 L288.3 875.7 L289.3 871.3 L290.3 875.9 L291.3 878.1 L292.3 878.9 L293.3 875.6 L294.3 876.5 L295.3 876.0 L296.3 877.8 L297.3 880.7 L298.3 873.6 L299.3 866.7 L300.3 855.2 L301.3 856.2 L302.3 847.6 L303.3 853.0 L304.3 849.7 L305.3 856.2 L306.3 856.4 L307.3 853.4 L308.3 860.9 L309.3 860.6 L310.3 862.7 L311.3 868.8 L312.3 870.2 L313.3 861.0 L314.3 858.7 L315.3 848.9 L316.3 854.2 L317.3 856.3 L318.3 859.4 L319.3 863.5 L320.3 858.4 L321.3 854.1 L322.3 857.1 L323.3 862.0 L324.3 866.9 L325.3 872.0 L326.3 867.4 L327.3 861.5 L328.3 857.8 L329.3 863.0 L330.3 867.8 L331.3 878.9 L332.3 881.1 L333.3 869.4 L334.3 868.9 L335.3 873.7 L336.3 874.9 L337.3 884.4 L338.3 889.0 L339.3 902.0 L340.3 900.9 L341.3 895.9 L342.3 890.4 L343.3 884.0 L344.3 890.1 L345.3 887.6 L346.3 893.4 L347.3 893.0 L348.3 892.5 L349.3 892.7 L350.3 894.8 L351.3 895.2 L352.3 896.1 L353.3 898.1 L354.3 898.9 L355.3 899.3 L356.3 904.2 L357.3 905.3 L358.3 901.2 L359.3 903.5 L360.3 904.3 L361.3 898.4 L362.3 894.4 L363.3 893.5 L364.3 875.1 L365.3 855.4 L366.3 857.5 L367.3 860.6 L368.3 878.9 L369.3 896.9 L370.3 908.5 L371.3 906.8 L372.3 911.6 L373.3 914.8 L374.3 914.4 L375.3 909.5 L376.3 912.6 L377.3 912.5 L378.3 918.3 L379.3 915.8 L380.3 915.9 L381.3 922.0 L382.3 924.8 L383.3 922.4 L384.3 924.9 L385.3 927.6 L386.3 924.4 L387.3 920.1 L388.3 911.6 L389.3 911.5 L390.3 922.6 L391.3 925.8 L392.3 921.2 L393.3 921.5 L394.3 927.9 L395.3 932.8 L396.3 941.2 L397.3 953.6 L398.3 955.9 L399.3 962.0 L400.3 960.4 L401.3 961.1 L402.3 955.5 L403.3 955.5 L404.3 950.0 L405.3 939.3 L406.3 936.9 L407.3 932.5 L408.3 931.4 L409.3 922.2 L410.3 920.6 L411.3 927.2 L412.3 931.8 L413.3 935.0 L414.3 937.5 L415.3 939.2 L416.3 929.3 L417.3 915.3 L418.3 913.3 L419.3 909.6 L420.3 905.4 L421.3 907.8 L422.3 900.1 L423.3 897.7 L424.3 893.1 L425.3 894.4 L426.3 895.3 L427.3 893.5 L428.3 891.7 L429.3 897.2 L430.3 900.8 L431.3 898.4 L432.3 897.1 L433.3 901.8 L434.3 892.4 L435.3 887.1 L436.3 887.9 L437.3 880.8 L438.3 880.0 L439.3 882.2 L440.3 875.6 L441.3 875.6 L442.3 877.8 L443.3 877.8 L444.3 876.0 L445.3 876.1 L446.3 871.4 L447.3 871.8 L448.3 872.7 L449.3 874.5 L450.3 875.3 L451.3 874.4 L452.3 871.3 L453.3 869.3 L454.3 867.6 L455.3 858.9 L456.3 861.3 L457.3 858.2 L458.3 852.9 L459.3 848.9 L460.3 845.1 L461.3 850.1 L462.3 854.2 L463.3 855.9 L464.3 857.7 L465.3 851.8 L466.3 851.9 L467.3 848.7 L468.3 853.1 L469.3 858.6 L470.3 858.9 L471.3 858.9 L472.3 864.3 L473.3 861.8 L474.3 863.0 L475.3 857.4 L476.3 861.4 L477.3 854.2 L478.3 850.0 L479.3 851.7 L480.3 854.3 L481.3 846.9 L482.3 843.6 L483.3 846.2 L484.3 839.8 L485.3 842.1 L486.3 844.9 L487.3 845.1 L488.3 846.9 L489.3 851.2 L490.3 858.4 L491.3 852.5 L492.3 858.5 L493.3 858.4 L494.3 862.4 L495.3 865.4 L496.3 866.5 L497.3 871.0 L498.3 871.0 L499.3 868.4 L500.3 866.4 L501.3 863.7 L502.3 860.2 L503.3 859.8 L504.3 854.9 L505.3 855.2 L506.3 857.0 L507.3 858.8 L508.3 867.5 L509.3 868.9 L510.3 870.2 L511.3 874.6 L512.3 884.7 L513.3 887.2 L514.3 885.6 L515.3 881.3 L516.3 875.6 L517.3 871.3 L518.3 872.3 L519.3 866.4 L520.3 872.5 L521.3 868.9 L522.3 870.5 L523.3 875.3 L524.3 876.1 L525.3 874.2 L526.3 879.3 L527.3 879.9 L528.3 880.3 L529.3 886.2 L530.3 886.9 L531.3 818.0 L532.3 817.2 L533.3 818.5 L534.3 826.3 L535.3 831.6 L536.3 829.4 L537.3 826.8 L538.3 833.1 L539.3 838.7 L540.3 835.7 L541.3 835.3 L542.3 834.6 L543.3 832.6 L544.3 830.1 L545.3 827.2 L546.3 824.3 L547.3 827.5 L548.3 823.7 L549.3 823.7 L550.3 819.8 L551.3 820.5 L552.3 819.8 L553.3 818.9 L554.3 818.8 L555.3 827.3 L556.3 824.0 L557.3 827.6 L558.3 829.4 L559.3 834.4 L560.3 839.5 L561.3 844.1 L562.3 852.9 L563.3 859.2 L564.3 856.5 L565.3 863.6 L566.3 876.4 L567.3 887.6 L568.3 887.9 L569.3 898.9 L570.3 903.0 L571.3 906.6 L572.3 905.4 L573.3 903.8 L574.3 904.3 L575.3 904.2 L576.3 903.9 L577.3 903.3 L578.3 906.0 L579.3 906.0 L580.3 903.6 L581.3 906.5" fill="none" stroke="#264478" stroke-width="4.2" stroke-linejoin="round" stroke-linecap="round"/>
<line x1="79" x2="112" y1="1031.8" y2="1031.8" stroke="#4472C4" stroke-width="3.3" stroke-linecap="round"/>
<text x="115.3" y="1036.8" font-size="14.2" textLength="69.07" lengthAdjust="spacingAndGlyphs">BTC-BRENT</text>
<line x1="193" x2="226" y1="1031.8" y2="1031.8" stroke="#ED7D31" stroke-width="3.3" stroke-linecap="round"/>
<text x="229.3" y="1036.8" font-size="14.2" textLength="69.07" lengthAdjust="spacingAndGlyphs">ETH-BRENT</text>
<line x1="306.2" x2="339.2" y1="1031.8" y2="1031.8" stroke="#A5A5A5" stroke-width="3.3" stroke-linecap="round"/>
<text x="342.5" y="1036.8" font-size="14.2" textLength="69.75" lengthAdjust="spacingAndGlyphs">BNB-BRENT</text>
<line x1="419.8" x2="452.8" y1="1031.8" y2="1031.8" stroke="#FFC000" stroke-width="3.3" stroke-linecap="round"/>
<text x="456.1" y="1036.8" font-size="14.2" textLength="69.75" lengthAdjust="spacingAndGlyphs">XRP-BRENT</text>
<line x1="79" x2="112" y1="1059.6" y2="1059.6" stroke="#5B9BD5" stroke-width="3.3" stroke-linecap="round"/>
<text x="115.3" y="1064.6" font-size="14.2" textLength="69.75" lengthAdjust="spacingAndGlyphs">ADA-BRENT</text>
<line x1="193" x2="226" y1="1059.6" y2="1059.6" stroke="#70AD47" stroke-width="3.3" stroke-linecap="round"/>
<text x="229.3" y="1064.6" font-size="14.2" textLength="66.84" lengthAdjust="spacingAndGlyphs">LTC-BRENT</text>
<line x1="306.2" x2="339.2" y1="1059.6" y2="1059.6" stroke="#264478" stroke-width="3.3" stroke-linecap="round"/>
<text x="342.5" y="1064.6" font-size="14.2" textLength="71.75" lengthAdjust="spacingAndGlyphs">XMR-BRENT</text>
<text x="899.7" y="753.7" font-size="17.8" text-anchor="middle" textLength="326" lengthAdjust="spacingAndGlyphs">Asset-backed cryptocurrencies vs BRENT</text>
<line x1="687" x2="1180.5" y1="780" y2="780" stroke="#d9d9d9" stroke-width="1.3"/>
<text x="673.5" y="784.7" font-size="14.2" textLength="56.86" lengthAdjust="spacingAndGlyphs" text-anchor="end">0.300000</text>
<line x1="687" x2="1180.5" y1="816.53" y2="816.53" stroke="#d9d9d9" stroke-width="1.3"/>
<text x="673.5" y="821.23" font-size="14.2" textLength="56.86" lengthAdjust="spacingAndGlyphs" text-anchor="end">0.200000</text>
<line x1="687" x2="1180.5" y1="853.07" y2="853.07" stroke="#d9d9d9" stroke-width="1.3"/>
<text x="673.5" y="857.77" font-size="14.2" textLength="56.86" lengthAdjust="spacingAndGlyphs" text-anchor="end">0.100000</text>
<line x1="687" x2="1180.5" y1="889.6" y2="889.6" stroke="#d9d9d9" stroke-width="1.3"/>
<text x="673.5" y="894.3" font-size="14.2" textLength="56.86" lengthAdjust="spacingAndGlyphs" text-anchor="end">0.000000</text>
<line x1="687" x2="1180.5" y1="926.13" y2="926.13" stroke="#d9d9d9" stroke-width="1.3"/>
<text x="673.5" y="930.83" font-size="14.2" textLength="61.4" lengthAdjust="spacingAndGlyphs" text-anchor="end">-0.100000</text>
<line x1="687" x2="1180.5" y1="962.67" y2="962.67" stroke="#d9d9d9" stroke-width="1.3"/>
<text x="673.5" y="967.37" font-size="14.2" textLength="61.4" lengthAdjust="spacingAndGlyphs" text-anchor="end">-0.200000</text>
<line x1="687" x2="1180.5" y1="999.2" y2="999.2" stroke="#d9d9d9" stroke-width="1.3"/>
<text x="673.5" y="1003.9" font-size="14.2" textLength="61.4" lengthAdjust="spacingAndGlyphs" text-anchor="end">-0.300000</text>
<line x1="687" x2="687" y1="889.6" y2="894.6" stroke="#d9d9d9" stroke-width="1.3"/>
<text x="687" y="913.4" font-size="14.2" textLength="52.76" lengthAdjust="spacingAndGlyphs" text-anchor="middle">6-Apr-18</text>
<line x1="783.5" x2="783.5" y1="889.6" y2="894.6" stroke="#d9d9d9" stroke-width="1.3"/>
<text x="783.5" y="913.4" font-size="14.2" textLength="52.76" lengthAdjust="spacingAndGlyphs" text-anchor="middle">6-Apr-19</text>
<line x1="880" x2="880" y1="889.6" y2="894.6" stroke="#d9d9d9" stroke-width="1.3"/>
<text x="880" y="913.4" font-size="14.2" textLength="52.76" lengthAdjust="spacingAndGlyphs" text-anchor="middle">6-Apr-20</text>
<line x1="976.5" x2="976.5" y1="889.6" y2="894.6" stroke="#d9d9d9" stroke-width="1.3"/>
<text x="976.5" y="913.4" font-size="14.2" textLength="52.76" lengthAdjust="spacingAndGlyphs" text-anchor="middle">6-Apr-21</text>
<line x1="1073" x2="1073" y1="889.6" y2="894.6" stroke="#d9d9d9" stroke-width="1.3"/>
<text x="1073" y="913.4" font-size="14.2" textLength="52.76" lengthAdjust="spacingAndGlyphs" text-anchor="middle">6-Apr-22</text>
<line x1="1169.5" x2="1169.5" y1="889.6" y2="894.6" stroke="#d9d9d9" stroke-width="1.3"/>
<text x="1169.5" y="913.4" font-size="14.2" textLength="52.76" lengthAdjust="spacingAndGlyphs" text-anchor="middle">6-Apr-23</text>
<path d="M687.3 879.1 L688.3 879.9 L689.3 878.4 L690.3 877.4 L691.3 873.3 L692.3 880.0 L693.3 881.9 L694.3 882.8 L695.3 884.1 L696.3 886.2 L697.3 891.7 L698.3 891.6 L699.3 889.0 L700.3 885.5 L701.3 884.4 L702.3 883.7 L703.3 873.5 L704.3 874.3 L705.3 869.8 L706.3 869.8 L707.3 876.4 L708.3 871.0 L709.3 873.0 L710.3 872.1 L711.3 876.2 L712.3 872.3 L713.3 872.8 L714.3 874.8 L715.3 874.6 L716.3 880.5 L717.3 876.6 L718.3 876.8 L719.3 880.4 L720.3 879.7 L721.3 883.0 L722.3 885.6 L723.3 891.5 L724.3 896.6 L725.3 896.1 L726.3 899.4 L727.3 901.0 L728.3 904.9 L729.3 912.9 L730.3 911.8 L731.3 909.7 L732.3 907.0 L733.3 903.8 L734.3 906.3 L735.3 906.8 L736.3 900.6 L737.3 904.2 L738.3 903.4 L739.3 899.2 L740.3 898.5 L741.3 894.4 L742.3 895.2 L743.3 891.3 L744.3 887.5 L745.3 881.6 L746.3 878.1 L747.3 879.9 L748.3 874.5 L749.3 875.1 L750.3 868.9 L751.3 872.1 L752.3 875.2 L753.3 873.1 L754.3 871.9 L755.3 868.7 L756.3 869.4 L757.3 870.3 L758.3 869.9 L759.3 871.3 L760.3 871.7 L761.3 872.9 L762.3 878.0 L763.3 872.0 L764.3 873.9 L765.3 871.7 L766.3 877.4 L767.3 875.5 L768.3 881.6 L769.3 883.1 L770.3 891.9 L771.3 895.9 L772.3 897.9 L773.3 901.3 L774.3 901.8 L775.3 899.9 L776.3 901.0 L777.3 896.6 L778.3 894.5 L779.3 893.3 L780.3 893.8 L781.3 891.0 L782.3 898.3 L783.3 898.8 L784.3 897.3 L785.3 894.4 L786.3 891.9 L787.3 891.7 L788.3 894.7 L789.3 895.6 L790.3 893.2 L791.3 901.7 L792.3 901.6 L793.3 902.8 L794.3 908.3 L795.3 908.8 L796.3 906.8 L797.3 909.2 L798.3 906.1 L799.3 901.8 L800.3 903.7 L801.3 903.0 L802.3 903.4 L803.3 899.8 L804.3 901.1 L805.3 903.9 L806.3 908.2 L807.3 910.5 L808.3 910.2 L809.3 911.6 L810.3 909.5 L811.3 910.8 L812.3 909.7 L813.3 909.6 L814.3 905.9 L815.3 909.3 L816.3 913.5 L817.3 915.1 L818.3 917.7 L819.3 920.2 L820.3 921.5 L821.3 921.3 L822.3 926.3 L823.3 928.1 L824.3 933.4 L825.3 932.2 L826.3 936.9 L827.3 936.2 L828.3 933.6 L829.3 938.5 L830.3 937.1 L831.3 932.7 L832.3 926.7 L833.3 920.1 L834.3 916.5 L835.3 914.4 L836.3 910.4 L837.3 906.6 L838.3 905.3 L839.3 903.0 L840.3 908.0 L841.3 907.6 L842.3 906.0 L843.3 913.5 L844.3 913.8 L845.3 916.9 L846.3 915.0 L847.3 918.5 L848.3 922.0 L849.3 926.6 L850.3 929.4 L851.3 924.7 L852.3 926.2 L853.3 925.6 L854.3 927.5 L855.3 922.1 L856.3 924.1 L857.3 918.4 L858.3 918.7 L859.3 925.7 L860.3 920.8 L861.3 926.4 L862.3 928.6 L863.3 930.8 L864.3 922.2 L865.3 914.8 L866.3 906.5 L867.3 899.7 L868.3 894.1 L869.3 892.0 L870.3 892.0 L871.3 890.3 L872.3 891.6 L873.3 889.2 L874.3 892.7 L875.3 899.1 L876.3 896.4 L877.3 897.3 L878.3 902.7 L879.3 904.2 L880.3 903.4 L881.3 901.1 L882.3 901.4 L883.3 904.5 L884.3 906.0 L885.3 905.8 L886.3 909.9 L887.3 907.6 L888.3 907.0 L889.3 913.1 L890.3 909.6 L891.3 917.5 L892.3 919.3 L893.3 915.3 L894.3 913.8 L895.3 912.2 L896.3 916.4 L897.3 912.2 L898.3 912.0 L899.3 903.4 L900.3 903.9 L901.3 899.1 L902.3 897.9 L903.3 897.6 L904.3 896.6 L905.3 896.0 L906.3 896.4 L907.3 892.1 L908.3 893.3 L909.3 889.8 L910.3 890.6 L911.3 886.6 L912.3 886.4 L913.3 888.3 L914.3 885.3 L915.3 877.7 L916.3 873.4 L917.3 872.6 L918.3 877.4 L919.3 870.7 L920.3 872.4 L921.3 872.4 L922.3 870.5 L923.3 867.1 L924.3 866.0 L925.3 866.6 L926.3 871.0 L927.3 868.6 L928.3 869.5 L929.3 871.4 L930.3 879.5 L931.3 875.1 L932.3 876.3 L933.3 878.0 L934.3 879.7 L935.3 888.1 L936.3 890.1 L937.3 887.3 L938.3 893.8 L939.3 893.7 L940.3 904.8 L941.3 905.4 L942.3 910.5 L943.3 911.9 L944.3 919.0 L945.3 912.6 L946.3 912.2 L947.3 918.8 L948.3 921.8 L949.3 917.5 L950.3 911.2 L951.3 913.8 L952.3 909.1 L953.3 911.5 L954.3 904.5 L955.3 902.3 L956.3 903.5 L957.3 893.7 L958.3 894.7 L959.3 896.1 L960.3 894.5 L961.3 894.5 L962.3 892.9 L963.3 889.5 L964.3 890.1 L965.3 889.6 L966.3 885.9 L967.3 894.3 L968.3 894.6 L969.3 892.4 L970.3 894.0 L971.3 892.3 L972.3 893.7 L973.3 894.6 L974.3 896.9 L975.3 891.6 L976.3 891.7 L977.3 892.5 L978.3 894.3 L979.3 893.0 L980.3 896.3 L981.3 896.5 L982.3 896.9 L983.3 893.0 L984.3 902.3 L985.3 901.5 L986.3 912.0 L987.3 916.2 L988.3 921.1 L989.3 924.5 L990.3 927.2 L991.3 929.9 L992.3 934.2 L993.3 934.4 L994.3 934.8 L995.3 941.2 L996.3 944.5 L997.3 955.1 L998.3 959.3 L999.3 956.1 L1000.3 954.7 L1001.3 948.6 L1002.3 946.6 L1003.3 946.6 L1004.3 939.7 L1005.3 938.4 L1006.3 930.5 L1007.3 929.8 L1008.3 929.6 L1009.3 924.4 L1010.3 920.8 L1011.3 919.6 L1012.3 917.6 L1013.3 920.3 L1014.3 915.9 L1015.3 913.7 L1016.3 916.4 L1017.3 914.0 L1018.3 909.0 L1019.3 908.3 L1020.3 910.9 L1021.3 911.1 L1022.3 905.9 L1023.3 905.2 L1024.3 902.7 L1025.3 900.1 L1026.3 901.5 L1027.3 899.6 L1028.3 901.3 L1029.3 900.6 L1030.3 901.4 L1031.3 899.4 L1032.3 905.9 L1033.3 906.2 L1034.3 905.1 L1035.3 911.2 L1036.3 906.2 L1037.3 908.1 L1038.3 912.4 L1039.3 909.8 L1040.3 908.1 L1041.3 904.9 L1042.3 899.8 L1043.3 900.7 L1044.3 899.5 L1045.3 893.9 L1046.3 890.9 L1047.3 890.5 L1048.3 885.6 L1049.3 884.4 L1050.3 885.8 L1051.3 883.9 L1052.3 888.9 L1053.3 888.4 L1054.3 884.8 L1055.3 887.6 L1056.3 890.4 L1057.3 895.3 L1058.3 891.4 L1059.3 892.5 L1060.3 898.7 L1061.3 894.7 L1062.3 897.8 L1063.3 899.6 L1064.3 898.4 L1065.3 897.5 L1066.3 906.2 L1067.3 904.5 L1068.3 904.9 L1069.3 905.2 L1070.3 906.7 L1071.3 905.7 L1072.3 903.6 L1073.3 904.1 L1074.3 906.8 L1075.3 907.2 L1076.3 909.5 L1077.3 909.8 L1078.3 913.7 L1079.3 909.7 L1080.3 908.7 L1081.3 900.8 L1082.3 907.5 L1083.3 908.0 L1084.3 906.2 L1085.3 911.0 L1086.3 912.1 L1087.3 913.2 L1088.3 916.3 L1089.3 916.9 L1090.3 918.2 L1091.3 917.0 L1092.3 917.2 L1093.3 915.8 L1094.3 919.2 L1095.3 917.5 L1096.3 916.6 L1097.3 914.3 L1098.3 906.5 L1099.3 909.4 L1100.3 904.1 L1101.3 901.3 L1102.3 901.5 L1103.3 896.9 L1104.3 896.7 L1105.3 891.9 L1106.3 890.4 L1107.3 889.1 L1108.3 885.6 L1109.3 881.7 L1110.3 877.5 L1111.3 872.5 L1112.3 867.6 L1113.3 862.4 L1114.3 860.1 L1115.3 859.5 L1116.3 858.9 L1117.3 854.0 L1118.3 855.6 L1119.3 856.9 L1120.3 857.6 L1121.3 864.4 L1122.3 860.8 L1123.3 867.8 L1124.3 871.5 L1125.3 870.2 L1126.3 875.5 L1127.3 875.0 L1128.3 872.6 L1129.3 858.5 L1130.3 840.6 L1131.3 827.7 L1132.3 823.8 L1133.3 824.1 L1134.3 828.6 L1135.3 826.4 L1136.3 828.6 L1137.3 826.9 L1138.3 829.9 L1139.3 835.6 L1140.3 836.1 L1141.3 836.0 L1142.3 840.3 L1143.3 838.3 L1144.3 841.4 L1145.3 839.9 L1146.3 843.3 L1147.3 841.3 L1148.3 842.4 L1149.3 840.4 L1150.3 839.5 L1151.3 836.6 L1152.3 842.3 L1153.3 842.8 L1154.3 844.4 L1155.3 845.9 L1156.3 845.2 L1157.3 844.1 L1158.3 838.7 L1159.3 839.4 L1160.3 838.0 L1161.3 833.7 L1162.3 838.1 L1163.3 842.9 L1164.3 840.0 L1165.3 841.3 L1166.3 845.6 L1167.3 846.1 L1168.3 848.1 L1169.3 856.4 L1170.3 850.6 L1171.3 854.3 L1172.3 847.9 L1173.3 852.2 L1174.3 851.7 L1175.3 850.6 L1176.3 848.3 L1177.3 850.4 L1178.3 844.4 L1179.3 843.1 L1180.3 843.0" fill="none" stroke="#4472C4" stroke-width="4.2" stroke-linejoin="round" stroke-linecap="round"/>
<path d="M687.3 898.5 L688.3 904.9 L689.3 908.7 L690.3 909.8 L691.3 905.6 L692.3 906.3 L693.3 906.3 L694.3 906.0 L695.3 912.7 L696.3 911.2 L697.3 907.3 L698.3 907.7 L699.3 905.7 L700.3 903.9 L701.3 904.4 L702.3 899.9 L703.3 903.2 L704.3 900.4 L705.3 903.4 L706.3 905.1 L707.3 910.9 L708.3 924.8 L709.3 928.9 L710.3 933.0 L711.3 930.7 L712.3 937.2 L713.3 939.5 L714.3 936.1 L715.3 939.0 L716.3 940.0 L717.3 931.8 L718.3 935.0 L719.3 917.5 L720.3 910.3 L721.3 901.8 L722.3 892.3 L723.3 891.3 L724.3 883.6 L725.3 882.8 L726.3 880.7 L727.3 881.1 L728.3 876.4 L729.3 881.3 L730.3 882.2 L731.3 883.2 L732.3 886.7 L733.3 888.5 L734.3 888.6 L735.3 892.8 L736.3 892.0 L737.3 896.7 L738.3 900.2 L739.3 896.2 L740.3 895.9 L741.3 894.6 L742.3 890.0 L743.3 895.3 L744.3 890.3 L745.3 892.9 L746.3 888.5 L747.3 901.3 L748.3 902.1 L749.3 903.2 L750.3 907.6 L751.3 912.9 L752.3 908.5 L753.3 915.6 L754.3 912.1 L755.3 918.6 L756.3 918.7 L757.3 921.9 L758.3 922.5 L759.3 919.9 L760.3 921.9 L761.3 925.6 L762.3 920.6 L763.3 917.2 L764.3 911.7 L765.3 912.9 L766.3 915.0 L767.3 909.3 L768.3 904.9 L769.3 898.6 L770.3 897.6 L771.3 901.0 L772.3 898.4 L773.3 899.8 L774.3 899.1 L775.3 901.5 L776.3 905.5 L777.3 906.3 L778.3 907.2 L779.3 910.4 L780.3 910.7 L781.3 903.8 L782.3 907.0 L783.3 906.9 L784.3 905.2 L785.3 905.9 L786.3 906.8 L787.3 910.5 L788.3 916.0 L789.3 922.7 L790.3 924.8 L791.3 926.8 L792.3 927.3 L793.3 932.5 L794.3 928.6 L795.3 930.4 L796.3 923.7 L797.3 918.4 L798.3 918.6 L799.3 915.0 L800.3 907.2 L801.3 901.1 L802.3 903.8 L803.3 897.9 L804.3 897.5 L805.3 891.1 L806.3 889.5 L807.3 886.7 L808.3 881.3 L809.3 876.7 L810.3 877.6 L811.3 872.2 L812.3 873.1 L813.3 869.4 L814.3 868.6 L815.3 870.8 L816.3 870.2 L817.3 870.6 L818.3 870.2 L819.3 868.8 L820.3 865.4 L821.3 867.3 L822.3 865.2 L823.3 866.5 L824.3 860.7 L825.3 865.7 L826.3 859.9 L827.3 860.1 L828.3 857.9 L829.3 851.8 L830.3 853.2 L831.3 858.1 L832.3 860.3 L833.3 858.2 L834.3 858.5 L835.3 854.0 L836.3 846.2 L837.3 846.9 L838.3 841.5 L839.3 835.4 L840.3 837.7 L841.3 838.4 L842.3 838.4 L843.3 837.9 L844.3 838.7 L845.3 842.0 L846.3 837.9 L847.3 835.5 L848.3 834.9 L849.3 838.9 L850.3 840.1 L851.3 834.2 L852.3 834.8 L853.3 837.7 L854.3 837.4 L855.3 832.9 L856.3 833.2 L857.3 834.3 L858.3 826.6 L859.3 824.2 L860.3 824.2 L861.3 828.5 L862.3 830.7 L863.3 831.4 L864.3 834.5 L865.3 837.4 L866.3 834.0 L867.3 837.6 L868.3 843.4 L869.3 854.2 L870.3 854.0 L871.3 851.8 L872.3 856.8 L873.3 856.7 L874.3 862.9 L875.3 873.4 L876.3 882.6 L877.3 886.6 L878.3 885.0 L879.3 885.6 L880.3 883.7 L881.3 884.3 L882.3 884.8 L883.3 883.4 L884.3 882.8 L885.3 880.4 L886.3 885.2 L887.3 885.4 L888.3 886.2 L889.3 890.9 L890.3 888.4 L891.3 888.1 L892.3 889.8 L893.3 886.0 L894.3 888.6 L895.3 889.1 L896.3 890.6 L897.3 890.6 L898.3 891.9 L899.3 890.0 L900.3 888.2 L901.3 887.8 L902.3 883.2 L903.3 882.8 L904.3 883.5 L905.3 886.1 L906.3 883.8 L907.3 880.8 L908.3 885.5 L909.3 886.1 L910.3 887.0 L911.3 891.5 L912.3 892.2 L913.3 897.2 L914.3 901.3 L915.3 903.8 L916.3 911.3 L917.3 916.8 L918.3 923.6 L919.3 922.5 L920.3 927.7 L921.3 929.8 L922.3 936.3 L923.3 937.4 L924.3 937.9 L925.3 935.7 L926.3 927.5 L927.3 927.9 L928.3 922.6 L929.3 916.8 L930.3 913.1 L931.3 904.9 L932.3 902.5 L933.3 901.5 L934.3 896.6 L935.3 898.4 L936.3 895.7 L937.3 894.1 L938.3 893.0 L939.3 894.8 L940.3 896.5 L941.3 901.6 L942.3 906.0 L943.3 904.3 L944.3 904.0 L945.3 907.1 L946.3 902.7 L947.3 903.2 L948.3 901.6 L949.3 908.8 L950.3 920.3 L951.3 932.2 L952.3 938.3 L953.3 948.2 L954.3 954.2 L955.3 956.2 L956.3 962.1 L957.3 957.1 L958.3 957.9 L959.3 952.0 L960.3 944.8 L961.3 949.4 L962.3 944.5 L963.3 941.9 L964.3 940.0 L965.3 932.2 L966.3 933.3 L967.3 927.1 L968.3 928.8 L969.3 926.0 L970.3 923.4 L971.3 921.9 L972.3 922.2 L973.3 923.7 L974.3 922.0 L975.3 930.5 L976.3 929.7 L977.3 928.6 L978.3 925.8 L979.3 928.3 L980.3 931.7 L981.3 934.0 L982.3 929.8 L983.3 928.3 L984.3 927.1 L985.3 921.6 L986.3 917.8 L987.3 908.8 L988.3 904.9 L989.3 895.4 L990.3 896.6 L991.3 898.3 L992.3 890.5 L993.3 891.6 L994.3 894.3 L995.3 889.9 L996.3 887.4 L997.3 885.2 L998.3 880.7 L999.3 876.7 L1000.3 875.3 L1001.3 868.3 L1002.3 862.2 L1003.3 865.8 L1004.3 866.9 L1005.3 874.1 L1006.3 873.6 L1007.3 875.2 L1008.3 877.1 L1009.3 873.0 L1010.3 875.5 L1011.3 873.1 L1012.3 872.9 L1013.3 868.7 L1014.3 867.9 L1015.3 864.4 L1016.3 867.3 L1017.3 868.3 L1018.3 875.4 L1019.3 871.9 L1020.3 869.6 L1021.3 869.2 L1022.3 868.8 L1023.3 869.3 L1024.3 873.6 L1025.3 875.8 L1026.3 875.7 L1027.3 884.9 L1028.3 892.7 L1029.3 896.7 L1030.3 903.2 L1031.3 903.4 L1032.3 900.1 L1033.3 908.5 L1034.3 909.4 L1035.3 912.5 L1036.3 921.3 L1037.3 935.7 L1038.3 947.2 L1039.3 944.5 L1040.3 946.5 L1041.3 942.1 L1042.3 941.3 L1043.3 944.1 L1044.3 940.2 L1045.3 938.6 L1046.3 935.4 L1047.3 938.4 L1048.3 941.8 L1049.3 936.5 L1050.3 932.9 L1051.3 930.9 L1052.3 925.5 L1053.3 921.1 L1054.3 921.6 L1055.3 921.9 L1056.3 924.7 L1057.3 922.3 L1058.3 927.9 L1059.3 933.0 L1060.3 927.6 L1061.3 929.8 L1062.3 930.4 L1063.3 927.5 L1064.3 927.5 L1065.3 924.8 L1066.3 921.3 L1067.3 917.3 L1068.3 909.9 L1069.3 912.0 L1070.3 906.4 L1071.3 904.2 L1072.3 896.5 L1073.3 896.7 L1074.3 895.3 L1075.3 891.4 L1076.3 891.7 L1077.3 889.5 L1078.3 887.7 L1079.3 884.4 L1080.3 880.7 L1081.3 882.0 L1082.3 881.7 L1083.3 881.9 L1084.3 885.1 L1085.3 879.4 L1086.3 884.0 L1087.3 882.3 L1088.3 882.7 L1089.3 878.6 L1090.3 877.2 L1091.3 880.7 L1092.3 871.5 L1093.3 875.8 L1094.3 873.1 L1095.3 871.1 L1096.3 867.9 L1097.3 862.0 L1098.3 861.3 L1099.3 861.4 L1100.3 857.3 L1101.3 857.5 L1102.3 852.2 L1103.3 851.7 L1104.3 849.0 L1105.3 853.3 L1106.3 856.1 L1107.3 860.8 L1108.3 863.0 L1109.3 870.3 L1110.3 865.6 L1111.3 864.7 L1112.3 867.6 L1113.3 867.9 L1114.3 867.3 L1115.3 866.8 L1116.3 868.5 L1117.3 870.4 L1118.3 869.5 L1119.3 871.4 L1120.3 873.0 L1121.3 878.5 L1122.3 873.2 L1123.3 877.5 L1124.3 875.1 L1125.3 874.2 L1126.3 876.0 L1127.3 872.8 L1128.3 865.3 L1129.3 860.6 L1130.3 854.7 L1131.3 854.5 L1132.3 852.1 L1133.3 848.5 L1134.3 839.7 L1135.3 836.8 L1136.3 840.4 L1137.3 835.5 L1138.3 834.0 L1139.3 838.1 L1140.3 834.6 L1141.3 836.1 L1142.3 836.6 L1143.3 839.6 L1144.3 840.3 L1145.3 842.3 L1146.3 844.3 L1147.3 847.0 L1148.3 851.7 L1149.3 850.0 L1150.3 853.4 L1151.3 856.1 L1152.3 858.1 L1153.3 861.2 L1154.3 862.9 L1155.3 863.6 L1156.3 865.9 L1157.3 869.3 L1158.3 869.9 L1159.3 871.5 L1160.3 871.7 L1161.3 868.5 L1162.3 868.3 L1163.3 868.7 L1164.3 869.1 L1165.3 872.3 L1166.3 871.1 L1167.3 875.4 L1168.3 873.8 L1169.3 873.4 L1170.3 877.2 L1171.3 875.9 L1172.3 878.6 L1173.3 877.1 L1174.3 881.5 L1175.3 882.3 L1176.3 881.6 L1177.3 886.4 L1178.3 887.5 L1179.3 888.9 L1180.3 887.5" fill="none" stroke="#ED7D31" stroke-width="4.2" stroke-linejoin="round" stroke-linecap="round"/>
<path d="M687.3 863.7 L688.3 859.0 L689.3 854.6 L690.3 848.6 L691.3 852.4 L692.3 851.4 L693.3 854.3 L694.3 854.1 L695.3 858.1 L696.3 857.4 L697.3 859.4 L698.3 861.8 L699.3 861.1 L700.3 862.2 L701.3 864.6 L702.3 867.7 L703.3 871.4 L704.3 872.0 L705.3 870.3 L706.3 870.4 L707.3 867.9 L708.3 863.9 L709.3 867.3 L710.3 860.1 L711.3 864.7 L712.3 855.6 L713.3 852.6 L714.3 854.7 L715.3 863.5 L716.3 865.5 L717.3 873.4 L718.3 875.5 L719.3 873.6 L720.3 875.6 L721.3 876.3 L722.3 874.8 L723.3 871.4 L724.3 868.7 L725.3 872.2 L726.3 873.1 L727.3 875.9 L728.3 873.3 L729.3 869.1 L730.3 865.6 L731.3 867.1 L732.3 870.1 L733.3 872.2 L734.3 870.9 L735.3 867.9 L736.3 864.1 L737.3 856.7 L738.3 853.2 L739.3 841.9 L740.3 838.3 L741.3 833.0 L742.3 825.3 L743.3 827.8 L744.3 823.8 L745.3 814.7 L746.3 801.7 L747.3 794.0 L748.3 802.2 L749.3 803.9 L750.3 803.8 L751.3 807.3 L752.3 809.1 L753.3 816.7 L754.3 814.6 L755.3 816.2 L756.3 819.5 L757.3 822.8 L758.3 818.5 L759.3 815.7 L760.3 813.0 L761.3 814.3 L762.3 814.0 L763.3 818.1 L764.3 818.2 L765.3 815.4 L766.3 815.0 L767.3 813.7 L768.3 809.7 L769.3 807.8 L770.3 809.6 L771.3 812.5 L772.3 814.5 L773.3 816.5 L774.3 816.2 L775.3 816.9 L776.3 816.7 L777.3 816.5 L778.3 814.0 L779.3 820.5 L780.3 824.3 L781.3 820.5 L782.3 821.8 L783.3 818.7 L784.3 817.3 L785.3 816.5 L786.3 821.4 L787.3 823.1 L788.3 820.0 L789.3 825.7 L790.3 830.2 L791.3 827.5 L792.3 834.0 L793.3 831.6 L794.3 834.2 L795.3 833.7 L796.3 836.1 L797.3 838.6 L798.3 845.3 L799.3 845.7 L800.3 851.3 L801.3 858.5 L802.3 863.0 L803.3 871.0 L804.3 871.9 L805.3 875.7 L806.3 881.5 L807.3 883.8 L808.3 890.4 L809.3 897.3 L810.3 901.6 L811.3 905.7 L812.3 909.0 L813.3 916.0 L814.3 916.8 L815.3 913.2 L816.3 921.0 L817.3 921.9 L818.3 916.4 L819.3 913.2 L820.3 905.7 L821.3 909.0 L822.3 906.0 L823.3 903.1 L824.3 903.2 L825.3 899.0 L826.3 893.8 L827.3 893.2 L828.3 893.0 L829.3 890.2 L830.3 890.6 L831.3 889.9 L832.3 888.6 L833.3 895.8 L834.3 896.2 L835.3 897.5 L836.3 894.4 L837.3 897.1 L838.3 898.9 L839.3 894.3 L840.3 891.9 L841.3 900.0 L842.3 897.4 L843.3 899.4 L844.3 899.5 L845.3 903.7 L846.3 903.0 L847.3 902.2 L848.3 904.0 L849.3 906.3 L850.3 910.7 L851.3 906.1 L852.3 904.0 L853.3 905.3 L854.3 907.9 L855.3 907.2 L856.3 911.1 L857.3 915.2 L858.3 915.6 L859.3 920.5 L860.3 921.0 L861.3 914.8 L862.3 915.9 L863.3 912.1 L864.3 905.8 L865.3 896.7 L866.3 896.3 L867.3 883.7 L868.3 878.7 L869.3 872.5 L870.3 859.4 L871.3 855.2 L872.3 849.7 L873.3 847.0 L874.3 843.9 L875.3 841.8 L876.3 843.5 L877.3 836.7 L878.3 837.5 L879.3 832.6 L880.3 834.3 L881.3 835.1 L882.3 830.4 L883.3 831.2 L884.3 833.5 L885.3 826.0 L886.3 827.6 L887.3 827.9 L888.3 833.5 L889.3 831.2 L890.3 831.2 L891.3 836.0 L892.3 834.5 L893.3 834.6 L894.3 836.9 L895.3 833.6 L896.3 838.6 L897.3 839.7 L898.3 837.9 L899.3 837.7 L900.3 840.7 L901.3 845.8 L902.3 847.5 L903.3 845.3 L904.3 847.0 L905.3 848.3 L906.3 851.2 L907.3 851.2 L908.3 850.9 L909.3 855.8 L910.3 858.8 L911.3 854.8 L912.3 861.9 L913.3 860.1 L914.3 860.3 L915.3 862.0 L916.3 864.8 L917.3 862.5 L918.3 864.8 L919.3 871.6 L920.3 868.1 L921.3 865.8 L922.3 871.0 L923.3 879.4 L924.3 870.7 L925.3 872.1 L926.3 871.4 L927.3 870.1 L928.3 869.1 L929.3 862.3 L930.3 872.8 L931.3 871.9 L932.3 880.2 L933.3 882.4 L934.3 879.1 L935.3 878.5 L936.3 881.3 L937.3 881.2 L938.3 879.9 L939.3 875.2 L940.3 873.8 L941.3 870.8 L942.3 875.3 L943.3 875.6 L944.3 874.6 L945.3 871.5 L946.3 870.6 L947.3 869.7 L948.3 871.1 L949.3 874.2 L950.3 871.3 L951.3 869.5 L952.3 869.2 L953.3 867.3 L954.3 867.8 L955.3 865.4 L956.3 870.2 L957.3 867.8 L958.3 867.1 L959.3 869.6 L960.3 868.2 L961.3 868.6 L962.3 864.0 L963.3 862.4 L964.3 866.5 L965.3 864.0 L966.3 863.7 L967.3 867.5 L968.3 867.4 L969.3 866.9 L970.3 864.9 L971.3 865.9 L972.3 867.8 L973.3 870.8 L974.3 873.7 L975.3 874.3 L976.3 877.6 L977.3 876.7 L978.3 878.7 L979.3 878.3 L980.3 881.7 L981.3 876.4 L982.3 877.9 L983.3 871.7 L984.3 873.9 L985.3 875.5 L986.3 870.6 L987.3 872.8 L988.3 868.3 L989.3 865.2 L990.3 868.7 L991.3 871.1 L992.3 872.2 L993.3 874.5 L994.3 875.0 L995.3 878.6 L996.3 879.9 L997.3 879.2 L998.3 878.0 L999.3 881.7 L1000.3 885.0 L1001.3 885.5 L1002.3 885.9 L1003.3 879.3 L1004.3 883.2 L1005.3 880.7 L1006.3 878.4 L1007.3 879.7 L1008.3 871.3 L1009.3 875.8 L1010.3 873.3 L1011.3 868.3 L1012.3 868.3 L1013.3 869.7 L1014.3 871.4 L1015.3 864.0 L1016.3 860.5 L1017.3 862.7 L1018.3 857.4 L1019.3 856.2 L1020.3 855.4 L1021.3 855.5 L1022.3 853.2 L1023.3 855.2 L1024.3 856.2 L1025.3 857.9 L1026.3 856.1 L1027.3 862.5 L1028.3 864.1 L1029.3 865.4 L1030.3 867.6 L1031.3 867.3 L1032.3 872.9 L1033.3 870.1 L1034.3 870.0 L1035.3 871.9 L1036.3 874.9 L1037.3 876.5 L1038.3 878.1 L1039.3 877.0 L1040.3 876.2 L1041.3 878.4 L1042.3 881.0 L1043.3 878.7 L1044.3 884.6 L1045.3 886.5 L1046.3 885.9 L1047.3 882.7 L1048.3 884.5 L1049.3 887.3 L1050.3 890.9 L1051.3 891.6 L1052.3 890.2 L1053.3 896.4 L1054.3 893.0 L1055.3 893.8 L1056.3 890.6 L1057.3 886.3 L1058.3 887.4 L1059.3 889.5 L1060.3 885.2 L1061.3 885.6 L1062.3 884.6 L1063.3 876.3 L1064.3 877.1 L1065.3 869.3 L1066.3 869.8 L1067.3 866.8 L1068.3 865.5 L1069.3 861.2 L1070.3 858.6 L1071.3 856.0 L1072.3 856.0 L1073.3 850.3 L1074.3 847.6 L1075.3 845.9 L1076.3 846.4 L1077.3 841.4 L1078.3 836.5 L1079.3 837.4 L1080.3 840.9 L1081.3 845.3 L1082.3 846.7 L1083.3 848.6 L1084.3 853.9 L1085.3 855.1 L1086.3 854.4 L1087.3 862.1 L1088.3 863.8 L1089.3 866.2 L1090.3 871.7 L1091.3 877.2 L1092.3 876.9 L1093.3 880.0 L1094.3 867.8 L1095.3 875.3 L1096.3 876.1 L1097.3 871.5 L1098.3 869.6 L1099.3 872.1 L1100.3 875.3 L1101.3 876.9 L1102.3 876.4 L1103.3 879.9 L1104.3 885.7 L1105.3 887.8 L1106.3 888.4 L1107.3 889.8 L1108.3 890.9 L1109.3 888.8 L1110.3 889.5 L1111.3 896.5 L1112.3 897.6 L1113.3 905.6 L1114.3 910.3 L1115.3 910.0 L1116.3 907.6 L1117.3 901.2 L1118.3 896.6 L1119.3 898.7 L1120.3 894.1 L1121.3 894.7 L1122.3 897.0 L1123.3 903.4 L1124.3 903.2 L1125.3 904.5 L1126.3 900.1 L1127.3 902.4 L1128.3 896.3 L1129.3 891.8 L1130.3 884.0 L1131.3 881.4 L1132.3 878.7 L1133.3 876.7 L1134.3 875.0 L1135.3 874.3 L1136.3 875.0 L1137.3 870.7 L1138.3 869.2 L1139.3 874.2 L1140.3 876.9 L1141.3 883.1 L1142.3 884.1 L1143.3 885.2 L1144.3 887.5 L1145.3 894.3 L1146.3 893.2 L1147.3 897.3 L1148.3 893.9 L1149.3 891.8 L1150.3 890.5 L1151.3 888.9 L1152.3 892.2 L1153.3 887.9 L1154.3 894.7 L1155.3 896.0 L1156.3 895.6 L1157.3 893.1 L1158.3 897.1 L1159.3 902.5 L1160.3 901.5 L1161.3 903.8 L1162.3 908.4 L1163.3 911.2 L1164.3 912.9 L1165.3 916.1 L1166.3 912.9 L1167.3 918.3 L1168.3 919.5 L1169.3 920.5 L1170.3 923.2 L1171.3 928.6 L1172.3 927.6 L1173.3 930.3 L1174.3 930.3 L1175.3 930.1 L1176.3 936.3 L1177.3 935.0 L1178.3 941.1 L1179.3 941.6 L1180.3 941.8" fill="none" stroke="#A5A5A5" stroke-width="4.2" stroke-linejoin="round" stroke-linecap="round"/>
<path d="M687.3 881.9 L688.3 880.5 L689.3 879.0 L690.3 881.7 L691.3 884.0 L692.3 882.2 L693.3 883.9 L694.3 880.5 L695.3 880.6 L696.3 876.8 L697.3 877.4 L698.3 878.6 L699.3 870.6 L700.3 866.4 L701.3 866.3 L702.3 863.8 L703.3 862.2 L704.3 864.1 L705.3 861.5 L706.3 861.0 L707.3 856.1 L708.3 864.6 L709.3 869.7 L710.3 883.1 L711.3 891.4 L712.3 894.4 L713.3 894.9 L714.3 896.6 L715.3 895.6 L716.3 895.1 L717.3 896.1 L718.3 898.9 L719.3 901.7 L720.3 900.3 L721.3 902.4 L722.3 910.0 L723.3 912.1 L724.3 916.4 L725.3 918.7 L726.3 919.5 L727.3 922.7 L728.3 925.8 L729.3 933.6 L730.3 941.7 L731.3 950.7 L732.3 951.7 L733.3 949.4 L734.3 950.4 L735.3 948.4 L736.3 949.0 L737.3 949.5 L738.3 949.6 L739.3 946.2 L740.3 946.9 L741.3 941.9 L742.3 940.4 L743.3 939.1 L744.3 940.7 L745.3 940.4 L746.3 932.8 L747.3 917.7 L748.3 904.8 L749.3 905.1 L750.3 904.9 L751.3 910.0 L752.3 915.3 L753.3 921.0 L754.3 923.7 L755.3 923.2 L756.3 926.4 L757.3 925.1 L758.3 925.2 L759.3 923.8 L760.3 925.1 L761.3 918.1 L762.3 916.2 L763.3 917.0 L764.3 919.3 L765.3 913.4 L766.3 912.2 L767.3 913.1 L768.3 913.2 L769.3 905.2 L770.3 904.9 L771.3 900.8 L772.3 893.9 L773.3 887.9 L774.3 887.7 L775.3 882.1 L776.3 878.7 L777.3 881.2 L778.3 885.0 L779.3 884.4 L780.3 880.6 L781.3 875.4 L782.3 872.9 L783.3 876.6 L784.3 870.3 L785.3 867.7 L786.3 867.2 L787.3 871.1 L788.3 866.6 L789.3 870.8 L790.3 870.9 L791.3 866.9 L792.3 867.0 L793.3 868.3 L794.3 862.4 L795.3 861.1 L796.3 864.5 L797.3 862.0 L798.3 866.4 L799.3 865.2 L800.3 863.3 L801.3 865.0 L802.3 867.0 L803.3 863.8 L804.3 861.3 L805.3 858.8 L806.3 855.5 L807.3 848.9 L808.3 843.8 L809.3 838.6 L810.3 831.9 L811.3 821.2 L812.3 824.8 L813.3 827.1 L814.3 824.7 L815.3 827.6 L816.3 827.6 L817.3 826.6 L818.3 831.3 L819.3 833.7 L820.3 835.5 L821.3 838.2 L822.3 843.7 L823.3 845.6 L824.3 849.6 L825.3 852.2 L826.3 851.3 L827.3 860.3 L828.3 859.5 L829.3 862.6 L830.3 861.8 L831.3 864.3 L832.3 862.4 L833.3 860.4 L834.3 860.0 L835.3 860.3 L836.3 861.5 L837.3 861.2 L838.3 861.3 L839.3 859.9 L840.3 864.0 L841.3 862.2 L842.3 863.4 L843.3 865.2 L844.3 867.4 L845.3 866.7 L846.3 866.7 L847.3 870.4 L848.3 874.4 L849.3 874.4 L850.3 876.5 L851.3 881.4 L852.3 873.1 L853.3 869.7 L854.3 868.6 L855.3 862.8 L856.3 861.0 L857.3 857.2 L858.3 860.7 L859.3 862.3 L860.3 870.7 L861.3 870.3 L862.3 867.2 L863.3 861.9 L864.3 857.7 L865.3 855.8 L866.3 858.3 L867.3 856.5 L868.3 853.5 L869.3 853.6 L870.3 859.0 L871.3 861.2 L872.3 857.4 L873.3 862.0 L874.3 862.8 L875.3 861.0 L876.3 862.4 L877.3 861.7 L878.3 865.0 L879.3 862.2 L880.3 864.2 L881.3 867.1 L882.3 868.3 L883.3 866.5 L884.3 872.2 L885.3 869.4 L886.3 870.3 L887.3 866.3 L888.3 868.7 L889.3 865.1 L890.3 865.2 L891.3 864.6 L892.3 864.9 L893.3 865.7 L894.3 866.6 L895.3 867.8 L896.3 871.4 L897.3 873.0 L898.3 870.1 L899.3 877.0 L900.3 879.3 L901.3 882.0 L902.3 887.2 L903.3 885.1 L904.3 894.2 L905.3 892.8 L906.3 898.2 L907.3 893.4 L908.3 897.7 L909.3 895.9 L910.3 900.1 L911.3 898.7 L912.3 894.6 L913.3 891.6 L914.3 886.0 L915.3 887.1 L916.3 889.4 L917.3 890.0 L918.3 895.9 L919.3 896.4 L920.3 905.4 L921.3 906.1 L922.3 907.7 L923.3 914.8 L924.3 911.7 L925.3 913.2 L926.3 917.1 L927.3 918.8 L928.3 924.3 L929.3 924.0 L930.3 929.5 L931.3 926.8 L932.3 932.5 L933.3 931.0 L934.3 925.4 L935.3 917.3 L936.3 920.5 L937.3 915.6 L938.3 903.9 L939.3 899.0 L940.3 903.5 L941.3 907.1 L942.3 908.8 L943.3 909.2 L944.3 910.5 L945.3 913.1 L946.3 909.9 L947.3 910.1 L948.3 912.5 L949.3 907.1 L950.3 899.1 L951.3 897.1 L952.3 894.7 L953.3 893.2 L954.3 890.7 L955.3 888.5 L956.3 884.8 L957.3 887.3 L958.3 890.0 L959.3 893.3 L960.3 892.4 L961.3 896.2 L962.3 902.8 L963.3 905.4 L964.3 906.1 L965.3 907.5 L966.3 904.0 L967.3 900.5 L968.3 894.9 L969.3 891.8 L970.3 886.8 L971.3 886.4 L972.3 882.3 L973.3 880.1 L974.3 874.2 L975.3 874.8 L976.3 869.2 L977.3 870.9 L978.3 866.1 L979.3 869.2 L980.3 864.5 L981.3 863.7 L982.3 866.3 L983.3 866.5 L984.3 866.1 L985.3 866.3 L986.3 866.2 L987.3 866.3 L988.3 861.5 L989.3 863.0 L990.3 859.1 L991.3 856.9 L992.3 859.9 L993.3 860.7 L994.3 863.4 L995.3 869.4 L996.3 870.9 L997.3 874.6 L998.3 876.9 L999.3 879.1 L1000.3 880.8 L1001.3 878.7 L1002.3 880.7 L1003.3 883.1 L1004.3 881.5 L1005.3 886.5 L1006.3 885.8 L1007.3 885.6 L1008.3 888.9 L1009.3 889.8 L1010.3 889.8 L1011.3 890.7 L1012.3 893.5 L1013.3 898.9 L1014.3 905.4 L1015.3 901.5 L1016.3 904.1 L1017.3 896.0 L1018.3 893.4 L1019.3 891.7 L1020.3 892.7 L1021.3 891.7 L1022.3 890.5 L1023.3 889.0 L1024.3 886.1 L1025.3 882.8 L1026.3 886.3 L1027.3 887.6 L1028.3 889.5 L1029.3 890.4 L1030.3 889.3 L1031.3 891.0 L1032.3 894.5 L1033.3 903.4 L1034.3 905.5 L1035.3 911.3 L1036.3 914.5 L1037.3 917.4 L1038.3 925.3 L1039.3 924.2 L1040.3 914.3 L1041.3 911.1 L1042.3 905.2 L1043.3 907.3 L1044.3 903.5 L1045.3 906.8 L1046.3 903.1 L1047.3 901.6 L1048.3 893.5 L1049.3 897.4 L1050.3 892.9 L1051.3 896.3 L1052.3 894.3 L1053.3 897.1 L1054.3 895.3 L1055.3 890.6 L1056.3 892.1 L1057.3 898.6 L1058.3 899.8 L1059.3 906.0 L1060.3 905.6 L1061.3 911.2 L1062.3 912.6 L1063.3 911.7 L1064.3 908.4 L1065.3 905.4 L1066.3 902.0 L1067.3 902.3 L1068.3 892.2 L1069.3 888.2 L1070.3 884.3 L1071.3 876.7 L1072.3 876.9 L1073.3 874.4 L1074.3 868.4 L1075.3 865.6 L1076.3 864.7 L1077.3 860.5 L1078.3 860.3 L1079.3 856.0 L1080.3 848.9 L1081.3 846.9 L1082.3 845.6 L1083.3 850.5 L1084.3 852.8 L1085.3 857.4 L1086.3 860.2 L1087.3 855.8 L1088.3 858.7 L1089.3 860.0 L1090.3 859.3 L1091.3 857.6 L1092.3 856.2 L1093.3 858.7 L1094.3 861.2 L1095.3 862.9 L1096.3 857.8 L1097.3 856.7 L1098.3 853.8 L1099.3 853.8 L1100.3 848.0 L1101.3 849.5 L1102.3 840.5 L1103.3 843.0 L1104.3 842.0 L1105.3 841.2 L1106.3 843.9 L1107.3 843.4 L1108.3 842.7 L1109.3 842.2 L1110.3 844.8 L1111.3 847.8 L1112.3 850.4 L1113.3 845.4 L1114.3 845.3 L1115.3 842.0 L1116.3 840.9 L1117.3 836.9 L1118.3 837.0 L1119.3 842.6 L1120.3 842.3 L1121.3 844.4 L1122.3 844.3 L1123.3 847.0 L1124.3 848.8 L1125.3 847.3 L1126.3 843.4 L1127.3 842.8 L1128.3 840.0 L1129.3 823.2 L1130.3 802.8 L1131.3 797.7 L1132.3 799.6 L1133.3 800.1 L1134.3 799.0 L1135.3 799.3 L1136.3 800.9 L1137.3 801.3 L1138.3 800.7 L1139.3 797.8 L1140.3 798.8 L1141.3 798.2 L1142.3 803.3 L1143.3 799.2 L1144.3 803.6 L1145.3 806.1 L1146.3 801.1 L1147.3 807.5 L1148.3 802.9 L1149.3 805.0 L1150.3 804.5 L1151.3 801.6 L1152.3 811.2 L1153.3 810.3 L1154.3 813.4 L1155.3 826.3 L1156.3 828.1 L1157.3 832.7 L1158.3 829.4 L1159.3 832.4 L1160.3 837.7 L1161.3 837.3 L1162.3 843.1 L1163.3 851.0 L1164.3 852.8 L1165.3 860.2 L1166.3 857.3 L1167.3 863.8 L1168.3 868.5 L1169.3 873.3 L1170.3 873.9 L1171.3 876.1 L1172.3 877.8 L1173.3 879.8 L1174.3 878.2 L1175.3 884.8 L1176.3 883.5 L1177.3 885.3 L1178.3 883.6 L1179.3 882.6 L1180.3 884.5" fill="none" stroke="#FFC000" stroke-width="4.2" stroke-linejoin="round" stroke-linecap="round"/>
<path d="M687.3 864.0 L688.3 863.8 L689.3 863.4 L690.3 865.9 L691.3 870.2 L692.3 869.3 L693.3 868.4 L694.3 872.0 L695.3 866.7 L696.3 871.5 L697.3 870.2 L698.3 866.8 L699.3 875.9 L700.3 874.2 L701.3 867.5 L702.3 866.2 L703.3 862.1 L704.3 862.9 L705.3 867.2 L706.3 867.2 L707.3 875.0 L708.3 878.9 L709.3 874.4 L710.3 877.5 L711.3 873.3 L712.3 879.9 L713.3 879.8 L714.3 880.4 L715.3 878.7 L716.3 879.0 L717.3 880.7 L718.3 875.8 L719.3 873.5 L720.3 871.0 L721.3 871.0 L722.3 875.4 L723.3 868.0 L724.3 863.4 L725.3 856.1 L726.3 854.2 L727.3 853.3 L728.3 851.0 L729.3 845.4 L730.3 837.9 L731.3 834.5 L732.3 833.5 L733.3 827.4 L734.3 828.1 L735.3 827.3 L736.3 823.2 L737.3 826.5 L738.3 820.9 L739.3 821.0 L740.3 813.2 L741.3 811.9 L742.3 812.4 L743.3 808.8 L744.3 807.2 L745.3 810.9 L746.3 810.5 L747.3 810.8 L748.3 815.5 L749.3 818.9 L750.3 823.3 L751.3 820.8 L752.3 826.2 L753.3 829.7 L754.3 835.0 L755.3 837.1 L756.3 835.3 L757.3 842.4 L758.3 839.6 L759.3 844.8 L760.3 848.0 L761.3 851.1 L762.3 855.3 L763.3 856.0 L764.3 858.6 L765.3 856.3 L766.3 849.8 L767.3 850.5 L768.3 846.3 L769.3 838.7 L770.3 839.6 L771.3 833.1 L772.3 823.7 L773.3 819.2 L774.3 817.6 L775.3 820.0 L776.3 825.9 L777.3 824.7 L778.3 824.1 L779.3 832.6 L780.3 830.7 L781.3 832.9 L782.3 833.7 L783.3 836.8 L784.3 835.4 L785.3 834.5 L786.3 833.9 L787.3 834.0 L788.3 836.9 L789.3 834.4 L790.3 836.1 L791.3 841.6 L792.3 848.0 L793.3 848.3 L794.3 852.9 L795.3 855.0 L796.3 855.5 L797.3 861.6 L798.3 863.8 L799.3 865.1 L800.3 867.3 L801.3 867.2 L802.3 867.7 L803.3 871.0 L804.3 866.6 L805.3 865.0 L806.3 865.6 L807.3 864.2 L808.3 865.2 L809.3 863.8 L810.3 867.3 L811.3 869.4 L812.3 871.2 L813.3 867.2 L814.3 875.1 L815.3 879.7 L816.3 880.7 L817.3 883.7 L818.3 884.1 L819.3 885.4 L820.3 890.9 L821.3 886.8 L822.3 884.4 L823.3 883.9 L824.3 885.6 L825.3 879.7 L826.3 886.0 L827.3 887.6 L828.3 890.4 L829.3 889.1 L830.3 891.6 L831.3 889.6 L832.3 881.8 L833.3 892.6 L834.3 890.6 L835.3 894.3 L836.3 895.6 L837.3 895.4 L838.3 896.4 L839.3 898.8 L840.3 902.4 L841.3 902.9 L842.3 902.4 L843.3 906.2 L844.3 908.3 L845.3 913.8 L846.3 915.3 L847.3 914.7 L848.3 914.1 L849.3 912.3 L850.3 907.5 L851.3 907.2 L852.3 903.2 L853.3 905.1 L854.3 900.1 L855.3 894.9 L856.3 897.7 L857.3 890.4 L858.3 888.2 L859.3 885.6 L860.3 885.2 L861.3 883.2 L862.3 884.2 L863.3 881.7 L864.3 877.4 L865.3 877.5 L866.3 877.8 L867.3 874.7 L868.3 868.1 L869.3 865.1 L870.3 862.1 L871.3 857.3 L872.3 851.8 L873.3 848.8 L874.3 851.5 L875.3 849.7 L876.3 851.7 L877.3 850.0 L878.3 853.5 L879.3 854.8 L880.3 849.9 L881.3 854.2 L882.3 856.9 L883.3 859.5 L884.3 860.3 L885.3 863.0 L886.3 856.0 L887.3 860.0 L888.3 861.5 L889.3 865.1 L890.3 861.1 L891.3 857.9 L892.3 859.7 L893.3 857.3 L894.3 856.7 L895.3 856.3 L896.3 854.2 L897.3 854.8 L898.3 856.9 L899.3 859.1 L900.3 859.7 L901.3 862.8 L902.3 866.3 L903.3 860.7 L904.3 861.7 L905.3 864.4 L906.3 860.8 L907.3 862.1 L908.3 862.1 L909.3 861.4 L910.3 859.4 L911.3 858.6 L912.3 850.3 L913.3 852.7 L914.3 851.2 L915.3 852.6 L916.3 847.5 L917.3 846.6 L918.3 852.0 L919.3 850.4 L920.3 857.0 L921.3 853.9 L922.3 858.5 L923.3 858.6 L924.3 861.5 L925.3 861.2 L926.3 858.7 L927.3 866.3 L928.3 868.7 L929.3 872.9 L930.3 870.0 L931.3 875.2 L932.3 881.6 L933.3 878.2 L934.3 879.6 L935.3 878.6 L936.3 881.1 L937.3 886.8 L938.3 879.7 L939.3 886.1 L940.3 889.9 L941.3 890.9 L942.3 895.0 L943.3 899.4 L944.3 904.4 L945.3 910.2 L946.3 904.2 L947.3 899.8 L948.3 898.0 L949.3 892.4 L950.3 895.9 L951.3 890.7 L952.3 890.4 L953.3 891.7 L954.3 884.8 L955.3 883.2 L956.3 886.0 L957.3 891.0 L958.3 894.6 L959.3 892.1 L960.3 897.0 L961.3 895.8 L962.3 897.5 L963.3 896.1 L964.3 886.8 L965.3 886.0 L966.3 882.2 L967.3 879.4 L968.3 875.4 L969.3 875.6 L970.3 872.6 L971.3 866.3 L972.3 864.8 L973.3 862.7 L974.3 861.5 L975.3 861.6 L976.3 858.5 L977.3 855.8 L978.3 855.2 L979.3 855.0 L980.3 850.5 L981.3 850.1 L982.3 849.3 L983.3 855.7 L984.3 855.4 L985.3 861.3 L986.3 862.0 L987.3 865.3 L988.3 867.0 L989.3 865.3 L990.3 868.4 L991.3 873.4 L992.3 876.2 L993.3 878.9 L994.3 877.6 L995.3 881.7 L996.3 881.0 L997.3 884.8 L998.3 887.9 L999.3 890.0 L1000.3 890.1 L1001.3 892.6 L1002.3 890.9 L1003.3 892.2 L1004.3 886.6 L1005.3 891.3 L1006.3 891.9 L1007.3 887.5 L1008.3 886.2 L1009.3 886.2 L1010.3 890.3 L1011.3 890.0 L1012.3 893.2 L1013.3 892.0 L1014.3 900.7 L1015.3 897.2 L1016.3 892.8 L1017.3 895.0 L1018.3 891.3 L1019.3 889.6 L1020.3 881.5 L1021.3 884.5 L1022.3 882.8 L1023.3 873.9 L1024.3 875.2 L1025.3 864.9 L1026.3 865.5 L1027.3 861.4 L1028.3 855.2 L1029.3 857.2 L1030.3 859.9 L1031.3 866.2 L1032.3 863.4 L1033.3 861.1 L1034.3 866.8 L1035.3 870.3 L1036.3 867.9 L1037.3 874.0 L1038.3 872.8 L1039.3 877.4 L1040.3 883.4 L1041.3 886.1 L1042.3 886.6 L1043.3 888.5 L1044.3 886.0 L1045.3 891.2 L1046.3 887.2 L1047.3 889.3 L1048.3 891.4 L1049.3 896.8 L1050.3 892.9 L1051.3 896.1 L1052.3 900.5 L1053.3 901.2 L1054.3 902.3 L1055.3 903.7 L1056.3 906.6 L1057.3 904.7 L1058.3 908.3 L1059.3 911.1 L1060.3 913.4 L1061.3 916.9 L1062.3 914.7 L1063.3 919.0 L1064.3 923.8 L1065.3 924.7 L1066.3 933.3 L1067.3 934.8 L1068.3 935.8 L1069.3 942.2 L1070.3 945.5 L1071.3 947.5 L1072.3 947.6 L1073.3 942.0 L1074.3 938.4 L1075.3 934.1 L1076.3 929.6 L1077.3 922.7 L1078.3 919.7 L1079.3 917.6 L1080.3 915.7 L1081.3 908.6 L1082.3 903.8 L1083.3 901.5 L1084.3 901.4 L1085.3 895.8 L1086.3 895.8 L1087.3 894.3 L1088.3 895.6 L1089.3 889.3 L1090.3 892.8 L1091.3 891.8 L1092.3 885.4 L1093.3 886.1 L1094.3 886.0 L1095.3 887.2 L1096.3 884.8 L1097.3 884.6 L1098.3 877.2 L1099.3 881.6 L1100.3 874.2 L1101.3 871.4 L1102.3 868.7 L1103.3 866.1 L1104.3 865.8 L1105.3 861.1 L1106.3 862.3 L1107.3 858.7 L1108.3 854.6 L1109.3 862.5 L1110.3 863.4 L1111.3 867.9 L1112.3 869.1 L1113.3 872.3 L1114.3 876.4 L1115.3 874.3 L1116.3 881.7 L1117.3 883.3 L1118.3 885.9 L1119.3 889.5 L1120.3 888.2 L1121.3 887.1 L1122.3 887.1 L1123.3 886.9 L1124.3 887.0 L1125.3 883.3 L1126.3 882.4 L1127.3 884.6 L1128.3 875.2 L1129.3 867.0 L1130.3 859.5 L1131.3 853.2 L1132.3 851.2 L1133.3 849.1 L1134.3 851.6 L1135.3 848.7 L1136.3 854.6 L1137.3 852.1 L1138.3 848.1 L1139.3 850.0 L1140.3 851.1 L1141.3 851.0 L1142.3 846.3 L1143.3 843.9 L1144.3 847.9 L1145.3 845.0 L1146.3 844.1 L1147.3 848.3 L1148.3 846.3 L1149.3 844.5 L1150.3 844.5 L1151.3 840.5 L1152.3 844.3 L1153.3 842.7 L1154.3 847.5 L1155.3 845.1 L1156.3 846.8 L1157.3 846.9 L1158.3 847.7 L1159.3 855.7 L1160.3 852.6 L1161.3 853.9 L1162.3 855.0 L1163.3 857.6 L1164.3 857.8 L1165.3 861.0 L1166.3 861.3 L1167.3 861.2 L1168.3 864.1 L1169.3 861.2 L1170.3 860.4 L1171.3 861.4 L1172.3 859.3 L1173.3 867.3 L1174.3 859.9 L1175.3 858.3 L1176.3 862.1 L1177.3 865.6 L1178.3 859.7 L1179.3 861.5 L1180.3 856.9" fill="none" stroke="#5B9BD5" stroke-width="4.2" stroke-linejoin="round" stroke-linecap="round"/>
<path d="M687.3 885.1 L688.3 882.6 L689.3 880.4 L690.3 879.7 L691.3 874.0 L692.3 862.4 L693.3 857.5 L694.3 852.7 L695.3 841.1 L696.3 828.9 L697.3 833.1 L698.3 833.2 L699.3 834.4 L700.3 838.7 L701.3 838.5 L702.3 838.0 L703.3 841.7 L704.3 851.9 L705.3 859.8 L706.3 865.8 L707.3 872.1 L708.3 873.7 L709.3 865.8 L710.3 865.7 L711.3 869.7 L712.3 870.4 L713.3 867.7 L714.3 869.8 L715.3 867.3 L716.3 865.6 L717.3 857.1 L718.3 856.5 L719.3 853.5 L720.3 849.5 L721.3 850.8 L722.3 848.0 L723.3 846.9 L724.3 847.9 L725.3 841.7 L726.3 844.6 L727.3 844.1 L728.3 849.6 L729.3 848.8 L730.3 854.1 L731.3 857.5 L732.3 859.2 L733.3 856.1 L734.3 859.6 L735.3 857.9 L736.3 857.9 L737.3 860.1 L738.3 853.2 L739.3 855.2 L740.3 858.2 L741.3 851.7 L742.3 847.5 L743.3 846.3 L744.3 844.7 L745.3 839.3 L746.3 839.5 L747.3 834.4 L748.3 838.0 L749.3 838.3 L750.3 840.3 L751.3 843.0 L752.3 847.3 L753.3 845.6 L754.3 848.8 L755.3 849.7 L756.3 858.3 L757.3 856.1 L758.3 852.7 L759.3 855.5 L760.3 860.0 L761.3 860.4 L762.3 861.1 L763.3 865.8 L764.3 867.3 L765.3 868.1 L766.3 867.8 L767.3 867.7 L768.3 869.2 L769.3 867.3 L770.3 862.6 L771.3 846.7 L772.3 830.4 L773.3 827.9 L774.3 824.8 L775.3 820.8 L776.3 822.3 L777.3 823.3 L778.3 822.5 L779.3 825.2 L780.3 827.3 L781.3 832.2 L782.3 831.6 L783.3 836.9 L784.3 845.2 L785.3 851.2 L786.3 862.3 L787.3 869.4 L788.3 878.7 L789.3 886.2 L790.3 886.3 L791.3 880.6 L792.3 879.3 L793.3 875.1 L794.3 872.4 L795.3 873.2 L796.3 870.4 L797.3 875.0 L798.3 874.8 L799.3 874.7 L800.3 878.6 L801.3 878.9 L802.3 882.7 L803.3 882.5 L804.3 888.9 L805.3 893.5 L806.3 893.5 L807.3 899.2 L808.3 898.9 L809.3 898.4 L810.3 900.2 L811.3 901.5 L812.3 899.3 L813.3 901.5 L814.3 901.9 L815.3 905.9 L816.3 910.4 L817.3 902.9 L818.3 906.8 L819.3 906.1 L820.3 904.8 L821.3 902.9 L822.3 908.5 L823.3 908.2 L824.3 907.4 L825.3 912.7 L826.3 911.2 L827.3 907.4 L828.3 904.5 L829.3 897.8 L830.3 899.9 L831.3 893.6 L832.3 888.1 L833.3 886.1 L834.3 881.3 L835.3 872.7 L836.3 872.3 L837.3 869.6 L838.3 877.6 L839.3 879.5 L840.3 880.2 L841.3 885.8 L842.3 886.2 L843.3 893.3 L844.3 891.8 L845.3 890.4 L846.3 895.2 L847.3 898.2 L848.3 900.6 L849.3 904.7 L850.3 901.9 L851.3 909.9 L852.3 909.8 L853.3 913.2 L854.3 905.7 L855.3 914.8 L856.3 910.8 L857.3 903.2 L858.3 895.7 L859.3 896.1 L860.3 893.9 L861.3 893.4 L862.3 891.2 L863.3 896.1 L864.3 898.7 L865.3 904.7 L866.3 912.0 L867.3 915.0 L868.3 918.8 L869.3 917.6 L870.3 920.6 L871.3 924.6 L872.3 923.0 L873.3 901.7 L874.3 886.5 L875.3 880.1 L876.3 884.1 L877.3 884.9 L878.3 878.9 L879.3 876.1 L880.3 874.7 L881.3 876.4 L882.3 873.8 L883.3 871.4 L884.3 874.7 L885.3 868.0 L886.3 870.7 L887.3 873.3 L888.3 869.0 L889.3 865.7 L890.3 865.8 L891.3 867.9 L892.3 866.2 L893.3 869.4 L894.3 866.7 L895.3 866.6 L896.3 861.7 L897.3 861.4 L898.3 862.4 L899.3 864.1 L900.3 859.5 L901.3 861.2 L902.3 856.9 L903.3 856.4 L904.3 853.0 L905.3 853.9 L906.3 853.2 L907.3 853.0 L908.3 855.6 L909.3 846.6 L910.3 850.8 L911.3 851.3 L912.3 852.0 L913.3 854.5 L914.3 850.9 L915.3 857.5 L916.3 852.8 L917.3 858.3 L918.3 857.0 L919.3 860.2 L920.3 861.5 L921.3 860.4 L922.3 860.7 L923.3 856.7 L924.3 853.2 L925.3 851.7 L926.3 850.2 L927.3 846.9 L928.3 848.6 L929.3 849.7 L930.3 849.1 L931.3 854.7 L932.3 865.4 L933.3 864.5 L934.3 861.7 L935.3 864.5 L936.3 862.1 L937.3 862.5 L938.3 859.3 L939.3 863.3 L940.3 858.3 L941.3 857.8 L942.3 859.0 L943.3 855.9 L944.3 855.1 L945.3 855.5 L946.3 853.9 L947.3 853.8 L948.3 849.3 L949.3 848.4 L950.3 847.6 L951.3 847.2 L952.3 843.4 L953.3 842.1 L954.3 840.3 L955.3 836.8 L956.3 832.9 L957.3 834.6 L958.3 836.7 L959.3 835.6 L960.3 836.7 L961.3 843.1 L962.3 841.0 L963.3 843.4 L964.3 842.5 L965.3 845.1 L966.3 844.1 L967.3 847.4 L968.3 850.0 L969.3 847.4 L970.3 851.1 L971.3 852.9 L972.3 855.1 L973.3 852.8 L974.3 854.0 L975.3 855.3 L976.3 851.5 L977.3 857.5 L978.3 859.6 L979.3 853.1 L980.3 855.4 L981.3 851.4 L982.3 852.9 L983.3 846.1 L984.3 847.2 L985.3 846.1 L986.3 838.0 L987.3 836.8 L988.3 828.8 L989.3 832.4 L990.3 838.9 L991.3 843.6 L992.3 843.3 L993.3 845.9 L994.3 854.0 L995.3 853.1 L996.3 850.2 L997.3 850.9 L998.3 858.0 L999.3 858.8 L1000.3 863.7 L1001.3 866.7 L1002.3 865.3 L1003.3 868.8 L1004.3 869.6 L1005.3 869.5 L1006.3 868.7 L1007.3 870.5 L1008.3 865.3 L1009.3 855.7 L1010.3 850.3 L1011.3 839.3 L1012.3 834.3 L1013.3 835.5 L1014.3 834.4 L1015.3 834.5 L1016.3 835.3 L1017.3 836.4 L1018.3 839.0 L1019.3 835.8 L1020.3 828.7 L1021.3 831.5 L1022.3 828.0 L1023.3 826.7 L1024.3 829.8 L1025.3 829.9 L1026.3 831.6 L1027.3 834.3 L1028.3 839.3 L1029.3 838.8 L1030.3 839.1 L1031.3 845.7 L1032.3 848.7 L1033.3 851.1 L1034.3 856.7 L1035.3 861.6 L1036.3 859.1 L1037.3 866.5 L1038.3 866.2 L1039.3 866.1 L1040.3 863.4 L1041.3 861.7 L1042.3 860.3 L1043.3 861.7 L1044.3 862.6 L1045.3 857.8 L1046.3 856.0 L1047.3 855.9 L1048.3 852.7 L1049.3 856.3 L1050.3 855.5 L1051.3 860.4 L1052.3 857.1 L1053.3 859.9 L1054.3 862.9 L1055.3 860.8 L1056.3 861.2 L1057.3 858.2 L1058.3 857.0 L1059.3 863.4 L1060.3 866.4 L1061.3 866.8 L1062.3 872.7 L1063.3 877.8 L1064.3 884.5 L1065.3 886.7 L1066.3 890.1 L1067.3 887.1 L1068.3 888.0 L1069.3 892.3 L1070.3 892.0 L1071.3 887.4 L1072.3 886.2 L1073.3 882.1 L1074.3 879.8 L1075.3 877.4 L1076.3 877.0 L1077.3 869.7 L1078.3 867.5 L1079.3 867.7 L1080.3 863.2 L1081.3 859.9 L1082.3 863.0 L1083.3 858.6 L1084.3 859.8 L1085.3 863.8 L1086.3 866.0 L1087.3 867.6 L1088.3 861.5 L1089.3 872.1 L1090.3 883.1 L1091.3 890.1 L1092.3 893.9 L1093.3 894.4 L1094.3 894.8 L1095.3 894.3 L1096.3 890.0 L1097.3 887.4 L1098.3 885.5 L1099.3 879.0 L1100.3 868.9 L1101.3 874.0 L1102.3 870.1 L1103.3 868.9 L1104.3 864.5 L1105.3 872.3 L1106.3 869.7 L1107.3 870.6 L1108.3 867.5 L1109.3 868.4 L1110.3 868.7 L1111.3 871.8 L1112.3 873.0 L1113.3 873.0 L1114.3 875.9 L1115.3 881.0 L1116.3 888.3 L1117.3 890.3 L1118.3 893.8 L1119.3 896.6 L1120.3 900.3 L1121.3 899.5 L1122.3 898.2 L1123.3 898.7 L1124.3 898.9 L1125.3 898.0 L1126.3 890.6 L1127.3 898.1 L1128.3 893.9 L1129.3 882.2 L1130.3 873.5 L1131.3 863.8 L1132.3 859.6 L1133.3 860.7 L1134.3 860.7 L1135.3 858.0 L1136.3 857.5 L1137.3 853.0 L1138.3 856.1 L1139.3 856.4 L1140.3 855.6 L1141.3 856.3 L1142.3 854.5 L1143.3 859.4 L1144.3 860.4 L1145.3 860.1 L1146.3 859.8 L1147.3 863.5 L1148.3 860.0 L1149.3 866.3 L1150.3 866.7 L1151.3 875.2 L1152.3 876.4 L1153.3 886.3 L1154.3 891.5 L1155.3 891.8 L1156.3 890.2 L1157.3 889.5 L1158.3 892.9 L1159.3 894.4 L1160.3 895.8 L1161.3 895.2 L1162.3 899.4 L1163.3 896.6 L1164.3 898.8 L1165.3 903.5 L1166.3 902.9 L1167.3 908.6 L1168.3 913.7 L1169.3 916.3 L1170.3 928.4 L1171.3 934.8 L1172.3 934.7 L1173.3 933.4 L1174.3 930.1 L1175.3 925.2 L1176.3 925.7 L1177.3 926.3 L1178.3 927.2 L1179.3 927.0 L1180.3 929.1" fill="none" stroke="#70AD47" stroke-width="4.2" stroke-linejoin="round" stroke-linecap="round"/>
<path d="M687.3 896.6 L688.3 895.7 L689.3 895.5 L690.3 890.7 L691.3 881.3 L692.3 866.1 L693.3 863.3 L694.3 862.0 L695.3 863.0 L696.3 866.0 L697.3 863.5 L698.3 864.6 L699.3 873.2 L700.3 879.0 L701.3 879.7 L702.3 885.7 L703.3 882.1 L704.3 880.4 L705.3 872.3 L706.3 863.2 L707.3 863.4 L708.3 860.9 L709.3 858.8 L710.3 859.4 L711.3 858.7 L712.3 863.5 L713.3 866.4 L714.3 868.5 L715.3 869.7 L716.3 870.7 L717.3 870.7 L718.3 871.3 L719.3 875.4 L720.3 873.1 L721.3 867.8 L722.3 864.3 L723.3 861.3 L724.3 859.4 L725.3 863.7 L726.3 861.8 L727.3 867.2 L728.3 867.8 L729.3 867.2 L730.3 868.7 L731.3 869.0 L732.3 878.8 L733.3 883.2 L734.3 890.1 L735.3 892.7 L736.3 898.4 L737.3 902.5 L738.3 892.8 L739.3 886.0 L740.3 875.2 L741.3 875.6 L742.3 871.6 L743.3 866.7 L744.3 867.1 L745.3 870.8 L746.3 872.3 L747.3 876.6 L748.3 873.8 L749.3 880.9 L750.3 884.9 L751.3 878.7 L752.3 868.9 L753.3 863.4 L754.3 860.2 L755.3 860.0 L756.3 857.5 L757.3 862.5 L758.3 862.8 L759.3 863.1 L760.3 862.6 L761.3 866.2 L762.3 870.1 L763.3 868.1 L764.3 868.7 L765.3 872.4 L766.3 874.5 L767.3 872.4 L768.3 870.8 L769.3 869.0 L770.3 857.9 L771.3 852.6 L772.3 840.2 L773.3 835.0 L774.3 835.3 L775.3 835.7 L776.3 837.0 L777.3 838.8 L778.3 841.1 L779.3 842.2 L780.3 850.2 L781.3 856.1 L782.3 864.4 L783.3 872.3 L784.3 873.7 L785.3 875.5 L786.3 869.1 L787.3 866.2 L788.3 864.8 L789.3 858.7 L790.3 856.0 L791.3 858.7 L792.3 858.0 L793.3 853.4 L794.3 859.3 L795.3 860.9 L796.3 866.0 L797.3 857.3 L798.3 849.4 L799.3 845.8 L800.3 851.8 L801.3 853.0 L802.3 853.3 L803.3 843.6 L804.3 838.1 L805.3 838.1 L806.3 838.4 L807.3 843.0 L808.3 842.4 L809.3 846.7 L810.3 860.1 L811.3 869.7 L812.3 870.2 L813.3 865.6 L814.3 865.0 L815.3 871.1 L816.3 882.1 L817.3 886.5 L818.3 889.8 L819.3 889.9 L820.3 893.5 L821.3 891.7 L822.3 891.8 L823.3 890.1 L824.3 888.0 L825.3 893.6 L826.3 894.8 L827.3 890.5 L828.3 895.4 L829.3 893.0 L830.3 895.8 L831.3 893.3 L832.3 898.6 L833.3 907.5 L834.3 902.9 L835.3 900.9 L836.3 899.4 L837.3 896.8 L838.3 897.6 L839.3 893.7 L840.3 887.9 L841.3 887.6 L842.3 885.4 L843.3 880.1 L844.3 885.3 L845.3 888.6 L846.3 890.8 L847.3 894.2 L848.3 897.8 L849.3 894.2 L850.3 895.2 L851.3 887.4 L852.3 880.8 L853.3 874.2 L854.3 867.7 L855.3 862.9 L856.3 858.8 L857.3 848.3 L858.3 841.5 L859.3 841.5 L860.3 840.8 L861.3 844.8 L862.3 848.0 L863.3 855.1 L864.3 858.3 L865.3 863.1 L866.3 866.8 L867.3 874.9 L868.3 868.3 L869.3 870.0 L870.3 867.7 L871.3 858.6 L872.3 851.7 L873.3 852.1 L874.3 850.3 L875.3 848.8 L876.3 851.9 L877.3 857.4 L878.3 857.9 L879.3 859.5 L880.3 853.5 L881.3 848.7 L882.3 845.0 L883.3 846.8 L884.3 847.8 L885.3 843.6 L886.3 845.5 L887.3 852.2 L888.3 853.8 L889.3 850.9 L890.3 852.1 L891.3 855.7 L892.3 854.7 L893.3 844.9 L894.3 843.7 L895.3 841.1 L896.3 840.3 L897.3 843.8 L898.3 846.3 L899.3 844.8 L900.3 841.7 L901.3 844.7 L902.3 840.2 L903.3 840.1 L904.3 840.7 L905.3 839.3 L906.3 841.4 L907.3 835.2 L908.3 837.3 L909.3 838.3 L910.3 834.3 L911.3 833.7 L912.3 830.1 L913.3 828.2 L914.3 824.9 L915.3 826.1 L916.3 826.9 L917.3 832.4 L918.3 844.4 L919.3 845.1 L920.3 847.3 L921.3 848.3 L922.3 850.5 L923.3 842.2 L924.3 840.0 L925.3 833.2 L926.3 842.7 L927.3 841.1 L928.3 840.6 L929.3 848.8 L930.3 852.5 L931.3 855.2 L932.3 843.9 L933.3 852.5 L934.3 850.1 L935.3 852.4 L936.3 850.9 L937.3 859.1 L938.3 864.3 L939.3 867.6 L940.3 873.7 L941.3 871.3 L942.3 873.1 L943.3 869.5 L944.3 872.7 L945.3 874.4 L946.3 870.5 L947.3 869.2 L948.3 861.8 L949.3 865.1 L950.3 861.7 L951.3 860.4 L952.3 856.9 L953.3 858.5 L954.3 858.1 L955.3 855.3 L956.3 856.5 L957.3 854.6 L958.3 863.3 L959.3 858.7 L960.3 858.1 L961.3 858.9 L962.3 862.1 L963.3 865.1 L964.3 867.7 L965.3 875.3 L966.3 879.0 L967.3 884.7 L968.3 890.3 L969.3 890.0 L970.3 885.4 L971.3 875.1 L972.3 875.6 L973.3 872.8 L974.3 870.7 L975.3 869.6 L976.3 867.9 L977.3 869.8 L978.3 870.3 L979.3 868.8 L980.3 869.3 L981.3 875.7 L982.3 877.5 L983.3 877.0 L984.3 872.8 L985.3 872.7 L986.3 867.2 L987.3 868.7 L988.3 861.9 L989.3 861.9 L990.3 865.2 L991.3 857.7 L992.3 861.2 L993.3 862.0 L994.3 864.9 L995.3 874.4 L996.3 877.9 L997.3 882.2 L998.3 887.5 L999.3 885.9 L1000.3 884.3 L1001.3 884.1 L1002.3 882.4 L1003.3 879.9 L1004.3 873.2 L1005.3 873.9 L1006.3 874.1 L1007.3 873.1 L1008.3 871.8 L1009.3 873.9 L1010.3 873.2 L1011.3 873.6 L1012.3 875.1 L1013.3 874.9 L1014.3 878.3 L1015.3 881.0 L1016.3 881.5 L1017.3 878.1 L1018.3 882.3 L1019.3 883.3 L1020.3 879.4 L1021.3 875.4 L1022.3 871.5 L1023.3 874.1 L1024.3 863.5 L1025.3 861.6 L1026.3 872.4 L1027.3 873.8 L1028.3 875.4 L1029.3 876.8 L1030.3 871.4 L1031.3 867.9 L1032.3 865.0 L1033.3 857.8 L1034.3 855.1 L1035.3 846.3 L1036.3 846.8 L1037.3 846.9 L1038.3 852.5 L1039.3 853.1 L1040.3 859.2 L1041.3 861.3 L1042.3 860.1 L1043.3 861.7 L1044.3 858.6 L1045.3 852.9 L1046.3 857.8 L1047.3 858.8 L1048.3 862.2 L1049.3 858.5 L1050.3 856.9 L1051.3 858.7 L1052.3 859.9 L1053.3 863.6 L1054.3 858.1 L1055.3 863.5 L1056.3 861.3 L1057.3 867.1 L1058.3 869.0 L1059.3 866.8 L1060.3 869.9 L1061.3 871.1 L1062.3 872.3 L1063.3 875.5 L1064.3 882.9 L1065.3 887.8 L1066.3 894.1 L1067.3 902.8 L1068.3 907.3 L1069.3 911.5 L1070.3 908.4 L1071.3 914.4 L1072.3 911.0 L1073.3 906.1 L1074.3 908.5 L1075.3 905.5 L1076.3 899.4 L1077.3 902.4 L1078.3 892.2 L1079.3 895.9 L1080.3 889.7 L1081.3 891.2 L1082.3 887.7 L1083.3 888.9 L1084.3 884.3 L1085.3 885.0 L1086.3 894.1 L1087.3 898.6 L1088.3 903.0 L1089.3 909.9 L1090.3 911.8 L1091.3 922.7 L1092.3 923.1 L1093.3 925.7 L1094.3 926.6 L1095.3 924.0 L1096.3 924.1 L1097.3 918.8 L1098.3 912.7 L1099.3 908.6 L1100.3 903.3 L1101.3 907.6 L1102.3 899.6 L1103.3 899.7 L1104.3 901.5 L1105.3 898.8 L1106.3 899.5 L1107.3 893.9 L1108.3 894.5 L1109.3 896.7 L1110.3 899.8 L1111.3 904.5 L1112.3 905.2 L1113.3 907.4 L1114.3 905.6 L1115.3 905.4 L1116.3 902.6 L1117.3 900.4 L1118.3 895.5 L1119.3 891.8 L1120.3 885.5 L1121.3 883.2 L1122.3 878.3 L1123.3 875.9 L1124.3 870.1 L1125.3 871.9 L1126.3 868.1 L1127.3 870.1 L1128.3 867.2 L1129.3 853.9 L1130.3 845.9 L1131.3 836.7 L1132.3 833.7 L1133.3 837.3 L1134.3 844.6 L1135.3 843.0 L1136.3 845.6 L1137.3 845.5 L1138.3 842.8 L1139.3 848.1 L1140.3 849.2 L1141.3 851.4 L1142.3 852.4 L1143.3 853.0 L1144.3 849.8 L1145.3 851.1 L1146.3 850.7 L1147.3 848.4 L1148.3 853.4 L1149.3 849.6 L1150.3 848.6 L1151.3 850.6 L1152.3 851.4 L1153.3 852.7 L1154.3 860.5 L1155.3 863.2 L1156.3 869.4 L1157.3 874.6 L1158.3 874.8 L1159.3 876.7 L1160.3 873.1 L1161.3 871.6 L1162.3 872.7 L1163.3 877.6 L1164.3 881.8 L1165.3 883.3 L1166.3 880.5 L1167.3 882.9 L1168.3 883.7 L1169.3 881.4 L1170.3 882.7 L1171.3 884.5 L1172.3 889.5 L1173.3 885.5 L1174.3 889.4 L1175.3 890.5 L1176.3 900.2 L1177.3 905.2 L1178.3 904.7 L1179.3 904.1 L1180.3 905.8" fill="none" stroke="#264478" stroke-width="4.2" stroke-linejoin="round" stroke-linecap="round"/>
<line x1="660.2" x2="693.2" y1="1031.8" y2="1031.8" stroke="#4472C4" stroke-width="3.3" stroke-linecap="round"/>
<text x="696.5" y="1036.8" font-size="14.2" textLength="77.12" lengthAdjust="spacingAndGlyphs">USDT-BRENT</text>
<line x1="783.5" x2="816.5" y1="1031.8" y2="1031.8" stroke="#ED7D31" stroke-width="3.3" stroke-linecap="round"/>
<text x="819.8" y="1036.8" font-size="14.2" textLength="65.05" lengthAdjust="spacingAndGlyphs">DAI-BRENT</text>
<line x1="905.2" x2="938.2" y1="1031.8" y2="1031.8" stroke="#A5A5A5" stroke-width="3.3" stroke-linecap="round"/>
<text x="941.5" y="1036.8" font-size="14.2" textLength="69.75" lengthAdjust="spacingAndGlyphs">GLC-BRENT</text>
<line x1="1028" x2="1061" y1="1031.8" y2="1031.8" stroke="#FFC000" stroke-width="3.3" stroke-linecap="round"/>
<text x="1064.3" y="1036.8" font-size="14.2" textLength="69.74" lengthAdjust="spacingAndGlyphs">HGT-BRENT</text>
<line x1="660.2" x2="693.2" y1="1059.6" y2="1059.6" stroke="#5B9BD5" stroke-width="3.3" stroke-linecap="round"/>
<text x="696.5" y="1064.6" font-size="14.2" textLength="79.12" lengthAdjust="spacingAndGlyphs">MNTP-BRENT</text>
<line x1="783.5" x2="816.5" y1="1059.6" y2="1059.6" stroke="#70AD47" stroke-width="3.3" stroke-linecap="round"/>
<text x="819.8" y="1064.6" font-size="14.2" textLength="67.74" lengthAdjust="spacingAndGlyphs">X8X-BRENT</text>
<line x1="905.2" x2="938.2" y1="1059.6" y2="1059.6" stroke="#264478" stroke-width="3.3" stroke-linecap="round"/>
<text x="941.5" y="1064.6" font-size="14.2" textLength="78.46" lengthAdjust="spacingAndGlyphs">XAUR-BRENT</text>
<rect x="2" y="1.8" width="1196.8" height="1079.6" fill="none" stroke="#dedede" stroke-width="1.6"/>
<line x1="600.3" x2="600.3" y1="1" y2="1083" stroke="#dedede" stroke-width="2"/>
<line x1="1" x2="1199" y1="361.4" y2="361.4" stroke="#dedede" stroke-width="2"/>
<line x1="1" x2="1199" y1="721.7" y2="721.7" stroke="#dedede" stroke-width="2"/>
</g></svg></body></html>
